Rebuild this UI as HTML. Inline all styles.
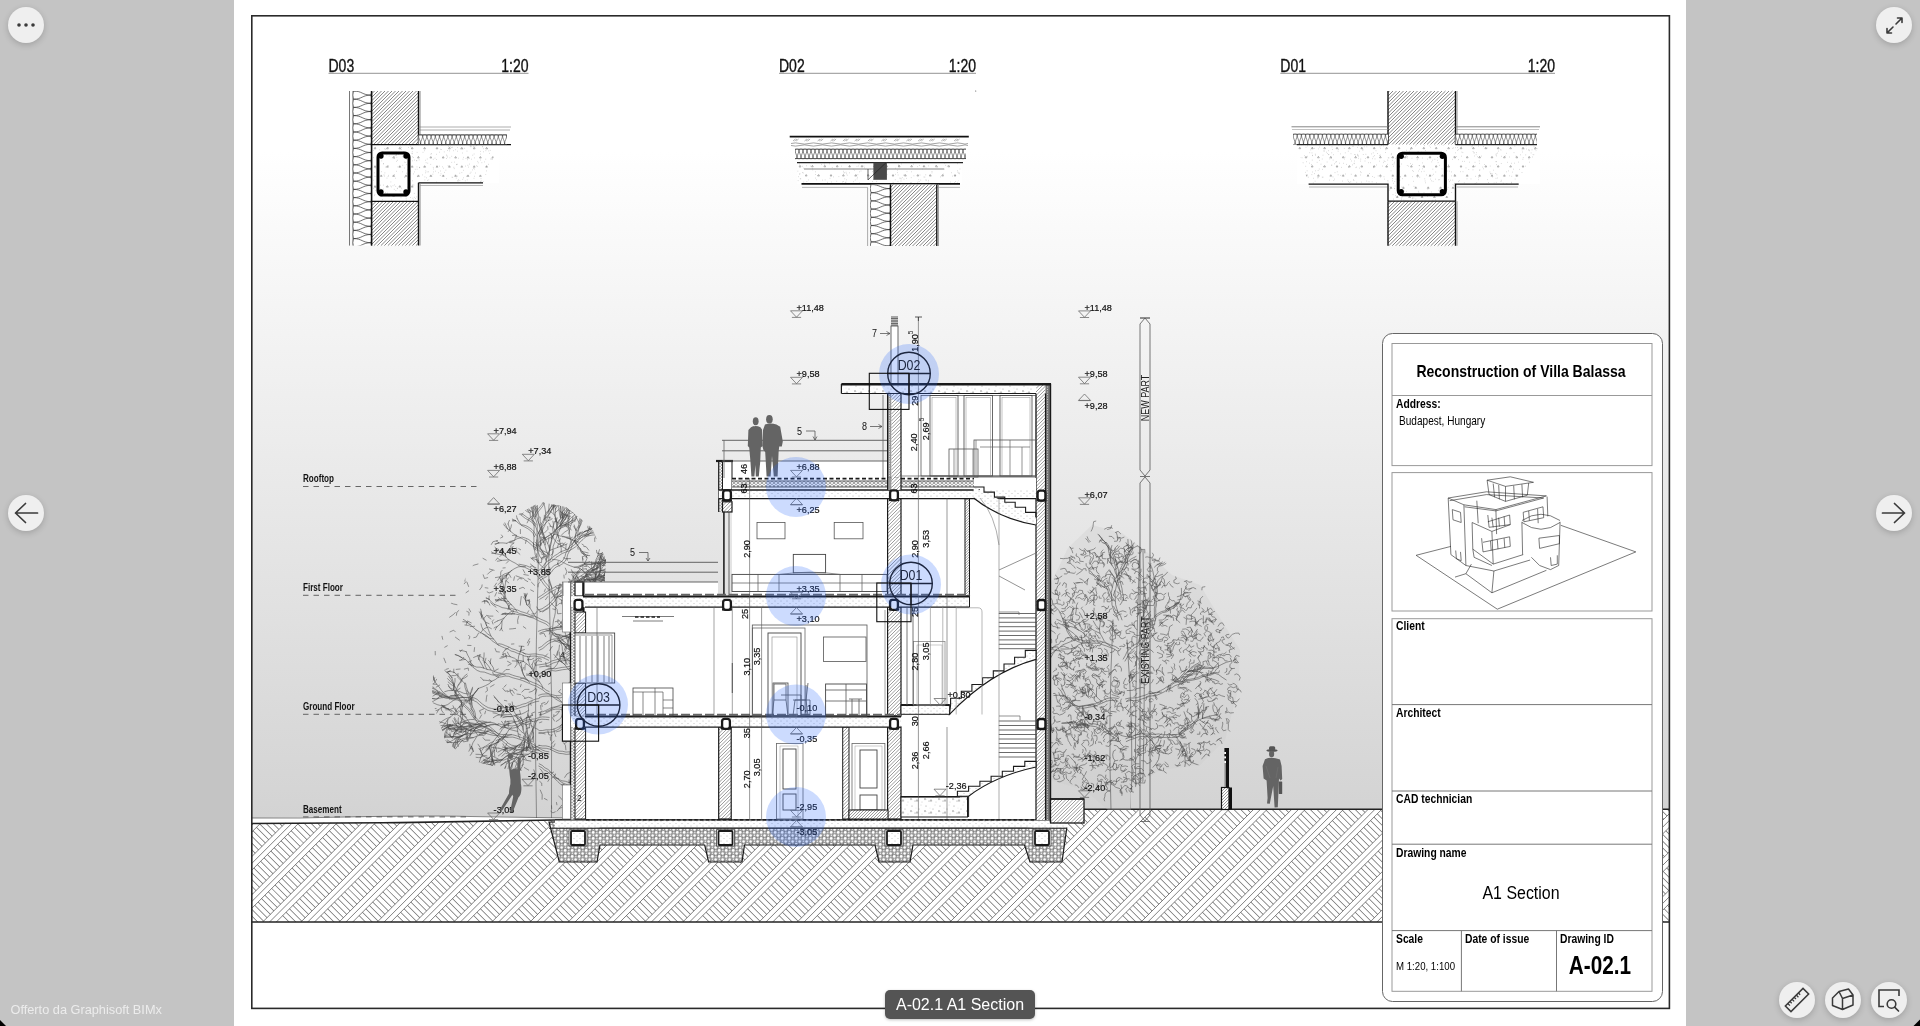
<!DOCTYPE html><html><head><meta charset="utf-8"><title>A-02.1 A1 Section</title><style>
html,body{margin:0;padding:0;width:1920px;height:1026px;overflow:hidden;background:#c4c4c4;font-family:"Liberation Sans",sans-serif;}
#page{position:absolute;left:234px;top:0;width:1452px;height:1026px;background:#fff;}
#dw{position:absolute;left:0;top:0;will-change:transform;}
.btn{position:absolute;width:36px;height:36px;border-radius:50%;background:#efefef;box-shadow:0 2px 6px rgba(0,0,0,0.18);}
.btn svg{position:absolute;left:0;top:0;}
#lbl{position:absolute;left:885px;top:990px;width:150px;height:29px;border-radius:5px;background:#545454;color:#fff;font-size:16px;line-height:29px;text-align:center;box-shadow:0 1px 3px rgba(0,0,0,0.25);}
#credit{position:absolute;left:10.5px;top:1001.8px;font-size:12.75px;color:#ececec;}
#cur{position:absolute;left:0;top:0;}
</style></head><body><div id="page"></div><svg id="dw" width="1920" height="1026" viewBox="0 0 1920 1026" font-family="Liberation Sans, sans-serif">
<defs>
<linearGradient id="sky" x1="0" y1="16" x2="0" y2="818" gradientUnits="userSpaceOnUse">
  <stop offset="0" stop-color="#ffffff"/>
  <stop offset="0.17" stop-color="#ffffff"/>
  <stop offset="1" stop-color="#d3d3d3"/>
</linearGradient>
<pattern id="earth" patternUnits="userSpaceOnUse" width="27" height="27" patternTransform="translate(0 6) rotate(-45)">
  <rect width="27" height="27" fill="#fff"/>
  <path d="M0 0H27M0 4.5H27M0 9H27M0 13.5H27M0 27H27" stroke="#555" stroke-width="0.75"/>
  <path d="M0.90 13.5V27M5.40 13.5V27M9.90 13.5V27M14.40 13.5V27M18.90 13.5V27M23.40 13.5V27" stroke="#555" stroke-width="0.75"/>
</pattern>
<pattern id="hatch" patternUnits="userSpaceOnUse" width="3" height="3" patternTransform="rotate(45)">
  <rect width="3" height="3" fill="#fff"/>
  <path d="M0 1.5H3" stroke="#555" stroke-width="0.8"/>
</pattern>
<pattern id="hatchD" patternUnits="userSpaceOnUse" width="3.2" height="3.2" patternTransform="rotate(45)">
  <rect width="3.2" height="3.2" fill="#fff"/>
  <path d="M0 1.6H3.2" stroke="#444" stroke-width="0.7"/>
</pattern>
<pattern id="dots" patternUnits="userSpaceOnUse" width="6" height="5">
  <rect width="6" height="5" fill="#fff"/>
  <circle cx="1" cy="1" r="0.45" fill="#777"/><circle cx="4" cy="3.5" r="0.45" fill="#888"/>
</pattern>
<pattern id="concrete" patternUnits="userSpaceOnUse" width="14" height="12">
  <rect width="14" height="12" fill="#fff"/>
  <circle cx="2" cy="2" r="0.5" fill="#888"/><circle cx="9" cy="5" r="0.5" fill="#999"/>
  <circle cx="5" cy="9" r="0.5" fill="#888"/><circle cx="12" cy="10" r="0.4" fill="#999"/>
  <circle cx="11" cy="1" r="0.4" fill="#aaa"/><circle cx="6" cy="4" r="0.35" fill="#aaa"/>
  <path d="M7 7.5l1 1.6h-2z" fill="none" stroke="#888" stroke-width="0.5"/>
  <path d="M1 6l1 1.6h-2z" fill="none" stroke="#999" stroke-width="0.5"/>
</pattern>
<pattern id="gravel" patternUnits="userSpaceOnUse" width="7" height="6">
  <rect width="7" height="6" fill="#9c9c9c"/>
  <circle cx="1.6" cy="1.5" r="1.25" fill="#fff"/>
  <circle cx="5.2" cy="4.4" r="1.35" fill="#fff"/>
  <circle cx="5.4" cy="1.2" r="0.7" fill="#eee"/>
  <circle cx="1.8" cy="4.6" r="0.8" fill="#ddd"/>
  <path d="M3.2 3.2l0.8-0.6M0 3l0.6 0.4" stroke="#333" stroke-width="0.5"/>
</pattern>
<pattern id="wave" patternUnits="userSpaceOnUse" width="4.5" height="9">
  <rect width="4.5" height="9" fill="#fff"/>
  <path d="M0 0C4.5 2.2 4.5 6.8 0 9M4.5 0C0 2.2 0 6.8 4.5 9" fill="none" stroke="#444" stroke-width="0.6"/>
</pattern>
<pattern id="waveH" patternUnits="userSpaceOnUse" width="5" height="9">
  <rect width="5" height="9" fill="#fff"/>
  <path d="M0 0.5C1 9 4 9 5 0.5M0 8.5C1 0 4 0 5 8.5" fill="none" stroke="#444" stroke-width="0.55"/>
</pattern>
<pattern id="insul" patternUnits="userSpaceOnUse" width="4" height="3">
  <rect width="4" height="3" fill="#fff"/>
  <ellipse cx="2" cy="1.5" rx="1.5" ry="1.1" fill="none" stroke="#555" stroke-width="0.5"/>
</pattern>
</defs>
<rect x="252" y="16" width="1417" height="802" fill="url(#sky)"/>
<path d="M252 818 L470 816 L560 818 L560 824 L252 823Z" fill="#fff"/>
<clipPath id="gclip"><path d="M252 823 L400 822.4 L570 819.5 L1084 809 L1669 809 L1669 922 L252 922Z"/></clipPath>
<path d="M252 823 L400 822.4 L570 819.5 L1084 809 L1669 809 L1669 922 L252 922Z" fill="#fff"/>
<g clip-path="url(#gclip)"><path d="M110 922L232 800M116.8 922L238.8 800M123.6 922L245.6 800M148.2 922L270.2 800M155 922L277 800M161.8 922L283.8 800M186.4 922L308.4 800M193.2 922L315.2 800M199.9 922L321.9 800M224.6 922L346.6 800M231.3 922L353.3 800M238.1 922L360.1 800M262.7 922L384.7 800M269.5 922L391.5 800M276.3 922L398.3 800M300.9 922L422.9 800M307.7 922L429.7 800M314.5 922L436.5 800M339.1 922L461.1 800M345.9 922L467.9 800M352.7 922L474.7 800M377.3 922L499.3 800M384.1 922L506.1 800M390.9 922L512.9 800M415.5 922L537.5 800M422.3 922L544.3 800M429.1 922L551.1 800M453.7 922L575.7 800M460.4 922L582.4 800M467.2 922L589.2 800M491.8 922L613.8 800M498.6 922L620.6 800M505.4 922L627.4 800M530 922L652 800M536.8 922L658.8 800M543.6 922L665.6 800M568.2 922L690.2 800M575 922L697 800M581.8 922L703.8 800M606.4 922L728.4 800M613.2 922L735.2 800M620 922L742 800M644.6 922L766.6 800M651.4 922L773.4 800M658.2 922L780.2 800M682.8 922L804.8 800M689.5 922L811.5 800M696.3 922L818.3 800M720.9 922L842.9 800M727.7 922L849.7 800M734.5 922L856.5 800M759.1 922L881.1 800M765.9 922L887.9 800M772.7 922L894.7 800M797.3 922L919.3 800M804.1 922L926.1 800M810.9 922L932.9 800M835.5 922L957.5 800M842.3 922L964.3 800M849.1 922L971.1 800M873.7 922L995.7 800M880.5 922L1002.5 800M887.3 922L1009.3 800M911.9 922L1033.9 800M918.6 922L1040.6 800M925.4 922L1047.4 800M950 922L1072 800M956.8 922L1078.8 800M963.6 922L1085.6 800M988.2 922L1110.2 800M995 922L1117 800M1001.8 922L1123.8 800M1026.4 922L1148.4 800M1033.2 922L1155.2 800M1040 922L1162 800M1064.6 922L1186.6 800M1071.4 922L1193.4 800M1078.2 922L1200.2 800M1102.8 922L1224.8 800M1109.6 922L1231.6 800M1116.4 922L1238.4 800M1141 922L1263 800M1147.8 922L1269.8 800M1154.5 922L1276.5 800M1179.1 922L1301.1 800M1185.9 922L1307.9 800M1192.7 922L1314.7 800M1217.3 922L1339.3 800M1224.1 922L1346.1 800M1230.9 922L1352.9 800M1255.5 922L1377.5 800M1262.3 922L1384.3 800M1269.1 922L1391.1 800M1293.7 922L1415.7 800M1300.5 922L1422.5 800M1307.3 922L1429.3 800M1331.9 922L1453.9 800M1338.7 922L1460.7 800M1345.5 922L1467.5 800M1370.1 922L1492.1 800M1376.9 922L1498.9 800M1383.6 922L1505.6 800M1408.2 922L1530.2 800M1415 922L1537 800M1421.8 922L1543.8 800M1446.4 922L1568.4 800M1453.2 922L1575.2 800M1460 922L1582 800M1484.6 922L1606.6 800M1491.4 922L1613.4 800M1498.2 922L1620.2 800M1522.8 922L1644.8 800M1529.6 922L1651.6 800M1536.4 922L1658.4 800M1561 922L1683 800M1567.8 922L1689.8 800M1574.6 922L1696.6 800M1599.2 922L1721.2 800M1606 922L1728 800M1612.7 922L1734.7 800M1637.4 922L1759.4 800M1644.1 922L1766.1 800M1650.9 922L1772.9 800M1675.5 922L1797.5 800M1682.3 922L1804.3 800M1689.1 922L1811.1 800" stroke="#555" stroke-width="0.75"/><path d="M135.9 922L257.9 800M174.1 922L296.1 800M212.3 922L334.3 800M250.5 922L372.5 800M288.6 922L410.6 800M326.8 922L448.8 800M365 922L487 800M403.2 922L525.2 800M441.4 922L563.4 800M479.6 922L601.6 800M517.7 922L639.7 800M555.9 922L677.9 800M594.1 922L716.1 800M632.3 922L754.3 800M670.5 922L792.5 800M708.7 922L830.7 800M746.8 922L868.8 800M785 922L907 800M823.2 922L945.2 800M861.4 922L983.4 800M899.6 922L1021.6 800M937.8 922L1059.8 800M975.9 922L1097.9 800M1014.1 922L1136.1 800M1052.3 922L1174.3 800M1090.5 922L1212.5 800M1128.7 922L1250.7 800M1166.9 922L1288.9 800M1205 922L1327 800M1243.2 922L1365.2 800M1281.4 922L1403.4 800M1319.6 922L1441.6 800M1357.8 922L1479.8 800M1396 922L1518 800M1434.1 922L1556.1 800M1472.3 922L1594.3 800M1510.5 922L1632.5 800M1548.7 922L1670.7 800M1586.9 922L1708.9 800M1625.1 922L1747.1 800M1663.3 922L1785.3 800M1701.4 922L1823.4 800" stroke="#666" stroke-width="17.6" stroke-dasharray="0.7 4.1"/></g>
<path d="M252 823.5 L400 822.6 L570 819.8" fill="none" stroke="#222" stroke-width="1.6"/>
<path d="M252 818 L300 818 Q420 815 470 816.5 L570 818" fill="none" stroke="#666" stroke-width="0.8"/>
<path d="M1084 809.2 L1669 809.2" fill="none" stroke="#222" stroke-width="1.5"/>
<path d="M252 922 H1669" stroke="#222" stroke-width="1.5"/>
<clipPath id="tc11"><path d="M540 502L566 507L592 528L606 560L604 590L575 600L575 818L530 818L530 772L500 768L470 760L446 742L432 700L434 650L450 605L476 560L505 522Z"/></clipPath>
<g clip-path="url(#tc11)" fill="none" stroke="#4a4a4a" stroke-width="0.55" stroke-linecap="round" stroke-linejoin="round"><path d="M545.7 513.1L549 509.9L551.8 506.1M551.8 506.1L554 506L556.2 506.3M551.8 506.1L553.3 505.1L554.9 504.1M545.3 520.7L545.3 516.9L545.7 513.1L545.2 509.4L544.5 505.6L543.3 502L542.7 498.3M540.9 488.3L542.1 486.1L542.6 483.8M542.7 498.3L541.5 493.3L540.9 488.3M540.9 488.3L541.4 486.1L542 484M540.9 488.3L540 486.1L538.9 484.1M556 505L557.7 505.1L559.4 505.3M551.1 510.2L553.7 507.7L556 505M556 505L557.3 504L558.2 502.8M556 505L556.2 503.4L556.6 501.8M560 498L561.2 497.5L562.4 497.2M555.4 502.8L557.6 500.3L560 498M560 498L561 496.8L562 495.7M560 498L561.5 497L563.1 496.3M546.2 517.1L549.1 514L551.1 510.2L553.4 506.6L555.4 502.8M555.4 502.8L556.4 499.2L556.9 495.5M556.9 495.5L556.8 493.8L557.1 492.1M552.9 494.2L554.7 494.1L556.5 494.3M549.4 502.9L551.3 498.6L552.9 494.2M552.9 494.2L554.3 492.9L555.6 491.5M552.9 494.2L552.9 492.3L553 490.4M548 513.8L548.8 510.2L548.9 506.5L549.4 502.9L550.3 499.3L551.2 495.7L551.9 492.1M551.9 492.1L549.8 489L548.7 485.5L547.6 481.9M547.6 481.9L548 479.6L548.6 477.4M547.6 481.9L547.9 478.9L549 476M550.9 482.1L549.5 481.1L548.4 479.7M551.9 492.1L551.3 487.1L550.9 482.1M550.9 482.1L550.9 479.7L551.5 477.3M550.9 482.1L549.6 479.7L547.9 477.5M561.4 494.2L562.3 493.4L563.2 492.6M558.8 499.9L560.2 497.1L561.4 494.2M561.4 494.2L562.4 493.1L563.6 492.1M553.1 503.9L556.2 502.3L558.8 499.9L560.8 497L562.1 493.7L563.2 490.4M568 484.1L568 482.6L567.7 481.2M563.2 490.4L565.1 486.9L568 484.1M568 484.1L569.4 482.8L570.6 481.3M568 484.1L569 482.4L569.5 480.5M561.4 482.9L565.6 483.1L569.7 483.1M569.7 483.1L571.7 482.3L573.7 481.6M569.7 483.1L571.3 483.7L572.9 484.2M560.7 472.6L559.9 469.9L559.8 467.2M563 479.5L562.4 475.9L560.7 472.6L559 469.2M559 469.2L557.6 466.9L555.8 464.9M556 497L556.6 493.3L558 489.8L559.7 486.4L561.4 482.9L563 479.5L563.7 475.8M563.7 475.8L560.9 472L557.4 468.8M557.4 468.8L555.6 467.1L553.3 465.9M564.8 464.1L564.2 461.8L562.9 459.7M563.7 475.8L564.6 472L564.5 468L564.8 464.1M564.8 464.1L563.7 462L563 459.7M557.1 483L553.9 479.9L550.7 476.8M550.7 476.8L549.2 475.4L547.5 474.4M550.7 476.8L549.1 475.1L547.4 473.4M556.1 479.1L558.8 475.4L560.3 471.2M560.3 471.2L561.6 469L563.4 467.3M560.3 471.2L562 469.4L563.2 467.3M559.9 490.7L558 487.1L557.1 483L556.1 479.1L554.3 475.4L553.1 471.4M553.1 471.4L551.5 468.2L549.9 465L549 461.5M549 461.5L550.3 459.1L552.1 456.9M549 461.5L549.5 458.9L550.3 456.3M553.1 471.4L550.7 467.8L549.3 463.8M549.3 463.8L547.7 462.4L546.6 460.5M549.3 463.8L548.1 461.9L546.8 460.1M540.2 534.8L541.9 531.5L543.4 528.1L545.1 524.7L546.5 521.3L547.3 517.6L549.2 514.4L551.2 511.2L553.1 508L554.2 504.4L555.9 501.1L557.1 497.6L558.7 494.2L561.1 491.3M538.1 533.8L539.8 530.5L541.3 527.1L543 523.7L544.4 520.3L545.2 516.6L547 513.4L549.1 510.2L551 507L552.1 503.4L553.8 500.1L555 496.6L556.6 493.2L559.9 490.7M584.2 480.3L585.7 481.5L587.3 482.5M576.7 478.3L580.4 479.6L584.2 480.3M584.2 480.3L585.8 481.4L587.2 482.8M559.9 490.7L562.5 488.3L565 485.9L567.9 484L570.8 482L574 480.5L576.7 478.3M576.7 478.3L580 476.8L583.2 474.9L586.5 473.3M586.5 473.3L588.7 472.1L590.8 470.5M582.4 473.5L585.2 473.3L588 473.8M576.7 478.3L579.3 475.6L582.4 473.5L586 472.3M586 472.3L588.2 472.9L590.4 473.6M586 472.3L588.4 472.2L590.8 471.8M580 485.6L582.8 482.8L585.8 480.3M585.8 480.3L586.3 478.3L586.3 476.3M585.8 480.3L587.3 478.8L588.5 477.1M559.9 490.7L563.9 489.6L568 488.7L571.8 486.9L575.8 486L580 485.6M580 485.6L584.1 483.1L588.7 481.8M588.7 481.8L591.3 481.5L593.7 480.6M588.7 481.8L590.8 481.7L593 481.9M580 485.6L584.3 487.7L587.9 490.9M587.9 490.9L590.2 491.8L592.6 492M587.9 490.9L588.9 493.1L589.6 495.4M555.9 521.7L556 519.9L556.1 518M557 529L556.8 525.3L555.9 521.7M555.9 521.7L556.6 519.8L557.2 517.9M555.9 521.7L555.5 520.1L555 518.5M559.8 526L561.5 521.5L562.8 516.9M562.8 516.9L563.5 514.4L564.8 512.2M562.8 516.9L562.7 514.3L562 511.8M544.3 539.4L547.4 536.7L550.7 534.2L554.2 532L557 529L559.8 526M563.7 518L564.5 515.9L565.1 513.7M559.8 526L561.2 521.7L563.7 518M563.7 518L565 516.3L566.7 515M559.8 526L562.7 522.8L565.3 519.3M565.3 519.3L566.4 517.5L567.2 515.5M565.3 519.3L565.9 517.6L567 516.2M574.8 540.7L575 542.3L575.7 543.8M566.7 537.8L570.9 538.9L574.8 540.7M574.8 540.7L576.4 541.7L578.2 542.4M574.8 540.7L576.6 541.2L578.3 541.3M553.3 533.9L556.7 534.7L560 536L563.5 536.4L566.7 537.8L570 539L573 540.7L575.9 542.7M582.9 553.6L585.4 554.5L587.9 555.4M575.9 542.7L578.3 546.3L580.2 550.2L582.9 553.6M582.9 553.6L585.2 555.5L587.2 557.8M582.9 553.6L584.8 555.4L586.9 557M580.3 548.5L580.7 551L581.7 553.2M575.9 542.7L577.9 545.8L580.3 548.5L582.3 551.6M582.3 551.6L585.2 552.2L588.1 552.9M582.3 551.6L584.2 553.2L585.9 554.9M592 508.6L593.3 509.2L594.5 510.1M584.7 512.3L588.1 510L592 508.6M592 508.6L593.2 507.2L594.5 505.7M592 508.6L593.2 507.3L594.7 506.1M595.9 510.2L600.3 511L604.8 510.9M604.8 510.9L606.8 509.5L608.8 508.2M577.2 513.5L580.9 512.6L584.7 512.3L588.4 511.3L592.2 511.1L595.9 510.2M603.7 509.7L604.7 511L605.4 512.4M595.9 510.2L599.8 510.4L603.7 509.7M603.7 509.7L605.3 508.9L606.8 508.1M603.7 509.7L605.4 509.3L606.9 508.4M595.9 510.2L600.3 508.1L604.8 506.2M604.8 506.2L606.8 506.6L608.7 507.5M604.8 506.2L606.8 505L609.1 504.3M586.4 484.9L588.3 485.6L590.2 486.4M580.6 489L583.5 486.9L586.4 484.9L589.5 483M589.5 483L592.1 482L594.4 480.4M589.5 483L592.2 482.2L595 481.9M579.9 511.1L580.4 507.4L580 503.7L579.9 500L579.4 496.3L579.9 492.6L580.6 489L580.8 485.2M580.8 485.2L580.2 481.6L580.7 478L580.4 474.3M580.4 474.3L580.6 471.6L580.2 469M578 475L579 473.3L580.4 471.9M580.8 485.2L579.6 481.9L578.2 478.6L578 475M578 475L577.3 472.5L576 470.3M578 475L578.3 472.5L577.8 470.1M540 544.8L542.4 542.1L545.3 540.2L548.3 538.3L551.5 536.9L554.3 534.7L556.4 531.9L559 529.4L561.7 527.2L564.6 525.1L567.8 523.6L570.7 521.6L573.1 519L576 516.9L578.2 514.2L580.9 511.9M538.2 543.4L540.5 540.7L543.5 538.8L546.5 536.9L549.7 535.4L552.5 533.3L554.6 530.4L557.1 528L559.9 525.7L562.7 523.7L566 522.2L568.8 520.2L571.2 517.6L574.1 515.5L576.4 512.8L579.9 511.1M601.1 487L602.7 486.4L604.4 486M594.7 492.4L598.2 490L601.1 487M601.1 487L602.5 485.5L604.2 484.3M601.1 487L602.7 486.1L604.3 485.5M579.9 511.1L581.7 507.5L584.3 504.5L587 501.6L589.1 498.1L592.1 495.4L594.7 492.4M597.2 485.7L599.3 484.6L601.6 483.9M594.7 492.4L595.5 488.9L597.2 485.7L599.8 483.2M599.8 483.2L602.1 483L604.4 483.4M599.8 483.2L601.1 481.4L602.5 479.6M594.7 492.4L596.7 488.9L597.9 485.2L599.6 481.5M599.6 481.5L600.4 478.7L600.6 475.8M586.6 508.5L588.8 505.8L591 503L592.6 499.8M592.6 499.8L594.6 498.2L596.8 496.9M603.6 506.3L605.5 505L607.1 503.2M593.4 505.8L598.5 506.5L603.6 506.3M603.6 506.3L606.2 507L609 507.3M603.6 506.3L606 506.9L608.2 508.1M596.2 503.6L596.3 500L596.9 496.5L598.1 493.1M598.1 493.1L600.2 491.7L602.7 490.9M579.9 511.1L583.1 509.6L586.6 508.5L590 507.3L593.4 505.8L596.2 503.6L599.4 501.9L602.1 499.5L605.1 497.3M607.1 490.5L606.3 488L605.3 485.5M605.1 497.3L606.3 494L607.1 490.5L608.5 487.2L610.4 484.2M610.4 484.2L613.4 482.1L616 479.4M610.4 484.2L613.1 482.2L616 480.4M608.5 490.4L607.6 486.7L606.8 483.1M605.1 497.3L606.7 493.8L608.5 490.4L610.2 486.8L611.8 483.3M611.8 483.3L612.6 480.3L613.8 477.3M611.8 483.3L613.1 479.9L614.8 476.7M550 555.2L547.1 552.8L543.7 551.2L540.6 549L538 546.3L534.6 544.6L531.8 542L528.9 539.6L525.5 538.1L521.9 537M548.2 556.7L545.3 554.3L541.9 552.6L538.8 550.5L536.2 547.8L532.8 546.1L530 543.5L527.1 541.1L523.7 539.5L520.9 537.8M510.5 531.3L509.4 527.7L508.1 524M508.1 524L508.6 522.1L509.4 520.4M520.9 537.8L517.1 536.2L513.7 533.9L510.5 531.3L507.4 528.7M502.9 522.9L501.4 522.4L499.9 522.4M507.4 528.7L504.7 526.1L502.9 522.9M502.9 522.9L501.5 522.3L499.9 521.9M502.9 522.9L502.6 521.2L501.9 519.7M507.4 528.7L505.8 525L504 521.3M504 521.3L504.5 519.2L505.4 517.3M520.9 537.8L517.2 538.7L513.8 540.5L510.1 541.4L506.8 543.3M498.8 542.9L497.7 541.8L496.3 541M506.8 543.3L502.9 542.9L498.8 542.9M498.8 542.9L497 543.5L495 543.8M498.8 542.9L497 543.6L495.2 544.5M584.6 563.5L585.8 561.1L586.9 558.7M574.2 567.2L577.8 566.6L581.2 565.1L584.6 563.5M584.6 563.5L587.5 564.1L590.4 564.4M584.6 563.5L587.2 562.8L589.5 561.7M584.7 564.6L587.9 566.2L590.6 568.5M578 567.8L581.2 566L584.7 564.6L588.4 564.3L592.1 564.2M592.1 564.2L595 563.6L598 563.6M592.1 564.2L595.5 563L598.8 561.6M552.4 559.4L556.3 559.7L560 560.8L563.5 562.6L566.9 564.4L570.5 565.9L574.2 567.2L578 567.8L581.5 569.5M590.2 581.6L589.4 585L588.5 588.3M581.5 569.5L584.6 571.9L587.2 574.6L589.1 578L590.2 581.6M590.2 581.6L590.3 585.1L591.3 588.4M590.2 581.6L589.9 585.3L590.7 588.8M586.2 575L586.8 578.1L588.2 580.9M581.5 569.5L584.3 571.9L586.2 575L589 577.4L592 579.3M592 579.3L594.1 581.8L595.7 584.5M592 579.3L595 581.9L597.7 584.7M560.5 545.2L557.2 543.1L554.7 540.1L552.7 536.8M552.7 536.8L551.2 534.6L549.4 532.6M553.2 526.7L553.9 524.2L554.5 521.6M558.7 537.8L557 534L554.8 530.5L553.2 526.7M553.2 526.7L553.4 523.9L552.9 521.2M555.3 512.6L557.3 510.8L559.3 509.1M557.2 522.8L555.7 519.6L555.2 516.1L555.3 512.6L555.5 509M555.5 509L554.4 506.1L553.1 503.3M555.5 509L557.2 506.5L558.6 503.8M561.1 552.7L561.3 548.9L560.5 545.2L559.7 541.4L558.7 537.8L558 534L556.8 530.4L556.9 526.6L557.2 522.8M564.6 515L567.6 515.8L570.6 516.2M557.2 522.8L559.3 519.9L562 517.5L564.6 515L566.8 512.1M566.8 512.1L566.8 508.9L566.6 505.8M554.5 515.2L552.2 512.7L549.3 510.9M557.2 522.8L556 519L554.5 515.2L553.6 511.3L553.3 507.3M553.3 507.3L552.9 503.9L553 500.5M576 530.2L577.2 527.8L578.7 525.6M574.8 541L575.2 537.4L576 533.8L576 530.2M576 530.2L575 527.6L574.2 525M576 530.2L574.7 528.3L573.8 526.3M578.1 539.2L581.2 535.4L584.3 531.6M584.3 531.6L586.3 531L588.3 530.6M584.3 531.6L586.7 530.4L589.2 529.7M589 529.2L589.6 527.1L589.8 525M585.1 535.9L587.4 532.7L589 529.2L591.3 526M591.3 526L592.1 523.1L592.8 520.1M568 550.2L569.5 546.6L572 543.7L574.8 541L578.1 539.2L581.6 537.5L585.1 535.9L588.6 534.2M588.6 534.2L592.3 532.5L596 530.7L599.9 529.3M599.9 529.3L601.8 526.6L603.1 523.6M599.9 529.3L601.3 526.9L602.6 524.5M588.6 534.2L591.4 531.8L594.2 529.5L597.3 527.5M597.3 527.5L598.5 525.3L600 523.3M597.3 527.5L599.1 525.9L600.7 523.9M598.4 528.3L600.3 527.4L602.1 526.5M595.8 534.8L597.6 531.8L598.4 528.3L599.2 524.8M599.2 524.8L599.3 521.9L600.2 519.2M610.6 523.6L613 522.1L614.9 520M603.2 534.2L606.2 531.1L608.8 527.6L610.6 523.6M610.6 523.6L613.4 522.6L616.1 521.4M610.6 523.6L613.4 521.9L616.4 520.7M610.7 534L614.7 534.9L618.1 537L621 539.9M621 539.9L623.3 541.5L625.5 543.2M621 539.9L622.1 542.6L623.3 545.3M584.6 536L588.4 535.9L592 535.1L595.8 534.8L599.5 534.7L603.2 534.2L607 533.8L610.7 534M621.5 537.9L623.1 539.7L624.5 541.8M610.7 534L614 536.1L617.6 537.5L621.5 537.9M621.5 537.9L624 537.3L626.6 537.5M610.7 534L613.5 536.2L616.2 538.5L619.4 540.2L622.4 542.1M622.4 542.1L625.8 543.9L629.7 544.7M622.4 542.1L624.8 544.8L627.9 546.7M540 572.3L543 570.2L545.2 567.3L547.3 564.3L550.2 562L553.4 560.2L555.9 557.5L559.1 555.6L562.1 553.5L565.5 552.2L569 551L572.1 549.1L575.2 547.1L578 544.7L580.2 541.8L583 539.5L585.6 536.9L588.9 535.1M538.2 570.8L541.2 568.7L543.4 565.8L545.5 562.8L548.4 560.5L551.6 558.7L554.1 556L557.3 554.2L560.2 552L563.7 550.7L567.2 549.5L570.3 547.7L573.4 545.6L576.2 543.2L578.4 540.3L581.2 538L583.8 535.4L587.9 534.3M609 528L611.5 529.3L613.6 531.1M601.7 531.7L605.2 529.5L609 528L613.1 527.4M613.1 527.4L615.3 529.2L616.9 531.6M613.1 527.4L615.2 524.9L618 523.2M605.2 532.1L608.2 535.1L611.9 537.1L615.9 538.4M615.9 538.4L618.4 539.9L621.1 540.8M615.9 538.4L618.8 539.2L621.8 539.7M587.9 534.3L591.2 533.3L594.7 532.9L598.2 532.1L601.7 531.7L605.2 532.1L608.7 532.1L612.1 533.2L615.5 534.3L618.9 534.9M618.9 534.9L622.9 532.9L626.4 530.3L630.1 527.7M630.1 527.7L633.1 526.7L636.2 525.6M630.1 527.7L633.3 527.7L636.6 527.4M618.9 534.9L623 536.2L627.1 537.5L631.3 538.2L635.6 538.3M635.6 538.3L639.9 540L644.6 540.6M635.6 538.3L639.2 539L642.9 539.1M538.9 563.3L537.5 561.2L536.2 559.1M544.6 568.5L541.5 566.2L538.9 563.3L536.8 560.1M536.8 560.1L534.2 558.9L531.5 558.3M546.3 561.1L544.4 556.3L542.7 551.4M542.7 551.4L540.5 550L538.8 548.1M546.5 557.2L544.2 553.8L541.5 550.6L540 546.8M540 546.8L537.3 544.7L535.1 542.2M540 546.8L540.5 543.6L540.9 540.5M547.7 553.6L546.1 550L545.1 546.1L543.7 542.4M543.7 542.4L541.9 539.9L540.8 537M543.7 542.4L543.2 539.7L543.2 537M557.5 547.5L558 545.3L558.9 543.3M561.4 546.1L563.2 544.3L565.2 542.7M549.8 550.3L553.7 549L557.5 547.5L561.4 546.1M561.4 546.1L564.3 545.1L567.1 543.9M561.4 546.1L564 547.6L566.4 549.3M545 576.2L545.1 572.3L544.6 568.5L545 564.7L546.3 561.1L546.5 557.2L547.7 553.6L549.8 550.3M549.8 550.3L550.4 546.4L551.4 542.6L551.4 538.7M551.4 538.7L551.5 535.9L551 533.2M551.4 538.7L552.7 536.6L553.7 534.4M547.7 543.6L548.5 540.8L548.9 537.8M549.8 550.3L548.9 546.9L547.7 543.6L546.2 540.4L544.1 537.5M544.1 537.5L542.5 535L541.6 532M544.1 537.5L543.4 533.7L542 530.1M569.1 533.7L569.6 529.8L570.5 526.1L572.1 522.5M572.1 522.5L572.2 519.6L573 516.9M571.2 544.2L570.9 540.7L570 537.2L569.1 533.7L569.1 530.1L568.3 526.6L568.3 523.1L569.1 519.6L568.8 516L569.3 512.4M572.3 504.6L574.2 501.6L576.1 498.5M573.7 496.2L574.8 493.4L576.3 490.6M569.3 512.4L571.1 508.6L572.3 504.6L572.8 500.4L573.7 496.2M573.7 496.2L575.9 492.2L579.1 488.8M573.7 496.2L573.1 491.7L572.2 487.3M578.9 527.8L578.8 523.2L579.9 518.7L581.5 514.5M581.5 514.5L582.1 511.2L583 508M580.2 524.3L577.8 520.5L575.7 516.5L573.4 512.6M573.4 512.6L572.4 509.9L571.8 507.2M573.4 512.6L570.8 511.1L568.1 510.1M585.7 500.9L584.8 497.3L583 494.1M581.2 516.9L582.5 513L584.2 509.2L585.1 505.1L585.7 500.9M585.7 500.9L584.6 496.9L584.4 492.8M585.7 500.9L586 496.6L586.9 492.3M590.4 497.1L593.4 496.4L596.3 495.2M581.2 509.5L583.1 506.2L585.2 502.9L588 500.2L590.4 497.1M590.4 497.1L592.9 494.8L595.4 492.3M590.4 497.1L591.1 493.8L591.7 490.6M579.9 506L576.9 503.4L574.1 500.6L570.6 498.7M570.6 498.7L567.8 498.3L565 497.9M570.6 498.7L567.6 498.1L564.9 496.6M574.9 538.2L575.6 534.5L577.3 531.2L578.9 527.8L580.2 524.3L580.6 520.6L581.2 516.9L581.6 513.2L581.2 509.5L579.9 506M568.4 496.1L565 495.5L561.7 494.3M579.9 506L577.5 503.1L574.7 500.5L571.7 498L568.4 496.1M568.4 496.1L565.5 495L562.4 494.5M568.4 496.1L566.6 493.3L564.1 491.1M581.9 521.1L580.8 516.7L580.7 512.1L579.8 507.7M579.8 507.7L579.2 504.9L577.9 502.3M593.9 508L596.2 506L597.9 503.4M596.9 505.6L599.6 505.9L602.4 505.6M583.8 513.5L587.1 511.6L590.6 510L593.9 508L596.9 505.6M596.9 505.6L600 504.1L603.1 502.4M596.9 505.6L599.8 504.3L602.9 503.7M577.7 536L578 532.1L579 528.3L580.8 524.8L581.9 521.1L582.4 517.2L583.8 513.5L584.5 509.6L585 505.7M590.1 499L590.3 495.6L590.1 492.2M594.8 492L598.2 489.6L601.9 487.7M585 505.7L587.9 502.6L590.1 499L592.9 495.8L594.8 492M594.8 492L598.6 490.5L601.8 487.8M589.6 498.8L591.8 496.7L593.3 494M585 505.7L587.4 502.4L589.6 498.8L590.5 494.7L591.3 490.6M591.3 490.6L593.8 487.5L596.3 484.4M591.3 490.6L593.7 487.2L596.2 483.8M595.6 524.6L595.3 519.6L594.6 514.6M594.6 514.6L593.7 512.5L592.5 510.5M594.6 514.6L596 512.2L597.7 510.1M613.6 521.1L614.8 523.7L615.7 526.5M601.4 520.4L605.5 520.6L609.6 520.2L613.6 521.1M613.6 521.1L616.5 522.7L618.8 525M613.6 521.1L616.5 522.2L619.3 523.5M614.7 513.4L616.2 511.2L618.2 509.5M618.7 512.8L620.6 511.5L622.7 510.5M607 515.9L610.8 514.4L614.7 513.4L618.7 512.8M618.7 512.8L621.4 514.3L623.8 516.3M587.5 531.6L590 529.1L593.1 527.2L595.6 524.6L598.5 522.4L601.4 520.4L604.2 518.1L607 515.9L610 513.9M610 513.9L613.4 512L616.3 509.3L619.4 506.8M619.4 506.8L622.2 505.6L625.1 504.8M615.2 508.7L616.6 505.4L618.7 502.5M618.2 506.6L618.8 503.1L618.5 499.5M610 513.9L612.9 511.6L615.2 508.7L618.2 506.6L621.6 505.2M621.6 505.2L624.6 504.8L627.5 503.7M540 580.7L542.8 578.5L546.1 577L548.8 574.7L551.4 572.2L553.4 569.3L556.1 567L559.4 565.6L562.5 563.8L565.1 561.3L566.8 558.2L567.6 554.7L569.2 551.5L571.1 548.5L572.2 545.1L573.8 541.8L575.9 539L578.7 536.8L582 535.4L585.3 534L588.5 532.4L591.4 530.3M538.2 579.3L541 577L544.2 575.6L547 573.2L549.5 570.8L551.6 567.8L554.3 565.5L557.6 564.1L560.7 562.4L563.2 559.9L564.9 556.7L565.8 553.2L567.4 550.1L569.3 547L570.3 543.6L571.9 540.4L574 537.5L576.9 535.3L580.2 534L583.4 532.5L586.6 530.9L590.4 529.5M602.3 505.6L601.5 502.3L599.8 499.3M601.6 519.4L602.4 516L603.1 512.5L603.2 509L602.3 505.6M602.3 505.6L601.9 502.7L601.3 499.7M602.3 505.6L601.2 502.1L600.2 498.6M602.3 504.9L601.6 502.2L600.1 499.8M605.9 513.1L604 509L602.3 504.9L602 500.4M602 500.4L602.2 497.6L602.7 494.9M602 500.4L603.5 497L604.2 493.4M613.6 504.8L615.8 501.2L616.8 497.2L617.4 493L617 488.9M617 488.9L617 484.3L618 479.8M617 488.9L615.4 485.6L614.7 482M615.9 501.8L620.3 500.8L624.8 500.9L629.2 500.2M629.2 500.2L631.8 502L634.5 503.6M629.2 500.2L632.3 500L635.4 499.8M590.4 529.5L593.3 527L596.6 525.2L599.3 522.4L601.6 519.4L603.7 516.2L605.9 513.1L608 509.9L610.5 507L613.6 504.8L615.9 501.8M624 501L625.4 498.2L626.2 495.3M615.9 501.8L620 501.4L624 501L628 501.2L632 501.4M632 501.4L635.1 502.5L637.9 504.3M632 501.4L635.9 502.4L639.9 502.4M623.1 492.9L624.5 488.6L624.9 484.1M626.4 490.9L630.5 492.3L634.7 493.3M615.9 501.8L617.8 498.4L620.2 495.4L623.1 492.9L626.4 490.9L629.4 488.5M629.4 488.5L631.6 485.7L634.2 483.4L637 481.4M629.4 488.5L632.8 486L635.8 483.1M613.5 516.4L617.5 516.8L621.5 517M617.2 514.8L619.6 512.7L621.8 510.5M607.4 521.7L610.4 518.9L613.5 516.4L617.2 514.8L620.7 512.7M620.7 512.7L623.9 512.6L627.2 512.4M620.7 512.7L623.6 510.6L627 509.5M624.7 519.5L627.4 518.8L630.1 518.9M611.2 522.1L615.5 520.4L620.1 520L624.7 519.5M624.7 519.5L628.4 519.2L632 518.9M624.7 519.5L628.4 519.8L632.1 519M590.4 529.5L593.9 528L597 525.9L600.3 524L603.7 522.3L607.4 521.7L611.2 522.1L614.9 523.1L618.5 524.1L622.3 524.9L626 524.6M632.8 526.4L635.2 528.7L638 530.5M642.5 530.5L644.3 533.2L646.7 535.2M626 524.6L629.5 525.1L632.8 526.4L636.1 527.6L639.3 529L642.5 530.5M642.5 530.5L645.8 531.8L649.1 532.8M632.9 519.8L637.3 521.2L641.8 522M636.6 518L638.3 514.1L639.4 510M640.2 515.8L644.5 516.8L648.7 518.2M642.9 512.7L644.3 507.9L645.3 503.1M626 524.6L629.7 522.5L632.9 519.8L636.6 518L640.2 515.8L642.9 512.7M642.9 512.7L646.1 510.7L648.8 508.2L651.1 505.3M642.9 512.7L646.4 509.5L650 506.4M511.8 570.3L509.2 573.1L506.5 575.6M506.5 575.6L506.5 577.2L506.1 578.8M506.5 575.6L505.5 577.3L504.4 578.9M525.4 566.6L521.8 566.4L518.2 566.9L514.9 568.4L511.8 570.3L508.9 572.5M508.9 572.5L505.7 575.5L502.9 579M502.9 579L501.5 580L500.1 581.2M502.9 579L501.7 580.7L500.8 582.6M508.9 572.5L504.2 574.1L500.1 576.8M500.1 576.8L498.9 578.7L497.7 580.4M500.1 576.8L497.8 577.2L495.4 577.6M549.9 588.1L547.7 585.2L545.2 582.4L543.1 579.4L541.1 576.3L538.4 573.8L535.9 571.1L532.7 569.3L529.7 567.2L526.3 565.7L522.7 564.9L519.1 564.2M548.3 589.7L546 586.8L543.6 584.1L541.5 581L539.4 577.9L536.7 575.4L534.3 572.7L531.1 570.9L528 568.8L524.7 567.3L521 566.6L518.2 565.1M508.9 559.7L505 560.2L501.2 560.4M501.2 560.4L499.3 561L497.3 561.2M501.2 560.4L499.3 559.6L497.8 558.2M503.5 551.5L502.3 551.4L501 551.1M506.2 557.2L505.2 554.2L503.5 551.5M503.5 551.5L502.4 550.8L501.2 550.4M503.5 551.5L503.2 550L502.9 548.5M518.2 565.1L515.2 563.1L512 561.5L508.9 559.7L506.2 557.2L503.4 555M503.4 555L499.4 554.4L495.4 553.6M495.4 553.6L493.6 553.4L491.9 553.5M495.4 553.6L493.3 552.9L491.4 551.9M503.4 555L500.4 552.5L498.2 549.2M498.2 549.2L496.4 548.5L494.9 547.2M576.6 590.6L578 592.9L578.9 595.4M568.1 583.8L571.4 585.5L573.9 588.1L576.6 590.6L579.4 593M579.4 593L582.8 593.7L586 595M579.4 593L582.4 594.6L585.3 596.2M584.9 577.4L586.5 573.7L588.4 570.1M592.2 570.1L595.4 568.9L598.7 567.5M578.9 581.1L581.8 579L584.9 577.4L588 575.7L590.4 573.2L592.2 570.1M592.2 570.1L591.3 566L591.5 561.9M599.1 578.8L602.8 580.1L606.5 581.4M582.2 579.2L586.4 579.5L590.7 580L594.9 579.5L599.1 578.8M599.1 578.8L602.6 576L605.3 572.5M599.1 578.8L602.2 577.3L604.8 575.1M597.3 563.5L601.4 563.7L605.4 562.8M585.2 577.1L586.8 573.7L589.1 570.9L591.9 568.4L594.3 565.6L597.3 563.5M597.3 563.5L599.6 560.1L601.1 556.2M597.3 563.5L601.7 562.2L605.6 559.8M561 585.7L564.4 584.2L568.1 583.8L571.8 583.2L575.3 581.9L578.9 581.1L582.2 579.2L585.2 577.1L588.8 575.9L592.4 575.1L596.2 574.8M603.3 577L604.6 580.1L605.3 583.3M596.2 574.8L599.7 576L603.3 577L606.7 578.4L610.3 579.4L614 580M614 580L618.1 579.9L622.3 579.9M614 580L617.8 580.9L621.3 582.6M594.7 593.1L596 596.1L596.4 599.4M581.8 581.2L584.2 583.8L586.2 586.8L588.7 589.3L591.6 591.4L594.7 593.1M594.7 593.1L597 596L599.8 598.3M594.7 593.1L598.5 596L601.5 599.8M585.3 582.3L588.3 585.6L590.3 589.7L592.9 593.2M592.9 593.2L594.9 595.8L596.7 598.4M592.9 593.2L592.6 596.5L591.9 599.8M621.5 600.4L623.4 604.5L625.5 608.4M607.5 595.8L610.8 597.4L614.4 598.5L618 599.3L621.5 600.4L625.3 600.5M625.3 600.5L629.2 599.4L633.2 598.3M625.3 600.5L629.3 602.4L633.4 604.4M574.4 580.6L578.1 580.6L581.8 581.2L585.3 582.3L588.4 584.4L591.5 586.4L594.8 588.2L597.7 590.4L601 592.2L604.5 593.6L607.5 595.8M609.4 603.2L612.8 605.3L616.3 607M611.3 606.5L610.5 610.8L610.7 615.2M613.5 613.9L611.9 617.9L610.2 621.8M607.5 595.8L608.3 599.5L609.4 603.2L611.3 606.5L612.6 610.2L613.5 613.9M613.5 613.9L615.5 617.3L616.9 621M613.5 613.9L615.6 618.3L618.8 622M596.1 568.3L598.1 564.6L601.1 561.7L603.5 558.2M603.5 558.2L604.7 555.1L606.7 552.4M603.5 558.2L605.3 555.8L607.1 553.4M601.6 558.9L600.1 555.9L598 553.3M598.9 566.1L600.1 562.4L601.6 558.9L602.8 555.2L604.4 551.7M604.4 551.7L606.2 548.8L607.3 545.7M604.4 551.7L607 548.4L610.1 545.6M604.4 561.8L606.8 558.8L609.7 556.1L612.1 553.1L614.2 549.9M614.2 549.9L614.4 546.7L615.3 543.7M607.1 559.5L611.3 559.9L615.4 561.2L619.3 563M619.3 563L621.7 564L623.8 565.4M622 563.1L623.1 565.2L624.7 566.9M610.2 557.8L614.4 558.8L618.4 560.7L622 563.1M622 563.1L625.2 564.6L628.1 566.6M622 563.1L623.3 566.1L624.3 569.1M621.4 554.5L624 552.9L626.6 551.4M612.7 555.3L617 554.5L621.4 554.5L625.6 555.6M625.6 555.6L628.4 554.9L631.3 554.6M625.6 555.6L628.6 557.1L631.4 558.9M586.6 572.8L589.7 571.2L592.9 569.8L596.1 568.3L598.9 566.1L601.6 563.8L604.4 561.8L607.1 559.5L610.2 557.8L612.7 555.3L615.3 553M622.1 550.8L624.5 548.7L627.1 546.7M629.3 550.4L632.1 548.8L634.9 547.2M615.3 553L618.6 551.6L622.1 550.8L625.7 550.7L629.3 550.4M629.3 550.4L632.3 551.6L635.2 552.7M629.3 550.4L632.7 551.9L635.7 553.8M615.3 553L617.6 550.3L619.8 547.5L622.6 545.1L625.2 542.7M625.2 542.7L628.1 540.7L631.5 539.6M625.2 542.7L628.7 541.6L631.8 539.8M605 552.6L607.2 549.1L609.6 545.6L610.9 541.6M610.9 541.6L610.9 538.9L611.6 536.4M610.9 541.6L612.1 539.3L613.5 537.1M592.8 569.1L594 565.8L595.9 562.8L597.2 559.5L599.4 556.8L602.2 554.8L605 552.6L607.9 550.6L610.6 548.4L612.7 545.5M612.7 545.5L616.9 544.3L621.3 544.1L625.6 542.8M625.6 542.8L628.4 541L630.8 538.7M625.6 542.8L628.1 541.7L630.8 541.2M624.4 540.2L627 537.9L629.5 535.6M612.7 545.5L616.6 543.7L620.5 542L624.4 540.2L628.5 538.7M628.5 538.7L632.3 538.7L636 538.4M599 565.3L601.3 562.6L603.6 559.8L605.7 556.9L607.9 554L610.5 551.6L613 549L615.1 546.1L616.9 543M619.6 535.2L622.2 535.1L624.8 535.3M616.9 543L617.8 539L619.6 535.2L621.9 531.8M621.9 531.8L622.6 529.1L624.1 526.7M621.9 531.8L622.7 528.7L622.6 525.5M616.9 543L616.6 539.1L617.2 535.2L617.7 531.3L618 527.4M618 527.4L617.4 523.3L617.3 519.2M618 527.4L619.6 524.3L621 521.1M630.7 565.6L633.4 562.8L636.6 560.5M634.6 564.8L637.6 565.5L640.8 565.5M619.3 563L623.2 563.6L626.8 565.1L630.7 565.6L634.6 564.8M634.6 564.8L637.8 565.1L641.1 564.7M634.6 564.8L638.1 565.2L641.6 564.9M630 562.8L632 564.9L633.7 567.1M622.9 564L626.4 563.2L630 562.8L633.3 561.5L636.7 560.4M636.7 560.4L640.1 560.3L643.5 560.7M636.7 566.3L639.2 567.2L641.7 568M626 566L629.6 565.9L633.2 565.6L636.7 566.3L640.2 567.1M640.2 567.1L643.9 567.1L647.5 566.2M640.2 567.1L643.8 567L647.4 566.8M604.7 560.8L608.3 561.6L612 561.5L615.7 562.2L619.3 563L622.9 564L626 566L629.3 567.8L632.8 568.9L635.9 571L639.2 572.8M651 583L654.2 582.8L657.3 581.9M639.2 572.8L642.1 575.4L645.2 577.8L647.9 580.6L651 583M651 583L654.8 584.3L658.2 586.6M651 583L654.1 585.4L657.8 587M618.4 542.9L617.3 540.1L615.6 537.6M621.7 540.4L621.5 537.8L621.1 535.3M612.8 548.8L615.6 545.9L618.4 542.9L621.7 540.4M621.7 540.4L624.1 540L626.6 540.1M621.7 540.4L624.3 538.5L627.1 537.1M619.9 535.3L619.6 532.8L619.4 530.3M615.7 541.9L617.9 538.7L619.9 535.3L621.5 531.7M621.5 531.7L622.9 529.5L624.7 527.7M621.5 531.7L622.5 529.5L623.2 527.1M607.7 558.8L609.4 555.5L611.4 552.3L612.8 548.8L614.7 545.6L615.7 541.9L616.9 538.4L618.5 535L619.3 531.3M619.3 531.3L619.6 527.2L619.2 523.2L617.9 519.3M617.9 519.3L616.4 517.2L614.9 515.1M617.9 519.3L618 516L618.4 512.7M619.3 531.3L617.7 527L617.1 522.4L615.6 518M615.6 518L617 515.1L618.8 512.5M539.8 599.2L542.9 597.3L545.9 595.2L548.8 593.1L552 591.3L555.2 589.6L558.3 587.7L561.8 586.7L565.4 586.1L568.9 585.3L572.1 583.6L575.2 581.6L578.4 579.9L581.6 578.3L584.6 576.2L587.4 573.8L590.3 571.7L593.6 570.1L596.7 568.3L599.8 566.3L602.4 563.8L605.5 561.8L608.5 559.8M538.4 597.4L541.4 595.5L544.4 593.4L547.4 591.3L550.5 589.4L553.7 587.8L556.8 585.8L560.3 584.9L563.9 584.2L567.5 583.5L570.7 581.7L573.7 579.8L576.9 578L580.2 576.4L583.2 574.4L585.9 572L588.9 569.8L592.1 568.3L595.3 566.4L598.3 564.5L600.9 561.9L604 560L607.7 558.8M626.2 540.3L627.1 535.5L627.2 530.6M618.4 543.5L622.3 542L626.2 540.3L629.3 537.6L633.1 535.9L636.8 533.9M636.8 533.9L640.6 532.1L644.7 530.8M636.8 533.9L641.5 532.5L646.4 532.5M622.1 530.3L625 527.2L628.5 525M621.3 541L620.8 537.4L621.2 533.8L622.1 530.3L623 526.8L624.9 523.7M624.9 523.7L628.7 521.6L633 520.8M624.9 523.7L628.7 520.7L632.5 517.7M624.1 538.4L626.6 535L628.3 531.2L629.5 527.2L629.8 523M629.8 523L631.6 519.7L632.6 516.2M626.2 525.4L623.8 523.9L621.7 522.1M629 532.6L627.6 529L626.2 525.4L625.5 521.6L624.5 517.9M624.5 517.9L622.2 514.9L619.5 512.3M624.5 517.9L622.7 514.1L620.8 510.4M607.7 558.8L609.1 555.3L611.2 552.1L613 548.8L615.4 545.9L618.4 543.5L621.3 541L624.1 538.4L626.8 535.8L629 532.6L630.5 529.1L631.9 525.6M634.7 518.1L632.6 514.4L631 510.5M635.4 514.2L633 511.3L630.4 508.8M631.9 525.6L633.7 522L634.7 518.1L635.4 514.2L636.5 510.3L637.3 506.4M637.3 506.4L636.3 503L635.7 499.5L636.1 496M637.3 506.4L637.7 502.1L639.1 498M580.4 597.3L583.3 596.4L586.2 596M572.9 593.6L576.8 595.2L580.4 597.3L583.5 600.2M583.5 600.2L586.1 601.8L588.5 603.6M576.2 592.3L577.2 587.4L577.1 582.4M577.1 582.4L577.6 580.2L578 577.9M555.6 597.4L559 596.3L562.4 595.3L565.8 594.5L569.4 594.1L572.9 593.6L576.2 592.3L579.7 591.8L583.3 591.8M583.3 591.8L586.7 593.3L590 595.1L592.5 597.8L595.1 600.5M595.1 600.5L597.5 602.7L599.8 605M595.1 598.6L597.7 597.3L600.4 596.6M583.3 591.8L587.3 594L591.6 595.7L595.1 598.6M595.1 598.6L598.2 599.9L601 601.7M595.1 598.6L597.9 600L600.9 600.9M571 583.6L570.1 581.1L568.8 578.8M567.6 589.7L569.4 586.7L571 583.6L571.9 580.2L573.4 577M573.4 577L575.7 573.9L578 570.9M573.4 577L572.9 573.2L571.4 569.7M570.6 587.4L574.7 588.3L578.8 588.9L582.9 589.4L586.9 588.6M586.9 588.6L589.8 585.6L592.9 582.6M586.9 588.6L590.1 587.6L593.3 586.4M575.6 577.1L577.5 575.1L579.3 572.9M577.2 573.2L579.3 571.8L581.1 570M573.8 585.4L574.9 581.3L575.6 577.1L577.2 573.2M577.2 573.2L578.7 570.9L580.1 568.5M580.8 582.3L584.9 582.4L589 582.7L593.1 583.4M593.1 583.4L596.4 583L599.8 583.1M584.3 580.9L588.4 580.7L592.3 579.5L595.8 577.4L599.6 575.8M599.6 575.8L602.8 573.1L606.4 570.8M599.6 575.8L603.2 575.9L606.6 575.2M587.8 579.5L591.8 580L595.9 580.2L600 580.1L604 580.5M604 580.5L608.1 582.3L611.7 584.9M604 580.5L608 579.7L612 579.9M560.4 592.1L564.1 591.2L567.6 589.7L570.6 587.4L573.8 585.4L577.2 583.5L580.8 582.3L584.3 580.9L587.8 579.5L591.6 579M603.7 575.5L606.5 577.3L609.7 578.2M591.6 579L595.7 578.2L599.7 576.9L603.7 575.5L607.8 575.4M607.8 575.4L612.4 575.1L616.9 574.2M607.8 575.4L612.2 575.6L616.6 575.5M591.6 579L595.8 579.8L600.2 580.1L604.5 579.7L608.8 580.2M608.8 580.2L612.4 579.3L616 578.1M608.8 580.2L612.6 578.3L616 575.7M580.4 585.8L583.7 588.8L587.3 591.6L590.9 594.2M590.9 594.2L593.2 597L594.6 600.3M590.9 594.2L593.9 595.9L596.8 597.7M592.7 594.4L595.7 594.6L598.8 594.9M584 585.9L587 588.7L589.4 592L592.7 594.4M592.7 594.4L596 594.6L599.3 595M592.7 594.4L594.9 596.7L597.7 598.2M596.7 577.6L599.8 577.6L602.9 578.1M587.5 585.3L590.5 582.7L593.9 580.5L596.7 577.6L599.5 574.8M599.5 574.8L600.4 571.1L601 567.4M599.5 574.8L600.2 571.5L600.5 568M569.6 586.2L573.2 586L576.8 585.4L580.4 585.8L584 585.9L587.5 585.3L591 584.3L594.5 583.4L598 582.5L601.4 581.3M601.4 581.3L604.3 578.8L607 576.3L609.7 573.6L611.5 570.3M611.5 570.3L613.4 567.7L614.7 564.8M604.4 574.9L605.3 571.8L607.2 569M601.4 581.3L603.3 578.3L604.4 574.9L605.8 571.7L606.4 568.2L606.9 564.7M606.9 564.7L607 560.8L607.2 557M600.8 570.6L604.3 571L607.6 572.2M587.4 574.5L590.9 574.6L594.3 573.5L597.6 572.1L600.8 570.6M600.8 570.6L603.7 569.7L606.4 568.2M590.5 572.7L595.1 572.2L599.5 570.8L604.1 570.1M604.1 570.1L606.8 568.9L609.3 567.6M593.6 570.9L594.3 567.1L595.1 563.4L596 559.6L597.7 556.2M597.7 556.2L598.5 552.9L599.5 549.6M597.7 556.2L600.8 553.8L604 551.4M596.7 569L597.8 565.4L599 561.7L600 558.1M600 558.1L600.5 555.8L601.4 553.5M600 558.1L601.5 555.4L602.7 552.5M602.8 565.3L606.8 566L610.6 567.2L614.6 567.7M614.6 567.7L616.3 570.3L617.7 573.1M576.4 583.4L578.4 580.5L581.2 578.2L584.3 576.4L587.4 574.5L590.5 572.7L593.6 570.9L596.7 569L599.7 567.2L602.8 565.3M608.6 556.5L611 555.2L613.4 553.9M602.8 565.3L605.1 562.6L606.9 559.6L608.6 556.5L610.4 553.5M610.4 553.5L610.9 550.3L611.4 547.1M610.4 553.5L610 549.6L608.9 545.9M602.8 565.3L606.1 563.1L609.7 561.8L613.6 561L617.4 560.2M617.4 560.2L619.3 557.5L622 555.5M617.4 560.2L621 561L624.2 562.7M609.7 584.7L612.6 583.1L615 580.8M602.6 583.1L606 584.5L609.7 584.7L613.4 585.3L617 585.9M617 585.9L620.5 584L624.2 582.7M593.6 577.8L596.8 579.3L600 580.7L602.6 583.1L604.9 585.7L607.5 588.1L610.1 590.5L613.2 592L616.5 593.3L619.8 594.5M634.2 603.1L637.2 602.1L640.2 600.9M619.8 594.5L623.5 596.5L626.9 599L630.4 601.2L634.2 603.1M634.2 603.1L637.6 604.5L640.9 606M634.2 603.1L636.9 606.1L639.1 609.6M610.5 558.3L614.5 556.6L618.6 555.4L622.8 555.1M622.8 555.1L626 556.1L628.8 557.8M619.2 546.1L619.2 543.1L618.3 540.1M612.2 554.7L615.1 552.4L617.2 549.3L619.2 546.1L621.2 543M621.2 543L623 539.5L625.6 536.5M613.4 551L616.4 548.6L619.8 546.7L622.5 543.8L625.6 541.5M625.6 541.5L627.6 537.9L629.4 534.1M625.6 541.5L627.3 537.8L628.2 533.9M597.2 577.5L599.1 574L600.7 570.4L602.7 567.1L605.1 564L608 561.3L610.5 558.3L612.2 554.7L613.4 551M621.3 546.9L624.3 546.8L627.2 546M613.4 551L617.1 548.5L621.3 546.9L625.2 544.8M625.2 544.8L628 544.8L630.8 545.3M625.2 544.8L627.3 542.4L629.6 540.2M619.6 545.6L619.6 541.7L619.7 537.7M621.6 542.1L621 538.4L620.5 534.6M613.4 551L616.8 548.6L619.6 545.6L621.6 542.1L624.4 539.1M624.4 539.1L626.2 535.5L627.7 531.9M624.4 539.1L626.2 535.7L628.5 532.8M539.7 611.8L543.2 610.9L546.2 608.8L549.3 606.9L551.7 604.2L554.4 601.7L556.2 598.6L558.2 595.5L561.1 593.2L564.2 591.3L567.4 589.5L570.3 587.3L573.6 585.9L577 584.6L580.3 583L583.9 582.6L587.3 581.2L590.8 580.1L594.3 578.9L597.9 578.6L601.5 578.8L605.2 579M538.5 609.8L542 608.8L545 606.8L548.1 604.8L550.5 602.1L553.2 599.7L555.1 596.5L557 593.5L559.9 591.2L563 589.3L566.2 587.5L569.1 585.3L572.5 583.9L575.8 582.5L579.1 581L582.8 580.6L586.2 579.2L589.6 578.1L593.1 576.9L596.7 576.6L600.4 576.7L604.5 577.9M619.9 579.2L623.8 576.9L627.1 573.7L630 570.1M630 570.1L632.8 568.5L635.9 567.3M630 570.1L631.2 567.5L631.6 564.5M642.2 576.4L644.2 573.7L646 570.8M649.4 574.3L652.5 575.3L655.7 575.6M635.4 579.4L638.6 577.5L642.2 576.4L645.8 575.3L649.4 574.3M649.4 574.3L652.8 572.7L655.6 570.2M649.4 574.3L653 574.9L656.3 576.2M604.5 577.9L608.2 579L612.1 579.3L616 579.2L619.9 579.2L623.7 579.2L627.6 579.2L631.5 579.5L635.4 579.4M643.5 579.4L647.3 580.8L651.1 582.4M635.4 579.4L639.5 579.9L643.5 579.4L647.3 577.7L651.1 576.2M651.1 576.2L654.8 573.6L659 572M651.1 576.2L654.2 574.8L657.5 573.9M635.4 579.4L638.2 582.1L641.4 584.3L644.9 586L648.6 587.4M648.6 587.4L652.4 587.9L656 589.3M619.4 569.1L619.2 565.6L618.1 562.3M615 575.4L617 572.1L619.4 569.1L620.8 565.5L623.1 562.5L625.2 559.2M625.2 559.2L628 554.8L631 550.5M625.2 559.2L626.8 554.5L627.1 549.5M638.4 570.2L639.8 567L640.6 563.7M639.9 562.7L639.1 558.8L637.9 554.9M636.7 577.6L638.1 574L638.4 570.2L638.6 566.4L639.9 562.7L641.5 559.2M641.5 559.2L645.3 556.4L649 553.5M604.5 577.9L607.8 576.2L611.3 575.2L615 575.4L618.6 576L622.2 575.8L625.8 576.7L629.4 577.3L633 577.8L636.7 577.6L640.3 578.5L643.8 579.3M655.2 581.8L659.6 580.7L663.9 579.3M643.8 579.3L647.6 580.5L651.3 581.7L655.2 581.8L659.1 581.2L662.9 580.6M662.9 580.6L667.1 579.1L671.1 577.2M662.9 580.6L666.5 582.8L670.3 584.6M529.9 607.8L530 604.8L529.2 601.9M529.2 601.9L529 600.6L529.1 599.4M536.7 618.5L534.3 615L532.2 611.4L529.9 607.8L526.9 604.8M525.4 597.5L524.7 596.3L524.4 594.9M526.9 604.8L525.6 601.3L525.4 597.5M525.4 597.5L525.3 595.6L525.4 593.7M525.4 597.5L526 596.1L526.6 594.7M526.9 604.8L525.9 600.8L525.7 596.7M525.7 596.7L525.1 594.9L524.1 593.3M525.7 596.7L526.7 595.1L527.2 593.3M533.5 617L529.6 616.5L525.8 615.5L521.9 615.1L518.1 614.6L514.3 613.8M514.3 613.8L509.7 613.8L505.2 613.2M505.2 613.2L503.1 613.6L501.2 614.5M514.3 613.8L510.1 614L505.9 614.1M505.9 614.1L504.2 614.1L502.4 614.3M505.9 614.1L504.3 613.8L502.6 614M511.5 604.8L507.7 603.3L504.4 600.8M504.4 600.8L503 599.2L501.6 597.6M504.4 600.8L504 598.8L503.4 596.9M508.7 601.7L504.9 601.1L501.2 600.1M501.2 600.1L499.2 600.3L497.2 600.2M501.2 600.1L499.7 599.1L498.6 597.6M505.9 598.6L502.1 598.6L498.4 599.7M498.4 599.7L497 600.9L495.7 602M498.4 599.7L496.8 599.7L495.3 599.5M516.9 611.1L514.3 607.8L511.5 604.8L508.7 601.7L505.9 598.6M505.9 598.6L503.7 596.1L501.3 593.8M501.3 593.8L499.9 593.4L498.4 593M501.3 593.8L500.5 592.4L499.4 591.2M505.9 598.6L505.2 594.6L503.9 590.6M503.9 590.6L502.3 589.3L500.4 588.6M503.9 590.6L504.6 589L504.9 587.2M504.2 617.9L501.1 619.6L497.8 620.8M497.8 620.8L496.1 621.7L494.5 622.6M513.4 610.5L509.9 612.4L506.9 615L504.2 617.9L501.9 621.1M501.9 621.1L501.9 624.7L501.5 628.2M501.5 628.2L500.6 629.4L499.9 630.7M501.5 628.2L501.8 629.6L502.6 630.9M501.9 621.1L499.9 624.3L496.9 626.8M496.9 626.8L496 628.2L495.4 629.8M496.9 626.8L495.4 627.2L494.1 628M510.1 609.1L506.1 608.3L502.1 607.6L498.4 605.8L494.6 604.5M489.1 599.3L489 597.6L489.2 595.9M494.6 604.5L491.6 602.2L489.1 599.3M489.1 599.3L487.7 598.5L486.1 598.1M489.1 599.3L487.6 598.7L486.3 597.9M549.7 624.1L547 621.9L543.8 620.5L540.5 619.1L537.4 617.4L534.2 616L530.8 615.2L527.5 613.7L524.2 612.5L520.8 611.6L517.6 610L514.1 609.4L510.9 608.1M548.4 626L545.7 623.8L542.4 622.4L539.2 621.1L536.1 619.4L532.9 617.9L529.4 617.1L526.2 615.6L522.9 614.4L519.5 613.5L516.3 612L512.8 611.4L510.1 609.1M504.2 594.2L501.7 590.2L500.2 585.6M500.2 585.6L501.3 583.6L501.8 581.4M510.1 609.1L508.2 605.5L505.8 602.2L504.5 598.3L504.2 594.2L503.8 590.2M503.8 590.2L505.1 585.7L505.8 581.1M505.8 581.1L507.1 579.5L508.4 577.8M503.8 590.2L503.6 585.7L502.3 581.4M502.3 581.4L501.4 579.9L500.8 578.1M502.3 581.4L502.7 579.5L502.9 577.5M560.5 641.6L562.4 643.1L564.5 644.4M552.3 632.9L554.9 635.9L558.2 638.3L560.5 641.6M560.5 641.6L562.7 643.1L564.4 645M568.3 637L569.7 639.4L570.6 641.9M555.6 634.1L560 634.6L564 636.2L568.3 637M568.3 637L571.7 636.2L574.6 634.4M559 635.1L561.3 637.8L563.3 640.7L566 642.9L568.5 645.4M568.5 645.4L571.4 647.2L574.6 648.2M568.5 645.4L570.1 648.8L571.4 652.3M570.5 633.7L570.9 630.6L571.5 627.5M562.3 636.5L566.5 635.5L570.5 633.7L573.7 630.8M573.7 630.8L576.1 628.7L578.5 626.7M573.7 630.8L574 628L575 625.3M572.7 638.5L575.5 635.7L578.1 632.8L581 630.1M581 630.1L581.6 627.8L581.9 625.3M545.9 630L549.3 630.9L552.3 632.9L555.6 634.1L559 635.1L562.3 636.5L565.8 636.9L569.1 638.1L572.7 638.5M572.7 638.5L575.8 640.8L578.6 643.6L581.4 646.3M581.4 646.3L582.2 648.9L583.4 651.3M569.3 611.9L573.3 611.8L577.4 611.7L581.2 610.4M581.2 610.4L583.6 608.9L586.1 607.7M581.2 610.4L583.4 609.1L585.8 608.2M549.5 629.6L553.1 628.1L556.7 626.7L559.7 624.1L562.1 621L563.9 617.6L566.6 614.7L569.3 611.9L571.9 608.9M576.2 600.7L577.9 598.8L579.3 596.7M571.9 608.9L574 604.8L576.2 600.7L579.1 597.1M579.1 597.1L581.9 595.7L584.6 594.1M579.1 597.1L580.9 594.9L582.2 592.3M579.4 604.1L582.2 605.2L584.9 606.7M571.9 608.9L575.4 606.2L579.4 604.1L583.2 601.6M583.2 601.6L585.7 599.9L587.7 597.6M583.2 601.6L585.9 599.7L589 598.5M560 626.8L563.2 623.9L566 620.6L569.5 618.1L573.4 616.1M573.4 616.1L577.4 617.8L581.4 619.5M573.4 616.1L575.1 612.3L576 608.2M576 614.5L577.8 611.1L579.6 607.8M578.8 612.3L582.9 612L586.9 611.7M567.3 625.6L569.5 622.9L571.8 620.1L574 617.3L576 614.5L578.8 612.3M578.8 612.3L583 609.9L586.4 606.6M571 625.1L575.6 625.3L580 624.2L584.2 622.2M584.2 622.2L587.2 621.5L590.1 620.4M584.2 622.2L587.5 621.3L590.6 619.8M584.8 614.3L589.1 613.8L593.4 613.8M587.1 611.6L591 610.2L595 609.8M578 622.7L580.1 619.8L582.8 617.4L584.8 614.3L587.1 611.6L589.9 609.2M589.9 609.2L591.4 604.4L592.9 599.7M589.9 609.2L592.3 605.1L594.3 600.8M591.9 621.9L594.6 619.9L597.5 618.4M585 620.6L588.5 620.9L591.9 621.9L595.5 622.1L598.8 623.2L602.2 624.2M602.2 624.2L606.8 623.4L611.3 623.8M602.2 624.2L606.6 623.9L610.8 624.8M553.1 629.3L556.5 627.7L560 626.8L563.7 626.2L567.3 625.6L571 625.1L574.3 623.4L578 622.7L581.4 621.3L585 620.6L588.7 620M601.8 625.4L603.4 628.4L605 631.4M588.7 620L592.3 620.4L595.6 621.8L598.9 623.2L601.8 625.4L604.7 627.6M604.7 627.6L608.6 627.9L612.5 628.5M587.4 608.3L588.8 604.5L590.9 601M587.6 604.7L585.5 601.9L583.8 598.7M588.6 601.2L588 598L587.5 594.8M586.7 619.1L587.3 615.5L587.5 611.9L587.4 608.3L587.6 604.7L588.6 601.2M588.6 601.2L591.1 598L593.8 595.1M588.6 601.2L587.6 596.9L585.6 592.9M590.6 612.9L593.8 611.5L597.2 610.3L599.9 608.1L602.6 605.7M602.6 605.7L604.4 602.9L606.4 600.3M593.6 610.8L597.4 610.1L601.2 610.3L605.1 610.6L608.7 612M608.7 612L612.1 612.2L615.4 613M608.7 612L611.7 614.2L615.1 615.7M598.5 605.4L601.9 604.1L605.5 603.5L608.8 602L612.1 600.3M612.1 600.3L614.7 597.5L617.3 594.6M578.1 625.7L581.2 623.7L584.2 621.7L586.7 619.1L588.4 615.8L590.6 612.9L593.6 610.8L596 608.1L598.5 605.4L601.4 603.1L603.4 600.1M604.8 588.5L603.1 585.4L600.8 582.7M603.4 600.1L603.8 596.2L604.5 592.4L604.8 588.5L605.9 584.8L606.4 580.9M606.4 580.9L606.6 575.9L606.9 570.9M607.1 585L606.7 582.1L606.2 579.1M603.4 600.1L604.4 596.3L604.4 592.4L605.4 588.6L607.1 585M607.1 585L606.8 581.6L605.5 578.5M607.1 585L609.2 581.8L611.7 578.9M606.9 624.8L610.8 625.7L614.7 626.2M595.6 629.4L599.4 628L603.2 626.6L606.9 624.8L610.9 624.1M610.9 624.1L615.2 624.3L619.4 623.8M610.9 624.1L614.2 622.1L617.8 620.8M599.2 630.5L603.3 628.9L607.7 628.5L612.1 629.2M612.1 629.2L615.2 629.4L618.2 628.7M627.1 647.6L631.6 648.2L636 649.1M613.1 642.9L616.6 644.2L620.1 645.5L623.8 646L627.1 647.6L630.7 648.8M630.7 648.8L634.7 649.7L638.3 651.6M630.7 648.8L635.3 649.6L640 650.6M585.3 625.1L588.6 626.9L591.9 628.7L595.6 629.4L599.2 630.5L602.5 632.4L605.6 634.5L608.3 637.2L610.6 640.1L613.1 642.9L615.3 646M615.3 646L618.4 648.2L621.2 650.8L623.7 653.6L626.2 656.5M626.2 656.5L629 658.5L632.1 660M626.2 656.5L628.9 658.5L631.7 660.4M614 613.5L618 613.1L621.9 612.3L625.8 611.2L629.4 609.4M629.4 609.4L633.7 608.5L638.1 608.1M629.4 609.4L632.7 608.1L635.8 606.5M618.1 607.9L622.3 607.4L626.6 607.4L630.8 608.1L635 608.8M635 608.8L639.5 609L644.1 609.2M635 608.8L638.8 609.2L642.6 609.3M609.7 619.1L612.2 616.6L614 613.5L616.4 611L618.1 607.9L620.6 605.5L623.2 603.1L626.1 601.2L629.1 599.3L632.2 597.8L635.4 596.3M635.4 596.3L638.2 594.1L640.6 591.5L643.7 589.7L646.3 587.2M646.3 587.2L648.5 585.3L651 584M646.3 587.2L647.7 584.3L649 581.4M642.3 594.7L645.1 596.6L648.1 598M652.3 591.3L656.1 592.2L660 592.2M635.4 596.3L638.9 596L642.3 594.7L645.4 592.9L648.8 591.9L652.3 591.3M652.3 591.3L656.9 589.8L661.7 589.5M652.3 591.3L656 589.1L659.4 586.6M539.8 633.2L543.2 631.8L546.7 631L550.3 630.6L553.9 630.3L557.4 629.4L561 629.1L564.7 628.8L568.2 628.4L571.9 628.1L575.3 627.1L578.9 626.7L582.5 626.4L586.2 626.1L589.7 625.3L593.2 624.7L596.5 623.1L599.8 621.6L603.4 620.9L607 620.6L610.6 620.1L614 618.9M538.3 631.3L541.7 630L545.2 629.2L548.8 628.8L552.4 628.5L556 627.6L559.6 627.3L563.2 627L566.8 626.6L570.4 626.3L573.9 625.3L577.5 624.9L581.1 624.6L584.7 624.3L588.2 623.5L591.8 622.8L595 621.3L598.3 619.8L601.9 619.1L605.5 618.8L609.1 618.3L613.2 617.9M620.7 616.8L624.3 617.8L627.9 619L631.8 619.2M631.8 619.2L634.6 619.3L637.4 619.4M631.8 619.2L634.6 620.3L636.9 622.2M624.4 616L627.9 616.8L631.2 618.1L634.7 618.8M634.7 618.8L637.3 618.1L639.8 617M613.2 617.9L617 618L620.7 616.8L624.4 616L627.9 614.4L631.4 612.8L634.9 611.2L638.6 610.4L642.1 608.8M651.7 604.2L654.5 605.9L657.4 607.3M642.1 608.8L645.6 607.9L648.7 606.2L651.7 604.2L654.7 602.3M654.7 602.3L657.5 601.1L660.3 600M642.1 608.8L645.4 606.7L648.4 604.1L651.3 601.5L653.7 598.3M653.7 598.3L656.8 597.6L659.9 597.8M653.7 598.3L655.3 595.2L657.9 592.6M617.2 600.8L615.9 598.7L614.8 596.6M616.4 611.7L617.3 608.1L617.8 604.4L617.2 600.8M617.2 600.8L617.2 598.3L617.7 595.9M617.2 600.8L615.7 598.6L614.6 596.2M614.2 597.7L614.8 594.6L615.1 591.6M617.5 608.4L616.9 604.6L615.8 601L614.2 597.7L612.5 594.3M612.5 594.3L611.9 591.3L611.2 588.4M612.5 594.3L609.7 592.9L607.1 591.2M620.1 591.1L623.3 589L626.9 587.6L630.6 586.8L634.4 586M634.4 586L637.5 584.1L640.5 582M634.4 586L637.6 585L641 585.1M613.2 617.9L614.6 614.7L616.4 611.7L617.5 608.4L618.5 605L619.3 601.6L619.8 598.1L620 594.6L620.1 591.1L620.4 587.6M620.4 587.6L621.2 583.2L620.9 578.7L621.1 574.3M621.1 574.3L619.9 571.7L619.2 569M621.1 574.3L621.3 571.2L621.2 568.2M627.5 577.3L629.7 574L632.8 571.5M620.4 587.6L622.7 584.1L624.6 580.4L627.5 577.3L630.9 574.8M630.9 574.8L633.9 572.8L637.4 571.8M630.9 574.8L633.9 572.9L637.1 571.4M550.5 641L551.1 637.5L552 634L552.4 630.4L552.7 626.8L553.1 623.3L553.6 619.7L554.6 616.3L555.3 612.8L555.3 609.2L556.1 605.7M553.3 594.7L550.9 591.7L548.8 588.5M551.6 587.3L550 583.6L548.3 580M556.1 605.7L555.8 601.8L554.9 598.1L553.3 594.7L551.9 591.1L551.6 587.3M551.6 587.3L550.5 583.3L549.2 579.3M556.7 598.1L559.9 596.3L563.5 595.1M556.1 605.7L556.8 601.9L556.7 598.1L557.4 594.4L558.4 590.7M558.4 590.7L559.7 587.6L560.6 584.4M558.4 590.7L558.6 587L559.9 583.7M560.9 643.2L562.2 646.6L562.4 650.3L563.6 653.7L564.4 657.2M564.4 657.2L565.7 660.8L567.2 664.4M564.4 657.2L565.1 660.7L565.9 664.2M571.4 652.2L571.9 656.4L572 660.8M564.7 643.8L567.7 645.9L569.9 648.8L571.4 652.2L572.9 655.5L574.3 658.9M574.3 658.9L576 662.4L578.2 665.6M588.7 653.7L591.9 652L595.3 650.7M596.6 655.6L598 658.6L600.2 661.1M580.8 654L584.7 653.2L588.7 653.7L592.6 654.7L596.6 655.6M596.6 655.6L600 657.2L603 659.3M589.9 660.2L592 661.8L594.4 662.7M583.9 656.2L586.7 658.5L589.9 660.2L593 662.1L595.4 664.8M595.4 664.8L598.6 665.3L601.7 665.1M595.4 664.8L595.2 668.7L594.6 672.5M595.7 666.5L597.1 669.9L598.4 673.3M586.6 658.9L589.7 661.3L592.5 664.1L595.7 666.5L598.4 669.4M598.4 669.4L601.3 670.9L604.4 672.2M598.4 669.4L602.6 669.7L606.8 669.2M553.9 640.1L557.4 641.6L560.9 643.2L564.7 643.8L568.3 645.2L571.4 647.4L574 650.2L577.4 652.1L580.8 654L583.9 656.2L586.6 658.9M593.6 659.1L596.6 656.8L600 655.2M586.6 658.9L590.1 659.3L593.6 659.1L597.1 659.4L600.4 660.8L603.9 661.3L607.3 662.1M607.3 662.1L612 663.4L616.7 664.8M607.3 662.1L611.1 664.6L614.2 667.9M586.6 658.9L589.7 661.2L593.3 662.8L597 663.7L600.9 664.3M600.9 664.3L603.9 665.5L606.5 667.6M600.9 664.3L603.8 661.8L607.2 659.8M580 643.6L582.5 645.2L584.9 647.1M565.2 646.5L568.8 645.3L572.5 644.7L576.2 644.1L580 643.6M580 643.6L583.5 643.5L587.1 643.6M576.7 651.1L579.3 651.8L581.8 652.6M567.9 648.8L572.2 650.3L576.7 651.1L580.9 652.8M580.9 652.8L583.9 653.8L586.8 654.9M582.6 650.1L585 647.6L587 644.9M570.9 650.6L574.8 649.9L578.7 650.2L582.6 650.1L586.5 649.6M586.5 649.6L590.6 650L594.7 650.1M586.5 649.6L590.3 647.4L593.7 644.8M582.6 661.3L583 663.7L583.8 666M573.7 652.7L576.2 656L579.6 658.4L582.6 661.3M582.6 661.3L584.5 663.1L585.8 665.4M584 657.1L587.4 658.1L590.6 659.5M576 655.3L580 656.4L584 657.1L587.8 658.6L591.5 660.5M591.5 660.5L593.5 664.1L595.9 667.5M591.5 660.5L593.7 663.9L595.7 667.5M583 663.1L585.4 666.5L587.2 670.3L589.3 673.9L591.4 677.5M591.4 677.5L592.1 681.9L592.5 686.4M591.4 677.5L594.2 680.7L597.4 683.6M557.4 639.7L560.3 641.5L562.9 643.9L565.2 646.5L567.9 648.8L570.9 650.6L573.7 652.7L576 655.3L578.4 657.8L580.7 660.5L583 663.1M591.8 672.3L591.7 676.2L592.2 680.1M583 663.1L585.7 666.4L588.9 669.2L591.8 672.3L594 675.9M594 675.9L596.3 678.7L598.3 681.6M594 675.9L594.7 679.8L596.5 683.4M581 642.2L583 645L585.7 647M587.6 646.8L590.5 647.5L593.3 648.6M573 640.8L577 641.6L581 642.2L584.7 644L587.6 646.8M587.6 646.8L591.1 646.7L594.5 647.3M567.4 636.6L570.4 638.5L573 640.8L576.2 642.4L579.6 643.2L583.2 643.7L586.7 643.7L590.2 643.2L593.7 643.1L597.3 643.3L600.8 643.5M607.8 638.9L610.3 635.7L612 632.1M610.9 636.1L614.2 634.6L617 632.4M600.8 643.5L604.3 641.2L607.8 638.9L610.9 636.1L613.2 632.6M613.2 632.6L614.9 629L617.2 625.8M613.2 632.6L615.1 628.6L618.1 625.3M608.1 645.2L611.6 644.9L615.1 645.4M611.8 645.7L615 645.6L618.1 646.2M600.8 643.5L604.6 643.9L608.1 645.2L611.8 645.7L615.6 645.5M615.6 645.5L618.5 644.8L621.4 643.7M615.6 645.5L619.5 644.9L623.1 643.3M587.4 629.1L590.2 625.7L592.9 622.3L594.7 618.3M594.7 618.3L594.6 615.6L594.2 613M597.1 619.4L599.8 617.7L602.5 616.1M598.6 616.2L597.7 613.5L597 610.8M600.9 613.4L603.2 611.8L605.5 610.2M594.1 626L595.3 622.6L597.1 619.4L598.6 616.2L600.9 613.4M600.9 613.4L604 611.3L607.4 609.6M600.9 613.4L601.5 610.4L601.8 607.4M603.9 611.1L603.3 608L602.3 605M600.6 622.3L601.9 618.6L603 614.9L603.9 611.1L605.4 607.4M605.4 607.4L606.4 604L607.4 600.6M605.4 607.4L606.1 603.4L607.6 599.6M572.9 632.4L576.6 632L580.1 630.6L583.7 629.7L587.4 629.1L590.7 627.4L594.1 626L597.3 624L600.6 622.3L603.8 620.4M603.8 620.4L607.4 620.2L611 620.3L614.6 619.4L617.9 618.1M617.9 618.1L619.9 615.6L622.1 613.4M617.9 618.1L618.8 615L619.9 611.9M594.4 602.2L596.6 600.3L598.9 598.4M587 612.6L590.3 609.8L592.8 606.2L594.4 602.2M594.4 602.2L593.7 599.6L592.6 597.2M594.4 602.2L593.8 598.7L593 595.3M587.6 623L587.8 619.5L586.9 616.1L587 612.6L587.2 609.1L587.2 605.6L586.5 602.2L585.9 598.7L584.9 595.4L583.5 592.2M577.5 586.1L575.5 584.8L573.5 583.3M583.5 592.2L580.2 589.5L577.5 586.1L574.3 583.4M574.3 583.4L573.7 580.3L573.8 577.2M574.3 583.4L571.6 581.4L569.4 579M612.8 597.4L616.2 598.2L619.3 599.5M605 598.3L608.9 597.9L612.8 597.4L616.6 596.3L620.6 596.3M620.6 596.3L624.2 594.7L627.8 593.2M620.6 596.3L623.9 595.4L627.4 595.4M618 593.8L620.9 596.3L623.8 598.6M609.7 593L613.9 593.1L618 593.8L621.7 595.7L625.2 597.9M625.2 597.9L628.2 599.5L630.7 601.9M622.5 585.3L624.6 583.4L626.4 581.1M626.2 583.3L628.4 583.1L630.6 582.9M614.6 587.9L618.5 586.4L622.5 585.3L626.2 583.3M626.2 583.3L628.7 583.4L631.2 583.5M600.5 611.6L601.6 608.2L602 604.7L603.3 601.4L605 598.3L607.2 595.5L609.7 593L612.1 590.4L614.6 587.9L616.9 585.1L618.5 582M615.1 575.4L615.7 572.3L616.7 569.2M612.8 568.4L614 565.3L615.6 562.4M618.5 582L617.3 578.4L615.1 575.4L613.4 572.1L612.8 568.4M612.8 568.4L611.2 565.1L609.3 561.8M612.8 568.4L611.8 565.3L611.1 562M622.4 571.7L625.5 570.1L628.3 567.9M625.5 565L629.5 565.1L633.2 563.9M618.5 582L619.3 578.3L620.4 574.8L622.4 571.7L623.5 568.1L625.5 565M625.5 565L627.2 560.6L628.5 556.1M625.5 565L628.8 562.7L632 560.1M595.5 574.9L597.5 572.9L599.6 571.1M595.9 587.4L596.3 583.2L595.7 579.1L595.5 574.9M595.5 574.9L593.4 572.3L592.2 569.1M595.5 574.9L596.7 572L597.1 568.9M602.2 608.5L601.9 604.8L601.2 601.2L599.5 597.9L598.5 594.3L597.7 590.7L595.9 587.4L595.2 583.8L595.5 580.1M595.5 580.1L598.1 576.7L599.6 572.6L600.1 568.4M600.1 568.4L600.2 565.3L600.4 562.3M600.1 568.4L600.7 565.1L600.3 561.8M539.6 650.1L542.8 648.5L545.4 646.2L548.1 643.9L551.1 642.1L554.5 641.2L558 640.8L561.4 640.2L564.5 638.6L568 637.8L571 636L573.5 633.6L576.6 631.9L579.1 629.5L582.2 627.9L585.4 626.4L588.2 624.2L591.2 622.5L594.2 620.6L596.5 617.9L599.1 615.6L601.1 612.8L602.8 609.7L604.4 606.6L606.8 604M538.5 648L541.7 646.5L544.3 644.1L547 641.9L550 640.1L553.4 639.1L556.9 638.8L560.3 638.1L563.5 636.6L566.9 635.7L569.9 633.9L572.4 631.5L575.5 629.9L578.1 627.4L581.2 625.8L584.3 624.3L587.1 622.1L590.2 620.4L593.2 618.6L595.4 615.9L598.1 613.6L600.1 610.7L601.7 607.6L603.4 604.5L606.2 602.8M615.4 591.8L618.7 589.9L621.5 587.2L624.3 584.5L626.4 581.3L628.5 578.1M628.5 578.1L630.3 573.2L631.1 568.1M606.2 602.8L608.4 599.9L610.5 597L613.2 594.7L615.4 591.8L618 589.3L620.3 586.5L623.1 584.2L626 582.2L628.9 579.9L631.7 577.8L634.4 575.3L637 572.8M647.8 563.4L649.3 559.2L650.9 554.9M651.4 557.2L650.8 553.4L650.1 549.6M637 572.8L640 570.8L642.7 568.5L645.6 566.3L647.8 563.4L649.6 560.3L651.4 557.2M651.4 557.2L653.5 553.8L656.4 551.2L659.2 548.4M651.4 557.2L654.6 553.6L658.4 550.8M644.9 569.4L648.1 570.4L651.2 572M637 572.8L640.9 570.9L644.9 569.4L649.2 568.8L653.5 568.4M653.5 568.4L657.4 569L661.4 568.6M640.4 598.9L644.3 598.4L648.1 597.7M629.6 592.5L633.4 594.2L636.9 596.5L640.4 598.9L643.5 601.8M643.5 601.8L645.1 604.9L647.1 607.7M643.5 601.8L647.8 603.1L652.1 604.1M657.7 587L660.4 589.5L663.4 591.8M640.3 589.5L643.8 589.2L647.3 588.5L650.6 587.3L654.2 586.9L657.7 587M657.7 587L661.8 588.3L666.1 588.4M643.6 587.7L647.3 588.8L651 590L654.6 591.7L657.6 594.1L660.4 596.9M660.4 596.9L662.4 601.2L663.6 605.9M660.4 596.9L662.4 601.7L665 606.2M606.2 602.8L609.5 601L612.1 598.4L615.2 596.2L618.6 594.8L622.2 593.9L625.9 593.2L629.6 592.5L633.2 591.6L636.9 590.9L640.3 589.5L643.6 587.7M651.4 580.7L651.7 576.6L651.4 572.6M643.6 587.7L645.9 585L648.8 583.1L651.4 580.7L653.3 577.8L654.3 574.4M654.3 574.4L654 570.6L654.8 566.9M654.3 574.4L653.3 570.5L652.3 566.5M659.7 575.2L660.6 570.3L660.8 565.3M643.6 587.7L647 585.4L650.7 583.5L653.6 580.6L656.3 577.5L659.7 575.2M659.7 575.2L663.7 573.4L667.2 570.9M549.5 658L546.3 656.5L543 655.1L539.4 654.6L535.9 653.9L532.4 654L528.8 654.4L525.3 653.8L522.1 652.2L518.6 651.3L515.4 649.8L511.9 648.8L508.9 647L505.5 645.7L502.2 644.3L498.7 643.7M548.6 660.2L545.3 658.7L542.1 657.2L538.5 656.8L535 656L531.4 656.2L527.9 656.6L524.4 656L521.2 654.4L517.7 653.4L514.5 651.9L511 651L508 649.1L504.6 647.9L501.3 646.5L498.2 644.9M498.2 644.9L495 642.8L491.8 640.6L489.1 637.9L486.2 635.4L482.7 633.8L479.4 631.8L476.1 629.8M470.4 624.8L467.7 625.4L464.9 625M476.1 629.8L473.3 627.4L470.4 624.8L467.4 622.5M467.4 622.5L465.5 620.7L463.3 619.4M467.4 622.5L465.1 621.8L462.8 621.7M493.5 639L489.4 638.2L485.8 636.2M485.8 636.2L484.1 634.8L482.5 633.5M491 636.1L487.9 634.2L485.3 631.7L482.8 629.1M482.8 629.1L481.6 626.6L481 623.8M498.2 644.9L495.9 641.9L493.5 639L491 636.1L489.5 632.6L488.2 629.1L486.6 625.6M483.3 619.4L484.3 617.7L485.8 616.3M486.6 625.6L485.3 622.3L483.3 619.4L481.5 616.3M481.5 616.3L480.7 614L479.4 611.9M481.5 616.3L481.1 614L480.9 611.6M486.6 625.6L485.4 621.7L483.5 618.1L481.6 614.5M481.6 614.5L481.3 611.7L480.6 609.1M577 669L580.2 670.8L583.2 672.8M581.8 674.9L584 678.6L587.1 681.4M584.8 677.4L585.5 681.2L586 685M573.6 662L575.3 665.5L577 669L579 672.3L581.8 674.9L584.8 677.4M584.8 677.4L587.2 680.8L589.6 684.2M615.8 679L617.4 682.2L619.6 685M607 661.2L609 664.7L610.5 668.4L612.6 671.7L613.9 675.5L615.8 679M615.8 679L617.3 683.2L618.1 687.6M562.8 659.7L566.4 660.7L570.1 660.8L573.6 662L577.4 662.2L581.1 661.8L584.7 660.9L588.4 660.8L592.2 660.8L595.9 660.5L599.6 661.1L603.3 660.9L607 661.2M621.1 659.9L624.4 662.5L628.1 664.5M628.2 659.6L629.8 662.8L630.6 666.3L630.9 669.9M607 661.2L610.6 661.1L614 659.8L617.5 659.4L621.1 659.9L624.6 659.5L628.2 659.6M628.2 659.6L632.8 657.2L637.5 655.4M566.1 658.5L569.3 660.5L571.8 663.2L574.6 665.7L577.9 667.4L581.5 668.4L584.7 670.3L587.9 672.2L591.2 673.8L594.8 674.7L598.5 675M598.5 675L601.9 676.4L605.6 676.8L609.3 677L612.9 677.6L616.6 677.7M616.6 677.7L620.4 680L624.8 681.2M616.6 677.7L620.9 677.6L625.1 677.8M610.2 672.9L611.4 669.5L613.6 666.5M598.5 675L602.4 674.2L606.4 674L610.2 672.9L614.2 672.3M614.2 672.3L617.9 673L621.5 674.2M614.2 672.3L617.9 672.9L621.6 673.8M583.4 630.5L585.9 628L587.7 625L589.8 622.2L592.2 619.6L594.7 617.2M594.7 617.2L598.4 614.7L601.2 611.2M583.8 619.9L584.8 616.4L586.1 613.1L588.1 610.2L589.1 606.8L589.3 603.2L589.2 599.7M589.2 599.7L590.5 595.1L591.3 590.3M589.2 599.7L591.5 596.6L594.4 594L597.3 591.3M575.3 653.1L577.7 650.5L579.1 647.3L581 644.3L582.5 641.1L583.2 637.6L583.3 634L583.4 630.5L583.6 627L583.7 623.4L583.8 619.9L584.8 616.5L586.1 613.1L587.2 609.8M584.6 594.2L583.5 590.9L582.8 587.4L581.5 584.1M583.2 590.5L579.6 588L575.5 586.1M582.6 586.6L580.2 584L578.2 581.1L575.7 578.7M587.2 609.8L587.3 605.8L586.1 602L584.9 598.2L584.6 594.2L583.2 590.5L582.6 586.6M582.6 586.6L583.4 583.1L585.2 580L587.6 577.2M582.6 586.6L581 583L578.9 579.6L576.8 576.3M604 592.8L602.8 589.3L601.1 586L598.8 583M587.2 609.8L590.1 607L592.9 604.2L595.2 600.9L598.5 598.5L601.6 596L604 592.8M604 592.8L606 589.9L608.4 587.4L610.1 584.2M604 592.8L607.5 591.7L611 590.3L614.6 589.8M587.3 632.3L586.2 628.8L584.2 625.8L582.9 622.4L582.3 618.9L581.1 615.5L580.4 612M580.4 612L580.6 607.5L580.8 603.1M580.4 612L576.5 608.9L573.1 605.3M601.4 613.7L606 615.4L610.6 616.7M604.7 611.8L608.3 613.5L611.4 616M589.1 621.9L592.6 620.6L595.9 618.7L598.8 616.3L601.4 613.7L604.7 611.8L607.3 609.1M607.3 609.1L612.5 608.9L617.7 608.5M587.1 605.7L584.6 602.6L581.5 600.2M589.1 618.3L587.6 614.3L587 610L587.1 605.7L586.6 601.4M586.6 601.4L588 597.7L589.1 593.8M586.6 601.4L587.1 597.4L588.3 593.6M600.6 596.6L600.6 592.8L600.9 589.1L601.1 585.3M588.9 611.2L591.2 608.2L593.3 605.1L595.3 601.9L597.9 599.1L600.6 596.6L603.8 594.5M603.8 594.5L605.6 590.1L606.1 585.4M603.7 600.8L606.3 597.7L607.9 594M590 607.8L592.8 605.2L596.2 603.2L599.9 601.9L603.7 600.8L607.4 599.7M607.4 599.7L610.8 596.7L614.7 594.4M607.4 599.7L612.6 599.8L617.6 598.3M578.4 651.4L580.2 648.3L581.5 645.1L582.4 641.6L583.5 638.2L585.1 635.1L587.3 632.3L588.5 628.9L588.9 625.4L589.1 621.9L589.1 618.3L588.8 614.8L588.9 611.2L590 607.8M590 607.8L590 604.3L589 601L587.7 597.7L587 594.2L587.2 590.7L586.4 587.3M586.4 587.3L584.7 583.1L583.6 578.8M586.4 587.3L583.3 583.5L581.2 579M591.6 600.9L594 598.3L596.5 595.7L598.6 592.8M593.9 594.2L598.9 592.7L603.2 589.8M594.8 587.2L598.1 584.3L602.1 582.3M594.9 583.7L593.8 580.1L591.9 576.8L589.6 573.9M590 607.8L590.9 604.4L591.6 600.9L592.8 597.6L593.9 594.2L594.4 590.7L594.8 587.2L594.9 583.7M594.9 583.7L594.8 578.5L596.3 573.5M594.9 583.7L595 579.5L595.7 575.5L595.5 571.3M612.5 628.7L616.8 629.1L621 630.2L624.7 632.4L628.3 634.9M628.3 634.9L632 637.1L635.6 639.6M622.8 626.5L624.8 622.9L625.9 618.9L626.6 614.8L628.3 611M628.3 611L628.5 607.5L627.9 604.1M628.3 611L629.2 607L630.4 603M643.1 619.6L644.7 615.9L646.6 612.3M650.3 618.7L653.2 621.5L655.4 624.8M632.9 623.4L636.2 621.9L639.6 620.7L643.1 619.6L646.7 619.1L650.3 618.7M650.3 618.7L654.9 620.3L659.6 621.4M650.3 618.7L654.3 618.8L658.1 619.9M639.3 620.4L639.4 616.7L639.5 613L639 609.3L638.7 605.5L639 601.8M639 601.8L641.9 598.6L644.2 594.9M639 601.8L636.9 597.2L634.5 592.7M605.6 630.4L609.1 629.9L612.5 628.7L615.7 627.2L619.2 626.7L622.8 626.5L626.2 625.6L629.4 624.1L632.9 623.4L636.3 622.2L639.3 620.4L641.7 617.8L644.6 615.8L647.8 614.2M647.8 614.2L651.6 613.7L655.4 613.9L659.2 613.7L663.1 613.4L666.8 614.1L670.3 615.6M670.3 615.6L673.8 617L677.5 617.7L681.2 617.6M628.8 622.6L631.8 619.9L634.3 616.8L637.7 614.6L640.7 611.9M640.7 611.9L641.7 607.7L643 603.6M633.7 614.2L632.6 610.4L632.6 606.5M635.6 603.8L637.5 600.4L638.8 596.7M632.2 621.1L633.1 617.7L633.7 614.2L634.2 610.7L634.8 607.2L635.6 603.8M635.6 603.8L634.5 599.4L634.1 594.9M638.8 617.9L642.4 617.7L645.9 617.3L649.2 616.3L652.6 615.2M652.6 615.2L656.1 614.6L659.3 613.1M652.6 615.2L655.2 613.6L657.3 611.5M622.2 625.8L625.5 624.1L628.8 622.6L632.2 621.1L635.6 619.6L638.8 617.9L641.7 615.6L645 614L648.5 612.7L652.1 611.8L655.7 611.1M672 601.7L673.8 598L676.1 594.6M655.7 611.1L658.6 608.7L661.7 606.4L665.1 604.8L668.6 603.2L672 601.7M672 601.7L676.8 603.1L681.7 603.7M672 601.7L676.5 599.1L681.5 597.9M663 603.1L666 601.6L668.9 600M655.7 611.1L658.7 609L660.9 606.1L663 603.1L665.1 600.1L667.2 597.1M667.2 597.1L670.5 593.4L674.4 590.3M667.2 597.1L671.5 596.1L675.3 593.9M539.6 667L543.1 666.5L546.6 666L550 664.9L553 663L556.4 662.1L559.8 661.1L563.4 660.8L566.7 659.7L569.6 657.6L572.6 655.7L575.9 654.3L579 652.6L582.4 651.8L585.6 650.2L589 649.1L591.9 647.1L594.7 644.9L596.8 642.1L598.6 639L601 636.4L603.6 634L606.2 631.5L609 629.4L612.3 628.1L615.7 626.9L619.2 626.6L622.7 626.9L626.3 627.4M538.5 664.9L542.1 664.4L545.6 663.9L548.9 662.8L551.9 660.9L555.4 660L558.8 659L562.3 658.7L565.7 657.6L568.5 655.5L571.6 653.6L574.8 652.2L577.9 650.5L581.4 649.7L584.6 648.1L588 647L590.9 645L593.7 642.8L595.8 640L597.5 636.9L600 634.3L602.6 631.9L605.2 629.4L608 627.3L611.3 626L614.6 624.8L618.2 624.5L621.7 624.8L625.7 626.3M661.7 633.9L665.7 633.6L669.6 632.9M647.4 627.6L651.1 629.1L654.5 631.1L657.9 632.9L661.7 633.9L665.3 635.6M665.3 635.6L667.6 640L670 644.5M659.4 622L663.1 621.8L666.7 622.3M651.1 628.3L653.8 626.1L656.4 623.7L659.4 622L662.7 620.8L666.2 620.1M666.2 620.1L669.7 618.8L673 616.9M666.2 620.1L670.3 619.8L674.5 619.3M666.4 639.3L670 639.7L673.7 640.2M654.5 629.7L656.7 632.9L659.6 635.6L663.1 637.3L666.4 639.3L669.9 641.1M669.9 641.1L671.7 644.1L672.8 647.4L674.4 650.6M669.9 641.1L674.1 643.9L678.4 646.7M668 628.2L671.1 628.5L674 629.4M661.4 632.2L664.6 630.1L668 628.2L671.5 626.8L675.3 626.3M675.3 626.3L678.7 628.6L681.6 631.4M675.3 626.3L679.2 627L683.1 627.9M671.1 644.1L673.2 647.4L674.3 651.1M665 633.1L667.4 636.5L669.8 640.1L671.1 644.1L673.3 647.7M673.3 647.7L672 651.9L670.2 656M673.3 647.7L674.3 652.1L675.3 656.6M625.7 626.3L629.4 626.4L632.9 625.4L636.6 625.5L640.3 625.8L643.9 626.6L647.4 627.6L651.1 628.3L654.5 629.7L658.1 630.6L661.4 632.2L665 633.1M673.1 631.7L676.7 629.1L680.4 626.7M665 633.1L669.1 632.8L673.1 631.7L677 630.3L680.9 628.9L684.7 627.4M684.7 627.4L689.3 625.9L693.9 625M684.7 627.4L687.7 624L689.8 619.9M575.9 647.4L577.2 643L578.4 638.7M562.6 655.1L566 653.3L569.1 651.1L572.6 649.4L575.9 647.4L579.5 646.3M579.5 646.3L582.9 643.8L586.2 641.1M566.3 648.8L564.8 645.6L562.4 642.9L560 640.3L558.3 637.1M558.3 637.1L554.9 636.1L551.9 634.3M558.3 637.1L556.1 634.3L553.6 631.9M564.8 631.5L562.9 629L560.4 627.1M568 641.7L566.5 638.4L565.8 634.9L564.8 631.5L563.3 628.2M563.3 628.2L562.7 625.1L561.4 622.2M563.3 628.2L560.9 625.9L558.6 623.5M551.7 669.4L554.7 667.3L557 664.4L558.6 661.1L560.2 657.9L562.6 655.1L564.9 652.2L566.3 648.8L567.2 645.3L568 641.7L569 638.2L569.6 634.6M571.5 626.7L574.2 625.1L576.4 623M576.5 620.2L579.8 618.7L583.3 618.1M569.6 634.6L570.1 630.5L571.5 626.7L573.8 623.3L576.5 620.2M576.5 620.2L577.6 616.6L579.6 613.5M576.5 620.2L576.5 616.6L576.8 613M575.5 629.7L579.1 628.2L582.9 627.2M577.4 626.4L580.8 625.8L584.2 625.8M578.5 622.6L577.5 619.1L576.7 615.4M569.6 634.6L572.8 632.4L575.5 629.7L577.4 626.4L578.5 622.6L579 618.8M579 618.8L581.8 615.2L584.1 611.2M579 618.8L579.2 614.6L579.7 610.4M593.4 627.3L591.3 624.7L588.6 622.7M594.1 643.7L593.6 639.6L593.8 635.5L593 631.4L593.4 627.3M593.4 627.3L595.5 624.1L598.5 621.8M602.6 637.2L601.9 633.8L600.4 630.7L598.8 627.5L597.2 624.4L595.6 621.3L594 618.2M594 618.2L591.4 615.5L589.1 612.6L586.9 609.6M572.8 667.3L575 664.4L577 661.5L579.2 658.7L581.6 656.1L583.6 653.2L586.1 650.6L588.3 647.8L591.3 645.8L594.1 643.7L597 641.5L600.1 639.8L602.6 637.2M609 627.4L610.4 624.2L612.4 621.4M611.8 624.6L613.8 621.4L616.3 618.6M602.6 637.2L604.9 634.1L606.5 630.5L609 627.4L611.8 624.6L613.9 621.3M613.9 621.3L612.8 617L612.5 612.5M613.9 621.3L613.8 616.1L613.1 611M594.9 649.5L597.3 646.1L600 642.9M586.7 664.6L589.7 661.4L591.9 657.7L593 653.5L594.9 649.5M594.9 649.5L598.5 647.5L601.9 645.1M594.9 649.5L598.7 648.1L601.8 645.5M607.8 679.5L605.6 683L603.2 686.4M609.5 686.5L613 688.2L616.8 689M610.5 690.1L613.8 692.5L617.5 694.4M607 672.2L607.2 675.9L607.8 679.5L608.2 683.1L609.5 686.5L610.5 690.1M610.5 690.1L613.8 693.8L617.9 696.5M610.5 690.1L612.2 693.4L613.4 697M627.3 691.7L625.6 696.2L624.8 701M623.2 680.8L625.5 684L626.9 687.7L627.3 691.7L628.4 695.5L628.7 699.5M628.7 699.5L625.7 703.1L622.5 706.5M579.5 664.8L583.1 664.2L586.7 664.6L590.4 664.8L594 665.6L597.6 666.4L600.8 668.3L603.9 670.2L607 672.2L610.4 673.6L613.8 675L616.8 677L620.1 678.7L623.2 680.8M623.2 680.8L626 683.3L628.7 686L631.9 688.1L635 690.2L638.3 692.1L641.5 694.1M641.5 694.1L645.1 694.4L648.8 694.1L652.4 693.9M637.4 683.5L640.6 681.4L644.4 680.3L648.2 679.8M641 683.5L643.9 680.8L647.4 679L651.1 677.6M644.5 684.5L648.6 683.5L652.1 681.4L654.9 678.3M623.2 680.8L626.7 681.6L630.1 682.9L633.7 683.3L637.4 683.5L641 683.5L644.5 684.5L648.1 684.9M648.1 684.9L651.7 687.2L654.7 690.3L658 692.8M648.1 684.9L651.2 687.7L654 690.8L656.5 694.1M613.8 633.1L616.8 630.4L620.5 628.8M612.7 640.1L613.6 636.6L613.8 633.1L613.4 629.5L613.6 625.9L614 622.3L615.5 619.1M615.5 619.1L620.1 616.7L623.8 613.1M615.5 619.1L620.1 617.3L624.9 616.5M618.1 619.3L615.6 614.9L613.8 610.1M614.5 636.9L615.6 633.5L616.4 630L617 626.4L617.7 622.9L618.1 619.3L619.1 615.9M619.1 615.9L618.2 610.8L617.3 605.7M619.1 615.9L618.5 611.6L617.9 607.3M621.3 605.5L619 601.7L617.4 597.6M620.2 627.6L621 623.9L622.2 620.3L622.4 616.6L621.6 612.9L620.9 609.2L621.3 605.5M621.3 605.5L624.1 601.4L627.9 598.1M599 657.2L600.8 654L603.4 651.3L606.2 648.9L608.6 646.2L610.8 643.3L612.7 640.1L614.5 636.9L616.2 633.6L618.6 630.9L620.2 627.6L622.5 624.7L624.3 621.5L626.5 618.6M635.5 610L639.6 610.5L643.5 611.7M642.1 604.8L642.3 601L641.4 597.3M626.5 618.6L629 615.3L632 612.3L635.5 610L638.8 607.5L642.1 604.8M642.1 604.8L643.8 601.7L645.8 598.8L648.3 596.3M642.1 604.8L645.5 603.7L648.9 602.5L652.5 602M631.7 609.6L635.8 609.4L639.8 609.2L643.9 609M637.8 605.9L642.9 605.8L648 606.3M626.5 618.6L627.8 615.3L629.3 612.1L631.7 609.6L634.6 607.5L637.8 605.9L641 604.4L644.1 602.9M644.1 602.9L646.2 599.9L649.1 597.6L651.4 594.8M612.7 652L614.5 647.8L616.1 643.5L617.6 639.2M617.6 639.2L619 636L621.4 633.4M626.3 653L629.2 652L632.1 651.1M633.6 654.7L637.1 653.6L640.6 652.7M619.9 649.1L622.9 651.4L626.3 653L629.9 654L633.6 654.7M633.6 654.7L637 654.4L640.3 654.6M633.6 654.7L637.3 653.8L641 653.2M631.5 652.4L631.2 655.1L630.7 657.8M635.5 654.1L636.8 656.2L637.6 658.6M623.6 648.4L627.6 650.2L631.5 652.4L635.5 654.1M635.5 654.1L638.1 656.6L639.8 659.7M637.7 642.1L638.5 638.5L639.3 635L639.5 631.4L639.4 627.8M639.4 627.8L638.9 624.2L639.2 620.7M639.4 627.8L638 624.8L637.3 621.5M605.3 653.9L609.1 653.4L612.7 652L616.4 650.7L619.9 649.1L623.6 648.4L627.1 646.8L630.6 645.2L634.2 643.7L637.7 642.1M648.2 644.9L650.8 647.2L652.9 650M637.7 642.1L641.3 642.6L644.8 643.6L648.2 644.9L651.1 647.1L654 649.4M654 649.4L658.1 650.6L662.3 650.9M654 649.4L654.9 653.7L654.6 658.1M646.9 635.9L647.9 632.4L648.5 628.9M649.8 633.6L653.1 635L656.4 636.3M653.1 631.8L656.7 631.9L660.1 633M637.7 642.1L640.6 639.8L644 638.2L646.9 635.9L649.8 633.6L653.1 631.8M653.1 631.8L655.1 627.5L658.1 623.8M653.1 631.8L657.6 631.1L662.1 630.9M616 636.9L613.4 635L611 632.7M614.8 633.1L612.9 630.3L610.9 627.5M614.6 648.4L616.2 644.8L616.6 640.9L616 636.9L614.8 633.1M614.8 633.1L614.7 628.9L615.8 624.8M628.1 643.1L631.2 641.9L634.5 641.6M621.5 646.2L624.7 644.5L628.1 643.1L630.8 640.8L633.8 638.8M633.8 638.8L635.7 636L637.8 633.4M635.1 645.1L637.4 644L639.7 643M624.6 644.3L628.2 644.3L631.7 644.4L635.1 645.1L638.6 645.6M638.6 645.6L642 644.4L645.2 642.7M631.5 641.8L632.1 638L633.7 634.6L636.2 631.7L639 629.1M639 629.1L642 627.2L644.7 624.7M639 629.1L642.1 628.4L645 626.8M645.7 633.8L648.7 635L651.5 636.7M649.8 631.9L652.7 631.5L655.4 630.4M638.1 638.9L641.7 636L645.7 633.8L649.8 631.9M649.8 631.9L652.4 629.3L655.4 627.1M649.8 631.9L652.8 631.5L655.8 630.6M608.6 652.5L611.4 650.2L614.6 648.4L618 647.2L621.5 646.2L624.6 644.3L628.1 643.1L631.5 641.8L634.7 640.1L638.1 638.9L641.4 637.2M648.9 630.1L652.7 630L656.5 629.4M641.4 637.2L643.5 634.4L645.9 631.9L648.9 630.1L652.1 628.5L655.2 626.9M655.2 626.9L659.8 626.8L664.3 626.2M641.4 637.2L645 635.6L648.6 633.8L652.1 632L655.9 630.6L659.7 629.6M659.7 629.6L663.9 631.2L668.3 631.6M659.7 629.6L664.2 629.3L668.6 628.6M617.6 646.9L621.1 646.7L624.6 646.9L628.1 646.4L631.5 645.8L634.9 644.8L638.1 643.4L641.6 642.9L645.1 642.7L648.5 641.7L651.7 640.3L654.9 639L658.2 637.6L661.5 636.4M668.5 637.8L672.7 637L677 636.9M671.5 639.6L674.3 643.1L676.4 647.1M676.8 644.4L677.8 648.6L678 652.9M679.5 646.7L684.3 647.4L689.2 647.1M661.5 636.4L665 637L668.5 637.8L671.5 639.6L674.3 641.8L676.8 644.4L679.5 646.7M679.5 646.7L679.4 650.2L678.4 653.6L677.3 656.9M679.5 646.7L681.3 651.2L682.6 655.9M539.3 676.5L542.3 674.7L545.3 672.7L548.6 671.3L552 670.6L555.6 671L559.1 670.4L562.5 669.7L566.1 669.3L569.6 668.7L573.1 668.5L576.4 667.3L579.8 666L583.2 665.1L586.3 663.4L589.1 661.3L592.4 659.9L596 659.6L599.3 658.4L602.5 656.9L605.6 655.2L608.9 653.8L611.7 651.6L615 650.3L617.9 648.2L620.3 645.6L622.7 642.9L625 640.3M538.8 674.3L541.8 672.4L544.7 670.4L548 669.1L551.5 668.4L555 668.8L558.5 668.1L562 667.4L565.5 667.1L569 666.4L572.6 666.3L575.9 665L579.2 663.8L582.7 662.9L585.7 661.1L588.6 659L591.9 657.6L595.4 657.3L598.8 656.2L602 654.7L605.1 652.9L608.3 651.5L611.2 649.4L614.5 648L617.3 645.9L619.7 643.3L622.1 640.7L624.7 639M642.4 627.2L640.7 623.7L640.2 619.8M650.3 618.6L653.8 618.3L657.2 618.7M637.1 632.9L639.8 630.1L642.4 627.2L645.3 624.5L648.1 621.8L650.3 618.6M650.3 618.6L652.5 614.9L653.9 610.8M650.3 618.6L653.7 616.6L656.7 614M654.8 637.1L658.4 637.8L662 637.9M658.8 638.6L659.7 641.8L660.1 645.2M643.8 630.5L647.8 632.1L651.2 634.6L654.8 637.1L658.8 638.6M658.8 638.6L662.3 640L665.7 641.5M658.8 638.6L663 639.9L667.3 640.4M660.6 626.9L664.2 625.7L667.9 625.2M667.7 627.8L669.3 630.8L671.3 633.6M653.6 626.3L657.1 626.2L660.6 626.9L664.1 627.4L667.7 627.8L671 629M671 629L674.1 632.5L676.5 636.4M668.7 610.8L672.3 611.2L675.8 612.4L679.4 613.3M656.9 625.1L658.2 621.5L660.5 618.6L663.4 616.2L666.1 613.5L668.7 610.8L671.3 608.1M671.3 608.1L671.8 604.4L671.9 600.6L671.6 596.9M671.3 608.1L674.9 604.5L678.8 601.2M665.8 607.1L669.1 604.4L672.5 601.9M659.9 623.1L662.2 619.4L663.5 615.3L664 611L665.8 607.1M665.8 607.1L667.7 602.9L668.8 598.4M662.6 620.8L664.4 616.9L667.3 613.6L671 611.3L673.8 608M673.8 608L677.4 606.6L681.3 606.3M673.8 608L674.1 603.7L673.5 599.5M665.8 619.2L668.6 621.7L671.9 623.4L674.6 626.1L677 629L679.6 631.7M679.6 631.7L682.9 635.7L685.3 640.2M679.6 631.7L683.5 634.1L687.4 636.4M624.7 639L627.2 636.5L630.2 634.6L633.6 633.6L637.1 632.9L640.4 631.5L643.8 630.5L647 628.9L650.4 627.8L653.6 626.3L656.9 625.1L659.9 623.1L662.6 620.8L665.8 619.2M672.4 615.6L676.5 615L680.7 615.4M665.8 619.2L668.9 617.1L672.4 615.6L675.2 613.1L677.7 610.2L680.7 607.9L683.9 605.8M683.9 605.8L687.7 605.5L691.3 604.3L695.1 603.9M683.9 605.8L685.1 602.2L686.4 598.7L687.9 595.2M665.8 619.2L669.8 619.6L674 619.8L677.9 620.9L682.1 621L686 622M686 622L689.5 625.1L692 628.9M627.7 622.5L624.9 618.6L621.7 615M626.4 618.9L627.1 614.4L626.6 609.9M623.3 611.9L622.4 608.3L620.5 605.1L618.6 601.9M629.8 629.8L628.4 626.3L627.7 622.5L626.4 618.9L624.8 615.5L623.3 611.9L620.9 609M620.9 609L619.3 605.5L617.8 602L616.2 598.4M620.9 609L618.1 606.6L615.7 603.7L613.2 600.9M646.5 617.3L650.9 616.9L655.2 616.5M650.2 606.7L653.9 603.7L658.2 601.8M642.2 623.5L644.2 620.3L646.5 617.3L647.9 613.8L649.5 610.4L650.2 606.7M650.2 606.7L647.5 602.5L646.1 597.6M650.2 606.7L650.5 601.7L651.9 597M655.1 618.2L657 613.5L659.1 608.9M658.5 617.2L659.4 612.1L661.8 607.5M665.6 617.8L670.7 617.1L675.8 617.9M645.2 621.6L648.6 620.8L651.7 619.1L655.1 618.2L658.5 617.2L662.1 617.4L665.6 617.8M665.6 617.8L669.3 617.1L673.1 616.7L676.6 615.3M665.6 617.8L670.5 617.6L675.4 617.4M647.7 619.2L648 615.1L648.5 611.1L648.2 607.1L648.9 603.1M648.9 603.1L651.8 600.2L655.1 597.9M653.5 610.4L657.3 608.4L660.7 605.8L664.2 603.4L668.1 601.5M668.1 601.5L672.2 600.3L676.5 599.9M668.1 601.5L671.7 600.8L675 599.3M624.7 639L626.8 636.2L628.1 632.9L629.8 629.8L632.4 627.4L635.5 625.8L638.8 624.5L642.2 623.5L645.2 621.6L647.7 619.2L649.9 616.4L651.4 613.2L653.5 610.4L655.1 607.3M661.2 601.7L666 602.1L670.7 601.7M670.6 593.7L675.5 594.8L679.8 597.2M655.1 607.3L657.9 604.1L661.2 601.7L663.9 598.5L667.2 596L670.6 593.7M670.6 593.7L674.8 591.9L678.6 589.6M531.4 676.1L530.9 674L530.1 672.1M539.6 682L535.2 679.4L531.4 676.1M531.4 676.1L529.1 674.7L526.7 673.9M531.4 676.1L528.9 675.4L526.4 675.1M535.6 675.4L534.2 671.9L533 668.2L532 664.5M532 664.5L533 662.4L533.9 660.2M533.4 672.2L534.5 667.5L536 662.8M536 662.8L537.2 661.1L538.7 659.7M542.9 688.8L541.8 685.2L539.6 682L537.4 678.8L535.6 675.4L533.4 672.2L531.9 668.7M531.9 668.7L529.5 664.7L528.3 660.2M528.3 660.2L528.1 658.3L527.5 656.5M528.3 660.2L528.9 657.8L530.2 655.8M523.3 661.3L521.2 662.1L519.3 663.2M531.9 668.7L529.3 665.9L526.3 663.6L523.3 661.3M523.3 661.3L520.9 660.6L518.5 660.6M523.3 661.3L523.2 658.4L523.1 655.5M522.2 670.8L522.9 669L523.9 667.3M525 677.2L523.2 674.2L522.2 670.8L521.7 667.3M521.7 667.3L521.4 664.6L520.5 661.9M529.7 682.5L527.2 680L525 677.2L523.3 674.1L522.1 670.8L520.9 667.4L519.2 664.3L518 661M520.6 651.1L520.8 648.6L521.6 646.2M518 661L518.7 655.9L520.6 651.1M520.6 651.1L521.4 649L521.5 646.7M520.6 651.1L522.5 650.2L524.5 649.6M510.5 656.8L508.7 654.6L507.4 652.1M506.3 655.9L503.8 656.4L501.2 656.8M518 661L514.6 658.3L510.5 656.8L506.3 655.9M506.3 655.9L503.3 657.6L499.9 658.3M494.4 671.6L493.1 667.3L490.5 663.6M490.5 663.6L490.4 661.2L490.9 658.8M490.5 663.6L489.8 661.9L488.6 660.5M491 670L488.6 666.1L485.6 662.5M485.6 662.5L484 661.5L482.8 660.1M484.3 662.7L485.4 660.6L485.9 658.2M487.2 669.5L485.3 666.3L484.3 662.7L483.7 659M483.7 659L484 656L484.1 652.9M483.7 659L481.6 657.2L479 656.1M483.7 668L481.4 663.6L478.9 659.3M478.9 659.3L479.1 656.9L479.9 654.5M478.9 659.3L478.3 657.3L477.7 655.3M505.3 675L501.8 673.4L498 672.8L494.4 671.6L491 670L487.2 669.5L483.7 668M483.7 668L480.2 667.2L476.7 667.1L473.4 665.9M473.4 665.9L471 664.8L468.5 664.3M473.4 665.9L472.2 664L470.6 662.5M549.2 691.6L545.9 690L543.1 687.5L539.9 685.8L536.7 683.9L533.3 682.7L529.9 681.2L526.5 679.8L523.1 678.3L519.7 677.1L516.1 676.3L512.6 675.2L509.1 673.9L505.5 673.7L501.9 674.5L498.5 675.9M548.9 693.9L545.5 692.3L542.8 689.9L539.6 688.1L536.4 686.2L532.9 685L529.6 683.6L526.2 682.1L522.8 680.7L519.3 679.5L515.8 678.6L512.2 677.6L508.8 676.3L505.1 676L501.6 676.8L498.3 677.2M491.8 681.2L487.6 680.5L483.3 680.1M483.3 680.1L481.9 678.8L480.6 677.3M472.7 695.2L471.3 695.9L470.2 697M478.4 688.4L475.7 691.9L472.7 695.2M472.7 695.2L471.1 696.3L469.4 697.2M498.3 677.2L495.3 679.6L491.8 681.2L489 683.8L485.6 685.6L482.1 687.1L478.4 688.4M478.4 688.4L475.3 691.8L473 695.8M473 695.8L472.2 697.6L471.8 699.6M471.7 697.8L469.6 699.3L467.9 701.4M478.4 688.4L476.3 691.6L473.7 694.5L471.7 697.8M471.7 697.8L471.5 700.8L470.7 703.7M471.7 697.8L470.1 699.5L468.9 701.5M498.3 677.2L495 675.4L491.3 674.7L487.8 673.4L484.3 672.1L480.6 671.8L477.1 670.4L474.1 668.1L471.3 665.7M471.3 665.7L470.5 662L469.6 658.4L467.7 655.1L466.2 651.7M466.2 651.7L462.9 650.8L459.5 650.4M465.3 659.4L462.3 659.9L459.4 660.3M471.3 665.7L468.5 662.3L465.3 659.4L461.4 657.4M461.4 657.4L458.4 655.5L455.1 654.6M461.4 657.4L458.4 655.9L455.4 654.6M562.1 709.7L564.1 712.2L565.1 715.2M562.5 702.6L562.7 706.2L562.1 709.7L562.4 713.3L561.7 716.8M561.7 716.8L559.4 719.5L556.3 721.4M572.9 704.5L576.3 703.8L579.4 702.1M565.6 704.7L569.3 704.5L572.9 704.5L576.5 704.4L579.9 703.2M579.9 703.2L583.6 702.7L587.4 703M579.9 703.2L582.8 702.4L585.9 702.5M574.5 711.8L578.2 710.9L582 710.8L585.7 709.7L589.5 709.6M589.5 709.6L592.4 711.2L595.2 713.1M589.5 709.6L592.5 708.9L595.6 708M549.5 694.9L552.9 696.6L555.7 699.1L559 701L562.5 702.6L565.6 704.7L568.3 707.4L571.1 710L574.5 711.8L577.9 713.3L581.5 714.6M586.9 719.9L590.3 721.3L593.9 722.2M581.5 714.6L584.3 717.1L586.9 719.9L588.6 723.2L590.3 726.6L591.9 730M591.9 730L595.1 732.4L598.6 734.5M578.8 714L583.3 712.5L588.1 711.7M587.1 720.5L586.4 724.4L586.7 728.4M569.1 709.7L572.3 711.1L575.5 712.7L578.8 714L581.7 716L584.6 718L587.1 720.5M587.1 720.5L590.9 722.9L594.9 724.8M587.1 720.5L590.6 722.9L594.6 724.4M587.2 728.7L590.5 729.7L593.9 730.5M589.9 731.8L592.7 731.4L595.5 730.9M580.4 718.8L583.3 721.6L585.2 725.2L587.2 728.7L589.9 731.8M589.9 731.8L590.2 735.2L591.2 738.4M589.9 731.8L591.7 735.7L593.2 739.8M602.3 721L606.1 719.3L610.1 718.2M586.3 723.1L590.4 723L594.4 722.2L598.4 722.2L602.3 721L606.4 720.5M606.4 720.5L611.3 720.1L616.3 720.4M606.4 720.5L611.3 721.1L616.1 722.3M556.3 696.7L559 699.2L561.7 701.7L563.6 704.8L566.3 707.3L569.1 709.7L571.8 712.1L574.2 714.9L577.4 716.7L580.4 718.8L583.3 721L586.3 723.1L588.8 725.8M600.3 729.9L604.1 728.3L607.8 726.3M588.8 725.8L592.3 728L596.3 729L600.3 729.9L604.3 730.8L608.3 731.6M608.3 731.6L611.3 734.6L614.3 737.4M608.3 731.6L612.3 733.4L615.7 736M604.8 686.3L607.6 684.1L610.9 682.7M590.5 694.6L593.8 692.1L596.9 689.2L600.6 687.2L604.8 686.3M604.8 686.3L608.3 686.1L611.7 685.6M604.8 686.3L608.3 684.3L611.2 681.5M598.6 687.2L602.2 686.1L605.8 685.3M601.5 679.5L599.8 675.2L598.9 670.6M602.3 675.5L605.2 672.8L607.5 669.6M594 694L596.3 690.6L598.6 687.2L599.7 683.3L601.5 679.5L602.3 675.5M602.3 675.5L599.4 671.6L596.4 667.7M602.3 675.5L604.9 671.1L607.4 666.7M569.5 692.2L572.9 693.6L576.2 694.7L579.8 695.4L583.4 695.4L586.9 694.8L590.5 694.6L594 694L597.6 693.8L601.2 693.9L604.7 693.4L608.3 693.9L611.7 694.7L615.1 695.9M630.8 693.8L634.6 694.5L638.1 696.3M615.1 695.9L619.1 695.8L623.1 695.5L626.9 694.3L630.8 693.8L634.5 692.2M634.5 692.2L639.4 692L644.2 690.8M575.2 680.3L577.9 677.6L580 674.3L581.4 670.7L583.8 667.8L586.7 665.2M586.7 665.2L590.5 662.1L594.9 660M565 664.7L561.8 662.1L558.4 659.8M575.7 676.6L573.1 673.6L570 671L567.2 668.1L565 664.7L561.9 662.1M561.9 662.1L560.3 658.9L559.4 655.5L559.3 652M561.9 662.1L558.8 660.1L556.4 657.3L553.9 654.5M584.4 656.1L586.5 652.7L588.4 649.1M578.4 662.1L581 658.7L584.4 656.1L588.2 654.1L591.6 651.6M591.6 651.6L596 650L600.2 647.9M575 687.6L575.2 684L575.2 680.3L575.7 676.6L576.7 673.1L577.2 669.4L577.8 665.8L578.4 662.1L579.9 658.8L581.4 655.4L583.4 652.3L585.5 649.3L587.6 646.2M602.5 636.7L604.5 633.7L605.6 630.3M587.6 646.2L590.3 643.9L592.9 641.5L596 639.6L599.3 638.2L602.5 636.7M602.5 636.7L607 636.9L611.4 636.8M594.2 633.6L597.9 633.4L601.6 633M587.6 646.2L589.5 643.2L590.9 639.9L592.1 636.5L594.2 633.6L595.3 630.2M595.3 630.2L597.3 625.9L600.3 622.4M590.5 673.3L591.1 669.7L592.5 666.4L594.1 663.1L596.1 660.2L598.3 657.3L599.6 653.9M599.6 653.9L599.3 650L598.5 646.1L596.8 642.6M599.6 653.9L599.3 648.9L599.4 643.9M598.8 658L601.8 656.1L604.9 654.4L608.2 653.5L611.6 652.5L615.1 652.2L618.6 651.8M618.6 651.8L623.3 650L627.6 647.3M618.6 651.8L623.3 652.2L627.9 651.4M580.7 683.4L582.7 680.5L585.3 678.1L587.6 675.3L590.5 673.3L593.2 670.9L595.3 668.1L596.6 664.8L597.6 661.3L598.8 658L600.8 655L602.5 651.9L603.9 648.6L606.1 645.8M606.1 645.8L609.2 644.1L612.6 643.1L616 642L619 640.2L621.9 638.2L625 636.5M625 636.5L629.8 635.6L634.2 633.4M625 636.5L628.5 635.4L631.5 633.4L634.1 630.8M608.2 634.9L610.5 631.1L612.6 627.1M609.9 627.6L609.1 623.2L607.3 619M606.1 645.8L607.3 642.3L607.5 638.5L608.2 634.9L609.3 631.3L609.9 627.6M609.9 627.6L613.7 625.2L617.5 622.7M609.9 627.6L608.5 623.8L606.5 620.4M622 678L624.5 682.1L628 685.4M632.8 688.5L637.2 687.8L641.6 687M616 673.2L618.7 676L622 678L625.6 679.6L628.5 682L630.6 685.3L632.8 688.5M632.8 688.5L634.6 692.3L636.4 696L638 699.9M627.6 674.6L630.1 678.9L631.5 683.7M619.4 674.4L623.5 674.3L627.6 674.6L631.6 673.7L635.7 673L639.6 672M639.6 672L644.7 672.2L649.5 673.8M639.6 672L644.4 673.6L649.4 674.6M587.7 675.6L591.1 674.4L594.7 674.3L598.3 674.2L601.8 673.5L605.4 672.9L608.9 672.2L612.5 672.4L616 673.2L619.4 674.4L622.8 675.6L626.3 676.7L629.7 677.9L633.1 678.9M644.5 667.7L648.3 667.8L651.8 669.1M633.1 678.9L636.4 676.6L639.5 674L642 670.8L644.5 667.7L647.8 665.2M647.8 665.2L650.3 662.8L652.7 660.3L655.4 658M647.8 665.2L652.2 665.1L656.6 665.7M640.6 686.7L640.6 690.9L640.6 695.1M649.1 693.4L653.2 693L657.3 693.7M633.1 678.9L636.1 681L638.3 683.9L640.6 686.7L643.5 688.9L646.5 690.9L649.1 693.4M649.1 693.4L653.5 694.3L657.8 695.2M649.1 693.4L651.5 696.3L653.5 699.5L656.1 702.2M627 657.5L631.1 658.9L634.9 661.1L638.8 663.2L642.8 664.8M642.8 664.8L646 667.3L648.3 670.6M602.1 665.5L605.9 665.4L609.5 664.2L613.2 663.5L616.8 662.3L620.3 660.9L623.4 658.8L627 657.5L630.7 656.7L634.5 656.7L638.2 656.9M650.3 658.5L652.9 656.4L655.7 654.6M638.2 656.9L642.2 657.9L646.2 658.4L650.3 658.5L654.4 658.8M654.4 658.8L657.8 657.7L661.4 657.5M654.4 658.8L657.9 658.1L661.4 657.1M645.8 666.6L650 668.4L654.1 670.8M648.7 669.4L652.4 672.7L656.7 675.1M638.2 656.9L640.9 660L643.7 663L645.8 666.6L648.7 669.4L651.2 672.7M651.2 672.7L655.8 674.5L660.4 676.3M651.2 672.7L654 675.1L657.3 676.9L660.7 678.5M630.1 680.6L629.3 684.2L629.2 687.8M635.9 686.3L639.1 688.1L641.8 690.6M624.8 674.4L627.4 677.5L630.1 680.6L633.1 683.3L635.9 686.3M635.9 686.3L638.3 689.6L639.7 693.5M635.9 686.3L639.8 687.1L643.6 688.3M645.5 667.2L646.9 663.9L648.6 660.6M628.4 675.5L631.9 674L635.3 672.3L638.7 670.6L641.9 668.5L645.5 667.2M645.5 667.2L649.3 666.7L653.2 666.7M645.5 667.2L649.3 667.9L652.9 669.7M631.7 677.4L633.4 681.4L635.6 685.1L638.1 688.6L640.7 692M640.7 692L644.9 694L649.4 694.8M640.7 692L642.5 696.3L645.4 700M609 663.8L611.9 666.2L615.3 668.1L618.6 669.9L621.6 672.3L624.8 674.4L628.4 675.5L631.7 677.4L634.2 680.3L636.2 683.5L637.7 687.1M637.7 687.1L636 690.9L634.7 694.9L632.5 698.4L629.7 701.6L627.8 705.3M627.8 705.3L624.4 708.5L621.7 712.4M627.8 705.3L628.6 708.7L629.2 712.2L628.8 715.7M648.2 701.8L650.9 703.8L653.8 705.4M637.7 687.1L639.8 690.1L642.4 692.7L645 695.2L647.1 698.3L648.2 701.8M648.2 701.8L649.8 705.9L650.9 710.2M648.2 701.8L651.8 703.1L655.2 704.8M658.9 663.1L662.7 662.1L666.4 660.6M649.2 668.1L652.5 666.5L655.6 664.7L658.9 663.1L661.7 660.8L663.7 657.8M663.7 657.8L664.4 653.3L664.7 648.7M616.1 664.3L619.7 663.7L623.5 663.9L627.1 664.7L630.8 665.4L634.4 666.1L638.1 666.9L641.9 666.9L645.6 667.3L649.2 668.1L652.9 668.8L656.6 669.5L660.2 670.3M660.2 670.3L663.5 668.2L666.3 665.5L668.8 662.5L671.2 659.4L673.6 656.4M673.6 656.4L675.8 652.8L677 648.8M675.7 667.1L678.3 664.1L680.9 661.1M660.2 670.3L664.1 669.6L668.1 669L672 668.5L675.7 667.1L679.7 666.6M679.7 666.6L684.9 667L689.9 668.3M639.1 670.7L642.5 672.5L646 673.9L649.7 674.8L653.3 676L657.1 676.3L660.9 676.6M660.9 676.6L663.4 679.7L665.2 683.2L667.3 686.6M660.9 676.6L664.7 676.3L668.3 675.1L672 674.6M656.3 667.5L661.4 668.2L666.6 667.8M661.6 661.8L663.5 658.7L666.3 656.3L669.3 654.3M664.6 659.4L667.5 655.2L670.7 651.1M645.9 672.5L649.7 671.8L653.1 669.8L656.3 667.5L658.9 664.7L661.6 661.8L664.6 659.4M664.6 659.4L667.7 657.3L670.3 654.6L672.4 651.5M664.6 659.4L669.1 657.2L673.4 654.8M674.2 676.4L675.8 672.2L677.7 668.2M664.1 682.4L667.6 680.6L670.6 678L674.2 676.4L677.4 674.2L679.9 671.1M679.9 671.1L681.6 667.3L684 664M679.9 671.1L681.7 666.7L683.2 662.2M626.6 664.7L629.3 666.9L632.4 668.7L635.7 670L639.1 670.7L642.5 671.5L645.9 672.5L649.3 673.3L652.7 674.4L655.6 676.2L658.1 678.7L660.9 680.8L664.1 682.4L667.4 683.4L670.7 684.8M680.9 687.1L685.6 687.2L690.1 686.4M670.7 684.8L673.8 686.5L677.3 687.3L680.9 687.1L684.3 686L687.8 684.9L691.1 683.6L694.7 683M694.7 683L698.9 683.5L703.1 683.3L707.3 683.2M679.3 693.7L682.1 697.2L684.2 701.1M683 695.7L686 699.5L688.1 703.9M670.7 684.8L673 688.2L676.1 691.1L679.3 693.7L683 695.7L686.1 698.5M686.1 698.5L689.2 702.1L692.6 705.2M539.4 697.5L542.8 696.4L546.4 696.1L549.9 696.1L553.3 697L556.8 697.9L560.3 697.8L563.7 696.7L566.7 694.8L570 693.4L572.8 691.3L575.4 688.9L578.5 687.1L581.1 684.7L584 682.5L586 679.7L588.1 676.8L590.5 674.2L593.6 672.3L596.8 670.8L599.7 668.8L602.5 666.7L605.9 665.5L609.4 665.1L613 665.2L616.5 665.6L620 665.1L623.5 665.5L627.1 665.9M538.7 695.3L542 694.2L545.6 693.9L549.1 693.9L552.6 694.8L556 695.7L559.5 695.6L562.9 694.5L565.9 692.6L569.2 691.2L572 689.1L574.7 686.7L577.8 684.9L580.3 682.5L583.2 680.3L585.3 677.5L587.3 674.6L589.7 671.9L592.8 670.1L596 668.6L598.9 666.6L601.8 664.5L605.1 663.2L608.6 662.9L612.2 663L615.7 663.4L619.2 662.9L622.7 663.3L626.6 664.7M645.2 652.5L646.1 648.8L648.1 645.6M633.8 665.7L636.2 663.1L638.3 660.4L641 658.1L643 655.2L645.2 652.5M645.2 652.5L645.1 648.1L645.8 643.7M645.2 652.5L648.6 650.4L651.4 647.5M644 660L648.8 661.5L653.7 661.8M646.9 657L651 655.3L654.3 652.5M649.5 653.7L653.6 651.3L658 649.6M637.4 665.1L640.6 662.5L644 660L646.9 657L649.5 653.7L652 650.4M652 650.4L654.7 647.8L657.9 645.8L660.2 642.9M652 650.4L651.5 645.2L650.9 640M640.9 664.3L644.7 665.2L648.5 666.2L652 667.9L655.3 670L659 671.5M659 671.5L664.2 671.5L669.4 671.4M670.3 683.6L673.5 686.2L677.2 688M666.1 666.7L668.3 669.6L669.5 672.9L670.3 676.4L670.3 680L670.3 683.6M670.3 683.6L671.4 687.6L673.6 691.2M670.3 683.6L671.4 688.3L672.2 693.1M626.6 664.7L630.2 665.3L633.8 665.7L637.4 665.1L640.9 664.3L644.5 664.6L648.1 664.8L651.8 665.1L655.3 665.8L658.9 666.3L662.5 666.1L666.1 666.7L669.7 666.4M685.4 666.5L689.4 663.2L693.6 660.1M669.7 666.4L673.6 665.9L677.6 666.4L681.5 666.8L685.4 666.5L689.4 666.5L693.2 667.4M693.2 667.4L697.9 668.6L702.3 670.4M693.2 667.4L696.9 667.6L700.6 667.2L704.3 666.4M645.9 660.7L650 657.6L653.2 653.7M654.1 659.3L657.8 657.2L660.6 654.1M634.1 664.7L638.2 663.8L642.1 662.3L645.9 660.7L650 659.8L654.1 659.3M654.1 659.3L658.4 658.5L662.6 657.1M658.3 652.4L659.2 648.5L659.3 644.4M645.5 663.6L648.6 660.7L651.6 657.6L655.3 655.5L658.3 652.4M658.3 652.4L661.5 649.1L665.3 646.6M672.2 665.4L675.9 668L680 670M656.7 664.4L660.6 663.9L664.6 663.4L668.5 663.8L672.2 665.4L675.5 667.5M675.5 667.5L679.7 670.1L684.5 671.6M626.6 664.7L630.4 664.1L634.1 664.7L637.9 664.5L641.7 664.2L645.5 663.6L649.3 663.3L653.1 663.3L656.7 664.4L660 666.2L663.4 668L666.7 669.8M682.5 685.6L687.3 687.5L692.3 688.2M666.7 669.8L669.5 672.3L672.2 675L675.6 676.7L678.3 679.4L680.2 682.6L682.5 685.6M682.5 685.6L684.6 689L687.3 691.9L690.5 694.3M682.5 685.6L687.6 686.7L692.6 687.8M679.4 671.2L680.8 673.9L682.2 676.6M666.7 669.8L670.8 671L675.1 671L679.4 671.2L683.6 670.9M683.6 670.9L687.5 669.9L691 667.9M575 697.7L574.5 693.6L574.7 689.3M565.4 704.1L568.7 702.1L571.7 699.7L575 697.7L578.5 696.2L581.9 694.4M581.9 694.4L586.3 693.2L590.2 690.9M586.1 685.6L588.6 681.4L591.5 677.3M575.2 700L577.6 697.3L579.5 694.2L581.4 691.1L583.6 688.2L586.1 685.6L588 682.5M588 682.5L590.1 679.6L592.5 677L595.6 675.1M578.5 698.7L582.1 699.2L585.7 698.9L589.2 699.4L592.8 700.3L596.3 700.8L599.8 701.7M599.8 701.7L603.6 704.9L607.3 708.2M599.8 701.7L604.2 701.1L608.6 700.3M596.3 696.7L600.6 695.5L604.9 694M600 697.9L601 702.2L602.3 706.5M588.6 695.5L592.4 696.2L596.3 696.7L600 697.9L603.9 698.5L607.8 698.3M607.8 698.3L612.6 697.2L617.4 697.2M607.8 698.3L612.6 699.8L617.2 702M545.7 711.7L549.1 710.5L552.1 708.6L555.3 707.2L558.6 705.7L561.9 704.5L565.4 704.1L568.8 702.9L571.9 701.2L575.2 700L578.5 698.7L581.8 697.4L585.3 696.8L588.6 695.5L592 694.5M602.2 679.8L600.8 674.8L601 669.7M592 694.5L595 692.3L597.8 689.9L599.9 686.8L601.3 683.4L602.2 679.8L604.2 676.6M604.2 676.6L606.4 672.2L609.6 668.4M599.6 693.2L603.8 693.7L607.8 695.1L611.5 697.1M603.2 691.8L604.9 687.1L606.4 682.3M592 694.5L595.9 694L599.6 693.2L603.2 691.8L606.9 690.7L610.7 690.8L614.4 692L618.2 692.8M618.2 692.8L622.7 692.8L627.3 692.5L631.7 691.7M618.2 692.8L622.1 694.9L626 697.1L629.8 699.6M579.2 706.7L581.8 703.6L584.1 700.1L585.3 696.2L585.3 692M585.3 692L584.3 688.5L582.3 685.5M585.3 692L584.6 688.7L583.5 685.5M585.1 702.4L587.1 699.3L589.1 696.1L590.8 692.7L592.8 689.5M592.8 689.5L595.4 687.1L598.3 685.2M569 710.7L572.3 709.1L575.8 708.2L579.2 706.7L582.1 704.6L585.1 702.4L588.4 700.9L591.9 699.9L595.4 699.1L599.1 699.3L602.7 699.4L606.3 699.9M620.8 698.3L623.7 695.2L626.3 691.9M628 699.2L630 702.8L632.5 706.1M606.3 699.9L609.9 699.4L613.5 698.6L617.1 698.8L620.8 698.3L624.4 698.5L628 699.2M628 699.2L632.8 700.6L637.2 702.7M626 707.8L628 712.3L628.6 717.3M606.3 699.9L609.7 701L613.1 702L616.5 703L619.8 704.3L623 705.8L626 707.8M626 707.8L631.2 707.3L636.4 706.7M626 707.8L626.7 711.6L627.4 715.3L627.9 719.1M611.1 745.9L613.5 749.1L616.6 751.7M614.5 732L613.7 735.4L612.9 739L611.9 742.4L611.1 745.9L610.5 749.5M610.5 749.5L610.8 754.3L611.1 759.1M610.5 749.5L610 753.9L609.8 758.5M616.1 742.6L617.9 745.9L620.5 748.7L623.1 751.4L625.8 754.1L628.5 756.7M628.5 756.7L631 759.8L634.1 762.3M628.5 756.7L632.3 759.7L635.1 763.6M620.3 756.2L623.4 757.9L626.1 760.2L629.3 761.7L632.7 762.4L636.2 762.9L639.6 763.8M639.6 763.8L642.9 765.3L646.2 766.6L649.7 767.2M639.6 763.8L642.5 767.2L645.6 770.4M609.1 722.7L611.5 725.5L613.3 728.6L614.5 732L615.5 735.4L616.2 739L616.1 742.6L616.4 746.2L617.5 749.7L618.4 753.1L620.3 756.2L623 758.7L625.4 761.4L627.6 764.2M627.6 764.2L628.8 767.6L629.8 771.1L630.7 774.6L631.7 778.1L633.5 781.3L635.9 784L638 786.9M638 786.9L640 791.7L642.6 796.2M646.9 712.6L647.3 709.1L648.2 705.7M650 705.3L647.7 701.1L644.9 697.3M639.7 721.9L642.6 719.3L644.9 716L646.9 712.6L648.3 708.9L650 705.3M650 705.3L651.9 701.6L653.1 697.7M650 705.3L653.4 702.4L656.9 699.7M653.9 719.5L656.9 718.1L660.1 717.5M661.8 720.5L665.2 719.3L668.6 717.9M646 718.9L649.9 719.5L653.9 719.5L657.8 719.8L661.8 720.5M661.8 720.5L664.3 722.4L666.7 724.5M661.8 720.5L665.5 721.5L669.1 722.6M659.9 716.8L663.5 715.9L667.2 715.6M663.8 717.2L667.1 715.3L670.4 713.4M652.3 715.9L656.1 715.9L659.9 716.8L663.8 717.2L667.6 718M667.6 718L670.6 719.7L673.3 722M666.4 713.2L670.4 713.2L674.3 711.9M659.2 715.7L663 714.9L666.4 713.2L669.9 711.9L673.7 711.3L677.3 710M677.3 710L680.9 707.9L684.7 706.2M619.1 725.7L622.5 724.6L626 724.5L629.5 724.4L633 724.1L636.4 723.1L639.7 721.9L643 720.7L646 718.9L648.9 716.9L652.3 715.9L655.7 715.4L659.2 715.7M659.2 715.7L662.5 717.6L665.6 720L667.9 723.1L670.8 725.7L672.9 728.9L675.7 731.6M675.7 731.6L678.6 735.1L681.4 738.8M675.7 731.6L679.6 733.2L683.4 735L687 737.3M671.8 730L675.4 731.2L678.9 732.5M659.2 715.7L662.4 717.8L664.9 720.7L667.2 723.8L669.5 726.9L671.8 730M671.8 730L676.5 731.8L680.9 734.2M635.5 698.1L634.4 693.7L633.2 689.2M634.6 716.7L635.2 713L635.2 709.3L635.4 705.5L635 701.8L635.5 698.1M635.5 698.1L634.9 693.6L633.1 689.5M635.5 698.1L635.9 693.9L636.9 689.8M658.3 705.3L661.5 702.9L664.9 700.7M641.4 708.3L645.7 707.9L649.9 707.1L654.1 706.2L658.3 705.3M658.3 705.3L662.8 705.3L667.2 705.9M658.3 705.3L660.6 702.3L662.4 699M636 689.6L636.3 685.3L635.5 681.1M642.9 705L642.9 701.5L642 698.1L640.6 694.9L638.6 692L636 689.6M636 689.6L632.6 686.6L629.1 683.5M636 689.6L635.7 685.3L636 681M657.7 696.4L659.8 693.1L662 689.9M644.5 701.8L647.7 700.2L651 698.9L654.4 697.8L657.7 696.4L660.9 694.8L663.9 693M663.9 693L667.4 691.8L671.1 691.7L674.7 692.3M663.9 693L667.1 689.5L669.4 685.4M653.4 679.6L653.7 674.5L655.5 669.8M646 698.5L646.7 694.4L648.3 690.7L650.6 687.3L652.2 683.5L653.4 679.6M653.4 679.6L654 676L653.5 672.4L653.3 668.8M653.4 679.6L656.5 676.4L659.3 673M645.5 688L642.2 684.1L638 681.2M642.3 681.2L643 676.2L642.5 671.1M647.5 695.2L646.1 691.7L645.5 688L644 684.6L642.3 681.2L641.4 677.6L641.4 673.8M641.4 673.8L640.8 669.2L641.5 664.6M641.4 673.8L639.5 670.7L637.5 667.5L635.8 664.2M625.8 727.9L628.7 725.8L631.2 723.1L633.1 720L634.6 716.7L636.7 713.8L639.3 711.2L641.4 708.3L642.9 705L644.5 701.8L646 698.5L647.5 695.2L649.1 691.9L650.6 688.6M651.8 681.6L652.6 677.1L652.6 672.6M650.6 688.6L651.7 685.2L651.8 681.6L651.3 678L650.4 674.5L649.3 671L648.2 667.5L647.3 664M647.3 664L647 659.4L647 654.8L648.4 650.3M647.3 664L647.8 660.4L649.2 656.9L651.4 654M635.8 770.7L637 774.1L638.3 777.5M634.1 774.1L635.2 777.5L636.6 780.9M631.6 777L628.9 777.3L626.2 776.8M638.3 763.4L637 767.1L635.8 770.7L634.1 774.1L631.6 777M631.6 777L630.1 780.1L628.2 783M631.6 777L630.2 780.1L629.1 783.2M637.5 778.7L635.1 781.6L633.2 785M637.2 782.6L639.1 784.6L641.5 786.2M638.4 770.9L637.8 774.8L637.5 778.7L637.2 782.6L637.9 786.4M637.9 786.4L637.6 789.7L636.2 792.7M637.9 786.4L639.7 789.4L641.9 792.1M636 730.2L637.7 733.6L638.4 737.3L638.2 741L638.5 744.7L638.3 748.5L638.1 752.2L638.5 755.9L638.3 759.7L638.3 763.4L638.1 767.2L638.4 770.9M643.8 776.1L647.5 775.8L651.2 776L654.7 777.2M646 779.1L649.9 781.9L653.4 785.2M647.8 782.4L646.4 786.4L646.1 790.7M652.7 788.1L654.5 792.3L657.2 795.9M638.4 770.9L641.2 773.4L643.8 776.1L646 779.1L647.8 782.4L650 785.4L652.7 788.1M652.7 788.1L653.8 792.8L654.6 797.5M652.7 788.1L655.9 789.6L659.4 790.4L663 790.4M539.3 714.8L542.8 714.2L546.1 712.9L549.2 711.4L552.3 709.8L555.7 709.1L559.2 709.1L562.6 710L566 710.9L569.4 711.9L572.7 713L576 714.2L579.3 715.3L582.6 716.4L585.9 717.6L589.3 718.6L592.6 719.6L596 720.7L599.3 721.8L602.8 721.9L606.1 722.8L609.5 723.9L612.8 725.1L616.1 726.2L619.5 727L622.8 728L626.2 729.2L629.6 729.6L633 730.4L636.4 731.5M538.7 712.6L542.2 711.9L545.4 710.7L548.6 709.2L551.7 707.5L555.1 706.9L558.6 706.9L562 707.8L565.4 708.6L568.7 709.7L572.1 710.8L575.4 711.9L578.7 713.1L582 714.2L585.3 715.3L588.7 716.3L592 717.3L595.3 718.5L598.6 719.6L602.1 719.7L605.5 720.6L608.8 721.7L612.1 722.8L615.5 724L618.9 724.7L622.2 725.8L625.5 726.9L629 727.4L632.4 728.1L636 730.2M645.9 745.2L646.2 749.2L646.4 753.3M648 753.2L648.9 756.9L650.6 760.3M642.7 733.5L644.8 737L646 741L645.9 745.2L646.5 749.3L648 753.2M648 753.2L651.4 756.7L654.3 760.7M648 753.2L647.3 756.6L646.4 760.1L646.4 763.7M649.1 754.1L645.5 755.5L642.1 757.5M645.1 761.2L642.2 763.5L639.8 766.3M653.6 742.9L652.7 746.8L651 750.5L649.1 754.1L647.1 757.6L645.1 761.2M645.1 761.2L642.4 764.4L639.3 767.1M658.4 782.4L662.4 784.8L666.5 786.9M659.4 764.3L658.4 767.8L658.3 771.4L657.9 775.1L658.1 778.7L658.4 782.4L658.3 786M658.3 786L655.5 790L653.3 794.3M658.3 786L657.2 791L655.8 795.8M636 730.2L639.3 732L642.7 733.5L646 735.1L649.2 737L651.7 739.7L653.6 742.9L654.9 746.3L655.8 749.9L656.7 753.5L657.6 757.1L658.5 760.7L659.4 764.3L660.3 767.9L661.9 771.2M660.2 783L661.9 786.3L662.9 789.8L664.5 793.2M658.2 786.4L654.2 787.6L650.7 790L647.3 792.4M661.9 771.2L661.4 775.2L661.1 779.1L660.2 783L658.2 786.4L656.4 789.9L655.5 793.8L654.1 797.5M654.1 797.5L652.7 800.9L652.2 804.6L650.8 808.1L649.7 811.6M654.1 797.5L656 801.4L658.1 805.2L660.9 808.3M662 778.7L657.8 781.8L653.9 785M661.9 771.2L662.4 775L662 778.7L661 782.4L660.6 786.2L660 789.9L659.1 793.6M659.1 793.6L658.6 798.6L657.6 803.5M659.1 793.6L656.7 797.6L653.8 801.3M653.1 725L656 728.7L659.3 732.1M664.3 727.1L669 727.2L673.6 727.8M645.4 724.9L649.3 724.8L653.1 725L656.8 725.9L660.7 725.9L664.3 727.1L667.9 728.4M667.9 728.4L671.3 729.3L674.8 729.6L678.3 730.1M654.7 709.6L654.9 705.7L654.2 701.9M651.3 720.8L653.2 717.4L654 713.5L654.7 709.6L654.8 705.7L654.8 701.7M654.8 701.7L656.8 698.1L659.6 695.1M660.3 715.1L663.9 715.5L667.6 715.5L671.2 716.4M663.6 714.1L667.3 712.4L671.2 711.4L675 710M667 713.1L670.2 714.6L673.6 715.7L677.1 716.5M670.1 711.5L673.3 708.3L676.5 705.1M654.4 718.9L657.1 716.7L660.3 715.1L663.6 714.1L667 713.1L670.1 711.5L673.5 710.5L676.8 709.5M676.8 709.5L680.9 708.6L685.1 708.5L689.3 708.9M670.9 704.6L675.4 703.4L679.9 702.3M674.4 697.5L677.9 696L680.9 693.6L683.7 690.9M664.4 714.6L666.6 711.3L668.5 707.8L670.9 704.6L672.4 700.9L674.4 697.5L675.4 693.6M675.4 693.6L677.1 689.7L678.8 685.8L679.9 681.6M685.3 712.2L688.5 716L692.5 718.9M688.8 712.9L692.2 716.4L695 720.5M692.4 712.7L696.2 715.9L699.1 719.9M671.1 711.8L674.7 712L678.2 711.2L681.8 711.3L685.3 712.2L688.8 712.9L692.4 712.7M692.4 712.7L697.6 712.5L702.8 712.1M692.4 712.7L695.9 713L699.3 713.9L702.5 715.5M683.6 706.1L687.5 708.3L691.8 709.5M695.6 692.8L698.6 690.8L701.8 689.4L704.6 687.2M678.3 711L680.7 708.4L683.6 706.1L686.3 703.7L688.1 700.6L690.4 697.8L693.1 695.4L695.6 692.8M695.6 692.8L698.5 689.8L701.1 686.8L702.9 683.1M636 730.2L639.3 728.6L642.6 727.2L645.4 724.9L648.1 722.5L651.3 720.8L654.4 718.9L657.8 717.7L661.3 716.4L664.4 714.6L667.8 713.4L671.1 711.8L674.6 711.1L678.3 711L681.8 711.8M689.6 710.6L692.5 712.7L695.1 715.2L698 717.3M681.8 711.8L685.8 711.6L689.6 710.6L693.5 710.8L697.5 710.2L701.4 710.6L705.3 711.1M705.3 711.1L708.6 713.4L711.5 716.4L714.9 718.5M532.5 729.6L533.1 733.3L533 737M533 737L532.4 738.6L532 740.3M533 737L532.2 738.4L531 739.6M528.6 745.3L528.1 747L527.5 748.7M528.9 737.1L528.9 741.2L528.6 745.3M528.6 745.3L527.7 746.9L526.5 748.2M538.5 718.9L536.1 722.2L534.5 726.1L532.5 729.6L530.5 733.3L528.9 737.1M528.9 737.1L527.4 741.7L526.6 746.4M526.6 746.4L526.2 749L526.4 751.5M526.6 746.4L526.6 748.4L527.3 750.4M528.9 737.1L525.6 740.6L523.1 744.6M523.1 744.6L521.1 745.3L519 745.4M523.1 744.6L522 746.7L521.2 748.9M535.2 720.2L534 723.9L533.7 727.8L532.4 731.5L531 735.1L529.9 738.9M529.9 738.9L530.7 742.3L532.2 745.5L533.3 748.8M533.3 748.8L532.3 751.3L531.7 753.8M529 747.1L527.6 748.5L526 749.8M529.9 738.9L530.1 743L529 747.1M529 747.1L529.7 748.6L530.5 750M506.7 733.4L503 735.9L499.9 739.2M499.9 739.2L497.8 739.7L496 740.8M499.9 739.2L498.8 741.1L497.3 742.8M511.9 727.3L508.8 729.9L506.7 733.4L504.8 736.9L501.9 739.8L498.6 742M489.7 745.7L489.2 747.6L488.2 749.2M498.6 742L494 743.7L489.7 745.7M489.7 745.7L487.6 746.3L485.7 747.2M498.6 742L494.2 744.3L489.6 746.3M489.6 746.3L487.7 748.1L485.7 749.8M489.6 746.3L488.1 748.4L486.6 750.5M498.1 735.5L493.8 735.4L489.5 734.5L485.5 733.2M485.5 733.2L482.4 732.8L479.4 732.8M485.5 733.2L481.9 733.4L478.7 734.8M484.1 747.1L483 748.8L481.8 750.4M493.5 741.5L490.1 743L487.2 745.2L484.1 747.1M484.1 747.1L482 748L479.9 748.6M491.1 744.4L491.2 748.5L490.5 752.6L491 756.6M491 756.6L492.6 759.3L493.5 762.3M492.5 755.9L495.2 757.6L498.1 758.8M492.6 760.1L491.4 762.4L490.2 764.7M489.6 747.9L491.3 751.8L492.5 755.9L492.6 760.1M492.6 760.1L493.2 762.7L494.2 765.1M492.6 760.1L493.4 762.6L494.9 764.8M504.9 726.6L502.3 729.3L500.3 732.5L498.1 735.5L495.6 738.4L493.5 741.5L491.1 744.4L489.6 747.9M489.6 747.9L490.5 751.3L491.1 754.8L492 758.2M492 758.2L492.6 760.8L492.8 763.5M492 758.2L491.3 761L491.1 763.9M480.7 757.7L478.4 757.6L476.1 757.3M489.6 747.9L486.4 751L483 753.9L480.7 757.7M480.7 757.7L479.9 760.4L479 763M498 724.9L494.5 724.2L490.9 724.4L487.6 725.6L484.2 726.7L480.6 727.2L477 727.1L473.5 728.1M473.5 728.1L469.9 730.3L465.7 731.4L461.4 732M461.4 732L458.9 733L456.2 733.9M461.4 732L458.8 731.2L456 730.9M466.3 733.5L466.3 736.9L466.9 740.2M462.4 735.8L459.4 734.8L456.7 733.3M473.5 728.1L469.5 730.2L466.3 733.5L462.4 735.8M462.4 735.8L459.7 737L457 738M462.4 735.8L459.2 737.2L455.6 737.6M549.2 717.4L545.7 717.1L542.2 716.9L538.7 717.6L535.4 718.9L531.9 719.2L528.4 719.8L525.1 720.8L521.9 722.3L518.7 723.8L515.5 725.4L512.1 726L508.6 725.6L505.1 725.3L501.6 724.6L498.2 723.6M548.8 719.7L545.3 719.4L541.8 719.2L538.4 719.9L535.1 721.2L531.6 721.5L528.1 722.1L524.7 723.1L521.5 724.6L518.4 726.2L515.2 727.7L511.7 728.3L508.2 727.9L504.7 727.6L501.3 726.9L498 724.9M498 724.9L494.5 724.5L491 725L487.5 725.7L484.4 727.4L481.4 729.2L478 730.3L474.5 730.8L470.9 730.9M463.6 729.2L461.4 730.9L459 732.2M456 729.9L453.6 727.6L450.6 726M470.9 730.9L467.4 729.5L463.6 729.2L459.8 729.6L456 729.9M456 729.9L452.5 729L448.8 728.7M456 729.9L452.9 729.7L449.8 729.9M458.7 723.9L458.1 720.9L458.4 717.8M470.9 730.9L467.5 729.9L464.3 728.4L461.7 725.9L458.7 723.9M458.7 723.9L456.4 720.9L454.6 717.6M490.7 722.2L485.6 722.9L480.9 725M480.9 725L478.6 726.2L476.2 727.3M480.9 725L478.2 724.7L475.5 724.6M486.7 722.2L482.7 721.1L478.5 721.3M478.5 721.3L477.2 722.5L475.8 723.5M482.9 722.9L479.2 725.6L475.5 728.2M475.5 728.2L474.5 729.8L474.1 731.6M475.5 728.2L474.1 730.2L472.7 732.2M498 724.9L494.5 723.2L490.7 722.2L486.7 722.2L482.9 722.9L479.1 724L475.2 724.8M475.2 724.8L471.8 723.6L468.3 722.9L464.7 722.2M464.7 722.2L462.5 722.1L460.2 722M464.7 722.2L463.1 720.6L461.7 718.7M475.2 724.8L471.8 726L468.7 727.9L465.9 730.2M465.9 730.2L465.6 732.4L464.6 734.5M465.9 730.2L464.2 731.7L462.4 733.2M574.8 712.7L579 711.8L583.2 712.3M576.9 709.9L578.5 706.3L580.1 702.7M570.6 718.3L572.5 715.3L574.8 712.7L576.9 709.9L578.8 706.9L580.8 704.1L582.6 701.1M582.6 701.1L582.6 697.2L583.8 693.5L583.8 689.7M582.6 701.1L585.9 697.2L588.4 692.7M573.2 695.2L570.5 692.4L568.5 689.1L566.2 686M573.5 716.1L574.3 712.7L574 709.2L574.2 705.6L574.1 702.1L573.3 698.7L573.2 695.2L573.5 691.7M573.5 691.7L575.8 687.3L578.2 682.9M573.5 691.7L575.1 688.3L576.4 684.7L577 680.9M601.5 693.6L602.5 690L603 686.4L603.4 682.7M604.5 691.1L608.1 690.1L611.7 689.4L615.2 688.1M607.6 688.7L607.5 685.1L607.1 681.5L607.3 677.8M587.8 700.5L591.5 699.4L594.9 697.5L597.9 695.1L601.5 693.6L604.5 691.1L607.6 688.7M607.6 688.7L610.8 687.2L613.9 685.4L616.8 683.4M576.5 675.7L574.8 671.1L574 666.3M589.9 689.8L587.7 686.6L584.9 683.8L582.3 680.9L579 678.7L576.5 675.7M576.5 675.7L574 673.3L571.8 670.5L569 668.4M576.5 675.7L574.5 671.8L571.5 668.6M559.5 727.3L561.8 724.5L564.5 722.2L567.6 720.3L570.6 718.3L573.5 716.1L576.6 714.2L579.7 712.3L582.2 709.8L584.4 706.9L586.1 703.7L587.8 700.5L588.4 696.9L589 693.3L589.9 689.8M589.5 682L591.3 678L592.3 673.7L592.8 669.4M588.2 674.2L590.3 670.1L592.1 665.9L594.9 662.2M588.2 670.2L585.2 667.5L581.8 665.6L578 664.4M589.9 689.8L590.2 685.9L589.5 682L589 678.1L588.2 674.2L588.2 670.2L587 666.4L585.1 663M585.1 663L583.9 659.1L582.6 655.3L582.2 651.4M592 725L594.3 728.7L596.4 732.4L597.6 736.6L598.6 740.8M598.6 740.8L600.1 745L601.1 749.3M598.6 740.8L597.7 744.7L597.1 748.6M562.3 725.2L566 724.1L569.6 722.7L573.3 722.2L577.2 722L581 721.8L584.7 722.6L588.4 723.8L592 725L595.8 725.6L599.6 725.9M610.3 727.1L614.1 727L617.8 726.4M613.9 727.4L616.6 729.8L619.3 732.2M617.4 727.9L620.4 730L622.9 732.7M599.6 725.9L603.2 726.3L606.8 726.4L610.3 727.1L613.9 727.4L617.4 727.9M617.4 727.9L621.3 728.4L625.1 727.6M606.5 722.9L610.5 724L614.6 724.3M609.6 720.7L610.6 717.3L612.3 714.1M599.6 725.9L602.9 724.1L606.5 722.9L609.6 720.7L613 719.2L616.7 718.4M616.7 718.4L620.6 719.2L624.3 720.4M616.7 718.4L620.9 715.3L625.6 713.1M611.8 729.8L614 732.9L616 736.2M593.6 724.8L597.3 725.4L601 726.4L604.7 727.1L608.2 728.5L611.8 729.8M611.8 729.8L615.1 732.1L618.4 734.3M611.8 729.8L616 731.8L619.8 734.4M607 750.7L610.3 751.9L613.8 752.3M605.1 733.1L605.4 736.7L605 740.2L605.7 743.7L606.5 747.2L607 750.7M607 750.7L605.7 754.1L604.4 757.5M607 750.7L606.5 754.2L607 757.8M580.1 713.4L583.2 715.1L585.6 717.7L588.6 719.7L591 722.3L593.6 724.8L596.7 726.5L599.3 729L602.2 731.1L605.1 733.1L607.4 735.8L609.8 738.5L612.2 741.1L614.6 743.8M614.6 743.8L614.9 747.5L614.8 751.2L615.5 754.8L616.1 758.5L617.4 762L619.4 765.1M619.4 765.1L621.8 768.3L623.1 772.1L625.3 775.5M619.4 765.1L622.6 767.6L625.7 770.2L628.8 772.8M612.3 705.6L615.7 706.7L618.9 708.4M620.3 698.3L624.2 699.1L628.1 699.4M607 710.6L609.3 707.8L612.3 705.6L615 703.2L618 701.2L620.3 698.3M620.3 698.3L623.4 695.8L626.9 693.9M622.5 700.6L626.9 699.7L631 697.8M625.7 698.4L628.9 700.2L631.6 702.8M613.6 707.8L616.6 705.5L619.9 703.4L622.5 700.6L625.7 698.4L628.9 696.3M628.9 696.3L630 691.4L630.6 686.4M628.9 696.3L633.2 695L637.7 694.8M623.7 692.5L625.1 687.9L626.4 683.3M628.4 686.3L630.1 681.9L632.6 677.9M616.9 706.5L618.1 702.8L619.8 699.3L622 696L623.7 692.5L625.6 689L628.4 686.3M628.4 686.3L629.7 682.5L630.2 678.5L629.8 674.5M593.3 708.5L596.5 710.1L599.9 711.2L603.5 711.4L607 710.6L610.3 709.2L613.6 707.8L616.9 706.5L620.3 705.2L623.7 704L627.2 703.8L630.8 703.6L634.4 703L638 702.9L641.5 702.6M666.5 710.1L670 712.4L672.7 715.5L676.3 717.8M641.5 702.6L645.2 703.5L648.9 704.1L652.3 705.6L655.6 707.4L659.1 708.8L662.7 709.9L666.5 710.1M666.5 710.1L670.2 711.1L673.8 712.3L677.1 714.3M666.5 710.1L669.9 711.2L673.5 711.3L677 712M651.8 704.6L654.2 707.2L656.9 709.6L659.6 711.9M658.5 706.9L662.3 706.6L665.9 705.2L669.7 704.6M641.5 702.6L645 703.2L648.5 703.5L651.8 704.6L655.2 705.7L658.5 706.9L661.7 708.3L664.9 709.7M664.9 709.7L668.7 710.5L672.1 712.5L675 715.2M664.9 709.7L666.9 713.4L669.8 716.4L672.3 719.8M632.3 684.9L635.6 683.4L639.2 682.8M638.2 680.2L639.4 676.5L641.3 673M626.4 689.5L629 686.8L632.3 684.9L635.4 682.8L638.2 680.2L640.5 677.2M640.5 677.2L645.6 676.3L650.6 675.3M640.5 677.2L642.9 673.5L644.9 669.7M637.5 672.7L641 668.9L645.1 665.9M630 688.6L632 685.7L634 682.8L635.2 679.4L636.4 676.1L637.5 672.7L638.3 669.3M638.3 669.3L638.2 665.7L637.5 662.2L637.3 658.7M638.3 669.3L639.7 664.6L642.4 660.5M654.5 682.9L658 683.7L661.5 683.5L664.8 682.4M664.7 679.2L668.8 679.5L672.9 680.3L676.5 682.2M640.3 685.4L643.8 684.7L647.4 683.8L651 683.5L654.5 682.9L657.8 681.3L661.3 680.4L664.7 679.2M664.7 679.2L668.2 678.9L671.7 678.3L675 677.2M664.7 679.2L668.5 678.5L672.2 678.9L675.9 679.9M600.4 708.1L602.5 705.1L604.9 702.4L607.3 699.7L610.2 697.5L613.6 696.2L616.6 694.1L619.9 692.6L623.3 691.3L626.4 689.5L630 688.6L633.2 687.1L636.7 685.9L640.3 685.4L643.8 684.6M663 686.7L665.2 689.4L666.5 692.7L668.4 695.6M643.8 684.6L647.7 685.1L651.5 684.7L655.4 685.3L659.2 685.8L663 686.7L666.8 687.5M666.8 687.5L670.9 688.4L675.1 688.3L679.3 688.4M666.8 687.5L671.7 688.2L676.6 687.9M650.5 681.2L654.1 682.2L657.9 682.8L661.6 682.1M643.8 684.6L647.4 683.4L650.5 681.2L654.2 680L657.9 679.2L661.7 679.4L665.4 678.4L668.9 676.9M668.9 676.9L672.5 677.7L676.2 678.7L679.5 680.4M627 710.9L630.4 708.5L633.2 705.4M615.7 712.5L619.5 712.7L623.2 711.7L627 710.9L630.5 709.5L634 707.8L637.7 706.9M637.7 706.9L641.4 707.9L645 709.2L648.5 710.5M637.7 706.9L642.2 708.7L646.2 711.3M625.6 718L629.1 717.1L632.4 715.4M617.7 715.5L621.8 716.4L625.6 718L628.9 720.6L631.3 723.9M631.3 723.9L632.9 726.9L635.1 729.5M631.3 723.9L633.2 727.3L634.7 730.8M625 736.6L624.5 740.1L623.5 743.5M624.9 740.6L626.8 744.4L627.6 748.6M621.9 721.4L622.3 725.3L623.7 728.9L624.1 732.8L625 736.6L624.9 740.6M624.9 740.6L624.9 745.1L625 749.6M624.9 740.6L626.9 744.4L629.3 748.1M622.8 724.9L621.8 729L620.2 732.9L619.1 737L618.8 741.3M618.8 741.3L617.7 744.7L615.6 747.6M618.8 741.3L615.7 744.3L613.3 747.9M631.9 743.1L635.7 744.3L639.7 745.1M624.8 727.9L625 732.2L626.6 736.3L628.7 740.1L631.9 743.1M631.9 743.1L633.4 747.6L636.2 751.4M631.9 743.1L633.8 746.3L635.1 749.8M630.1 747L632.2 750.9L634.2 754.8M631.2 736.5L631.3 740L630.5 743.5L630.1 747L629.8 750.5L629.5 754.1M629.5 754.1L627.2 758.3L624.3 762.1M629.5 754.1L631.6 758.3L632.3 762.9M610.9 707.2L613.2 709.9L615.7 712.5L617.7 715.5L619.9 718.4L621.9 721.4L622.8 724.9L624.8 727.9L627.4 730.4L629.3 733.4L631.2 736.5L632.3 739.9L633.3 743.4L634.3 746.8M639.6 751.5L641 755L642.6 758.4M647.8 758.4L647.7 763.4L649.2 768.1M634.3 746.8L636.6 749.5L639.6 751.5L642.2 754L644.8 756.4L647.8 758.4L651.2 759.5M651.2 759.5L656.3 760.4L661.4 761M651.2 759.5L655.3 762.6L658.5 766.7M637.2 754L634.6 757.7L631.5 761.2M634.3 746.8L635.4 750.5L637.2 754L638.3 757.7L638.8 761.5L639.1 765.4M639.1 765.4L636.2 769.5L634.1 774.1M639.1 765.4L638.2 769.8L637.7 774.3M636.5 696L637 692.4L636.6 688.7L635.7 685.1L634.3 681.7L633.3 678.1M633.3 678.1L634.3 673.4L635 668.5M662.9 674.7L666.8 676L670.8 677.1M646.2 680.4L649.5 679.1L652.7 677.7L656 676.4L659.4 675.2L662.9 674.7M662.9 674.7L666.5 674.2L670.2 674.2M668.4 670.3L671.5 673.1L674.8 675.7M649.4 673.9L653.2 673.2L656.8 671.7L660.7 671.3L664.6 671.1L668.4 670.3M668.4 670.3L672.5 669.1L676.8 668.5M668.4 670.3L672.5 669.1L676.9 668.4M624.6 704.5L627.6 702.3L630.7 700.4L633.9 698.6L636.5 696L638.8 693.1L640.6 689.9L642 686.5L644 683.4L646.2 680.4L647.4 677L649.4 673.9L651.9 671.2M651.9 671.2L654.2 668.1L655.6 664.5L657.1 660.9L659.3 657.6L661.5 654.5L663 650.9M663 650.9L662.2 647.3L660.4 644L658.9 640.6M663 650.9L665.4 648.3L667.5 645.3L668.9 642.1M657.8 666.8L658.8 662.8L660.5 659M651.9 671.2L654.7 668.8L657.8 666.8L660.3 664.1L663.2 661.8L666.2 659.8M666.2 659.8L670.5 660.2L674.7 661.2M650.6 732.2L654.5 732.8L658.4 733.4M642.9 711.8L644.5 715.2L645 718.8L645.4 722.5L646.5 726.1L648.4 729.2L650.6 732.2M650.6 732.2L652.9 736L656.3 739M645.8 713.8L650 713.3L654.3 713.2L658.5 714L662.5 715.3M662.5 715.3L666.2 717.5L670.2 719M662.5 715.3L666 717.8L669.1 720.7M661 718L664.1 720.3L667.2 722.5M664.6 716.8L668 713.9L672.2 712.2M667.8 714.8L668.4 711.5L669.9 708.4M653.9 720.4L657.5 719.4L661 718L664.6 716.8L667.8 714.8L670.5 712.3M670.5 712.3L671.5 707.9L672.2 703.5M670.5 712.3L673.1 709.1L675.1 705.4M664.7 718.1L667.1 715.2L670.3 713.1M657.1 722L660.7 719.7L664.7 718.1L668 715.4L670.6 712M670.6 712L674 709.6L677.2 706.8M670.6 712L671.6 708.1L673.6 704.7M670.6 723.2L673.9 726.2L676.3 729.9M677.7 720.3L681.6 720.5L685.4 719.5M681.4 719.8L685.3 717.5L689.5 715.8M663.3 725.2L666.8 723.7L670.6 723.2L674.2 721.8L677.7 720.3L681.4 719.8M681.4 719.8L685.7 719.5L690 719.4M627.8 702.9L631.1 704.3L633.8 706.5L637 708.1L639.9 709.9L642.9 711.8L645.8 713.8L648 716.6L650.8 718.7L653.9 720.4L657.1 722L660.1 723.9L663.3 725.2L666.8 726M682 724.1L685.5 726.2L689.1 727.8M666.8 726L670.6 725.4L674.4 724.8L678.2 724.7L682 724.1L685.6 722.7M685.6 722.7L689.5 722L693.5 722.5M685.6 722.7L688.4 719.1L691.8 715.9M677.4 725.9L680.7 724.8L684.1 723.6L687.4 722.4M666.8 726L670.3 725.5L673.8 725.4L677.4 725.9L680.9 725.6L684.4 725.3L687.9 725.8L691.4 726.4M691.4 726.4L694.7 728L698.1 729L701.4 730.6M691.4 726.4L696.3 727.4L701.3 727.1M631.7 693.3L633.6 690.2L635.1 686.9L636.5 683.5L637.9 680.1L640 677.1M640 677.1L642.3 674.2L644.9 671.4M640 677.1L640.6 673.1L641.6 669.1M628.9 678.9L626.4 676.1L623.3 673.8M627.4 675.2L627.8 672.5L628.2 669.8M632.7 685.8L631.1 682.2L628.9 678.9L627.4 675.2L626.9 671.3M626.9 671.3L627.7 667.5L628.1 663.5M626.9 671.3L628.9 667.7L631.4 664.3M632.8 674.4L635.1 670.7L637.8 667.3L640 663.5L640.9 659.3M640.9 659.3L642.4 655.9L643.8 652.6M640.9 659.3L641.5 655.2L643 651.4M630.7 700.8L631.7 697.1L631.7 693.3L632.8 689.6L632.7 685.8L632.5 682L632.3 678.2L632.8 674.4L633.5 670.6L634.9 667.1L636.9 663.8M647.7 657.1L651.1 656.5L654.5 656.2M636.9 663.8L640.4 661.4L644.1 659.4L647.7 657.1L650.4 653.9M650.4 653.9L652.6 651.2L654.8 648.4M641 656.1L639.4 653.1L637.2 650.6M643.5 652.6L646.8 650.7L650.3 649.3M645.3 648.6L648.5 648L651.7 647.5M636.9 663.8L638.9 660L641 656.1L643.5 652.6L645.3 648.6M645.3 648.6L647.5 645L648.6 641M648.1 696.5L649.7 693.4L651 690.1L653.1 687.2L655.3 684.4L657.1 681.4M657.1 681.4L659.9 677.8L663.4 674.9M657.1 681.4L659.3 677.4L662.5 674.3M659.8 699.8L661.6 702.5L663.8 704.9M651.8 696.1L655.6 698.3L659.8 699.8L663.5 702.1M663.5 702.1L666.2 702.2L668.9 702.5M663.5 702.1L665.5 704.3L667.8 706.3M661.4 679.5L660.2 675.9L659.8 672.2M655.3 694.8L658 691.6L659.6 687.7L660.2 683.5L661.4 679.5M661.4 679.5L664.6 677.6L667.2 675M661.4 679.5L663.9 676.8L666.5 674.3M670.1 704L673.3 704.9L676.6 705.4M672 707.5L674.7 708.5L677.5 709.4M662.6 694.7L665.5 697.5L668.1 700.6L670.1 704L672 707.5M672 707.5L675.4 708.9L678.6 710.6M672 707.5L673.2 711L673.6 714.6M633.5 698.7L637.1 697.8L640.8 697.2L644.4 696.7L648.1 696.5L651.8 696.1L655.3 694.8L659 694.4L662.6 694.7L666.3 695.3L669.9 696.2M681.6 694.7L684.9 696.5L688.4 697.7M669.9 696.2L673.9 696.1L677.8 696L681.6 694.7L685.5 694.1M685.5 694.1L689.1 694.5L692.7 695M685.5 694.1L688.8 694.5L692.1 694.8M682.3 693.6L684.9 695L687.3 696.7M669.9 696.2L674.1 695.5L678.2 694.9L682.3 693.6L686.5 693.4M686.5 693.4L689.7 691.1L692.1 687.9M539 732.9L542.6 732.8L546.1 732.2L549.6 732.2L553.2 731.8L556.4 730.4L559.5 728.6L562.4 726.5L565.3 724.4L568.1 722.3L571.2 720.5L574 718.4L577 716.4L580.1 714.7L583.5 713.7L586.6 712L589.9 710.5L593.3 709.8L596.9 709.5L600.4 709.4L604 709.3L607.4 708.4L611 708.5L614.5 708.9L618 708.2L621.3 707.1L624.7 705.8L627.8 704.2L630.7 702.1L633.6 700M539 730.6L542.5 730.5L546 729.8L549.6 729.8L553.1 729.4L556.4 728L559.5 726.3L562.3 724.2L565.2 722.1L568 720L571.1 718.1L573.9 716L576.9 714.1L580 712.4L583.4 711.4L586.5 709.7L589.8 708.2L593.2 707.4L596.8 707.2L600.3 707L603.9 706.9L607.3 706L610.9 706.2L614.4 706.5L617.9 705.8L621.3 704.7L624.6 703.5L627.8 701.9L630.6 699.8L633.5 698.7M652.6 674.1L656.9 671.4L661.6 669.4M654.9 671.3L656.1 666.5L658.5 662.2M649 684.6L649.8 681L651.1 677.5L652.6 674.1L654.9 671.3L656.6 667.9L658.8 665M658.8 665L660.7 661.6L662.5 658.1L663.4 654.3M658.8 665L661.8 662.7L664.2 659.9L666.3 656.7M650.3 674.8L653.3 671.9L655.3 668.2M648 660.6L652.2 658.8L656.2 656.5M651.4 682L650.5 678.5L650.3 674.8L649.6 671.2L648.1 667.9L647.6 664.3L648 660.6M648 660.6L651 656.4L654.2 652.4M653.9 672.2L655.2 669L655.5 665.5L655.6 662M654 679.6L653.7 675.9L653.9 672.2L654.2 668.6L655.1 664.9L656.7 661.6L658.7 658.5M658.7 658.5L660.4 655.4L662.3 652.4L663.2 649M664.9 668.9L669 667.7L673.1 666.7M667.2 665.4L671.6 664.7L676 664.1M671.6 658.3L670.6 654.1L670.1 649.8M658.8 674.5L662.3 672.2L664.9 668.9L667.2 665.4L669.7 662.1L671.6 658.3M671.6 658.3L672.7 654.9L672.8 651.4L673.1 647.8M671.6 658.3L674 655.5L675.8 652.4L678.5 649.9M668.4 663.3L669.3 659.8L670.5 656.4L670.8 652.9M669.5 659.7L673.1 656.5L677.3 654.3M670.4 656L673.6 653.4L677.1 651.2M661.7 672.4L663.8 669.3L666.3 666.4L668.4 663.3L669.5 659.7L670.4 656L672 652.6M672 652.6L672.7 647.7L672.5 642.7M677.4 662.7L681.2 664.4L684.5 666.9M684.4 658.5L689.2 658.4L693.8 659.8M669.8 665.7L673.5 663.8L677.4 662.7L681.1 660.8L684.4 658.5L688 656.4M688 656.4L692.4 654.8L696.6 653M688 656.4L692.4 655.7L696.9 655.5M633.5 698.7L635.4 695.7L637.8 693.2L640.6 691L643.3 688.8L646.1 686.6L649 684.6L651.4 682L654 679.6L656.5 677.1L658.8 674.5L661.7 672.4L664.6 670.4L667.4 668.3L669.8 665.7L671.4 662.6L672.4 659.2M676.5 653L677.3 649.1L678.5 645.4L679 641.5M688.2 633.9L691.3 630.6L695.1 628.2L699 625.8M672.4 659.2L674.1 655.9L676.5 653L679.1 650.2L681.2 647.1L682.9 643.8L684.1 640.2L686 637L688.2 633.9M688.2 633.9L691.5 632.8L695 632L698.4 630.9L701.8 630.1M688.2 633.9L689.7 630.2L691.5 626.6L692.6 622.8L694.3 619.1M647.3 667L648.9 663.8L649.7 660.3L650.1 656.7M647.9 655.8L649.3 651.2L651.3 646.8M647.4 674.6L647.1 670.8L647.3 667L648 663.3L648.2 659.6L647.9 655.8L648.3 652.1M648.3 652.1L651.7 648.4L654.5 644.3M648.3 652.1L651.7 648.7L654.9 645.2M655.3 662.8L656.5 659L658.7 655.7L660.6 652.2M660.7 656.9L661.1 653L662.2 649.2L663.1 645.4M662.3 653.3L666 652.2L669.8 651.5L673.5 650.4M664.6 650L668.1 649.2L671.6 648.4L675.2 647.9M649.3 667.9L652 664.9L655.3 662.8L658.4 660.2L660.7 656.9L662.3 653.3L664.6 650M664.6 650L668.1 647.4L672 645.4L676.2 644.3M655.8 648L658.5 644.4L660.7 640.5M654.5 644.4L655.4 640L656.6 635.7M656 659.7L656.1 655.8L656 651.9L655.8 648L654.5 644.4L653.7 640.5L653.6 636.6M653.6 636.6L655.4 633.5L656.6 630.1L658 626.8M653.6 636.6L655.3 633.1L656.9 629.6L658.7 626.2M633.5 698.7L635.2 695.6L636.1 692.2L637.7 689.1L640.2 686.5L642.3 683.7L644.5 681L646.1 677.8L647.4 674.6L647.8 671.1L649.3 667.9L651.5 665.1L654 662.6L656 659.7L658.7 657.5L661.8 655.7M669.5 655.7L671.2 652.6L673.2 649.7L674.1 646.3M673.3 655.4L678 657.4L682.8 659.3M661.8 655.7L665.6 656.1L669.5 655.7L673.3 655.4L677.1 655.1L680.9 655.9L684.3 657.7L687.9 659M687.9 659L691.3 662.1L695 664.9L698.6 667.7M687.9 659L692.1 659.8L696.2 660.9L700.2 662.5M669.4 653.2L673.1 653.1L676.5 651.9L680.1 651.1M673.2 652L678.4 652.4L683.4 651.4M680.8 649.4L683.9 647L687.4 645.3L691.2 644.2M661.8 655.7L665.5 654.3L669.4 653.2L673.2 652L676.9 650.3L680.8 649.4L684.4 647.7M684.4 647.7L689.3 649L694.4 648.9M600.3 722.5L603.8 721.3L607.4 720.6M589.2 737L590.6 733.6L592.7 730.5L594.6 727.3L597.2 724.7L600.3 722.5M600.3 722.5L602.6 718.4L603.6 713.8M569.7 752.8L572.7 750.8L575.5 748.5L577.7 745.5L579.9 742.6L582.6 740.1L585.7 738.1L589.2 737L592.8 736.4L596.2 735.1L599.2 732.9L601.5 730.1M611.6 725L616 725L620.2 723.8M601.5 730.1L605 728.7L608.6 727.3L611.6 725L614.1 722.1L616.4 719.1M616.4 719.1L619.7 715.3L623.4 711.9M616.4 719.1L617.8 715.1L619 711M603.2 716.1L600.7 713.7L598.6 710.9L597.4 707.6M601.5 730.1L602.6 726.7L603.2 723.2L603.3 719.7L603.2 716.1L603.1 712.6L603.8 709.1M603.8 709.1L603.5 704.8L602.2 700.6M603.8 709.1L604.8 705.7L606.3 702.4L608 699.3M635.9 739.6L638.8 737.1L642.2 735.2M616.3 741.8L620.3 741.6L624.3 742.1L628.2 741.6L632 740.4L635.9 739.6M635.9 739.6L640.1 738L644.3 736.1M583.5 753L586.9 752.2L590.3 751.4L593.7 751L597 749.7L600.5 749.2L603.7 747.8L606.8 746.1L609.8 744.4L613.2 743.4L616.3 741.8L619.7 740.8L622.9 739.6M622.9 739.6L626.4 737.7L629.9 735.7L633.4 734L636.6 731.7L639.1 728.6M639.1 728.6L639.3 724L640.7 719.7M639.1 728.6L642.2 725.2L644.1 721M629.2 735.5L629.6 730.8L630.9 726.3M636.3 732.9L639.9 733.4L643.4 734.4L646.6 736M622.9 739.6L626 737.3L629.2 735.5L632.7 734.1L636.3 732.9L640 732L643.3 730.2M643.3 730.2L646.1 726.2L648.1 721.6M643.3 730.2L646.5 726.5L650.7 724M599.1 745.4L602.2 742.2L606.1 740.1M600.4 741.6L604.3 739.5L608.2 737.6M597.8 753.3L598.6 749.4L599.1 745.4L600.4 741.6L601.7 737.8L603.8 734.4M603.8 734.4L602.8 729.8L601.7 725.3M603.8 734.4L607.2 731.5L610.6 728.5M624 742.2L627.7 742.4L631.4 743.4M605 751.4L608.5 750.5L611.8 749.1L614.4 746.8L617.5 745L620.9 744.1L624 742.2M624 742.2L626.3 739.5L628.1 736.3L630.6 733.7M624 742.2L626.2 737.7L627.7 732.9M633.2 755.9L637.2 752.9L640.4 749.2M616.1 750.9L619.3 752.6L622.7 753.8L626.3 754.4L629.6 755.7L633.2 755.9L636.8 756.1M636.8 756.1L639.3 758.6L641 761.7L642.8 764.7M636.8 756.1L639.9 757.8L643.1 759.4L646.6 760M629.4 758.4L631.1 762.8L634.1 766.5M634 764.9L632.9 768.8L630.8 772.3M619.8 751.4L623.3 753.3L626.5 755.7L629.4 758.4L631.9 761.6L634 764.9M634 764.9L635.6 768.9L637.4 772.7M634 764.9L637.5 767.6L641 770.4M638.5 741.9L642.3 740.2L646.2 738.6M630.8 749.5L633.7 747.3L636.5 745L638.5 741.9L640.4 738.9L642.3 735.8L644.1 732.6M644.1 732.6L645.3 729.3L646.5 726L648.5 723M644.1 732.6L646.3 727.9L648.4 723.1M590.5 754L594.2 754.2L597.8 753.3L601.4 752.1L605 751.4L608.7 750.8L612.4 751.3L616.1 750.9L619.8 751.4L623.6 751.1L627.1 750L630.8 749.5L634.2 747.9L637.8 746.8M637.8 746.8L641.5 745.3L645.4 744.8L649.2 743.5L653.1 743L657 743.8L660.9 744.5M660.9 744.5L664.8 745.9L668.7 747.1L672.5 748.5M660.9 744.5L664.5 745.4L668 746.3L671.7 746.1M643.2 740.8L647.2 741.8L650.9 743.7M646.4 738.2L647.2 734.6L647.5 731M648.7 734.8L648.3 730.4L647.8 726M650.3 731L654.5 729.1L658.1 726.1M637.8 746.8L640.1 743.4L643.2 740.8L646.4 738.2L648.7 734.8L650.3 731M650.3 731L651.6 727.7L652.8 724.3L654.6 721.2M650.3 731L650.7 727.5L651.6 724.1L652.1 720.6M623.7 764.9L627.7 763.7L631.5 761.9M610.2 760.3L613.1 762.4L616.4 764L620 764.6L623.7 764.9L627.3 765.4M627.3 765.4L630.9 767.3L634.3 769.4M627.3 765.4L631.1 767.3L635.1 768.6M623 802.9L626.4 806.6L630.6 809.3M623.9 781.5L624.9 785L625.2 788.6L624.6 792.2L623.6 795.7L623.4 799.3L623 802.9M623 802.9L621.2 806.2L619.9 809.7L618.7 813.2M623 802.9L621.7 807.9L619.5 812.6M626 784.6L629.2 786.8L632.2 789.3L635.7 790.8L639.5 791.7M639.5 791.7L642.2 794.1L644.3 796.9M604.5 755.7L607.5 757.8L610.2 760.3L612.2 763.4L613.7 766.7L615.1 770L617.4 772.9L619.1 776.1L621.2 779.1L623.9 781.5L626 784.6L627.5 787.9L629 791.2M636.2 799L639.5 799.2L642.7 800.3M637.6 802.3L638.4 805.9L638.8 809.5M629 791.2L631.2 794L633.9 796.3L636.2 799L637.6 802.3L637.9 805.9M637.9 805.9L638.9 809.4L640.8 812.6M637.9 805.9L640 809.6L642.8 812.8M632.3 797.8L635.8 798.2L639.4 798.1L642.9 798.6M639.6 806L643.5 809.1L646.9 812.8M629 791.2L630.4 794.6L632.3 797.8L634.2 801L636.9 803.5L639.6 806L642.4 808.4M642.4 808.4L643.8 813L646.1 817.2M642.4 808.4L644.3 811.6L645.4 815.1L647.3 818.2M620.9 726.4L620.1 722.1L618.8 718L618.2 713.7L616.6 709.6M616.6 709.6L615.3 706.3L613.4 703.4M611.5 754.6L613.5 751.4L614.9 748L615.7 744.3L616.5 740.7L617.3 737L618.1 733.4L619.7 730L620.9 726.4L621.7 722.8L623.1 719.3L624.5 715.9L626.8 712.9L629.8 710.7M629.8 710.7L633.1 708.9L636.9 708.1L640.6 708.5L644.3 709.5L648 709.8L651.7 710.7M651.7 710.7L656.3 712.8L660.7 715.2M651.7 710.7L656.6 712.2L661.3 714.4M634.4 751.8L639.4 752.1L644.5 752.2M637.7 750L639.8 745.6L641.7 741.2M628.6 756.8L631.6 754.5L634.4 751.8L637.7 750L640.7 747.8L643.2 744.8L646.1 742.4M646.1 742.4L650.3 740.5L654.6 738.5M646.1 742.4L650 742L653.9 742.4L657.8 742.4M651.4 754.2L654.6 752.7L657.5 750.6L660.6 748.8M660.3 746.2L664.8 746.4L669.2 746.6M641.7 761.2L645.3 759.5L648.5 757L651.4 754.2L654.6 751.9L657.4 749L660.3 746.2M660.3 746.2L664.2 743L666.9 738.8M655 765.3L659.9 766.4L664.8 767.1M658.7 763.5L663.7 763.6L668.6 762.5M662.5 761.8L667.4 763.4L672.4 763.6M646.8 765.8L650.9 766.2L655 765.3L658.7 763.5L662.5 761.8L666.3 760.1M666.3 760.1L669.8 759.4L673.2 758L676.8 757.4M666.3 760.1L670 757.1L673.9 754.3M653.1 774L656.5 772.3L659.8 770.3L662.8 767.9L665.9 765.6L668.7 763M668.7 763L672.7 760.2L676.5 757.2M668.7 763L671.3 759.2L672.7 754.9M657.9 779.1L658.8 782.6L658.7 786.3L658.2 789.9L657.8 793.6L658.1 797.3L657.3 800.9M657.3 800.9L656.7 804.6L655.5 808.2L654.1 811.6M618.6 754.9L621.7 756.5L625.1 757L628.6 756.8L632.1 757.2L635.6 757.7L638.8 759.1L641.7 761.2L644.6 763.1L646.8 765.8L648.3 769L650.3 771.8L653.1 774L655.3 776.7L657.9 779.1L660.6 781.2M660.6 781.2L664.4 780.9L668.1 781.4L671.8 780.9L675.5 781.2L679.2 781.6L683 781.9L686.7 781.7M686.7 781.7L690.9 781.8L695.1 781.8L699.3 782M686.7 781.7L690.8 783.6L694.5 786.2L697.2 789.8M666.7 785.2L665.6 789.5L663.9 793.7M669.7 787.2L670.4 791.8L669.9 796.4M660.6 781.2L663.9 782.8L666.7 785.2L669.7 787.2L673 788.8L675.9 791L679 792.8M679 792.8L682.9 793.5L686.7 794.8L690 797M679 792.8L682.4 794.1L685.9 794.7L689.4 795.1M632.3 744.7L636.8 746.1L640.9 748.5M644.7 738.1L646.6 734L649 730.1M625.8 747.7L628.9 745.9L632.3 744.7L635.6 743.4L638.9 742.2L641.8 740.1L644.7 738.1M644.7 738.1L648.2 736.9L651.9 736.8L655.5 736M644.7 738.1L647.8 735.9L651.5 734.7L654.7 732.8M632.4 727.5L628.8 726.1L625.7 723.9M632 738.5L632.7 734.8L632.9 731.1L632.4 727.5L630.9 724.1L629.4 720.7M629.4 720.7L625.9 717.8L622.3 714.9M629.4 720.7L627 717.7L625.4 714.2M636.9 729.5L636 726.3L635.1 723.2M634.9 736.2L635.5 732.8L636.9 729.5L637.5 726.1L638.6 722.8L639.6 719.4M639.6 719.4L642 716.5L643.8 713.1M653.3 730.1L656.6 727L658.8 723M657.3 730.8L661.5 728.9L666.1 728.4M661.3 730.8L665.1 727.8L668.1 723.8M641.7 727.4L645.7 727.5L649.6 728.6L653.3 730.1L657.3 730.8L661.3 730.8M661.3 730.8L666 731.5L670.7 731.4M661.3 730.8L665.1 732.2L668.5 734.5M622 754L623.7 750.7L625.8 747.7L628 744.7L629.8 741.4L632 738.5L634.9 736.2L637.4 733.5L639.4 730.4L641.7 727.4L644.4 724.9L646.6 721.9L648.7 718.9M650.6 711.9L649.9 707.7L649 703.5M648.7 718.9L649.8 715.5L650.6 711.9L650.3 708.3L650.9 704.8L651.8 701.3M651.8 701.3L650.6 696.5L648.8 691.9M649.3 711.6L645.5 708.2L642.8 704M652.5 704.9L650.6 700.8L647.9 697.2M648.7 718.9L648.5 715.2L649.3 711.6L650.9 708.3L652.5 704.9L653 701.2L652.9 697.5M652.9 697.5L650.9 694.3L648.9 691.2L646.4 688.5M644.3 742.1L646.3 738.2L648 734.2L649 729.9L650 725.7M650 725.7L650.6 722.1L651.1 718.6M650 725.7L653.1 723L655.4 719.6M648.6 732.8L645.6 729.5L642.7 726.2M648.3 728.9L646.3 725L644.8 720.8M648.6 724.9L646.9 720.8L645.1 716.7M647.9 740.7L648.6 736.8L648.6 732.8L648.3 728.9L648.6 724.9L648.5 721M648.5 721L649.3 716.5L649.6 711.9M661.8 729.1L664.8 726.2L668.2 723.8M670 721.8L670.1 717.5L669.6 713.3M657.9 735.4L660.1 732.4L661.8 729.1L664.2 726.3L667.3 724.3L670 721.8M670 721.8L673 719.2L676.6 717.6M670 721.8L670.3 717.3L671.1 712.8M629 753.2L632.4 751.5L635.2 748.8L637.9 746.1L641 744L644.3 742.1L647.9 740.7L650.8 738.3L654.2 736.5L657.9 735.4L661.5 734.2L664.8 732.4M681.2 729.5L685.1 727.5L689.1 725.7M664.8 732.4L668.8 731.1L672.9 730.2L677 729.9L681.2 729.5L685.3 729.8M685.3 729.8L689.6 727.4L694.1 725.3M685.3 729.8L689 730.8L692.4 732.2L695.6 734.3M673.7 725.7L677.1 727.1L680 729.3L682.6 731.8M676.1 722.8L679.7 720.9L683.3 719.1M677.5 719.3L681.8 716.9L686.2 714.6M664.8 732.4L668.1 730.6L670.8 728.1L673.7 725.7L676.1 722.8L677.5 719.3L679.9 716.5M679.9 716.5L683 713.8L686.1 711.3L689.1 708.5M639.7 755L643.3 754.2L646.6 752.7L649.8 750.8L653.3 749.8M653.3 749.8L657.2 749.1L660.8 747.7M656.4 750.4L659.7 750.5L663 749.9M643 756.7L646.2 754.8L649.8 753.8L653.2 752.2L656.4 750.4L659.9 749.1M659.9 749.1L663.8 747.6L667.4 745.4M663.3 760.1L666.9 761.5L670.5 762.9M645.7 759.4L649.3 759.7L652.6 760.9L656.2 761.1L659.7 760.3L663.3 760.1M663.3 760.1L667.3 761.5L671.5 761.7M660.1 762.7L663.2 759.9L666.1 756.9L668.3 753.4L669.6 749.5M669.6 749.5L667.9 745.4L667.4 741M669.6 749.5L671 746.3L672.8 743.3M632.5 752.8L636.3 753.4L639.7 755L643 756.7L645.7 759.4L649 761.3L652.6 762.4L656.3 763L660.1 762.7L663.8 763.3L667.2 764.8L671 765.5M679.3 767.5L683 768.3L686.4 770M671 765.5L675.2 766.1L679.3 767.5L683.2 769.2L686.5 771.9M686.5 771.9L690.2 773.9L694.2 775M686.5 771.9L690 772.6L693.3 773.5M682.7 769.4L686.8 767.9L690.6 765.9M686.8 770.1L689.1 773.6L692.4 776.2M671 765.5L674.6 767.5L678.6 768.8L682.7 769.4L686.8 770.1L691 770.7M691 770.7L694.6 771.9L698.3 772.1L702.1 772.6M691 770.7L694.4 772.1L697.5 774.1L700.8 775.8M644.7 722.6L644 717.8L642.6 713.2M647.3 734.4L646.8 730.4L646.1 726.4L644.7 722.6L643.2 718.9L641.4 715.2L638.9 712.1M638.9 712.1L636.7 708.6L634.2 705.2L632.3 701.5M638.9 712.1L637.8 708.2L637.6 704.1L637.2 700M649.3 727.4L652.1 725.1L655.2 723.3L657.7 720.8L660.6 718.8L663.8 717.1L666.9 715.4L670.3 714.2M670.3 714.2L674.1 713.6L677.9 712.6L681.7 711.8M670.3 714.2L673.8 715.6L677.2 717.2L680.7 718.8M660.1 716.7L664.6 715.6L669.3 714.8M653.1 721.2L656.8 719.3L660.1 716.7L663.4 714.3L667.2 712.6L671.1 711.2M671.1 711.2L673.9 707.3L677.8 704.4M671.1 711.2L675.5 712.4L680.1 712.7M639.3 750.9L640.6 747.4L642.3 744.2L644.1 741L645.7 737.7L647.3 734.4L648 730.8L649.3 727.4L651.7 724.5L653.1 721.2L653.5 717.5L653 713.9L652 710.4L651.2 706.8L651.2 703.1M651.7 695.6L650 691.8L647.6 688.4M651.7 680.5L647.7 679.3L643.9 677.5M651.2 703.1L650.9 699.3L651.7 695.6L651.9 691.8L651.7 688L652.2 684.3L651.7 680.5M651.7 680.5L651.6 676.9L651.3 673.3L650.2 670M651.7 680.5L650.7 676.5L650.5 672.4L649.7 668.4M648.7 696.2L645.3 695.3L642.2 693.7L639.4 691.5M648.4 692.6L650.9 688.5L653.4 684.4M650.1 678.1L649.1 674.4L648.9 670.5L647.9 666.8M651.2 703.1L650.3 699.6L648.7 696.2L648.4 692.6L648.1 688.9L648.7 685.3L649.4 681.7L650.1 678.1M650.1 678.1L651.7 674.9L652.6 671.5L654.3 668.4M650.1 678.1L650.8 674.4L652.6 671.2L654.3 667.8M539.1 747.6L542.6 748.2L546.2 748.3L549.6 749.1L552.8 750.6L556 752.2L559.3 753.4L562.8 753.7L566.3 754.4L569.8 754.1L573.2 753.1L576.7 752.8L580.3 753.1L583.6 754.3L587.1 754.8L590.6 755.3L594.1 756L597.6 756.2L601.1 756.7L604.7 757L608.2 756.5L611.6 755.9L615.2 756.3L618.7 756.2L622.1 755.3L625.6 754.9L629.2 754.5L632.7 754L636.1 753.3L639.5 752.2L643 751.7M538.9 745.3L542.4 745.9L545.9 745.9L549.4 746.7L552.6 748.3L555.7 749.9L559 751.1L562.6 751.3L566 752.1L569.6 751.8L573 750.8L576.5 750.5L580 750.8L583.3 752L586.9 752.5L590.4 752.9L593.8 753.7L597.4 753.9L600.9 754.4L604.4 754.7L607.9 754.2L611.4 753.6L614.9 754L618.4 753.9L621.9 753L625.4 752.5L628.9 752.2L632.4 751.7L635.9 751L639.2 749.8L642.9 750.4M650.1 752.4L654.2 752L658.2 752.8L662.2 753.8L666.1 755.1L670 756.5M670 756.5L672.6 758.8L675.1 761.4L677 764.4M670 756.5L672.2 759.3L674.9 761.7L677.7 763.8M657.6 752.5L661.9 752.6L666.2 752.4L670.4 753.5L674.2 755.6M674.2 755.6L678.5 755.8L682.8 755.5M674.2 755.6L676.7 759.1L679.1 762.6M664.8 754.7L666.5 757.9L667.4 761.5L667.7 765.1L669.1 768.5L669.7 772.1M669.7 772.1L670 776.7L669.6 781.3M669.7 772.1L670.5 776L672 779.6M691.2 750.7L693.7 747.9L697 746M671.4 758L674.9 757.2L677.9 755.4L681.2 754.1L684.3 752.5L687.7 751.4L691.2 750.7M691.2 750.7L695.4 749.6L699.3 747.6M691.2 750.7L694.8 750.5L698.2 749.1L701.6 747.8M642.9 750.4L646.4 751.6L650.1 752.4L653.8 752.7L657.6 752.5L661.2 753.5L664.8 754.7L667.8 756.9L671.4 758L675.2 758.6L678.9 758.8L682.6 758.3L686.4 758.6L690.1 759.3M708 766.8L712.5 765.6L717.1 765.6M690.1 759.3L693 762L696.5 763.7L700.3 764.9L704.1 766L708 766.8M708 766.8L712.3 765.1L716.8 764.3M708 766.8L711.6 766.6L715.1 767.3L718.6 768.5M708.9 767.8L712.2 770.8L716.1 773M690.1 759.3L693.7 761.2L697.4 763.2L701 765.2L704.9 766.5L708.9 767.8M708.9 767.8L712.7 765.8L715.8 762.8M708.9 767.8L713.3 770L718 771.4M669.8 765L669.8 768.8L669.6 772.5L670 776.2M649.4 747.9L653.3 748.6L656.9 750.2L660.2 752.5L662.6 755.7L664.8 758.9L667.1 762.2L669.8 765M669.8 765L673.6 765.2L677.4 764.5L681 763.3M674.1 734.6L676.6 731.1L679.6 727.9M681.6 734.5L686 737L690.5 739.1M688.7 737.2L690.1 740.7L691.2 744.2L692.6 747.7M666.7 736.2L670.4 735.4L674.1 734.6L677.8 733.9L681.6 734.5L685.2 735.8L688.7 737.2M688.7 737.2L693.1 735.8L697.5 734.3M688.7 737.2L693.7 738.6L698.3 740.9M695.5 718.5L698.3 716.4L701.4 714.7L703.9 712.1M702.8 716.3L705 712.8L706.5 709L707.4 705M710.4 715.2L712.7 711.4L715.6 708.1L717.6 704.2M683.9 719.3L687.8 718.7L691.6 718.3L695.5 718.5L699.3 717.9L702.8 716.3L706.6 715.5L710.4 715.2M710.4 715.2L714.1 716.8L717.9 718.3L721.9 719.1M710.4 715.2L714.3 716.2L718.1 717.3L722.1 717.1M692.4 713.5L696.9 714.2L701.4 714.9M695.3 711.5L700.2 713.2L705.2 714.2M698.6 710.3L701.9 712.8L705.8 714.2M685.9 716.4L689.2 715L692.4 713.5L695.3 711.5L698.6 710.3L701.5 708.3L704.5 706.4M704.5 706.4L706.4 702L707.3 697.3M704.5 706.4L708 705.5L711.6 704.7L714.9 703.2M642.9 750.4L646.3 749.6L649.4 747.9L652.7 746.7L655.5 744.6L658.2 742.4L661.4 740.8L664.3 738.8L666.7 736.2L669.6 734.3L672.6 732.4L675.5 730.5L677.8 727.8L679.6 724.8L681.5 721.8L683.9 719.3L685.9 716.4M691.9 706.3L695.5 704L699.1 701.7L702.6 699.3M696.3 699.9L696.5 696.3L695.8 692.7L695.1 689.1M685.9 716.4L688.3 713.3L690.3 709.9L691.9 706.3L694 703.1L696.3 699.9L699 697L701.7 694.2M701.7 694.2L706.2 693.2L710.6 692.1L715 690.8M701.7 694.2L705.2 693.7L708.7 693.9L712.2 694.8L715.7 695.4M693.8 715.4L697.8 713.7L701.6 711.7M705.3 712.6L708.8 714.2L711.7 716.5L715.2 717.9M685.9 716.4L689.9 715.7L693.8 715.4L697.7 714.6L701.7 714.2L705.3 712.6L708.8 710.6M708.8 710.6L712.8 710.3L716.8 709.8L720.5 708.3M528.3 754.3L524.6 754.2L520.9 754.6L517.3 754.4M517.3 754.4L515.2 753.3L513 752.6M517.3 754.4L514.6 753.9L511.9 753.1M524.6 755.8L522.7 759.1L520.5 762.3L518.6 765.6M518.6 765.6L517 767.6L514.9 769.1M516.9 757.7L512.2 755.7L508.1 752.7M508.1 752.7L507.1 750.5L506.8 748.2M538.8 749.2L535 750.1L531.5 752.1L528.3 754.3L524.6 755.8L520.8 756.8L516.9 757.7M516.9 757.7L513 758.9L509.3 760.8L505.4 762.2M505.4 762.2L503.2 763.7L500.9 765M505.4 762.2L503.2 764L500.9 765.7M507 748L506.1 749.5L505.5 751.3M516.6 750.4L512 748.5L507 748M507 748L504.7 747.6L502.5 747.1M507 748L505 748.9L503.3 750.2M535.7 747.3L531.8 747.1L527.9 747.4L524.2 748.6L520.4 749.4L516.6 750.4L513.3 752.4L509.9 754.4M509.9 754.4L506.1 756.2L502.9 758.9L500.1 762.1M500.1 762.1L496.7 762.3L493.4 763.3M524.3 733.7L521.1 731.5L518.6 728.7L517 725.3M517 725.3L515.2 722.7L514.3 719.7M523.2 730.1L523.2 725.5L522.5 721M522.5 721L521.3 719L520.7 716.7M522.5 721L521.3 719.5L520.2 717.9M522.4 726.5L519.5 722.8L517.6 718.6M517.6 718.6L516.9 716.8L516.7 714.9M517.6 718.6L516 716.9L514.1 715.4M529.5 743.4L528.3 739.9L526.3 736.7L524.3 733.7L523.2 730.1L522.4 726.5L521.1 723L519.5 719.7M512.7 708.8L511.5 706L509.9 703.4M519.5 719.7L516.8 716.3L514.7 712.6L512.7 708.8M512.7 708.8L512.7 705.4L512.2 702M512.7 708.8L510.3 706.6L508.6 703.9M504.9 727.1L504.7 723.8L505.5 720.7M517.7 731.4L513.3 730.4L508.9 729.2L504.9 727.1M504.9 727.1L503.5 724L501.5 721.3M517.2 727.8L520.3 724.5L523.3 721L526.7 717.8M526.7 717.8L529.7 717L532.4 715.3M526.7 717.8L529.3 716.4L532 714.9M511.4 714.6L507.3 714.6L503.2 714.7L499.1 714.8M499.1 714.8L496.2 713.4L493 712.9M499.1 714.8L496 715.9L493.3 717.7M519.8 738.3L518.4 734.9L517.7 731.4L517.2 727.8L515.8 724.4L514.1 721.2L513.3 717.7L511.4 714.6L508.8 712M503.6 707L500.3 706.1L497.3 704.7M508.8 712L506.2 709.5L503.6 707L501.4 704.1L498.6 701.9M498.6 701.9L496.6 699.5L494.4 697.3M498.6 701.9L496.2 698.8L493.8 695.8M495.6 746.9L496.4 749.2L496.5 751.6M498.7 740.1L497.1 743.5L495.6 746.9L494.3 750.5M494.3 750.5L492.8 752.7L491.8 755.2M494.3 750.5L494.4 753.5L494.8 756.5M489.7 757.4L485.7 759.1L482 761.5L478.8 764.6M478.8 764.6L476.6 766L474.3 767.6M478.8 764.6L478.2 767.5L477.7 770.5M505.4 735.9L502.2 738.2L498.7 740.1L496 743L494.1 746.4L492.9 750.2L491.8 754L489.7 757.4M489.7 757.4L486.6 760.1L483.6 762.9L480.8 766M480.8 766L479.1 768.9L476.7 771.1M480.8 766L477.7 767.1L474.5 768.1M471.6 746.5L470.1 748.8L468.9 751.2M477.1 736L475.1 739.4L472.9 742.8L471.6 746.5M471.6 746.5L472.5 749L473.3 751.5M471.6 746.5L472.4 749L473.4 751.3M473.4 737.6L469.1 737.3L464.8 738.2L460.6 739.4M460.6 739.4L457.6 739.1L454.5 738.7M460.6 739.4L458.2 741.6L456.6 744.3M487.9 731.2L484.5 733.3L480.9 735L477.1 736L473.4 737.6L469.6 738.6L465.6 739.1L462 740.8M451.5 742.6L449.3 741.3L447.2 739.9M447.9 742.2L444.9 742.9L442 743.9M462 740.8L458.5 741.7L455.1 742.6L451.5 742.6L447.9 742.2M447.9 742.2L445.4 740.4L442.9 738.7M462 740.8L459.3 743.8L457 746.9L454.5 750M454.5 750L452.1 751.6L449.7 753.2M548.9 751.8L545.3 751.2L541.9 749.9L538.8 747.9L535.7 746L532.5 744L529.4 742.1L526.3 740.2L523.2 738.2L519.7 737L516.3 735.7L512.7 734.8L509 734.8L505.4 734.6L501.7 734.5L498.1 733.6L495 731.7L491.5 730.8L487.9 729.9M549 754.1L545.4 753.6L542 752.2L538.9 750.3L535.8 748.3L532.6 746.4L529.5 744.4L526.4 742.5L523.3 740.6L519.8 739.3L516.4 738.1L512.8 737.1L509.1 737.2L505.5 737L501.8 736.9L498.2 736L495.1 734L491.6 733.1L487.9 731.2M480.9 732.6L477.4 731.3L473.7 730.7L470.2 729.2L466.5 728.4M466.5 728.4L463.2 729.2L459.9 730.1M466.5 728.4L463.5 727.9L460.3 727.8M459.8 728.4L457.2 727.5L454.5 727.3M470.3 733.9L466.6 732.5L463.2 730.5L459.8 728.4L456.8 725.9M456.8 725.9L454.4 723.6L452.7 720.8M456.8 725.9L455.7 722.1L454 718.5M459 737.7L455.1 736.7L451.1 736.6M455.8 740.5L455 743.8L454.9 747.2M466.7 734L462.6 735.3L459 737.7L455.8 740.5L453.3 743.9M453.3 743.9L452 747.6L450.4 751.3M453.3 743.9L453.7 748.3L453.1 752.6M457.6 740.7L457.6 743.6L458.3 746.4M463.2 734.9L460 737.4L457.6 740.7L455.5 744.1L454.4 748M454.4 748L456.3 751.2L457.7 754.6M454.4 748L454.5 752.1L455.8 756M447.1 743.1L445.3 745.1L443.1 746.7M459.8 736.2L456.7 738L453.5 739.8L450.4 741.6L447.1 743.1M447.1 743.1L444.3 744.1L441.4 744.7M487.9 731.2L484.5 732.4L480.9 732.6L477.3 732.5L473.8 733L470.3 733.9L466.7 734L463.2 734.9L459.8 736.2L456.3 736.6L452.7 736.8M441.2 736.5L437.2 739.1L433.3 741.9M437.4 736.3L434.8 732.7L431.2 730M452.7 736.8L448.8 737.3L445 736.8L441.2 736.5L437.4 736.3L433.5 736.5M433.5 736.5L429.1 735.7L424.6 736.1M433.5 736.5L429.7 738.6L426.6 741.8M452.7 736.8L448.4 736.7L444.2 737.3L440 737.6L435.7 737.8M435.7 737.8L431.8 739L427.7 739.7M435.7 737.8L432.3 736.2L429.3 733.9M457.9 729.9L456.2 732.2L455.3 735M471.1 725.5L466.6 726.8L462.2 728.2L457.9 729.9M457.9 729.9L454.5 730.9L451.2 731.8M462.6 718.9L462.5 714.7L461.9 710.6L462.6 706.5M462.6 706.5L461.7 703.6L461 700.7M462.6 706.5L464.1 703.7L465.9 701.1M487.9 731.2L484.3 731.1L480.7 730.5L477.5 728.9L474.2 727.4L471.1 725.5L468 723.6L465.4 721L462.6 718.9L460 716.3M448.3 708.9L445.6 708L443 707M460 716.3L456 713.9L452.5 710.9L448.3 708.9M448.3 708.9L444.9 707.5L441.8 705.4M448.3 708.9L445.2 708.2L442.4 706.8M582.9 777.8L585.6 775.4L588.1 772.7L590.6 770.1M586.5 777.2L589 772.7L591.5 768.1M568.8 782.4L572.4 781.5L576 780.4L579.2 778.6L582.9 777.8L586.5 777.2L590.2 776.3L593.8 775.7M593.8 775.7L597.9 776.2L602 775.9L606.1 775.4M593.8 775.7L598.4 774.7L603 773.9L607.6 774.1M586.3 780.9L591.4 781.5L596.5 781.4M589.7 779.8L593.5 780.4L597 782.1L600.4 783.9M579.5 782.7L583 782.3L586.3 780.9L589.7 779.8L593 778.4L596.2 776.8L599.5 775.6L602.5 773.8L605.4 771.7M605.4 771.7L610 771.8L614.7 771.6L619.3 772.3M605.4 771.7L609.1 769.6L612.5 767L616.2 764.7M592.8 787.5L596.2 788.1L599.7 787.7L603.2 788L606.7 787.4L609.9 786.2L613.4 785.5M613.4 785.5L616.5 781.5L620.7 778.7M613.4 785.5L617 785L620.5 783.9L623.8 782.2M612.7 804.3L616.2 805.1L619.8 804.8L623.5 804.4M596.1 788.8L598.8 791.5L601.7 794L604.2 796.8L607.4 798.8L610.2 801.5L612.7 804.3M612.7 804.3L616.6 806.9L620.9 808.7M610.2 791.5L610.5 795.5L610.1 799.5L609.4 803.4M624 795.3L628 794.8L632 794.6L636 794.7M599.6 789.8L603.2 790L606.8 790.3L610.2 791.5L613.8 791.9L617.4 792.5L620.8 793.8L624 795.3M624 795.3L628.2 794.5L632.1 792.8L636.1 791.4M624 795.3L625.8 799.4L628.5 803L632.1 805.7M555.4 777.8L558.6 779.3L561.9 780.8L565.4 781.3L568.8 782.4L572.4 782.6L576 782.1L579.5 782.7L583.1 783.1L586.4 784.3L589.9 785.4L592.8 787.5L596.1 788.8L599.6 789.8L603.2 789.8L606.7 790L610.3 789.5M614.9 783.4L618.4 781.9L621.8 780.4L625.5 779.7M610.3 789.5L612.9 786.7L614.9 783.4L616.5 779.9L618.7 776.7L621.6 774.2L625.1 772.5L628.3 770.4M628.3 770.4L629.3 767L630.7 763.7L631.9 760.4L633.8 757.4M628.3 770.4L631.8 768.9L634.9 766.8L638 764.7M593.6 775.8L595.7 771.7L598.4 768M580.8 783.5L583.6 781.1L587 779.4L590.1 777.3L593.6 775.8L597.3 775.3M597.3 775.3L601.2 772.3L605.5 769.8M597.3 775.3L600.5 777.5L604.2 778.8M588.2 771.4L587.1 766.9L584.7 762.8M590.4 768L595.3 766.6L600.4 766.6M584.4 783L585.7 779.2L586.8 775.2L588.2 771.4L590.4 768L592.3 764.4M592.3 764.4L594.4 759.8L596.5 755.3M592.3 764.4L596.3 762.1L599.9 759.2M570.2 786.4L573.7 785.4L577.1 784.1L580.8 783.5L584.4 783L587.7 781.5L591.2 780.5L594.6 779.1L598.2 778.3L601.9 778.2L605.5 778.2L609.2 778.3L612.8 778.5L616.5 778.7M622.7 782.2L622.8 786.4L622.3 790.5L621 794.5M627.7 787.3L632.1 788.2L636.6 787.9M632.7 792.5L632.9 796.1L634 799.5L635.9 802.6M635.1 795.1L639.3 797L643.5 798.9M616.5 778.7L619.8 780.2L622.7 782.2L625.3 784.7L627.7 787.3L630.3 789.8L632.7 792.5L635.1 795.1M635.1 795.1L638.7 795.4L642.3 795.3L645.9 795.7M627.4 779.8L630.2 783L633.1 786.2L636.7 788.4M634.6 781.1L639.3 781.3L643.9 780.1M641.9 780.8L644.6 783.2L646.4 786.3L647.8 789.7M616.5 778.7L620.2 778.9L623.7 779.9L627.4 779.8L630.9 780.7L634.6 781.1L638.3 781.2L641.9 780.8M641.9 780.8L644.4 778.1L647.5 776L650.8 774.3M641.9 780.8L646.1 780.2L650.4 780L654.6 780.7M590.9 769.7L592 764.7L593 759.7M582.9 781.2L584.4 778L586.8 775.3L589.2 772.8L590.9 769.7L593.5 767.2L595.8 764.5M595.8 764.5L598.6 760.9L600.7 756.8M588.7 776.7L592.3 775.8L595.8 774.7L599.4 774.2L602.7 772.6L605.9 770.9M605.9 770.9L609.3 768.7L612 765.7M609.2 762.5L611.5 765.4L613.6 768.6M618.1 768.6L622 768.8L625.8 768M602.5 759.8L606 760.9L609.2 762.5L612.2 764.5L615 766.8L618.1 768.6M618.1 768.6L622.8 769.9L626.9 772.6M618.1 768.6L620.4 772.5L623.6 775.7M615.4 752.5L618.8 751.3L622.2 750.1L625.6 749.3M622.8 751.7L626.2 749.2L629.9 747.2M605.3 757.4L608.8 756.1L612 754.1L615.4 752.5L619 751.6L622.8 751.7L626.5 752.5M626.5 752.5L630.9 750.8L635.5 749.7M577.1 785.8L580 783.4L582.9 781.2L585.8 779L588.7 776.7L590.8 773.7L593.1 770.8L594.7 767.5L597.1 764.7L599.5 761.9L602.5 759.8L605.3 757.4L608.2 755.1L611.4 753.4L614.9 752.1M614.9 752.1L618.2 751L621.5 749.6L624.2 747.4L627.3 745.7L630.7 744.8L634.2 744.7L637.6 743.9L641 742.9M641 742.9L644.4 742L647.9 741.2L651.1 739.9L654 737.8M622.5 751.7L627.2 750.5L632.1 750M626.2 753L628.9 757.2L630.5 762M629.8 754.5L632.3 758.8L635.5 762.6M614.9 752.1L618.7 751.3L622.5 751.7L626.2 753L629.8 754.5L633.5 755.5L637.4 755.7M637.4 755.7L642.3 757.3L647.4 758.1M637.4 755.7L642.4 755.2L647.4 755.3M603.1 796.2L606.9 795.2L610.7 794.4L614.2 792.6M596.5 793.6L599.9 794.5L603.1 796.2L606.6 797L609.9 798.5L613.1 800.1L616.3 801.9L618.8 804.4M618.8 804.4L620.4 809.2L621.8 814.1M618.8 804.4L619.7 808.2L621.2 811.8L622.1 815.6M619.4 800.6L623.6 803.7L627.6 807M604.8 800.6L608.4 801.2L612.1 800.6L615.7 800.9L619.4 800.6L623.1 801.2L626.7 801.3M626.7 801.3L630.1 803.2L633.1 805.6L636.6 807.1M610.8 804.7L614.6 805.4L618.3 806.1L622.2 806.3L625.9 805.4L629.5 804.2M629.5 804.2L632 800.6L635.4 797.8M629.5 804.2L633.9 803.9L637.9 802.2M619.5 812.1L621.4 816.7L624.4 820.8M613.8 806.8L616.7 809.4L619.5 812.1L622.9 814L626.3 816L629.1 818.6L632.2 821M632.2 821L634.1 824.3L635.4 827.9L636.7 831.5M632.2 821L635.7 824.9L639.3 828.6M621.1 821.7L620.4 825.3L620.5 829L619.8 832.6M621.4 825.4L625.1 828.7L629.2 831.3M623.9 832.3L628.2 832.3L632.5 832.6M619.7 810.8L620.8 814.4L620.8 818.1L621.1 821.7L621.4 825.4L622.3 829L623.9 832.3M623.9 832.3L623 836.2L622.7 840.1L622.8 844M623.9 832.3L625.6 835.6L628.2 838.4L631 840.9M587.1 782.6L590 784.8L592.5 787.5L594.5 790.5L596.5 793.6L599.2 796L601.9 798.3L604.8 800.6L607.8 802.7L610.8 804.7L613.8 806.8L617 808.4L619.7 810.8L622.1 813.6L624.4 816.4L626.4 819.4M626.4 819.4L628.9 822L632.1 823.8L634.8 826.4L638.1 828L641.2 829.8L644.5 831.5L647.2 834M647.2 834L649.1 837.4L651.4 840.4L654.5 842.7M647.2 834L648.1 838.3L649.7 842.4L651.8 846.3M629.1 826.1L632.3 828.1L635.1 830.6L638.4 832.3M632.1 832.7L636.4 833.6L640.6 834.5L644.9 835.4M633.3 839.9L632.8 844.4L631.4 848.7L631.3 853.2M626.4 819.4L627.7 822.8L629.1 826.1L630.5 829.5L632.1 832.7L632.8 836.3L633.3 839.9L633.3 843.5L633.1 847.1M633.1 847.1L632.6 851.6L633 856.2L633.4 860.8M605 744.4L601.5 741.7L598.8 738.2M606.8 768.7L606.6 764.6L606.8 760.5L606.9 756.5L605.8 752.5L605.4 748.5L605 744.4M605 744.4L605.5 740.3L605 736.2L604.6 732.1M611 753.9L609.6 750.1L608.2 746.4M609.7 762.1L610 758L611 753.9L613 750.2L614.9 746.5L616.3 742.6M616.3 742.6L616.5 738.1L616.6 733.6M616.3 742.6L619.9 739.3L622.6 735.2M623.2 740.3L623.6 735.1L624.4 730.1M635 735.8L639.8 735.3L644.4 733.8M617 745.8L619.7 742.6L623.2 740.3L627.1 738.8L631.1 737.3L635 735.8M635 735.8L638.1 734.1L640.7 731.5L643.6 729.4M621.1 735.9L621.3 732.3L622.3 728.9L624.3 725.9L625.5 722.6L626.3 719.1L626.4 715.6L625.5 712.1M625.5 712.1L623.3 708.2L621.1 704.3L617.9 701.2M624.4 715L621 712.3L617.2 710.2M624.6 725.6L624 722.1L624 718.5L624.4 715L625.6 711.6L626.2 708.1L625.8 704.5M625.8 704.5L623.8 701.6L622.1 698.5L619.9 695.7M625.8 704.5L625.6 700.9L624.8 697.4L623.2 694.2M600.1 777.2L602.5 774.5L604.8 771.7L606.8 768.7L607.9 765.3L609.7 762.1L612 759.3L613.5 756L614.6 752.6L616 749.3L617 745.8L618 742.3L619 738.8L621.1 735.9L622.5 732.6L623.5 729.1L624.6 725.6M628.7 719.1L630 715.6L630.4 711.9L630.4 708.2M636.3 706.2L638.4 703.3L641.1 700.8L642.9 697.7M624.6 725.6L626.4 722.2L628.7 719.1L631.6 716.5L634.2 713.6L635.8 710.1L636.3 706.2L637.7 702.6L639.4 699.1M639.4 699.1L640.7 695.7L642.1 692.4L643.8 689.2L645.9 686.2M639.4 699.1L641 694.8L642.4 690.3L644.6 686.2M600.5 750.6L601.4 746.3L602.1 742M605.4 765.3L604 761.7L601.9 758.3L600.7 754.6L600.5 750.6L600.5 746.7M600.5 746.7L598.8 742.6L596.5 738.8M600.5 746.7L602.7 742L603.4 736.9M615.7 736.6L616.1 731.5L617.3 726.5M614.3 733.2L617 729.4L619.8 725.5M616.7 743.8L616 740.2L615.7 736.6L614.3 733.2L612.5 730L611.3 726.6L610.8 722.9M610.8 722.9L612.6 718.3L614.2 713.6M610.8 722.9L610.4 718.3L609 713.9M627.8 735.4L632.5 733.1L637.4 731.3M618.7 740.8L622 739.5L625.1 737.7L627.8 735.4L630.7 733.3L634 731.8L637.5 731.1M637.5 731.1L642.2 731.9L647 732.4M637.5 731.1L642.6 730.6L647.7 730.1M640.5 726.5L644.5 724.2L648.4 721.7M619.9 737.4L623.3 735.4L626.8 733.7L630.3 732L633.9 730.6L637 728.1L640.5 726.5M640.5 726.5L644.4 726.1L648.3 726.3L652.2 726.7M640.5 726.5L643.7 724L647 721.7L650.8 720.3M603.4 775.9L604.2 772.4L605 768.9L605.4 765.3L606.3 761.8L606.4 758.2L607.5 754.8L609.5 751.8L611.5 748.8L614.1 746.3L616.7 743.8L618.7 740.8L619.9 737.4L620.8 733.9M620.8 733.9L621.7 730.4L622 726.9L622.1 723.3L623.1 719.9L623.3 716.3L622.7 712.8M622.7 712.8L621.1 709.5L619.3 706.4L617.9 703.1M622.7 712.8L621.1 708L620.9 702.9M631.4 790.3L629.6 793.9L627.4 797.2M627.1 780.2L628.5 783.6L630.2 786.8L631.4 790.3L631.5 793.9L631.3 797.6L631.1 801.2M631.1 801.2L631.2 806L631.4 810.8M631.1 801.2L631.4 805.1L632.1 808.9L632.1 812.8M641 784.1L644.5 786.5L648.1 788.5M644.6 784.2L647.3 782.1L649.6 779.7M651.8 784.5L655.5 786.4L659.3 788M634 782.9L637.5 784L641 784.1L644.6 784.2L648.2 784.5L651.8 784.5M651.8 784.5L656.4 784L660.9 784.9M654.2 792.2L657.8 789.7L661.5 787.6M657.2 794.4L659.3 798.4L661.7 802.1M644 787.2L647.5 788.7L651 790.2L654.2 792.2L657.2 794.4L660.5 796.3M660.5 796.3L663.7 798.4L666.2 801.3M649.3 805.1L651.6 809L654.6 812.5M649.8 813.4L652.1 817L655.4 819.8M649.1 792.7L649.6 796.8L649.2 801L649.3 805.1L650 809.2L649.8 813.4M649.8 813.4L651.7 817.6L652.6 822.1M609.8 773.2L613.2 774.9L616.6 776.3L619.9 778.1L623.5 779.2L627.1 780.2L630.4 781.9L634 782.9L637.7 783.3L641.1 784.8L644 787.2L646.5 790L649.1 792.7L652.2 794.7M659.2 796.9L663 793.3L665.5 788.9M670.2 798.5L673.5 795.9L677.5 794.3M652.2 794.7L655.9 795.3L659.2 796.9L662.9 797.5L666.5 798.4L670.2 798.5L673.8 798M673.8 798L677.6 797.4L681.3 797.7L685.1 797.2M673.8 798L677.1 799.8L680.6 801.3L684.2 802.5M652.2 794.7L655.4 797.5L658.6 800.2L662.2 802.3L666 804.2L670 805.3M670 805.3L672.5 809L675.3 812.6M670 805.3L673.9 803.5L677.7 801.6M631.1 786.6L630.9 791.1L630 795.5M633.4 794.3L637.6 797.4L640.7 801.6M619.7 775.6L623.3 777.5L626.1 780.3L628.6 783.5L631.1 786.6L632.5 790.4L633.4 794.3M633.4 794.3L635 799.2L637.4 803.7M633.4 794.3L631.9 797.7L630.1 801L627.4 803.7M637.2 780.9L641.6 781.8L646 782.8M626.1 779.1L629.7 779.9L633.4 780.9L637.2 780.9L640.9 780.2L644.6 779.3M644.6 779.3L648.7 780.2L652.8 781.2M644.6 779.3L649 778.4L653.4 777.9M633.3 790.6L636.7 791.6L640.1 792.2L643.6 792.4M639.5 799.4L644.2 800.5L648.5 802.6M629.3 780.6L630.2 784.1L632 787.2L633.3 790.6L635.3 793.6L637.5 796.5L639.5 799.4M639.5 799.4L639.8 804.2L640.2 809.1M639.5 799.4L641.3 803.5L641.9 807.8M649.9 801.2L654.4 803.5L659.4 804.7M640.7 789.5L643.8 791.7L646.1 794.7L647.8 798L649.9 801.2L651.2 804.7L653.1 808M653.1 808L654.1 812L654.7 816L655.9 820M646.4 798.7L645.4 803.6L644.3 808.4M643.3 792L644.7 795.5L646.4 798.7L647.9 802.1L648.5 805.8L647.9 809.5L647 813.1M647 813.1L646 817L645.6 821L646 825M647 813.1L642.9 816L639.9 820M646.4 793.8L647.5 797.5L648.3 801.2L648.7 805L650 808.6L650.1 812.4M650.1 812.4L650.4 817.1L651.3 821.8M650.1 812.4L651.3 816.7L651.6 821.1M650.2 819.4L646.4 822.4L642.1 824.5M649.3 796L649.2 800L649.5 803.9L650.8 807.7L651.1 811.6L651 815.6L650.2 819.4M650.2 819.4L648.4 824.2L648.2 829.4M650.2 819.4L648.3 822.8L647.5 826.5L645.9 830M613.2 772.3L616.4 774.1L619.7 775.6L622.9 777.2L626.1 779.1L629.3 780.6L632.5 782.4L635.1 784.9L637.7 787.4L640.7 789.5L643.3 792L646.4 793.8L649.3 796L651.6 798.9L653.9 801.6M666.6 812.5L665.4 817.4L664.8 822.3M669.9 815.1L670.4 818.9L671.9 822.5M653.9 801.6L657.2 804.2L660.7 806.6L663.9 809.3L666.6 812.5L669.9 815.1M669.9 815.1L672.1 818.7L673.1 822.9M669.9 815.1L673.5 818.6L676.5 822.7M647.1 763.7L649.3 759.4L652.7 755.9M649.9 761.3L651.3 757.4L652.9 753.6M637.2 769L640.4 767.1L643.8 765.5L647.1 763.7L649.9 761.3L653 759.2L656.5 758M656.5 758L660.1 758.5L663.7 758.3L667.3 758.8M656.5 758L661.3 756L665.9 753.8M675.1 775.6L679.9 775L684.7 774M664.8 769.7L668.1 771.9L671.7 773.5L675.1 775.6L678.9 776.6L682.3 778.5M682.3 778.5L686 781.9L690.4 784.3M673.4 779.5L676.5 782.9L678.7 786.9M674.6 783L678.6 784.8L682.1 787.4M668.3 769.7L670.9 772.5L672.4 775.9L673.4 779.5L674.6 783L675.6 786.7M675.6 786.7L674 791.4L671.9 796M675.6 786.7L675.7 791.3L674.6 795.8M623.2 769.3L626.7 769.9L630.2 769.4L633.7 769.2L637.2 769L640.6 768L644.1 767.7L647.5 767.1L651.1 767L654.4 767.9L657.9 768.6L661.3 769.5L664.8 769.7L668.3 769.7M676.6 768.5L680.6 770.1L684.2 772.6M668.3 769.7L672.5 769.6L676.6 768.5L680.3 766.6L683.8 764.3L687.3 762M687.3 762L690.8 759L693.8 755.6M668.3 769.7L671.8 771.8L674.6 774.7L676.7 778.2L678.8 781.7L680.9 785.2M680.9 785.2L682.6 788.9L684.5 792.6M680.9 785.2L684.1 786.5L687.5 787.3L690.7 788.7M636.4 769.1L640 767.8L643.8 767.4L647.5 767.3L651.3 766.7L654.7 765.1M654.7 765.1L658.2 763.5L661.6 761.7M650.1 766.2L653.2 762.7L655.8 758.8M643.6 769.6L646.7 767.6L650.1 766.2L653.7 765.9L657.4 766.2L661 765.4L664.3 763.9M664.3 763.9L669 763.9L673.5 763.5M664.3 763.9L667.5 762.1L669.9 759.3L671.6 756.1M652.8 774.7L653.9 778L654.9 781.4L656.9 784.3M662.6 784.9L663.1 789.7L664.8 794.1M647.2 770.4L650.2 772.3L652.8 774.7L654.8 777.7L657.4 780.1L659.7 782.9L662.6 784.9L664.8 787.7M664.8 787.7L666.7 791.6L669.1 795.3L671.4 798.9M657.7 778.9L658.3 783.4L657.6 788M659.6 782L663.9 784.4L668.7 785.6M661.6 785L663.1 789.6L663.4 794.4M663.6 788L666.9 790.5L669.6 793.5L671.8 797M650.8 770.5L653.1 773.3L655.3 776.2L657.7 778.9L659.6 782L661.6 785L663.6 788L665.8 790.9M665.8 790.9L668.2 794.8L671.5 798L674 801.9M665.8 790.9L668.3 794.3L671 797.6L673.2 801.2M659.1 776.5L660.6 780L662 783.5L663.4 787.1M661.7 778.9L661 782.5L659.4 785.8L657.4 789M654.4 771.1L656.7 773.9L659.1 776.5L661.7 778.9L663.9 781.7L665.9 784.7L666.9 788L667.9 791.5M667.9 791.5L667.4 795.6L666.6 799.7L664.7 803.4M667.9 791.5L668.6 795.2L668.5 799.1L669.6 802.8M629.7 766.5L632.9 768.3L636.4 769.1L640.1 768.9L643.6 769.6L647.2 770.4L650.8 770.5L654.4 771.1L658 772L661.2 773.6L664.3 775.6L667.6 777.2L670.7 779L674.2 780.1L677.4 782M683.9 786.5L684.7 790.3L684.6 794.1L684.8 797.9M687.2 788.6L689.3 793.1L690.3 797.9M693.6 793.3L697.3 794.1L700.9 794.8L704.2 796.5M697.1 795.3L699.5 799.1L702.3 802.7L705 806.3M677.4 782L680.8 783.9L683.9 786.5L687.2 788.6L690.4 791.1L693.6 793.3L697.1 795.3L700.6 797.2M700.6 797.2L705.1 796.6L709.6 796.4L714 796.6M661.6 762.3L663.9 765.3L667 767.5M665.2 763.7L667.1 766.7L669.6 769.2M669 764.3L672.7 762.5L676.3 760.5M650.2 761.7L654 762L657.8 761.7L661.6 762.3L665.2 763.7L669 764.3M669 764.3L671.5 767.3L673.6 770.7M669 764.3L673.1 764.1L677.1 764.2M681.9 769.6L685.8 767.9L689.9 766.8M668.3 762L671.6 764L675 766L678.5 767.7L681.9 769.6L685.5 771M685.5 771L689.2 774.2L692.4 777.8M685.5 771L689 773.5L691.8 776.7M678.1 748.4L681.7 745.7L684.9 742.5M671.9 762.1L674.3 759.2L675.8 755.7L677 752.1L678.1 748.4L679.9 745.1M679.9 745.1L682.5 741.5L684.1 737.3M679.9 745.1L683.1 742.9L686.1 740.6M693.9 750.1L698.5 749.6L703 750.5M686.2 759.3L689.4 756.8L692.2 753.8L693.9 750.1L694.5 746L695.3 742M695.3 742L696 738.4L695.8 734.6L695.3 730.9M695.3 742L696 737.9L696.7 733.7M642.9 761.9L646.5 762.1L650.2 761.7L653.8 761.1L657.4 761.2L661 761.7L664.7 761.5L668.3 762L671.9 762.1L675.5 761.2L679 760.4L682.6 760.2L686.2 759.3L689.8 759.4M702.2 758L704.5 754.9L707.2 752M710.5 756.9L714.2 759.8L717.7 763M689.8 759.4L693.8 758.1L698 757.8L702.2 758L706.3 757.4L710.5 756.9M710.5 756.9L713.4 754.8L716.5 753L719.7 751.3M710.5 756.9L714.9 755.2L719.1 752.9M694.3 753.8L697.9 752.5L701.6 751.3L705.4 750.4M697.4 747.4L701.3 746.6L704.9 745.1L708.8 744.5M689.8 759.4L692.4 756.9L694.3 753.8L695.8 750.6L697.4 747.4L699.3 744.4L701.5 741.5L703.8 738.7M703.8 738.7L705.6 735.6L707.6 732.4L710.4 730M703.8 738.7L705.1 734.4L705.6 729.9L704.9 725.4M538.8 766.1L541.9 767.7L544.5 770.1L547.6 771.7L550.2 774.1L552.7 776.6L555.2 779L557.7 781.5L560.2 783.9L563.2 785.7L566.5 786.9L569.9 787.7L573.5 787.8L576.9 787L580.3 786.2L583.7 785.3L586.9 783.9L590.1 782.5L593.3 781L596.5 779.6L599.8 778.5L603.1 777.2L606.3 775.8L609.6 774.5L613 773.6L616.5 773.2L619.8 772L623 770.6L626.2 769.2L629.4 767.8L632.8 766.9L636.2 765.9L639.5 764.6L642.7 763.1L646.1 762.5L649.3 761.1L652.7 760.1M539.2 763.8L542.3 765.4L544.9 767.8L548 769.4L550.6 771.8L553.1 774.3L555.6 776.7L558.1 779.2L560.6 781.6L563.6 783.4L566.9 784.6L570.4 785.4L573.9 785.5L577.3 784.7L580.7 783.9L584.1 783L587.3 781.6L590.5 780.2L593.7 778.7L596.9 777.3L600.3 776.1L603.6 774.9L606.8 773.5L610 772.2L613.4 771.3L616.9 770.9L620.2 769.7L623.4 768.3L626.7 766.9L629.9 765.5L633.3 764.6L636.6 763.6L639.9 762.3L643.1 760.8L646.5 760.2L649.8 758.8L653 758.9M689.7 749L691.2 745.3L691.9 741.3M681.5 756L684 753.4L687 751.4L689.7 749L692.5 746.8L694.8 744L696.5 740.8M696.5 740.8L697.5 737.4L699.4 734.2L700.3 730.7M696.5 740.8L701.1 740L705.7 740M710.5 754.9L714.5 752L718.4 749M714.3 754.4L716.5 750.2L718.7 746M721.7 754.2L725 751.8L727.9 749L729.9 745.4M695.7 754L699.3 754.9L703.1 755.2L706.8 755.4L710.5 754.9L714.3 754.4L718 754.7L721.7 754.2M721.7 754.2L725.1 751.9L728.7 749.9L732.6 748.6M721.7 754.2L725.5 756.1L729.5 757.7L733.6 758.9M716.6 745.6L718 742.4L720.1 739.6L722.1 736.6M698.6 751.8L702.4 751.2L705.9 749.6L709.3 747.9L713.1 747.2L716.6 745.6L720.1 743.9M720.1 743.9L723.3 741.8L726.1 739.2L728.7 736.4M720.1 743.9L722.3 740.5L724.4 737L727.3 734.1M653 758.9L656.5 758.1L660.1 758.3L663.7 757.6L667.2 756.7L670.7 755.8L674.3 756L677.9 756.1L681.5 756L685.1 756.3L688.8 756.1L692.3 755.2L695.7 754L698.6 751.8L701.5 749.6L704.3 747.4M715.4 736.7L719.9 735.1L724.2 732.9M704.3 747.4L707 744.6L710.1 742.3L712.7 739.5L715.4 736.7L718.1 733.9L721 731.4M721 731.4L721.9 727.9L723.1 724.6L723.5 721.1M721 731.4L724.5 730.6L727.9 729.9L731.4 729.6M707 735.8L709.3 732.8L711.3 729.6L712.2 725.9M704.3 747.4L705.9 743.7L706.5 739.8L707 735.8L708.4 732.1L710.2 728.5L711.5 724.8L711.7 720.8M711.7 720.8L712.1 716.2L713.2 711.7L713.5 707M711.7 720.8L709 717.8L705.7 715.4L702.9 712.5M664.9 751.1L665 745.9L664.4 740.7M668 748.8L671.5 749.3L675.1 749.1L678.6 749.1M659.7 756.8L662.4 754.1L664.9 751.1L668 748.8L671.4 747L674.4 744.5L677.8 742.7L681.2 740.9M681.2 740.9L684.9 741.6L688.1 743.3L691.3 745.1M681.2 740.9L684.9 741.5L688.5 741.5L692.2 741.3L695.9 741.8M672.3 766.1L676.4 767.2L680.5 768.6L684.7 769.7M681.9 780.7L686.5 782.9L691 785.2M666.6 757.2L668.6 760.1L670.1 763.3L672.3 766.1L674.6 768.8L676.5 771.7L678.9 774.3L680.6 777.4L681.9 780.7M681.9 780.7L681.7 784.5L681 788.3L680.7 792.1L679.5 795.8M686.9 752.6L688.9 749L689.7 745.1L690.9 741.2M693 748.9L696.5 749.4L700.1 749.3L703.6 749.8M696 746.9L696.6 742.9L696.8 738.8L697 734.7M677.1 757.1L680.3 755.6L683.7 754.4L686.9 752.6L690.2 751.1L693 748.9L696 746.9L699.2 745.2M699.2 745.2L701.4 741.7L702.9 737.8L704 733.7M708.7 740.6L710.7 737.2L712.7 733.6L713.9 729.8M712.5 730.8L711.8 725.9L710.1 721.3M705.9 747.1L707.4 743.9L708.7 740.6L709.5 737.2L711.1 734.1L712.5 730.8L714.4 727.8L716.2 724.8M716.2 724.8L717.4 721.3L719.2 718.1L721.2 715M724.5 737L727.9 735.7L731.2 733.9L734.5 732.3M708.6 744.8L711.8 743.3L714.8 741.4L718 739.8L721.1 738.1L724.5 737L728 736.2L731.5 736.5M731.5 736.5L735.1 734.1L739.2 732.4L743.5 731.4M731.5 736.5L734.6 734.7L737.8 733.2L741.3 732.2M724.4 736.7L726.1 733.5L728.6 730.8L731.2 728.4L734.4 726.6M731.6 736.6L735.1 735.7L738.3 734.1L741.7 733.1L745.3 732.8M735 738.1L738.9 737L742.8 736L746.7 734.7M742.2 738.8L743.7 742.5L745.2 746.2L747 749.8L748.7 753.4M714.2 740.7L717.7 739.6L721 738.1L724.4 736.7L728 736.3L731.6 736.6L735 738.1L738.6 738.5L742.2 738.8L745.8 738.3M745.8 738.3L750.1 738.5L754.3 737.4L758.6 737.1L762.8 737.8M745.8 738.3L749.3 736.4L752.6 734.5L756.2 732.8L759.9 731.8M653 758.9L656.3 757.7L659.7 756.8L663.2 756.8L666.6 757.2L670.1 757.4L673.6 756.8L677.1 757.1L680.6 756.8L684.1 757.2L687.6 757L690.9 756L694.2 754.7L697.1 752.8L700.1 750.9L703 749L705.9 747.1L708.6 744.8L711.5 742.9L714.2 740.7M721.1 738.3L724.7 740.3L728 742.7L731.3 745.1M731.9 736L735.8 738.1L740.2 739.1L744.7 739.1M735.5 736.1L737.6 739.8L739.1 743.8L741.5 747.3M714.2 740.7L717.7 739.6L721.1 738.3L724.7 737.3L728.3 736.8L731.9 736L735.5 736.1L739.2 735.8L742.8 735.9L746.4 736.6M746.4 736.6L749.7 737.8L752.9 739.4L756.2 740.5L759.5 741.6M746.4 736.6L749.9 737.5L753.4 738.1L757 738.5L760.5 739.1L764.1 739.4M540.2 525.4L542.3 522.4L544 519.1M544 519.1L545.4 518L547.1 517.2M544 519.1L544.3 517.1L544.4 515.2M542.2 534.4L542.3 530.1L541.4 525.8L540.2 521.6L540.1 517.3M540 533.7L540.1 529.4L539.3 525.1L538 521L538.9 516.9M538.9 516.9L538.1 513L537.2 509M537.2 509L537.4 507.3L537.5 505.6M537.2 509L536.9 507.4L536.1 505.8M533.1 508.7L531.2 506.2L529.8 503.4M529.8 503.4L528.6 502.2L527.2 501.4M533.4 498.5L532.8 497.3L531.9 496.3M531.6 505L532.8 501.8L533.4 498.5M533.4 498.5L533.6 497L534.1 495.7M533.4 498.5L533.1 497.1L533.3 495.8M535.6 516.7L535.4 512.7L534.3 508.8L532.9 505.1L530.9 501.7M533.3 516.5L533.2 512.5L532.1 508.6L530.6 504.9L529.7 501.6M529.7 501.6L529.4 497.9L529.3 494.3M529.3 494.3L529.3 492.5L529.2 490.8M529.3 494.3L530.3 493.2L531.3 492M529.7 501.6L529.8 497.3L530.4 493.1M530.4 493.1L530.6 491L530.7 488.9M530.4 493.1L530 491L530 488.8M535.8 512.4L535.6 508.9L534.9 505.4L535.3 501.9L534.6 498.4L533.4 495M533.6 513.2L533.5 509.6L532.8 506.1L533.2 502.6L532.5 499.1L532.2 495.5M532.2 495.5L529.3 491.7L526.8 487.6M526.8 487.6L524.9 486.9L523 486.2M526.8 487.6L526.3 485.3L525.3 483.1M532.2 495.5L533.5 491.8L534.3 488M534.3 488L534.7 486L534.6 484.1M514.8 502.2L510.2 502.7L505.7 503.2M505.7 503.2L504.1 504.6L502.2 505.6M505.7 503.2L503.7 504.6L501.4 505.3M529.8 501.6L526.1 500.8L522.4 500.9L518.6 501.4L514.9 500.9L511.1 501M529.6 503.9L525.9 503.1L522.1 503.2L518.4 503.6L514.7 503.2L511 502.2M511 502.2L506.8 503L502.5 502.5M502.5 502.5L500.2 502.8L498 503.7M502.5 502.5L500.8 503.1L499.1 503.5M503.8 507.3L502 507.1L500.2 507.3M511 502.2L507.7 505.1L503.8 507.3M503.8 507.3L503.1 509.4L502.7 511.6M545.5 544.9L545 541.2L544.8 537.4L543.5 533.9L541.8 530.6L540.4 527.1L539.1 523.6L537.7 520.1L536.8 516.5L537.1 512.7L536.2 509.1L534.4 505.8L532.2 502.8M541 545.1L540.5 541.3L540.3 537.6L539 534.1L537.3 530.8L535.9 527.3L534.6 523.8L533.2 520.3L532.3 516.6L532.6 512.9L531.7 509.3L529.9 506L529.7 502.9M525.8 480.4L521.7 478.4L518.1 475.7M518.1 475.7L517.7 473.5L517.5 471.3M518.1 475.7L516 475.5L514 474.9M531 502.5L529.3 499L527.7 495.5L527.1 491.6L526.8 487.8L527.3 483.9L527.1 480M528.6 503.2L526.9 499.7L525.3 496.1L524.7 492.3L524.4 488.4L524.9 484.6L525.8 480.4M525.6 470.3L523.9 469L522.1 468.1M526.5 480.4L526.2 475.3L526.3 470.2M525.2 480.4L524.8 475.4L525.6 470.3M525.6 470.3L527 468.5L528.9 467.2M525.6 470.3L525.6 467.7L525.5 465.1M529 469.5L531 467.7L532.5 465.4M526.5 480.6L526.6 476.8L527.7 473.1L529.7 469.8M525.2 480.2L525.3 476.3L526.4 472.7L529 469.5M529 469.5L530.2 466.6L531.8 463.9M529 469.5L531.1 467.8L533 465.7M520.9 492.6L520.2 491.3L519.8 489.8M527.1 496L523.8 494.7L520.9 492.6M520.9 492.6L519.7 491.3L518.9 489.7M520.9 492.6L519.8 491.5L518.9 490.4M525.5 492.7L521.7 490.9L517.8 489M517.8 489L516.5 487.8L515.1 486.9M530.9 502.2L529.6 498.8L528.4 495.4L526.7 492.1L524.4 489.3L521.3 487.2M528.7 503.4L527.4 499.9L526.2 496.5L524.5 493.2L522.2 490.4L520.1 487.9M520.8 487.5L517.6 484L514.3 480.8M519.6 488.2L516.4 484.7L513.6 481.1M513.6 481.1L511.7 481.2L509.8 481.4M520.3 487.1L516.1 485.2L511.9 483.5M520 488.5L515.8 486.5L511.7 484.2M511.7 484.2L510.1 482.4L508.2 480.9M511.7 484.2L509.6 482.8L507.7 481.2M537 550.6L538 546.8L538.8 543L538.9 539.1L539.4 535.2L541.1 531.7L542.4 528M535.3 550L536.3 546.2L537.1 542.4L537.2 538.5L537.7 534.6L539.4 531.1L541.5 527.7M541.5 527.7L544.7 524L548.2 520.7M548.2 520.7L549.2 518.8L549.8 516.8M548.2 520.7L550.3 519.9L552.2 518.8M536 535.5L534.4 532.3L532.1 529.6L529.2 527.5L526.1 525.8L522.6 524.8M534.6 536.7L533.1 533.5L530.7 530.8L527.8 528.7L524.7 527L521.9 525.5M521.9 525.5L519.3 522.3L517.3 518.8M517.3 518.8L516.7 517L516.4 515M515.6 520.7L514.2 520.9L512.8 521.2M521.9 525.5L518.6 523.3L515.6 520.7M515.6 520.7L514 520.5L512.4 520.3M515.6 520.7L514 519.8L512.3 519.1M536.3 524.9L533.9 521.6L530.5 519.3L527 517.4L523.8 514.9L520.2 513.1M534.9 525.9L532.4 522.7L529.1 520.4L525.5 518.5L522.3 516L519.3 513.7M519.3 513.7L516.2 510.7L513.8 507.1M513.8 507.1L513.1 505.2L511.9 503.7M513.8 507.1L511.9 506.1L509.8 505.6M519.3 513.7L514.3 513.8L509.3 513.6M509.3 513.6L507.2 513.2L505 513.3M534.2 519L536 515.5L537.9 512.1L540.3 509.1L542.8 506.1L544.7 502.7M532.5 518.4L534.3 514.9L536.2 511.5L538.6 508.5L541.1 505.5L543.8 502.3M542 493.2L540.8 491.6L540.1 489.7M543.8 502.3L542.9 497.8L542 493.2M542 493.2L541.6 491.3L541.6 489.2M542 493.2L541.1 491L540.7 488.7M543.8 502.3L548.1 499.7L552.7 497.6M552.7 497.6L554.7 498L556.7 498.6M541.8 559.1L539.7 556.2L538.4 552.8L537.8 549.3L536.8 545.9L536.7 542.3L537.1 538.8L537 535.2L536.9 531.6L537.3 528.1L537.3 524.5L536.3 521.1L535 517.7L533.4 514.5L531.9 511.3M538.6 560.8L536.5 557.9L535.2 554.5L534.7 551L533.6 547.6L533.5 544L533.9 540.5L533.8 536.9L533.7 533.3L534.1 529.8L534.1 526.2L533.1 522.8L531.9 519.4L530.3 516.2L530.1 512.2M522.7 499.6L519.5 496.8L516.2 494.2L513.2 491.1M513.2 491.1L510.1 490.3L506.9 489.8M513.2 491.1L510.6 490.9L508.1 491.4M531.2 511.9L528.9 509L527 505.8L525.8 502.3L523.8 499.2L521.8 496.1L520.6 492.6L519.5 489M529.3 512.5L527.1 509.6L525.1 506.4L524 502.9L521.9 499.9L520 496.7L518.7 493.2L518.5 489.4M514.4 483.2L514.6 480.7L514.6 478.2M518.5 489.4L516.2 486.4L514.4 483.2L512.3 480.1M512.3 480.1L509.7 479.3L507.3 477.8M512.3 480.1L510.9 477.8L509.7 475.5M516.5 499.3L516.7 495.7L516.3 492.2L515.7 488.7M515.7 488.7L515.3 486L514.8 483.3M515.7 488.7L516 486L515.5 483.4M512.7 492.7L509.5 490.9L506.5 488.9L504 486.1M504 486.1L502.9 483.6L501.3 481.3M530.8 511.3L527.4 509.5L524.4 507.1L521.3 504.8L518.8 501.9L517.1 498.4L515.7 494.8L513.3 491.8M529.7 513L526.3 511.1L523.3 508.7L520.2 506.4L517.7 503.5L516 500L514.6 496.5L512.7 492.7M512.7 492.7L510.9 489.4L510 485.8L510.1 482M510.1 482L511.2 479.5L512.2 477M510.1 482L509.8 479L509.7 475.9M509.7 485.9L507.2 485L505 483.4M512.7 492.7L511.3 489.3L509.7 485.9L508.2 482.6M508.2 482.6L508.4 479.6L509.3 476.7M508.2 482.6L507.3 480.3L507.2 477.9M565.1 525.1L567.1 522.2L568.2 518.8M568.2 518.8L567.9 517L567.5 515.3M568.2 518.8L568.9 517.5L569.3 516.2M558.7 529.1L562.1 527.6L565.5 526.1L568.9 524.4L572.1 522.5L575.5 520.9M558 527.5L561.4 525.9L564.8 524.4L568.2 522.7L571.5 520.9L575.1 519.9M575.1 519.9L577.3 516L579.3 511.9M579.3 511.9L580.7 510.2L581.9 508.3M579.3 511.9L580 510.2L581.2 508.7M566.5 514.6L570.5 513.5L574.2 511.8M574.2 511.8L576 510.7L577.8 509.5M574.2 511.8L575.9 510.6L577.7 509.5M568.2 510.9L568.3 506.6L568.3 502.4M568.3 502.4L568.4 500.6L568.7 498.7M568.3 502.4L566.9 500.7L565.9 498.7M560.2 525.2L562.9 522.1L565 518.6L567.3 515.2L569 511.5L571.7 508.3M558.7 524.1L561.5 521L563.6 517.5L565.9 514.1L567.6 510.4L570.9 507.7M570.9 507.7L574.9 506.8L579 506.8M579 506.8L580.6 505.8L581.9 504.5M570.9 507.7L571.6 502.9L572.3 498.1M572.3 498.1L571.6 495.8L571.6 493.5M572.3 498.1L571.6 495.7L571.5 493.2M559.4 505.6L558.6 500.8L559.2 495.9M559.2 495.9L560.3 493.9L561 491.7M562.2 517.2L561.2 513.3L560.7 509.3L560.4 505.3L560.4 501.3L559.5 497.4M560.5 517.6L559.5 513.8L559 509.8L558.6 505.8L558.7 501.8L558.6 497.7M558.6 497.7L559.7 493.5L561.3 489.4M561.3 489.4L561.4 487.2L561 485M549.9 560.7L551.6 557.4L552.6 553.8L552.9 550.1L553.2 546.3L554.5 542.8L555.9 539.3L557 535.7L558.6 532.3L560.2 529L561.2 525.4L562.7 521.9L563.1 518.2M546.5 559.4L548.2 556.1L549.2 552.4L549.6 548.7L549.8 545L551.2 541.5L552.6 538L553.7 534.4L555.2 531L556.8 527.6L557.9 524L559.4 520.6L561.2 517.4M561.2 502.3L564.6 499.5L567 495.9M567 495.9L567.5 494L568.1 492M561.5 498.5L559.8 494.4L559.1 490M559.1 490L559.6 487.8L560.1 485.6M559.1 490L560.3 488.1L562.1 486.6M562.3 517.7L562.4 513.9L562.9 510.2L562.6 506.4L562.3 502.6L562.6 498.8M560.4 517.2L560.5 513.4L561 509.6L560.7 505.8L560.4 502.1L561.5 498.5M563.5 490.7L563.3 489.2L562.6 487.8M561.5 498.5L562.3 494.6L563.5 490.7M563.5 490.7L563.1 488.8L563.1 486.9M564.3 510.5L563.8 506L562.2 501.8M562.2 501.8L560.4 500.3L558.3 499.2M562.2 501.8L562.6 499.9L563 497.9M574.1 506.5L575.8 504.9L577.7 503.5M577.6 506.9L579.9 506.6L582.1 506.2M567.1 507.8L570.5 506.7L574.1 506.5L577.6 506.9M577.6 506.9L579.9 508.7L582.3 510.3M575 499.5L574.8 495.3L574.3 491.1M574.3 491.1L573.9 488.9L573.2 486.8M574.3 491.1L573 489.5L572 487.7M562.3 517.9L563.4 514.2L565.3 510.9L568.1 508.2L570.7 505.4L573.1 502.4L576.1 500M560.4 517.1L561.6 513.4L563.5 510.1L566.3 507.4L568.9 504.6L571.2 501.6L575 499.5M577 492.1L575.6 490.3L574.9 488.2M575 499.5L576.1 495.8L577 492.1L577.6 488.3M577.6 488.3L578.3 486.1L579.3 484M577.6 488.3L576.4 485.6L576.1 482.7M511.4 754.2L508.2 752.7L505.5 750.5L502.3 749.1L498.9 748.2M498.9 748.2L495.2 747.9L491.6 747.2M528.6 749.4L525.1 750.2L521.7 751.2L518.4 752.7L514.8 753.2L511.4 754.2L508 755.3L505.1 757.4L502.2 759.5M489.6 761.2L486.6 760.4L483.8 759.3M502.2 759.5L497.9 759.7L493.8 760.9L489.6 761.2M489.6 761.2L486.9 761.7L484.2 762.3M489.6 761.2L487.3 763L485.8 765.4M492.2 765.2L490.1 764.5L488 764.3M502.2 759.5L498.6 761L495.2 762.8L492.2 765.2M492.2 765.2L490.5 767.3L489.2 769.8M492.2 765.2L489.3 764.8L486.4 764.7M505.7 766.4L504.2 769.2L503.2 772.2M504.6 770.6L502.3 771.7L499.8 772.3M508.1 758.3L507 762.4L505.7 766.4L504.6 770.6M504.6 770.6L504.6 773.4L505 776.1M504.6 770.6L502.2 771.8L500 773.5M525.1 749L521.5 750.6L518.2 752.7L514.7 754.3L511.1 755.9L508.1 758.3L504.5 759.8L500.7 760.5L496.8 760.3M482.4 755.1L481.2 751.6L479 748.6M496.8 760.3L492.9 759.7L489.1 758.9L485.7 757.2L482.4 755.1M482.4 755.1L480.9 752.2L480.2 749M482.4 755.1L479.2 754.4L475.9 754.3M488.4 762L486 761.1L483.6 760.3M496.8 760.3L492.6 761.3L488.4 762L484.3 763.1M484.3 763.1L481.2 763.3L478.2 764.4M484.3 763.1L481.1 763.6L477.9 764.5M482 725.6L478.8 727.3L475.6 728.9L473 731.4L470.9 734.3M470.9 734.3L469.1 737.5L467.8 740.8M470.9 734.3L468.4 735.7L466.1 737.5M461.3 726.5L461.4 729.3L461 732.1M458 727.8L456.1 730.7L453.9 733.3M467.3 722.8L464.1 724.2L461.3 726.5L458 727.8L454.5 728.4M454.5 728.4L451.7 728L448.9 728.4M454.5 728.4L451.5 728.3L448.6 729.1M492.2 730.4L488.8 728.6L485.6 726.7L482 725.6L478.3 724.9L474.8 723.5L471.1 722.9L467.3 722.8L463.6 723.4M463.6 723.4L460.5 726.4L457.5 729.5L454.6 732.7M454.6 732.7L453.6 735.3L452.1 737.6M454.6 732.7L453.8 735.5L452.8 738.2M438.8 732.5L435.4 734.4L432.2 736.4M452.4 725.4L448.7 726.4L445.3 728.2L442 730.4L438.8 732.5M438.8 732.5L435.3 734.8L431.5 736.4M438.8 732.5L437.6 735.5L437.3 738.8M486.1 726.8L482.3 726.6L478.6 726.2L474.8 726.1L471.1 726.7L467.4 726.9L463.6 726.5L459.9 726.3L456.2 725.4L452.4 725.4M438.7 730.2L435.7 729L433 727.2M435.4 731.8L431.8 730.5L428.3 728.9M452.4 725.4L449 726.6L445.6 728L442.3 729.6L438.7 730.2L435.4 731.8M435.4 731.8L430.4 731.5L425.5 730.8M479.9 723.3L476.3 724.4L472.6 724.5L468.9 725.3L465.4 726.5L461.7 727L458 726.5L454.3 726L450.6 725.1M450.6 725.1L446.6 724.1L442.8 722.6L438.8 721.7M438.8 721.7L435.5 721.9L432.3 722.6M435.5 725L433 722.5L431.3 719.5M450.6 725.1L446.8 725.5L443 725.3L439.2 725.8L435.5 725M435.5 725L432.6 722.2L429.1 720.2M435.5 725L432 724.3L428.5 724.5M449.8 724.9L447.6 728.8L446.4 733.1L444.8 737.3M444.8 737.3L443.6 739.9L442.4 742.5M477.3 720.7L474 719.5L470.4 719.5L466.9 720.2L463.6 721.7L460.4 723.2L456.8 723.6L453.3 724.4L449.8 724.9M449.8 724.9L446.2 725.5L442.9 727.1L440 729.2L437 731.2M437 731.2L434.5 732.7L432.1 734.4M437 731.2L434 733.3L431.5 735.8M449.8 724.9L446.9 727.3L444.1 729.8L440.8 731.6L437.3 733.1M437.3 733.1L436.1 736.3L435.7 739.7M539.3 750.5L535.8 749.8L532.3 749L528.9 747.9L525.4 747.5L521.8 747.4L518.3 747L514.9 745.9L511.4 745.1L508.3 743.3L505.8 740.8L502.9 738.6L500.5 736L497.7 733.8L495.2 731.2L492.5 728.9L489.7 726.6L486.4 725.3L483.3 723.5L480.2 721.8L477.7 719.3L475.1 716.8M538.8 753.2L535.3 752.5L531.8 751.6L528.4 750.6L524.8 750.2L521.2 750.1L517.7 749.6L514.3 748.5L510.8 747.7L507.8 745.9L505.2 743.4L502.4 741.2L499.9 738.6L497.1 736.4L494.7 733.8L491.9 731.6L489.2 729.3L485.9 727.9L482.8 726.1L479.6 724.4L477.1 721.9L474.8 718.2M470.3 694.1L468.6 692.1L466.6 690.4M472 707.8L472 703.2L471 698.7L470.3 694.1M470.3 694.1L471.3 690.6L472.6 687.2M470.3 694.1L471.6 691.5L472.5 688.7M470.6 704.4L467.4 702.2L464.9 699.1L462 696.5L458.4 694.9M458.4 694.9L454.4 695.8L450.3 695.7M458.4 694.9L454.9 695.6L451.2 695.8M467.7 693.9L463.7 693.3L460.1 691.7L456.2 690.7L452.2 690.5M452.2 690.5L448.4 690.6L444.7 691.7M452.2 690.5L449.6 687.7L448 684.4M475.6 718L475.4 714.4L474.5 710.8L472.8 707.6L471.4 704.2L470.9 700.6L469.9 697.1L468.5 693.7L467.5 690.2L466.3 686.7L465.5 683.1M474.2 718.4L474 714.7L473.1 711.2L471.3 708L470 704.6L469.4 700.9L468.5 697.4L467 694L466 690.5L464.9 687L464.7 683.3M457.2 674.9L454.5 675.6L451.8 675.6M464.7 683.3L461.9 680.8L459.8 677.6L457.2 674.9L454.3 672.4M454.3 672.4L451.2 671.6L448 671.5M453.5 689.6L453.8 687L453.7 684.4M460.7 701.5L458.6 697.4L456 693.5L453.5 689.6M453.5 689.6L450.8 688.3L448.6 686.5M453.5 689.6L453.5 686.7L453.9 683.9M475.6 717.9L473.3 715L471.5 711.9L469.3 708.9L466.5 706.5L464 703.8L461.4 701.2L459 698.5L457.1 695.3L455.8 691.9M474.2 718.5L472 715.6L470.1 712.4L467.9 709.5L465.1 707.1L462.6 704.4L460.1 701.8L457.6 699L455.7 695.9L455.1 692.2M458.1 685.4L460.5 683L462.3 680M455.1 692.2L456.7 688.8L458.1 685.4L460.1 682.2L462 679M462 679L464.2 676.3L467 674.1M462 679L465 677.8L467.6 675.8M454.2 684.7L455 681.6L455 678.4M455.1 692.2L454.7 688.4L454.2 684.7L452.9 681.1L451.8 677.5M451.8 677.5L449.7 674.7L447.4 672.1M451.8 677.5L449.5 674.6L446.7 672.3M528.6 710.3L525.4 712.3L522 713.9L518.4 714.8L514.8 715.7L511.1 716.6M511.1 716.6L506.1 716.4L501 715.6M511.1 716.6L506.9 716.7L502.8 717.7M531.1 725.3L534.4 727.8L538.2 729.5M527.9 713.8L529.2 717.6L530.5 721.4L531.1 725.3L532.8 729L533.3 733M533.3 733L533.5 737.6L533.7 742.3M515.9 721.8L511.6 721L507.3 721.4M527.1 717.2L523.7 719.5L519.8 720.7L515.9 721.8L512 723L508.1 724M508.1 724L503.6 726.1L499.8 729.4M508.1 724L504.3 725.6L500.9 728M525.9 724.1L527.1 727.5L527.5 731L527.4 734.6L528 738.1L528 741.7M528 741.7L529.2 745.6L531 749.3M523.9 738.5L524.6 742.6L524.1 746.7M522 741.9L520.7 745.1L518.5 747.8M516.1 746.8L512.1 749.1L507.8 750.4M526.3 731.2L524.9 734.8L523.9 738.5L522 741.9L519.2 744.6L516.1 746.8M516.1 746.8L514.4 750.4L513.9 754.3M516.1 746.8L512.9 749L509.5 750.9M517.5 745.5L515.4 748.5L512.8 751.1M524.8 741.7L521.3 743.9L517.5 745.5L513.7 746.9L509.7 747.8L505.7 748.9M505.7 748.9L502.4 752.8L498.4 755.9M505.7 748.9L501.6 750.1L497.9 752.1M521.3 753.3L523.8 756.2L526.2 759.2M524.2 745.2L522.4 749.1L521.3 753.3L520.8 757.7L520.1 762M520.1 762L519.8 766.2L520.7 770.3M520.1 762L519.2 765.4L517.3 768.4M512.5 763.1L511.1 767.2L509.6 771.3M523.9 748.7L521.6 751.6L518.6 753.8L516.3 756.7L514.3 759.9L512.5 763.1M512.5 763.1L511.1 766.8L508.8 770M512.5 763.1L511.9 767.8L510.2 772.1M529.1 703.3L528.3 706.8L528.6 710.3L527.9 713.8L527.1 717.2L526.3 720.6L525.9 724.1L526.3 727.7L526.3 731.2L525.9 734.7L525.4 738.2L524.8 741.7L524.2 745.2L523.9 748.7M523.9 748.7L522 751.8L520.3 755L518.2 758L515.5 760.4L512.4 762.2L509.2 763.9M509.2 763.9L508 769L508.4 774.2M522.9 755.6L520 758.9L516.7 761.6M523.2 759.2L526.9 760.4L530.8 761.1M523.9 748.7L523 752.1L522.9 755.6L523.2 759.2L523.3 762.7L522.4 766.1L520.6 769.2M520.6 769.2L521.5 772.7L522.7 776.2L524.2 779.6M454.8 686.4L451.2 684.6L448.1 681.9M463.4 697.3L460.6 695.2L458.5 692.4L456.6 689.4L454.8 686.4L453 683.4M453 683.4L451.1 679.6L448.6 676.2M453 683.4L450.1 681.1L447.5 678.6M445.9 696.3L442.6 696.2L439.3 696.2M442.8 694.4L440 696.3L437.4 698.4M456.5 698.7L452.9 698.4L449.4 697.5L445.9 696.3L442.8 694.4L439.4 693M439.4 693L434.8 691.3L430.2 689.7M430.2 702.3L427.2 699.2L423.7 696.8M423.6 698.8L418.7 700.5L414 702.7M444.5 705.7L440.8 705.6L437.2 704.6L433.8 703.1L430.2 702.3L426.9 700.6L423.6 698.8M423.6 698.8L420.9 695.9L418.7 692.6L415.6 690M432.3 718.1L428.9 719.8L425.8 722M427.1 723L423.8 725.2L421.2 728.2M424.8 725.7L419.8 726.7L415.4 729.3M438.7 709.6L436.9 712.7L434.9 715.6L432.3 718.1L429.8 720.7L427.1 723L424.8 725.7M424.8 725.7L422.2 729.1L419.3 732.4M473.7 699.3L470.2 698.7L466.9 697.5L463.4 697.3L460 698L456.5 698.7L453.5 700.4L450.6 702.4L447.8 704.5L444.5 705.7L441.4 707.5L438.7 709.6L435.4 710.9L431.9 711.3M424.6 708.6L421.3 710L418.1 711.7L415.6 714.2M415.2 701.7L412.4 697.7L410.5 693.2M431.9 711.3L428.2 710.2L424.6 708.6L421.4 706.4L418.3 704L415.2 701.7L411.8 699.7M411.8 699.7L407.2 697.2L402.4 695.1M411.8 699.7L408.7 696.9L405.6 694L403.5 690.4M421.3 706.9L417.7 707.4L414 707.5L410.3 707.9M415.1 702.5L413.2 697.6L411.6 692.6M412.3 699.7L411.7 695.1L411.4 690.5M431.9 711.3L428.3 709.9L424.6 709L421.3 706.9L418.5 704.3L415.1 702.5L412.3 699.7M412.3 699.7L407.6 698.5L403.1 696.4M460.8 712.1L463.5 715.1L466.8 717.5M461.5 703.7L461 707.9L460.8 712.1L460.6 716.2L461.5 720.3M461.5 720.3L460.5 723.8L460.4 727.5M459.5 706.6L461 710.1L462.3 713.7L464.6 716.7L467.2 719.4L469.4 722.6L471.2 725.9M471.2 725.9L471.2 729.6L470.6 733.3L469.9 737M471.2 725.9L473.6 728.7L475.5 731.8L477.6 734.9M439.4 723.6L438.7 727.4L439 731.3M450.3 717.1L446.3 718.6L442.7 720.8L439.4 723.6L436 726.1M436 726.1L433.6 728.9L431.6 732M436 726.1L431.8 726.3L427.7 726M447.8 719.5L447.5 723.1L447.2 726.8L446.2 730.3L444.8 733.7L444.3 737.3L444 741M444 741L442.8 745.9L441.9 750.9M426.7 742.2L424.8 745.7L422.4 748.7M438.7 734.3L435.4 735.8L432.5 737.9L429.5 740L426.7 742.2L424.3 745M424.3 745L423.2 748.7L423 752.6M466.7 699.1L464.2 701.5L461.5 703.7L459.5 706.6L457.1 709.2L455.4 712.2L453 714.8L450.3 717.1L447.8 719.5L445.8 722.4L443.6 725.1L441.6 728L440 731.1L438.7 734.3M437 741.8L440 745.1L442.6 748.8M438.7 734.3L437.3 738L437 741.8L436.6 745.7L435.1 749.2L432.8 752.3L430.5 755.4M430.5 755.4L431.1 759L431.7 762.6L432.1 766.2M430.5 755.4L426.8 757.1L422.7 757.7L418.6 757.9M438.7 734.3L437.9 737.9L437.8 741.6L437.6 745.3L438.1 748.9L438.4 752.5L438.9 756.2M438.9 756.2L439.8 759.9L440.9 763.6L441.8 767.3M438.9 756.2L438.7 760.9L439 765.7M439.5 691.9L436.2 694L432.9 696.1M432.9 688.3L429 688.9L424.9 689.1M449.1 697.6L445.8 696L442.8 693.6L439.5 691.9L436.2 690.2L432.9 688.3M432.9 688.3L428.7 686L425.1 682.8M424.9 688.4L421.2 688.8L417.6 689.4M442 697.6L439.1 695L435.6 693.1L432 691.6L428.5 689.9L424.9 688.4M424.9 688.4L421.5 684.4L418.5 680.3M438.5 698.3L434.8 700.3L431.3 702.6L427.5 704.4L423.7 706M423.7 706L420.1 707.9L416.5 709.4M423.7 706L419.5 705.6L415.4 705.3M435 698.9L431.4 698.4L427.8 697.9L424.2 698.3L420.7 699.4L417.1 699.7L413.6 700.5M413.6 700.5L409.3 702.8L405.3 705.5M456.2 698.6L452.6 698.4L449.1 697.6L445.6 697.5L442 697.6L438.5 698.3L435 698.9L431.4 698.3L428.1 696.9L424.8 695.5L421.4 694.7L418 693.5L414.7 692.1L411.2 691.3M394.8 685.5L392.3 688.8L390.3 692.5M411.2 691.3L408.1 689.6L405.2 687.6L401.9 686.2L398.4 685.7L394.8 685.5L391.3 685.7M391.3 685.7L387.5 683.8L383.9 681.4M411.2 691.3L408.4 688.5L405.3 686.2L402.7 683.2L399.8 680.7L397.5 677.4M397.5 677.4L394.7 674.6L391.3 672.5M397.5 677.4L393.4 674.5L388.6 672.9M422.4 681.6L420 677.8L416.7 674.8M418.7 681.7L415 678.1L412.3 673.7M436.8 684.3L433.1 684.1L429.5 683.2L426 682L422.4 681.6L418.7 681.7L415.1 680.9M415.1 680.9L410.5 679.3L406.6 676.6M415.1 680.9L410.6 682L406.5 683.9M429.9 667.5L425.5 665.5L421.8 662.4M428.8 664L425.8 661.5L423.7 658.3M427.8 660.5L427.4 656.2L427.4 652M434.7 681.3L433.6 677.8L432.3 674.3L431.1 670.9L429.9 667.5L428.8 664L427.8 660.5M427.8 660.5L425.3 656.3L422.1 652.7M427.8 660.5L429.2 657.1L430.1 653.5L431.4 650M425.5 661.3L424 657.7L422.6 654L420.8 650.5L419.7 646.8L419.5 642.9M419.5 642.9L419.2 638.5L420.1 634.3M419.5 642.9L421.4 639.8L422.3 636.4L422.6 632.8M449.2 698L446.7 695.2L443.8 693L441.3 690.2L439.2 687.1L436.8 684.3L434.7 681.3L433.5 677.7L432.3 674.3L431.5 670.6L429.6 667.4L427.8 664.2L425.5 661.3M414.3 656.6L411.7 659.9L408.4 662.4M425.5 661.3L421.9 659.3L418.3 657.4L414.3 656.6L410.4 655.4L406.6 653.8M406.6 653.8L403 650.5L399.7 646.9M416.9 654.8L412.6 653.8L408.3 653.4M409.9 653L407.4 650.9L405.3 648.4M425.5 661.3L422.6 659L420.1 656.5L416.9 654.8L413.3 654.1L409.9 653M409.9 653L405.2 651.8L400.7 649.9M539.2 698.5L535.7 699.1L532.4 700.3L529.3 701.8L526.1 703.4L522.7 704.2L519.4 705.5L516 706.5L512.5 706.6L509 707.2L505.5 707.3L502.1 708.1L498.7 708.9L495.2 709.1L491.7 708.5L488.3 707.7L485.2 706L482.3 704L479.7 701.7L477.1 699.3L473.9 697.8L470.4 697.2L466.9 697.6L463.4 697.5L459.9 697.6L456.4 697.1L452.9 697.2L449.4 696.5M538.8 701.2L535.4 701.8L532 703L528.9 704.5L525.7 706.1L522.3 706.9L519 708.1L515.7 709.1L512.1 709.2L508.7 709.9L505.2 710L501.7 710.8L498.3 711.6L494.8 711.8L491.3 711.2L487.9 710.4L484.8 708.7L481.9 706.7L479.3 704.4L476.7 702L473.5 700.5L470.1 699.9L466.6 700.3L463 700.1L459.5 700.3L456 699.8L452.5 699.8L449.2 698M427.8 682.8L425.8 680.2L423.8 677.6M439.1 694.5L437.2 690.8L434.3 687.9L430.9 685.6L427.8 682.8M427.8 682.8L424.1 681.3L420.7 679.1M427.8 682.8L427.8 679.4L428.8 676.1M429.7 684.1L432.7 681.1L434.8 677.5M428.3 680.1L425.8 677.4L422.9 675.1M432.3 692.2L430.7 688.3L429.7 684.1L428.3 680.1L427.5 676M427.5 676L424.4 672.5L421.7 668.8M427.5 676L427.1 671.9L427.3 667.7M410.5 690.7L406.3 690L402.3 688.9M419.6 685.6L417 687.9L413.7 689.3L410.5 690.7L407.3 692.2L404.2 694M404.2 694L400.1 694.7L396 695M401.5 705.7L402.8 710.2L402.9 715M409 686.6L407.5 690.4L406.7 694.5L404.8 698.1L403.3 701.9L401.5 705.7M401.5 705.7L398.9 710.2L397.3 715.2M401.5 705.7L398.7 709.8L394.9 713.1M449.3 697.1L445.7 696.7L442.4 695.3L439.2 693.6L435.6 692.9L432.4 691.4L429.3 689.4L426.5 687.2L423.2 685.8L419.7 684.8L416.1 684.6L412.5 684.6L409 685.8M449.2 698.6L445.6 698.2L442.3 696.8L439.1 695.1L435.5 694.4L432.3 692.9L429.2 690.9L426.4 688.7L423.1 687.3L419.6 686.3L416 686.1L412.4 686.1L409 686.6M402.6 689.6L397.6 690.5L392.5 691.2M393.8 695.4L389.3 696.6L384.6 697.3M409 686.6L405.8 688.1L402.6 689.6L399.4 691.1L396.6 693.2L393.8 695.4L391.9 698.4M391.9 698.4L391.4 702.7L390.6 707M391.9 698.4L388.7 701.7L384.8 704.3M397.2 686.1L393.3 687L389.6 688.4M409 686.6L405.1 685.9L401.1 686L397.2 686.1L393.2 685.9L389.3 684.9M389.3 684.9L384.6 684.5L379.9 683.7M536.5 818Q534 700 538 580Q539 560 537 540M551.5 818Q553 700 549 580Q548 560 550 545"/><path d="M504 687.2L506.1 684.9M455.3 631.8L453.7 630.2L450 631.9M451.4 730.4L448.3 726.9L444.4 726.7M502.5 740L503.3 736.8L507.9 737.2M517.1 708.6L513.9 705.3L510.5 708.5M528.7 770.1L524.4 767.6M478.6 633L476.3 637.1L473.8 637.6M535.4 694L536.8 689.5L534.9 688.3M534.7 743.6L536 747.9M444.7 670.4L446.9 672.5L449.9 671.1M589.2 571.7L586.1 569.4M562.3 694L558.6 691.8L560.6 689.5M566.4 742.5L564.6 743.3M601.9 556.4L600.9 558.6L604.2 560.4M557.7 592.8L554.6 595.2L551.1 598.2M504.4 700.4L506.8 700.9M583 559.4L582.2 556.7L584.3 556.2M484.6 600.4L484.7 603.3M523.2 513L521.5 514.6M490.7 602.7L492.9 604.9L496 607.1M556.7 608.6L553.6 605.9L550.9 602.6M527.3 642.9L529.6 638.7M584.8 581L584.1 576.7L581.1 576.2M563 727.7L560.2 730.8L556.2 731.9M532.6 741.8L528.9 740.1M524.9 669.9L525.1 665.4L526.3 663.8M566.7 654.7L569.8 653.1L573.9 650.7M508.8 582.9L505.8 580.4M548.9 523L551.1 526.5M561.6 604L561.5 600.5M506.6 710.5L505.5 708.1L505.6 705.4M560.3 538.7L559.4 541.4L557.4 540.6M521.1 684.6L520.4 686.8M452 738L448.6 734.6L447 732.5M531.6 720.4L529.5 721L525.5 722.5M545.7 636.7L543.7 633L540.1 634.2M543.4 556.2L542.9 558.9M522.6 695.4L525.3 698.1M471 645.5L467.6 645.4M576.1 518.5L573.6 521.1M563.9 601.8L561.8 600.2M565.7 574.7L566.8 571.6L565.3 568.1M542 710.8L540.1 712.5L541.1 715.6M571.1 658.2L574.3 655.1L573.6 652.1M448.4 668.6L445.9 669.4M541 709.6L540.6 705.5M571.6 597.6L567.9 595.5M507.8 763.5L509.7 760.1L513.3 758.8M483.1 629.5L480.4 633.2M568.1 639.2L568.3 644L568.9 648.7M494.1 684.7L490.5 686.8M469 608.8L470.7 611.8M518.7 662.7L516.6 661.1L512.3 660.9M563.9 575.1L564.2 578.1M535.8 688.7L532 691.4L529.2 692.2M464.2 583.8L465.9 581.8M540.7 611.3L538.4 610L536.8 607M541.6 661.6L538.6 660.8M503 568L505.2 567.8M532.1 698.4L528.7 697.2L524.3 698.6M432.6 701.4L428.8 703.5M567.2 558.3L567.3 560.3M480.7 655L478.2 655.5L473.6 657.5M563.5 557.8L565.7 558.7L570.5 558.6M518 716.5L521.5 718.6M460.1 669L456.2 669.4M509.9 723.3L506.2 724M582.6 558L582.8 561.2M453.7 708L449.4 709.7L445.8 709.8M436.6 679.3L434.8 682.2L433.4 683.9M500.6 575.4L500.8 571.9L502.2 570.3M556 712.1L559.3 711.2M523.3 764.3L521.8 765.8M466.8 611.4L469.1 612.4L468.9 615.2M551.6 668.6L547.9 669.1M538.9 733.1L542 733.2L545.1 733.9M468.6 590.9L466 592.7M573.3 760.3L574.3 758.2M569.7 682.1L566.3 684.9M580.2 532.2L579.3 534.9M487.9 588.1L485.2 587.7M479.7 718.4L481.6 714.9M520.4 533.6L520.4 529.5M466.3 624.6L467.4 620.9L471.2 622.9M509.6 707.7L511.5 706.7L513.9 709.9M458.3 712.2L455 710.1L453 705.8M508.4 551.1L511 550.4L513 546.4M559.4 566.1L557.4 563.3M571.4 729.5L570.2 727.6L571.3 725M479.7 589.7L481.8 586.9L482.1 584.9M529.5 600.3L525.8 600.9L523.4 596.9M557.5 655.2L558.1 650.6M555.2 774.8L552.1 778.1M509.6 629L512.3 628.8L515.6 628.4M468.5 670.4L468.2 668L464.3 669.1M554.7 658L556.3 655.6L557.6 651.6M572.3 817L576.1 815.5L574.5 812.9M560.6 641.8L558.2 639.8M521.3 596.5L520.7 600.9L520.3 605.2M459.1 707.1L461.8 705.8L461.3 701M510.1 689.2L510.4 692.2L512.9 695.6M506.5 658L505.4 653.4L502.3 654.7M597.1 569.8L593.2 569.9M507.9 665.6L511.2 663.8M536.9 562L541.5 562.6L541.8 558M576.2 577.2L574 578.6L571.6 574.6M527.7 581.6L524.5 579.7M571.3 664.2L568.9 663M497.6 540.5L492.9 541.8L491.3 544.5M564.8 525.6L568.5 526.4L571.2 530M498 584.6L501.6 581.4L499.7 577.9M484.8 713.8L485.6 711.1M528.3 575.3L523.8 574.5M528 645.4L529.7 641.4M512.5 535.5L516.4 535.1L516.8 537.3M584 545.5L582 544.1M494.3 586.4L496.5 583.1M528.1 578.7L530.4 579.8M487 732.8L483.7 735.6L479.3 734.7M561.5 624.1L559.5 620.6L555.3 621.7M531.9 613.9L535.4 613.8L536.6 611.7M525.3 653.9L523.1 652.8M471.8 726.6L469.9 727.4L468.8 724M534.2 778.6L534.7 775.9M574.6 796.8L572.6 796.1M519.6 710.3L520.6 714L516.1 714.5M498.2 612L496.1 610.2M565.6 646.7L564.4 650.1M541.9 557.8L545.7 556.3M457.6 713.7L455.8 710.5L455.6 708.3M563.1 598.3L560 596.1M531.5 582.3L534.7 585.4M565.7 525.7L568.3 528.6M487 695.2L486.5 697.2L486.1 701.3M487.2 591.8L489.1 593L492.9 591.6M499.4 652L496.3 651.7L495.1 648.6M564.7 777.4L566.9 774L569.3 772.7M550.7 749.5L551.9 746M489.1 623.7L486.2 622.4M483.8 708.8L479.5 710.7L480.8 713.5M555.5 586.9L557.9 588.3L560.2 588M535.4 774.3L533.8 769.8M539.6 582.5L538.2 584.1L538 586.9M483.1 737.7L485 740.1L489.8 740.2M458.6 710.8L462.8 713M443.9 658.2L445.7 662.7M527.5 659.6L531.5 659.5L534 658M457 604.7L453.5 604L450.5 602.8M507.7 690.9L505 691.2L502.8 688.4M466.2 703.3L468.1 700M532.9 721.7L529.8 719.5M489.8 605.1L488.1 601.7L483.8 600.9M552.8 608.9L555.5 609.6M551.5 805.7L551.7 808.5M486.9 687.3L487.5 690.6L485.6 692M547.5 653.9L544.6 657.1M508.3 726.5L509 721.8L504.4 721.9M539.5 722.7L541.8 721.9M580.1 581L578.1 581.8M529.1 689.4L524.8 689.4L521.9 692M446 735.5L450.1 734.5L450.9 736.8M561.7 784.8L564.6 784.9M488 616.8L490.9 619M547.9 781.4L549.3 779.1M471.6 660.7L468.1 662.3M559.5 645.1L559.2 647.6L558.8 650.3M511.5 644.1L513.9 643.9M470.8 708.6L472.9 711.4M511.4 734.5L506.9 735.8L503.5 738M491.2 681.5L489.4 679.5M537.6 665L535.3 665.3L534.3 662.7M453.7 672.7L453.8 669.1M555.3 811.8L552.9 812.9L550.8 811.3M557.6 564.1L558.2 561.5M496.2 549.2L497.2 551.5M562.4 536.7L566.9 537.1L569.8 537.2M519.4 588.7L523 587.2L524.6 588.5M551.5 735.3L548.8 734.7L547.9 731M508 609.7L509.6 605.3M519.9 554.3L516.6 551.4L516.6 548M523.8 578.5L520.2 577.4L516 575.8M563.2 784L564.1 786.6L566.5 789.7M557.4 605.4L559.1 603.6L561.9 603M518.6 733.9L520.7 735M572.4 537.2L569.7 538.7M559.7 510.9L562.8 513.7L566 515.1M524.9 573.1L523.1 569.7M441.6 705.1L445.5 707M501.9 578.3L502.3 576.2L506.9 575.4M501.7 707.5L500.9 704.9M595.3 536.3L596.3 538.7M531 723.1L526.4 724.9L522.3 723.4M514 542.8L510.7 545.7L511.3 548.9M592 563.6L595.1 563.9L597.7 567.7M530.7 746.8L531.1 749.5M486.2 560.1L483 558.4M516.8 763.3L515.2 767.4L517.2 769.7M561.1 526.2L565.7 524.2L570.2 525.4M572.5 803.2L574.3 799.6L573 796.9M517.5 580L519.4 578.4L521.8 578.9M587.9 578.8L589.5 580.1M442.7 639.3L442 636.3M481.5 723.9L485.1 723.5L486.9 726.5M564.4 727.1L563.8 724.2L564.5 720.3M464.9 581.2L464.9 576.2M526.2 540.1L525.5 543.4M462 649.7L460.3 651.7M520.5 694.6L517 694.1M550.3 570.6L549.5 567.1M493.6 619.8L492.2 621.4L493 624M507.5 661.3L510.4 662.9M508.7 560.8L506.4 563.2M594.6 537.9L594.8 541.6M551.5 744L554.1 741M553.9 716.3L556.5 715.2L559.3 711.7M472.3 751.9L471.5 753.7L470.3 755.4M555.9 736.5L554.4 732.6L553.9 728.8M564.8 699.5L566.9 699.4M579.8 567L582.9 565.5L584.7 563.8M572.5 697.7L575.1 697.1L577.5 696.8M565.8 549.5L566.1 544.5M549.8 526.1L552.5 527.2L553 531.4M450.7 725.9L448 727.8L449.3 730.1M541.8 785.6L541.7 783.1L539.7 781.4M545.7 662.4L546.3 666.3L550.7 667M544.4 573.1L546.5 571L548.5 570.1M589.6 581.9L593.5 582M541.6 537.1L545.5 538.2M532.3 557.5L536.8 557L536.5 553.8M517.9 623.5L517.6 620.3L518.7 616.1M470.2 626.6L474.6 626.3M474.1 651.6L474.6 647.6M533.6 591.4L530.7 589.9M529.6 724L529.1 728.1M480.1 747.3L478 744.2M541.5 553.9L543.7 555M548 517L551 518.1M578.2 578.3L576 575.1L573.1 572M505.1 711.6L503.2 714.1L501.1 717.2M456.9 714.2L455 714.9M516.8 659.8L517 664.3L514.9 667.3M555.3 591L554 595.2L555.5 597.2M553.6 772.1L551.7 773L549.4 771.9M520.6 549.7L518.8 548.7M468.6 586.5L467 582.3M461.1 680.6L457.9 677.3L458 673.4M449.4 699.2L452.4 698.4M544.8 704.4L546.9 703.5L548.3 701M563.4 807L559.1 808.5M524.1 738.4L523.4 736.1M544.9 702.5L541.6 703.5L542.2 706.4M514.2 693.2L512.2 690.1L507.6 691.8M462.4 740L463.4 741.9L468 741M581 591.1L579.4 593.6M548.4 608.3L545.2 610.2L542.6 611.9M598.6 559.3L601.3 559.9L605.8 560.5M563.9 642.1L561.6 639.7L558.5 636M583 566.1L582.7 569.2L586.5 568.7M506.5 709.1L506.8 712.5M540.9 713.4L540 716.4M529.6 727.5L526.6 728.5M436.1 708.5L431.8 708.8L428 709.5M515.6 536.6L514.7 540.4L510.4 542M601 577L601.5 575L598.4 574.1M481.3 618.2L482.6 615M495 670.6L498.2 669M568.5 709.8L568 714.2M523.9 646.4L519.1 646.1M521.9 756.4L524.5 756.5M569.7 604L569.5 599.6M573.4 707.9L571.4 707.6M541.3 543.3L540.7 545.5L537.9 544.8M492.7 672.1L493.3 674.3L498 675.1M555.3 774L554.2 777.7L558.7 778.5M549.3 634.1L549.9 632M513.5 611.5L511.7 614.1M553.8 714.7L553.8 717M484.2 628.7L488.1 626.9L491.4 628.7M565.9 749.9L565.4 745.3L563.4 742.7M573.6 756.5L578.1 758.2L582.9 758.4M467.8 732.4L467.5 735.2L467.5 739.9M543.9 774.4L541.4 770.3L540 768.8M510.4 610.2L508.5 608L508.4 605M533.3 543L534 547.4L534.9 549.6M494.1 570.3L489.4 569M569.3 704.5L571.9 707.7L569.9 711.1M483.2 574.8L484.5 578.5L487.7 577.6M449.6 617.2L453.6 614.4L455.3 612.5M527.3 737.9L528.7 736L527.3 732.9M517.4 765.5L517.5 763.3L514.2 761.1M457.9 698.1L454.6 694.9M441.4 706.9L441.4 710.1L443.2 712.6M550.6 682.9L548.6 684.2M468.6 635.3L469.9 636.8L469.1 638.9M530.4 566.6L532.4 565.8L535.2 568.7M509.3 669.5L505.9 669.6L503.1 672.4M536.5 746.9L539.4 745.5M561.2 613.5L557.6 613.8L557.2 609.6M513.7 580.3L514.5 576.8M486 728.3L484.1 732.4M542.1 503.1L544.4 501M568.4 529.7L564.7 532.1L561.5 535M449.9 733L450.3 735.5M564.4 601.3L561 599.9L558.9 598.6M530.8 558L534.5 561.1M527.4 600.1L529.9 601.3L528.3 605.1M537.2 753L534.1 751.4M547.7 526.6L548 529.3L544.5 532.9M532.6 715.6L531.7 713.3L534.6 712.1M596.5 550.3L596.9 553.1L601.4 553.7M528.7 610.7L527.6 612.6M563.9 595.3L567.9 595.8L570.2 593.9M485.7 762.9L482.8 766.9M494.9 596.1L496.5 592.6M531.2 705.3L530.3 703.1L532.4 701.1M547.7 596.6L545.5 599.7M505.6 649.8L508.8 647.6M536 567.8L534.1 566.9L530.5 564.1M502.9 743.8L505.2 747.9L507.3 749M495.4 600.4L498 601.1M435.3 654.9L435.2 651.4M588.7 550.1L586.1 546.7L583.9 546.5M558.7 796.2L560.9 798.1L563.1 801M547.1 799.9L544.4 798.5M542.1 799.3L542.2 794.6L540.3 790.1M543.6 538.5L545.4 539.4M551.1 554.8L552.8 553.4L553.3 550.7M478 564L474.8 564.9L472 565.8M458.8 610.5L456.9 612.2L456.4 615.3M563.8 544.6L562.7 543L559.8 543.8M601.9 587.2L600.3 589.4L597.6 593.3M500.6 538L502.9 536.9L501.5 535M492.9 616.1L489.5 616.1L486.5 615.4M497.4 558.3L495.8 560.2M436.2 687.1L439.7 685.1M499.8 556.6L502.6 553.8M587.9 526.2L587.9 528.2L591.1 529.2M589.7 555.6L586.8 555.2L586.2 557.8M505.9 648.7L503 652.7L503.4 655.4M561.7 805.2L560 807.6L557.1 811.1M460.1 688.3L457.1 690.2L454.8 694.4M444.8 647.2L447.3 645.8M545.4 589L544.4 591.5M554.5 721L552.5 717.7M563.3 733.8L563.7 730.1L565.4 725.7M569.2 783.3L569 780M459.4 640.1L455.4 637.2M497.7 709.6L501.3 711M526 748.3L528.3 747.2L529.2 743.4M584.4 566.4L586.7 566.5M523.3 626.6L525.8 628.4M603.8 589.5L606.6 589.3M451.7 712.2L448.5 709.8M513.7 543.1L509.3 542.5M555 743.9L553.6 746.7M549.6 650.4L552.3 646.4M450.3 670.7L447.5 672.1M528.1 680.4L523.9 677.8L520.2 678.9M496 676.7L498.6 674.1L501.1 673.9M506.7 574.6L509 574L510.9 577.4M528.1 715.6L528.8 717.6L530.9 717.5M541.3 659.2L538.1 658.1L534.5 661M557.8 622.7L558.1 619.5M511.5 524.8L510.8 528.1L508.2 531.6M501 716.9L502.1 712.5L503.6 710.5M532.9 515.6L529.2 518.5L527.1 522.9M487.6 574.2L489.7 572.1L492.4 570.5M516.9 690.3L513.9 688.6M507.1 743.1L505.4 746.7L505 751.1M556.5 802.5L556.9 804.8M552.3 735L550.3 736.9L550.5 740.3M487.5 602.4L486.8 600.3L482.1 601.8M577.7 547.2L578.1 549.3M486.9 755.9L484.7 755.6L481 757.1M469.8 744.2L470.4 748.7L472.9 748.9M501.8 756.3L505.3 753.1L509.3 754.4M552.4 632.5L548.8 629.1L551 626.6M577.2 536.5L578.9 533.5L582.6 531.8M520.6 754.1L522.6 754.6M461 660.1L463.8 657.3"/></g>
<path d="M1050 585L1068 548L1092 525L1122 533L1148 553L1172 575L1200 585L1215 610L1240 650L1238 690L1225 740L1200 765L1160 770L1131 790L1131 810L1108 810L1085 790L1050 780Z" fill="#cbcbcb" opacity="0.3"/>
<clipPath id="tc23"><path d="M1050 585L1068 548L1092 525L1122 533L1148 553L1172 575L1200 585L1215 610L1240 650L1238 690L1225 740L1200 765L1160 770L1131 790L1131 810L1108 810L1085 790L1050 780Z"/></clipPath>
<g clip-path="url(#tc23)" fill="none" stroke="#454545" stroke-width="0.55" stroke-linecap="round" stroke-linejoin="round"><path d="M1108.3 589.7L1104.2 587.3L1099.8 585.2M1114.4 600.3L1112 597L1110.7 593.2L1109.3 589.3L1107.5 585.7L1104.6 582.8L1101.4 580.4M1112.7 600.9L1110.3 597.6L1109 593.8L1107.6 589.9L1105.8 586.3L1102.9 583.4L1100.4 580.8M1100.4 580.8L1097.2 577.1L1093.2 574.3L1090 570.6M1100.4 580.8L1096.4 578.4L1093.1 575.2L1089.1 572.8M1122 619.9L1120.6 616L1118.2 612.6L1116.8 608.7L1115.6 604.7L1115.4 600.6L1115.2 596.4L1114.9 592.2L1115.9 588.2L1116.6 584.1L1117.9 580.1L1120.2 576.6L1122.3 573M1118.4 620.1L1117 616.1L1114.6 612.8L1113.2 608.8L1112 604.8L1111.8 600.7L1111.6 596.5L1111.3 592.4L1112.3 588.3L1113 584.2L1114.3 580.3L1116.6 576.7L1120.3 573.1M1126.4 562.9L1130.9 559.1L1136 556.5M1126.4 558.9L1124.7 554.2L1124.6 549.3M1121.3 573.6L1124 570.7L1126.1 567.2L1127.4 563.4L1127.4 559.4L1128.1 555.5L1130 551.9M1119.5 572.7L1122.3 569.8L1124.4 566.3L1125.6 562.5L1125.6 558.5L1126.3 554.5L1129 551.4M1129 551.4L1128.2 545.5L1127.9 539.5M1129 551.4L1133.3 548L1138.1 545.5M1121.4 573.1L1122.3 568.9L1124.3 565.2L1126.8 561.7L1128.4 557.8L1130.3 553.9L1132.3 550.2L1133.2 546M1119.4 573.1L1120.3 568.9L1122.3 565.2L1124.8 561.7L1126.4 557.7L1128.3 553.9L1130.3 550.1L1132.1 546M1132.1 546L1131.4 541L1129.5 536.3L1127.2 531.8M1132.1 546L1134.8 542L1136.7 537.5L1138.4 532.9M1100 633.3L1094.7 630.9L1089.7 627.8M1110.7 646.4L1107.2 643.9L1104.2 640.9L1102.2 637.1L1100 633.3L1099.3 629.1M1099.3 629.1L1095.8 625.4L1093.3 621M1099.3 629.1L1100.2 623.7L1100.4 618.2M1095.1 642.2L1091.7 639.6L1088.1 637.4L1084.9 634.8L1081.9 631.8L1078.2 629.9M1078.2 629.9L1075.6 626.7L1072.5 624L1068.8 622.2M1078.2 629.9L1073.1 627.1L1067.4 625.8M1075.5 647.1L1071.8 651L1067.7 654.4M1091 642.1L1086.8 642.5L1082.7 643.1L1078.9 644.6L1075.5 647.1L1071.7 648.7M1071.7 648.7L1066.2 649.1L1060.8 649M1066.2 628L1065.4 623.6L1065.8 619.2M1078.9 640.7L1076.8 636.6L1073.6 633.4L1069.9 630.7L1066.2 628M1066.2 628L1062.8 625.2L1058.9 623.4M1074.9 640.1L1070.9 641.5L1066.9 643.2L1063 644.7L1059.7 647.4L1056.1 649.7M1056.1 649.7L1053.2 653.4L1050.8 657.6M1056.1 649.7L1051.8 653.3L1047.2 656.5M1118.9 648.8L1115.4 646.5L1111.6 645.2L1107.8 643.7L1103.9 642.4L1100 641.1L1095.9 640.9L1091.8 640.9L1087.7 640.9L1083.6 640.8L1079.8 639.5L1075.7 638.9M1117.3 651L1113.9 648.8L1110 647.4L1106.2 645.9L1102.3 644.6L1098.5 643.3L1094.4 643.2L1090.3 643.1L1086.2 643.1L1082.1 643L1078.2 641.7L1074.9 640.1M1075.4 639.5L1072.2 636.7L1069.8 633.2L1067.7 629.6L1066.6 625.5L1064.6 621.8L1063 617.9M1074.4 640.6L1071.3 637.8L1068.9 634.4L1066.8 630.7L1065.7 626.6L1063.7 622.9L1062.5 618.5M1062.5 618.5L1060.7 614.3L1058.7 610.2L1055.5 606.9M1140.2 632.4L1143.8 628.7L1146.7 624.5L1148.3 619.6M1141.6 619.8L1145.1 617.5L1147.6 614.3L1150.7 611.5M1137.6 644.6L1139.5 640.8L1140.2 636.6L1140.2 632.4L1140.4 628.1L1140.5 623.9L1141.6 619.8L1143.4 615.9M1143.4 615.9L1143.4 610.7L1142.6 605.5L1142.8 600.2M1143.4 615.9L1144.1 611.7L1146.1 608L1147.3 603.9L1149.5 600.3M1146 608.7L1147.5 603.4L1148.3 597.9M1152.8 624.9L1151.1 620.8L1149 616.9L1147.8 612.7L1146 608.7L1145.1 604.4L1145.8 600M1145.8 600L1145.2 595.4L1144.2 590.8L1144.3 586.1M1125 661.1L1127.1 657.5L1128.9 653.7L1131.7 650.5L1134.7 647.6L1138.5 645.7L1141.6 642.8L1145.1 640.3L1147.5 636.9L1149.2 633L1152 629.9L1153.7 626L1154.9 621.9L1156 617.9M1123.2 659.1L1125.4 655.4L1127.1 651.6L1129.9 648.4L1133 645.5L1136.8 643.6L1139.9 640.7L1143.3 638.3L1145.8 634.9L1147.5 631L1150.3 627.8L1152 623.9L1153.1 619.9L1155 616.7M1165.8 611.2L1169.5 607.9L1173.8 605.6L1178.1 603.1M1155.6 617.3L1158.8 614.8L1162.3 612.7L1166.3 611.9L1169.9 609.8L1173.5 607.9L1176.6 605.2L1179.7 602.5M1154.6 616.2L1157.8 613.6L1161.4 611.6L1165.4 610.7L1168.9 608.7L1172.5 606.7L1175.7 604.1L1179.2 601.9M1179.2 601.9L1180.8 597.6L1181.5 593L1181.4 588.3M1155.7 596.5L1154 591.9L1152.1 587.3L1149.4 583.3M1156.3 588.6L1158.9 584.9L1161.1 581.1L1162.6 576.9M1156.2 584.5L1153.2 581L1149.9 577.9L1147.1 574.4M1155.8 616.5L1155.8 612.4L1155.7 608.4L1156.5 604.4L1155.9 600.4L1156.5 596.3L1157.5 592.4L1157.1 588.3L1157 584.3M1154.4 616.9L1154.4 612.8L1154.3 608.8L1155.1 604.8L1154.5 600.8L1155 596.7L1156 592.8L1155.7 588.7L1156.2 584.5M1156.2 584.5L1155 580L1153.7 575.6L1152.8 571L1151.4 566.6M1156.2 584.5L1158 580.6L1160.9 577.3L1164.7 575.2L1167.6 572.1M1177.7 679.6L1180.7 676.3L1183.9 673.2L1186.5 669.6M1181.5 677.3L1186.9 676L1192.4 675.1M1184.5 674.1L1188.6 674.6L1192.7 673.9L1196.9 674M1188.1 671.5L1193.7 670.2L1199.5 669.3M1167.6 687.8L1170.3 684.3L1174 681.9L1177.7 679.6L1181.5 677.3L1184.5 674.1L1188.1 671.5M1188.1 671.5L1190.9 667.7L1194.8 665L1199 662.7M1188.1 671.5L1193.1 670.8L1198 671.7L1203 672.7M1126.5 701.4L1130.4 700.5L1134.4 700.6L1138.4 700.2L1142.2 698.8L1146 697.8L1149.7 696.2L1153.6 695.6L1157.6 694.9L1161.3 693.3L1164.8 691.5L1168.1 689.2L1171.8 687.8L1175.1 685.6L1178.9 684.3L1182.9 683.5M1125.6 698.9L1129.5 698L1133.5 698L1137.5 697.6L1141.2 696.3L1145.1 695.2L1148.8 693.6L1152.7 693.1L1156.7 692.3L1160.3 690.8L1163.9 688.9L1167.2 686.6L1170.9 685.3L1174.2 683L1178 681.8L1182.4 682.1M1182.8 682.8L1185.5 679.3L1188.8 676.3L1192.4 673.7L1195.7 670.8L1199.8 669.1L1204.2 668.4L1208.6 668.5L1213 668.6M1182 681.6L1184.7 678L1188 675.1L1191.5 672.4L1194.9 669.5L1199 667.8L1203.4 667.1L1207.8 667.2L1212.6 667.9M1212.6 667.9L1217.4 666.7L1221.8 664.4L1226.3 662.3L1231.1 661.1M1194.2 679.1L1196.3 675.5L1199 672.2L1201.6 669L1204.9 666.4M1201.9 676.2L1206.3 676.9L1210.4 678.6L1214.8 679.7L1218.9 681.5M1209.9 674.6L1212.4 670.3L1215.2 666.2L1218.8 662.8M1182.9 682.8L1186.6 681L1190.6 680.5L1194.7 679.7L1198.7 678.7L1202.4 676.9L1206.3 675.7L1210.4 675.2L1214.1 673.5M1181.9 681.6L1185.7 679.8L1189.7 679.3L1193.8 678.6L1197.8 677.5L1201.4 675.7L1205.4 674.5L1209.5 674.1L1213.6 672.9M1213.6 672.9L1218.3 674.4L1222.2 677.3L1226.2 679.9M1096.5 696.5L1096.5 692.2L1096.6 687.9M1102.5 701.9L1099.2 699.5L1096.5 696.5L1094.1 693.2L1091.2 690.3M1091.2 690.3L1088.7 687.4L1085.6 685.2M1095.2 705.1L1090.9 704.8L1086.7 705.6L1082.4 706.4L1078.1 706.3L1074 705.2M1074 705.2L1068.3 706.7L1063 709.2M1074 705.2L1070.5 703.1L1066.8 701.4L1063.9 698.5M1118.3 698.5L1114.3 697.9L1110.3 697.8L1106.4 698.7L1102.8 700.4L1099.1 702L1095.5 703.6L1091.5 704.1L1087.6 705L1083.6 705.6L1079.7 706.4M1117.8 701.2L1113.8 700.5L1109.8 700.4L1106 701.4L1102.3 703L1098.6 704.6L1095 706.3L1091 706.8L1087.1 707.6L1083.2 708.3L1079.5 707.9M1066.4 698.4L1064.8 693.4L1062.5 688.6M1079.6 707.1L1075.8 705.5L1072.6 703L1069.6 700.3L1066.5 697.6L1063.4 694.9M1079.4 708.6L1075.6 707L1072.5 704.4L1069.4 701.7L1066.3 699.1L1063.3 695.7M1063.3 695.7L1061.3 691.4L1058.2 687.8M1063.3 695.7L1058.6 695.2L1053.9 695.5M1117.2 584.8L1115.2 580.8L1112.2 577.5M1121.1 592.1L1118.8 588.7L1117.2 584.8L1115.3 581.1L1114.1 577.1M1114.1 577.1L1111.4 573.8L1109.7 569.9M1114.1 577.1L1111.7 573.2L1108.4 570.2M1112 565.3L1109.4 562L1107.2 558.4M1110.7 561.3L1111.1 556.7L1110.1 552.1M1117.6 576.5L1115.4 572.9L1114.3 568.8L1112 565.3L1110.7 561.3L1110.2 557.1M1110.2 557.1L1110.5 551.2L1111.9 545.5M1110.2 557.1L1108.6 551.4L1108 545.5M1123.4 600.5L1123.5 596.5L1122.5 592.6L1122 588.7L1121 584.8L1120 580.9L1119 577.1L1118.9 573.1L1118.2 569.1L1117.2 565.2L1116.3 561.4M1120.9 599.6L1121 595.6L1120 591.7L1119.4 587.8L1118.5 583.9L1117.5 580L1116.5 576.1L1116.3 572.1L1115.7 568.2L1114.7 564.3L1114.8 560.8M1110.1 549.6L1107.2 545.8L1103.8 542.6M1115.7 560.7L1114.9 556.7L1113.3 552.8L1110.9 549.5L1108.8 545.9L1106.5 542.5M1114.2 560.9L1113.4 556.8L1111.8 553L1109.4 549.6L1107.3 546.1L1105.6 542.6M1105.6 542.6L1102 539.1L1099.2 535M1105.6 542.6L1101.7 538.5L1098 534.2M1083.1 714.5L1083.3 710.8L1082.7 707.2M1091.9 725L1088.2 722.2L1085.4 718.5L1083.1 714.5M1083.1 714.5L1080.3 711.6L1077.3 709.2M1083.1 714.5L1082.8 710.3L1082.8 706.1M1118.8 738.7L1115.6 735.6L1112.1 733L1108.3 730.9L1104.7 728.5L1101 726.1L1097 724.3L1092.7 723.7L1088.3 724M1117.4 741L1114.3 738L1110.8 735.4L1106.9 733.2L1103.3 730.8L1099.6 728.4L1095.6 726.6L1091.3 726.1L1087.5 725.3M1072.2 727.7L1069.7 724.6L1067.1 721.7M1087.4 724.5L1082.4 726L1077.2 726.1L1072.1 726.9M1087.6 726L1082.6 727.5L1077.4 727.6L1072.2 727.7M1072.2 727.7L1068.5 729.6L1065.4 732.3M1079.3 724.3L1076.3 726.7L1073.4 729.1M1087.8 724.6L1083.8 723.6L1079.6 723.6L1075.6 722.6L1071.5 721.6M1087.3 726L1083.3 725L1079.1 725L1075 724L1071.2 722.4M1071.2 722.4L1066.9 723.4L1062.5 723.2M1071.2 722.4L1066.4 722.5L1061.6 723.2M1154.9 746.4L1159.5 749.5L1163.7 753.1M1157.3 750.5L1161.5 752.5L1166 753.7M1146.2 735.2L1149.5 738.6L1152.8 742.1L1154.9 746.4L1157.3 750.5L1159.4 754.8M1159.4 754.8L1158.5 759.5L1156.2 763.7L1153 767.2M1180.3 742.3L1181.8 746.7L1182.4 751.3L1183.2 755.9M1184.3 749.3L1181.1 753.9L1178.2 758.8M1185.7 753.1L1184.9 758L1185.4 763L1184.6 768M1175.7 735.7L1177.7 739.2L1180.3 742.3L1182.4 745.7L1184.3 749.3L1185.7 753.1L1186.9 756.9L1188.8 760.5M1188.8 760.5L1192.6 762.9L1196.9 764.5L1201 766.4M1188.1 725.7L1187.5 720.9L1185.7 716.3L1184 711.8M1202.4 718.4L1202.7 713.5L1203.5 708.6L1203.9 703.6M1179.6 734.2L1182 731L1184.8 728.1L1188.1 725.7L1191.7 724L1195.1 722L1198.7 720.2L1202.4 718.4M1202.4 718.4L1207.3 716.7L1212.5 715.5L1217.8 715M1202.4 718.4L1206.5 717.8L1210.7 718.2L1214.8 719.3L1218.9 720M1126.3 741.5L1130.1 739.8L1134.2 738.6L1138.1 736.9L1142.3 736.4L1146.5 736.7L1150.7 737L1155 737.1L1159.2 736.5L1163.3 737.5L1167.5 737.3L1171.7 737.6L1175.9 737.2L1179.9 735.7M1125.8 738.8L1129.7 737.2L1133.7 735.9L1137.6 734.3L1141.8 733.7L1146 734L1150.3 734.3L1154.5 734.4L1158.7 733.9L1162.8 734.8L1167 734.6L1171.3 734.9L1175.5 734.5L1179.6 734.2M1198.3 717.2L1198.8 711.9L1197.5 706.8M1180.1 734.8L1183.5 732.2L1186.9 729.7L1190.7 727.7L1193.7 724.6L1196.5 721.4L1198.8 717.8M1179.3 733.6L1182.6 731L1186 728.5L1189.8 726.5L1192.8 723.4L1195.6 720.2L1198.3 717.2M1198.3 717.2L1198.2 712.7L1198.5 708.2L1198 703.8M1198.3 717.2L1199.1 713L1199.8 708.8L1201.9 705M1111 810Q1108 720 1113 620M1131 810Q1134 730 1127 640M1136 810Q1134 700 1140 545M1142 810Q1146 700 1143 550"/><path d=""/></g>
<path d="M1201.8 608L1204.2 610.6L1202.6 611.9M1155.6 698.5L1155.9 695L1153.2 693.2L1150.6 691.3L1148.6 692.1M1066.6 730.3L1065.3 731.3L1062.6 730L1063 727.3M1202.3 711L1201 712.1L1199.8 713.3L1197.2 713.1L1196.3 715.3M1197.6 669.1L1196.9 672.1L1197 674.8M1165.1 586.9L1164 584L1161.7 581.4L1159.6 582.9L1160.8 584.8L1159.3 585.7M1139.6 706.8L1140.8 707.8L1142.5 709.2L1142.3 711.5L1145.5 711.7M1077.8 743.7L1078.2 740.9L1078.3 737.6M1089.9 746.2L1093 744.5L1093.5 742L1092.9 738.5M1185.3 682.3L1182 681.5L1179.7 681.1L1177.7 680.5L1177.5 679M1088.8 542.4L1087.5 540.5L1085.8 538.6M1182.1 727.5L1180.7 729L1179.2 728.2L1177.3 727.1L1175.4 728L1173.5 730.3M1195.9 697L1194.5 695.5L1196.8 693.1L1199.6 693.9L1199.4 696L1201.1 696.7M1226.6 707.9L1227.1 711.2L1225.4 711.6M1200.9 696.2L1202.9 698.4L1205.1 697.2L1208.3 696.8L1208.3 693.7L1206.2 692.7M1056 730.8L1057 734.1L1056.7 737.3L1056 740.2L1058.4 741.3M1141.5 666.2L1140.7 664.4L1139.5 662.3L1138.7 659.3L1141.2 657.4M1126.4 546L1127.7 544.3L1129.7 545.7L1131.6 547L1132.6 548.8M1115.5 559.3L1116.9 561.4L1116.8 563.1L1116.2 564.7L1117.4 568L1115.2 569.5M1132.1 661.7L1129.7 659.6L1128.9 656.6L1128.6 654.1L1131.7 652.9L1134.2 650.7M1131.6 723L1131.6 725.4L1128.9 726.5L1129.4 728L1132.1 730.3M1174.8 681.4L1175.2 679.7L1176.6 678.5L1175.1 676.2L1172 674.6M1217.7 699.1L1215.8 697.6L1214.1 699.6L1212.4 701.4M1088.1 692.3L1089.9 689.2L1091.5 689.7L1092.5 687.6L1093.2 685.4L1091.6 684.4M1118.9 582.3L1122 581.5L1123 584.4M1084 671.2L1082.5 671.8L1080.9 672.2L1079.9 674.9L1077.8 676.2M1096.6 667.2L1094.1 666.1L1092.9 667.5L1091.1 668.4L1088.9 667.1L1086.8 667.2M1109.8 763.6L1109.5 766.3L1107.2 767.8M1211.3 634.2L1212.1 637.1L1213.4 639.5L1213 641.5M1112.9 769.7L1115.6 769.4L1116.6 767.3L1118.3 767.8L1118.9 766.4M1082.3 782.8L1083.6 780.7L1082.2 779.2L1084.1 776.5L1082 773.7L1080.8 772.4M1119.8 779.7L1117 781.6L1113.6 780.8L1112 783.3M1232.9 660.8L1234.4 659.7L1234.8 657.5L1236.3 655.3L1239.2 656.3M1184.3 733.6L1182.1 732.8L1180.7 734.4L1181.8 736.3L1184.4 737.5L1186.3 738.1M1101.7 626.5L1104.2 625.3L1104.2 623M1135.4 688L1133.1 690.2L1130.3 690.5L1127.2 690.5M1132 622.7L1132.1 624.3L1134.9 626.2M1071 668.4L1068.7 667.2L1065.6 665.4L1063.8 666.4L1060.4 666.1M1129 736.7L1130.4 733.6L1128.9 730.5L1130.3 728.5L1131.3 726.4L1131.4 723.5M1072.8 603.4L1073.4 600.2L1070.6 598.8M1091.4 636.4L1093.5 635.9L1095.5 636.6M1107.9 696.8L1105.4 695.5L1104.1 697.7L1106.2 700.2M1191 725.6L1191.2 728.4L1190.9 730.2L1192.5 731.9L1191.5 733.1M1126.6 688.7L1124.1 687.8L1124.1 685.5M1097.4 619.9L1099.5 618.7L1101.6 620.2L1103.7 617.5L1106.2 616.6M1070.5 729.6L1070.9 731.5L1071 733.3L1067.9 733.8L1065.6 735.2M1075.3 622.7L1072.8 621.8L1072.2 618.7M1145.5 714.7L1146.9 717.7L1150.5 717.6L1151 715.8M1053.2 614L1050.7 612.6L1051.6 609.9L1053.9 608.9M1139.7 766.5L1137.9 766.4L1136.6 767.5M1190.4 742.5L1187.5 744.4L1184 744M1150.7 581.5L1152.5 581.4L1154.8 578.9L1155.3 575.9L1157.1 573.7L1158.3 571.5M1055 645.4L1058.4 644.5L1059.9 642.6L1060.6 641L1063.6 641.6L1064.8 640.1M1075.3 654.8L1078.1 653L1078.2 650.8M1056.9 619.4L1059.9 620.6L1061.5 621.7M1180.9 637.9L1183.1 637.5L1184.6 638.1L1185.1 639.5L1188.4 640M1058.1 754.6L1058.4 758.1L1055.1 758.4L1054.5 761.4L1056.3 762.2L1055.3 764.7M1138.7 658.7L1136.7 656L1134.4 653.5L1136 651.3M1119 680.7L1115.7 680.9L1113 680.8L1111.8 682.7L1111.9 685.7L1114.2 686.5M1093.9 760.9L1091.6 762.9L1092.7 765.5L1093.4 767.3L1095.6 768.3M1170.8 686.9L1169.5 689.9L1172.5 691.2M1113.4 727.7L1111.8 728.7L1110.3 731L1111.8 733.4L1111.1 734.7L1109.1 733.6M1190.3 760.7L1188.4 758.6L1188.9 757.1L1191.2 756.5L1191.9 754.9M1192.8 635.6L1195.1 632.8L1195.9 631.3L1197.4 629.4M1084.8 683.8L1087.8 685.6L1087.7 689.1L1088.5 691.6L1088.5 695.1M1054.4 679.9L1052.8 678.2L1054 675.2M1106.1 656.9L1106.5 654.7L1104.7 653.8M1146.7 576.1L1149.5 576.5L1149.8 578.9L1150.8 580.8L1152.4 583L1154.2 583.1M1092.4 553.1L1094.6 552.4L1095.6 555.8L1097.8 556.7L1099.1 558.9L1097.7 561.3M1066 609.8L1064.8 610.8L1063.1 611.7L1061.4 611.3L1060.3 612.6M1050.1 696.5L1050.2 698.4L1049.7 700.3L1047.5 700.9L1045.8 698.6L1047.2 697.4M1097.4 683.4L1099.5 685.3L1099.2 688.7M1097.8 766.8L1098.5 764.4L1101.2 764.8M1133.7 756.5L1134.8 758.6L1132.8 759.9L1129.4 760.2M1058.2 657.3L1061.2 658.7L1062.6 659.3M1197.4 748.8L1196.9 750.7L1198.4 751.3M1088 781.4L1086.7 780.2L1085 777.7M1114.1 611.2L1116.2 613.3L1117.9 612.4L1116.8 610.2M1120.6 533.7L1118.1 531.3L1115.3 532.6M1145.6 752.5L1143.6 753.3L1141.3 753.7L1140 755.7L1137 754.1M1102.7 763.3L1104.9 763.9L1106.4 764.7L1107.7 766.5M1183.9 594.7L1181.2 595L1179.7 596L1177.3 596.7M1146.4 628.2L1148.4 630.3L1150.7 630.6M1103.6 567L1104.7 564.2L1103.2 562.4M1126.4 552.5L1124.6 550.3L1123.6 547.1L1126.1 545.7L1127.8 545.6M1156 743.5L1158.2 741.4L1158.5 739L1159.7 737.5L1161.3 738.2M1162.8 708.1L1165.2 708.4L1167.4 708.8L1169.8 707.2L1173.1 708.6L1173.1 711.3M1189.8 721L1188.5 720.1L1187.8 718.1L1185.9 718L1184.2 720.5M1085.6 630.9L1087.9 631.2L1089.4 633.8L1089 636.3M1144.9 600.1L1143.4 602L1144.3 605.4L1143.5 607.9L1145.5 608.8M1074.9 558.8L1074.3 557.2L1072.7 556.9L1070.9 555.9M1087.1 789.8L1086 787.2L1084 787.5L1082.2 785.2L1084 782.3L1085.6 780.1M1146.3 744.4L1143.7 745.2L1143.4 747.9L1144 750.6L1141.1 751.4L1139 749.5M1102.7 540.2L1099.9 540.4L1099.4 542.2M1092.6 755.3L1093.9 756.3L1096 756.7M1225.6 644.9L1227.7 645L1228.7 643.4L1230.9 643.5M1097.9 564.3L1098.7 562.9L1099.8 560.3L1101.5 560L1102.5 561.7L1103.8 565M1138.1 614.5L1138.9 611L1141.4 609.9M1091 630.1L1090.9 627.2L1091.8 625.6M1106 745.9L1108.8 746.5L1111.1 744L1110.2 742.4L1111.4 739.3L1114.1 737.8M1106.3 626.6L1108.4 627.4L1110.1 625.9L1111.6 626.4L1110.9 629.2L1111.7 630.5M1147.7 625L1146.1 624.4L1146 621.9L1146.9 618.7L1150 619M1070.2 547.5L1072 550.5L1072.7 552.8M1088.4 632L1090.2 630.8L1089.4 629.3L1086.4 630.7M1201.7 758.7L1203.5 757.1L1205.1 754.8L1206.6 754.2L1209 755.9M1154 772.6L1153.2 771L1151.8 770.2L1150.1 772.5L1148.2 774.9M1139.9 635.3L1137 635.5L1134.2 634.4L1134.2 632.6L1131.5 631.9L1129.6 631.2M1116.6 625.8L1114.5 626L1112.6 625.3L1112.9 621.8L1110.2 620.9L1107.8 620.2M1056.3 579.1L1059.2 577.9L1061.9 576.1M1188.3 634.5L1188.9 632.6L1191.5 630.2M1099 573.8L1097 572.3L1096.2 569.4L1097.4 566.2M1177.1 709.7L1177.8 708.3L1180.1 707.1L1182.9 705.5L1182.8 703.1M1077.8 681.3L1076.6 678.2L1078.6 677.1L1080.2 678.5M1227.5 689.5L1228.3 687.8L1230.8 686.7L1233.4 687.7L1236.2 686.8M1133.9 658.4L1132.8 657.3L1131.3 658.3L1129.9 657L1127.5 656.9M1146.4 723.1L1143.7 721.1L1141.3 720L1138.3 719.1M1076.7 574.5L1078.9 573L1081.8 571L1083.2 568.8L1085.7 568.6L1086.2 570.7M1138.9 672.8L1137 673.3L1134.9 675L1133.5 677.9L1130.5 676.9L1130.6 674.1M1093.6 662.9L1095.7 664.6L1094.8 665.9L1095.7 668.8L1098.6 670.8M1067.5 617.8L1068.8 616.6L1071.2 614.1L1072.4 610.8L1074 607.8L1072.2 606M1200.3 690.7L1201.9 689.3L1200.5 687.8L1198.3 685.9L1200.2 683.5M1088.7 782.8L1086.8 783.8L1085.8 786.3L1084 789.3L1082.6 790.3L1080.6 789.4M1191 656.9L1188.9 654.6L1190.2 653.2L1192.5 651.6L1194.4 651.7L1196.3 652.6M1201.6 710.1L1204.2 710.9L1205.8 709L1206.4 707.3M1050.6 630.3L1053.5 631.8L1055.3 633.4M1126.1 750L1122.9 749.5L1121.7 751.3L1122 753.6L1123.5 754.9L1124.1 757.3M1232.3 703.7L1234 701.5L1236.7 701.8L1238 700.3L1239.2 698.9M1156.7 647.2L1158.5 645.8L1161 648.1M1111.8 780.4L1109.2 781.2L1107.7 782.7L1106.6 784.8M1127.4 596.2L1125.9 594.7L1123.5 594.7L1121.9 595M1203.1 637.1L1202.4 638.5L1200.7 639.8M1114.9 554.4L1118.1 554L1119.6 553.5L1118.8 551.2M1126.5 549.5L1128.8 551.8L1130.6 551L1131.2 549.4L1131.7 547.9M1228.1 683.7L1229.3 685.1L1232 684.5M1141.2 755.4L1139.4 753.2L1137 752.3L1134.5 751.7L1134.6 749.3M1143.9 714.8L1145 716.8L1144.3 719L1147 720.2L1150 719.8M1204.8 721.2L1203.9 722.4L1202.2 721.8L1199.8 720M1121.7 703.9L1119 702.8L1117.5 705.6L1114.5 707.2M1119.7 597.6L1118 599.8L1119.5 601.1M1167 657.1L1170.1 656.4L1171.7 655.1L1170.3 652.3L1170.3 650.3L1168.8 648.2M1202 703.7L1203.4 701.5L1202.6 699.6L1200.4 697.6L1200.4 694.4M1126.9 748.2L1125.1 748.3L1124.2 749.8L1121.4 749.7L1119.9 748.5M1092.4 652.1L1092.6 649.7L1091.2 646.5L1092.1 643.9M1107.4 755.8L1105.9 756.3L1106.7 759.2M1207.6 607.7L1207.4 610.7L1204.4 612.4L1202.5 611.2L1200.4 613.1L1200.9 614.6M1151.9 751.3L1154.4 750L1156.5 749.7L1157.7 748.6L1160.7 748.4M1105.5 674.5L1103.2 672.7L1102.1 671.3M1111.5 550L1113.9 550.7L1115.3 547.7L1117.9 545.3M1156.3 746.5L1158.5 745.6L1161.8 745.5M1101 669.4L1101.8 670.9L1100.3 673.6L1097.5 675.6L1095.6 675.9L1092.5 675.4M1051.5 612.8L1049.8 610.2L1047.9 609.9M1234.7 674.7L1236.4 673.9L1238.6 674.8L1240.2 677.5L1239.3 680.2M1204.5 646.1L1203.1 648.2L1201.5 647.6M1067.7 663.9L1065.7 664.8L1063.6 665.7L1062.4 666.7L1059.7 666.8L1058.2 665.9M1086.4 771.7L1085.2 774.4L1083.9 776.1M1100.9 615.6L1102.6 615.1L1104 612.9M1075.7 624L1075.7 622.5L1077.4 622.3L1080.1 624.4L1080 625.9M1056.5 706.2L1059 706.1L1061.8 707.5L1060.5 710M1185.2 728.1L1183.9 726L1181.3 725.6L1178.2 724.7L1178 722.8L1174.7 722.9M1156.8 752.9L1158.2 753.7L1159.6 751.8L1159.6 749.4M1213.7 728L1210.4 728.9L1209.7 727.3L1207.7 725.9M1066.7 602.3L1069.2 601.2L1070.9 599.6L1072.6 596.8L1074.1 595.1L1074.5 591.6M1183.6 688L1185.4 688.3L1187.4 690.1L1189 689.5L1191.3 691.8M1180.8 679.7L1179.3 680.9L1177.6 681.3L1175 681.2M1187.5 669.1L1185.4 670L1183.4 671.7L1181.1 670.9L1180.3 668.1L1179.4 666M1085.3 691.4L1084.3 693.1L1082.7 693.7L1081.2 692.5L1078.1 693.8M1194.2 723.9L1193.3 725.8L1192.4 728.3L1193.9 730.5L1191.5 733.1L1189.7 731.8M1187.9 690.9L1185.3 691.2L1183.9 693.2L1183.8 695.1M1142.1 641L1144.5 639.4L1144.2 637.7L1145.1 634.4M1168.4 592.8L1168.5 595.4L1169.7 597.9L1169.3 599.6L1168.7 601.8L1167.2 603M1206.2 672.8L1207.9 673.6L1206.8 675.9M1145.5 700.6L1146.5 698.9L1146 696.9L1149 695.8M1195.4 637.8L1193.1 638.3L1192 636.8L1191.3 633.6L1192.2 631.3L1191.2 629M1079.7 677.2L1078.1 675.7L1076.3 674.6L1074.4 677L1071.8 679.4M1213.8 720.7L1216.2 719.8L1217.7 719L1219.6 718.7L1219.2 715.8L1220.8 713.5M1064.2 751.6L1062.9 753L1060 751.1L1056.6 752L1053.6 752.3M1140.1 727L1141.2 728.8L1140.4 730.2L1139.5 731.9L1137.5 733.2M1189.7 621.8L1192.1 621.1L1195.4 621.4L1197.4 624L1198.8 624.9L1201.4 626.3M1115.1 556.7L1116.7 557.3L1118.5 558L1121.6 556.5M1063.8 602L1064.1 604.3L1062 605.5L1060.8 604.4L1057.5 603.8M1126.7 643.5L1128.4 643.9L1129.7 641.9L1132.1 641.6L1133.5 643.7L1133.4 645.9M1131.5 788.2L1129.7 789L1128.1 787.1L1125.7 788.9L1127 792.1M1059.9 628L1056.8 627.5L1054.9 626.5L1052.8 626.4L1051.2 623.8M1181.1 728.9L1182 727.5L1184.2 728.5L1185.9 729.8M1083.7 624.3L1086.8 623.8L1089.9 624.4L1090 627.7L1088.9 629M1054.8 775.4L1053.2 776L1054.4 779.1L1057.2 779.4L1059.9 778.1L1058.6 775.2M1120.7 740.5L1119.2 741.7L1115.9 740.9M1104.1 788L1106.2 789.4L1108.1 790.6L1110 791.6M1098.7 676.5L1099.5 679.1L1101.1 680.4L1102.2 681.8L1105.1 681L1106.7 681.9M1158.9 565.7L1160.8 564.3L1162.2 561.8M1095 734.2L1094.3 732.3L1094 730.7L1096.8 728.4L1098.6 729.1M1120.7 789.9L1122.1 792.1L1121.9 795.4M1098.1 563.3L1096.8 561.1L1094.1 561.2L1092.3 564M1131.4 679L1132.9 676.5L1134.9 676M1066.3 749.4L1064.5 752.3L1062.4 755.2L1060.6 754.3M1143.9 608.1L1140.7 606.6L1138.8 607.9L1136.5 607.4L1134.2 608.2L1134.3 610.4M1079.9 563.3L1077.2 561.8L1075.5 562.5M1082.9 658.8L1080.9 658L1080.1 659.3L1077.9 658.5M1110.6 632.9L1111.4 636L1109.8 637.5L1110.5 639.9L1112.6 639.8L1113.3 641.9M1119.6 541.9L1120.6 540.2L1119.8 537.6L1117.2 537.2M1129.3 778.8L1126.9 778.7L1124.3 779.6L1123.6 782.2M1174.2 680L1172.4 678.7L1172.9 676.1M1193.3 666.9L1191.9 668.8L1190.7 669.8M1118.1 731.7L1116.5 728.8L1115.6 726.5L1113.8 726.7L1111.3 727.5M1187.1 627.6L1190.3 627.1L1191.7 629.6L1192.8 632.3M1169.4 601.8L1167.1 604.2L1166.1 605.6L1165.3 607.8L1166.8 608.3L1170.1 608.5M1127.9 722.5L1129.3 723.2L1128 726.4L1126.2 725.9M1051.3 747.6L1053.3 744.7L1055.5 743M1198.3 715L1197.4 712.6L1194.4 712.9M1101.2 587.4L1099.6 585.3L1097 583.4M1056.1 675.1L1055.5 676.9L1058 678.9L1060.4 680.4M1121.7 733.8L1120 733.5L1117.6 734.5M1132.1 778.1L1134.8 779.6L1135.7 780.8L1136.5 784.2M1143.6 709.2L1141.9 712.2L1143.6 714.5L1141.6 716.8L1140.4 720.2M1190.8 592.6L1187.7 592.9L1184.2 593L1183 596.2L1181.4 599.4L1177.9 599.9M1110.4 790L1107.3 791.6L1105.1 793.7L1104.9 796.3L1104 799.2L1104.6 800.9M1119.3 546.3L1118 548.1L1115.8 550.6M1181.7 696.1L1184.5 697.5L1186.6 694.9M1085.3 690.9L1085.6 688.7L1082.7 687.2L1081.1 688.2M1204.8 629.2L1205 626.5L1206.6 624.7L1208.2 624.6M1083.6 621.9L1085.3 625L1085.3 628.3L1083.3 630.6L1080.9 629M1088 591.8L1089.9 593.3L1091.9 591.6L1093.5 590.2L1094.5 588M1162.1 712.1L1162.5 714.1L1164 716.5L1165.9 716.6L1168.8 718.1M1123.7 746.6L1122.2 745.1L1120.6 743.6L1120 742.1L1118.8 740.8L1117.6 737.6M1222.8 705.4L1220.7 706.7L1219.4 708.7L1218.9 711.7L1217.6 715L1214.7 714.1M1147.8 665.6L1146 662.5L1142.7 661.8L1140 663.4M1088 705.7L1090.9 705.6L1092.6 703.9L1094.6 705.9L1095.1 708.3L1097.8 710.4M1142.7 576.7L1140.5 574.7L1138.5 572.1L1136.4 571.4M1122 691.4L1120.9 693.7L1118.3 693L1116.4 692.5L1114.6 691.7M1089.5 563L1091.8 565.4L1092.5 568.1L1096.1 567.5M1149.7 674L1148.3 673.1L1147.4 671.5L1146.4 670.2L1142.9 670.1L1142.1 672.5M1166.3 726.3L1167.8 725L1167 723.5L1168.4 721L1170.3 720.1L1169.9 716.6M1050.6 607.9L1052.6 610.5L1054.7 611.5L1057 609.5M1155.6 618.1L1154.9 621.1L1152 620.6L1149.2 622.9L1150.9 624.9M1204.6 750.9L1206.4 749.4L1209.6 750.8L1209.9 752.7L1208.4 754.1L1209.1 755.5M1181.3 631.3L1182.9 631L1184.8 633.9L1185.8 635.9L1186.7 638.4L1186.6 640.7M1128.1 598.2L1126.5 597.3L1125.4 599M1077 771.1L1076.3 769.6L1076.8 766.2L1077.8 764M1212.2 646.8L1213.8 647.1L1215.1 644.9L1216.8 643L1219.7 641.5L1220.9 639M1187 688.2L1184.1 687.3L1181.8 687.6L1179.7 688.5M1099.1 667.6L1097.7 668.3L1095.2 670.2L1092.3 670.2M1230.3 690.5L1228.2 690.6L1228.3 692.9L1230.8 693.4L1230.7 696.1M1138.4 740.1L1140.5 738.1L1142.5 739.4L1144.4 737.7M1159.1 620.1L1162.5 620L1165.5 618.2L1166.7 615.4L1168.6 615.5M1074.3 771.1L1075.7 772.4L1073.7 774.9L1072.2 776.5M1121 785.1L1121.7 788.4L1120.1 790.4L1121.9 793M1085.2 685.7L1082.8 687.5L1081.9 690.8L1082.6 693L1084.9 693.4L1086.3 694.1M1109.9 632.2L1109.9 629.4L1111.6 627.2M1117.4 564.3L1119.1 561.8L1120.6 561.2L1122.6 560.9L1124.7 558.8M1145.5 605.6L1147.5 605.4L1150 605.4L1153.5 605.6L1154.7 602.5M1211.2 622.2L1214.4 622L1216.4 619.2L1214.2 617L1212.4 616.9L1210.9 614.4M1114.8 702.3L1113.8 700.3L1110.9 698.5M1075.5 688.4L1073.9 685.6L1071.4 685.2L1069.7 684.6L1067.6 687.3L1065.4 686.9M1163.3 578.4L1164.3 579.9L1164.7 583.3M1076 766.5L1076 764L1074.4 762.1M1181.4 632.8L1183.5 635.5L1185.8 636.2M1075.2 638.3L1074.9 636.3L1076.5 635.9L1078.6 638.7M1102.5 765.5L1101 763.1L1099.5 762.2L1100.6 759.6L1100.8 757.8M1168.4 643.4L1166.9 646.5L1168.9 647.7L1170.6 648.4L1171.1 650.8L1170.5 653.1M1226.3 718.5L1227.2 721.9L1227 723.6M1053.9 730.9L1052 730.1L1051.8 727.7L1049.4 727.6M1111.2 574.9L1109.9 576.7L1109.2 578.9L1109.1 581.5L1108.5 583.7M1162.3 640.9L1163 637.8L1164.7 636.9L1167.9 638.3M1215.6 744.7L1213.3 743.5L1210.7 745.1L1208.9 742.3L1209.9 741.3M1093 558.7L1091.6 561.5L1090 564.1M1090 750.5L1089.8 752.5L1088 753.3L1087.3 754.9L1087.2 757L1086 760M1070.6 704.8L1070.4 706.4L1068.1 708.8M1216.4 741.3L1218.2 739.2L1221 740.9L1222 743.6M1052.6 724L1054 722.9L1055 719.9L1053.8 718.2L1054.2 716.3M1231.6 642.3L1230.1 645.4L1231.8 646.7L1234.4 649.1M1213 667.7L1210.5 665.4L1209.2 664.7L1208.9 661.9L1207.4 660.7M1114.1 538.9L1111.9 536.5L1109.2 536.3M1082.7 629.2L1080.8 627.2L1079.1 624.2L1079.2 622.3M1051.8 771.6L1055.1 771L1056 769.4L1057.4 768.2L1060.3 769.2L1063.5 768.1M1176.6 642.5L1174.5 645.2L1173.5 646.9L1172.8 650M1079.4 721.4L1080.9 720.2L1084.1 719.5L1085.5 717.4L1083.1 714.7M1084.7 789L1086.1 787.4L1088 787L1089.2 785.9L1089 783.7L1085.9 782.6M1136.2 606.4L1134.1 607.5L1132.6 608.4L1131.7 609.9M1078.1 760L1080.7 759.4L1083.5 757.2L1085.8 755.7L1088.8 754.7L1090.1 757.2M1079.6 724.7L1077.9 725.1L1077.6 726.9L1075.6 729.6L1073.9 728.3M1157.1 632.9L1155 633.7L1153 633.8L1153.2 635.7L1150.6 638.1M1121.2 614L1118.8 614.5L1116.5 616.7L1114.3 615.3L1113.2 614.2M1146.6 727.7L1146.4 729.3L1145.5 731.9M1138.3 783.1L1141 781L1140.5 779.5L1140.4 777.5M1112.8 734.5L1111.1 733.6L1107.5 733.3L1104.8 735.1L1103.3 737.9M1152.7 756.2L1151.4 753.9L1150.7 751.9L1149.1 751.7L1147.6 751M1089.9 554.7L1089.8 552.6L1089.6 551.2L1087.6 551.4M1164.8 645L1167.9 645.8L1170.7 645.5L1173.1 643.3L1174.1 641.3M1121.6 568.8L1124.1 570L1125.8 567.5L1128.3 568.1L1128.2 570.5M1075.6 598.7L1076.9 596L1078.4 595.2L1080.3 593.9L1082 593.5M1134.5 766.3L1134.8 768.8L1136.9 768.6L1139.7 768.5L1141.4 768.5L1143.7 770.8M1103.2 762.6L1103.4 760.8L1101.9 760.5L1101.4 757.5M1133.2 771.8L1133 769.7L1131.7 766.4L1133.2 764.8L1135.5 763.7L1139.1 763.9M1139.5 729.6L1141.7 732L1142.6 733.8L1144.5 734.4L1145.8 735.6M1104.1 741.7L1103.6 740.2L1104.8 739.1M1123.4 753L1122.9 756.3L1123.4 758.7L1121 760M1116.6 564.8L1118.5 563.6L1120.6 561.6L1122.7 562.1M1095.8 587.6L1095.9 590.3L1096.8 593.6L1095.8 595.4M1081.1 786.9L1082.3 789.1L1084.8 789.7M1058.5 578.9L1056.8 576.4L1055.5 575.2M1117 687.8L1116.9 684.9L1118.1 681.8L1116.3 680.9L1113.4 679M1079.8 578.7L1082.3 579.7L1084.3 581.8L1086.4 583.9M1136.1 653.3L1136 655.5L1137.8 657.5L1137.3 659.8L1136 661.6L1135.9 665.2M1172.1 735.8L1175.4 736.9L1177.1 737.8L1179.1 736.2L1180.8 737.9L1184.2 738M1153.2 679.5L1152.3 681.7L1151.2 683.1M1076 709L1078.4 708.8L1079.6 711.1M1057.7 684.9L1057.7 683.2L1057.6 681.6M1071.9 559L1069.4 557.6L1067.7 558.3L1065.6 558.4L1063.6 558.7L1060.4 558.4M1141 604.3L1138.4 604.4L1136.6 606.4L1138 608.2L1138.1 610.6M1136.5 613.7L1139.1 613.5L1142.4 612.1M1124.5 625.9L1127.9 626.8L1129.3 625L1132.4 625L1134 625.7M1190.7 641.1L1192.5 641.4L1194.2 638.6L1196.2 638.8L1196.6 637.1M1193.1 752.3L1191.1 753.5L1190.1 756.6M1154.7 567.2L1155.7 565.7L1158 564.5L1159.5 563.8L1163 563.8L1164.6 562.1M1171.4 667L1173.1 669.8L1172.3 672.8L1169.8 672.7L1167.9 672.9M1207.5 699.8L1208.3 701.6L1211.2 701.3L1213.2 699.9L1214.9 699.8L1215.8 698.5M1168.3 765L1166.6 763.5L1165.3 762M1083.4 723.2L1080.6 722.4L1081.3 719.4M1217 695.7L1214.1 694.5L1212.7 693L1211.3 693.9M1101 780.5L1101.6 782L1101.1 785.1L1098.6 787.1L1096.9 785.5L1097.4 783M1149.9 613.8L1150.8 615.9L1148.8 617.5L1150.3 619.3L1151.9 618.8M1208.7 614.6L1210.8 614.4L1211.4 612.6L1214.5 611.5M1209.1 654.5L1208.2 656.4L1208 659.8L1208.6 661.3M1105.7 558.8L1102.4 558.6L1102.2 555.4M1064.8 682.8L1064.4 685L1062 686.1M1064.3 573.9L1066.4 573.9L1068.5 572.3L1070.8 572.8L1074.2 573.4L1075.4 572.2M1138.2 773.3L1138.6 775.7L1137.3 776.8L1138.6 778.5L1141.1 779.2L1142.5 777.1M1205.9 622.9L1206 619.4L1208.2 619L1209 620.9L1212.2 621.3M1057.7 647.1L1054.2 646.7L1051.4 648.1M1083 653.8L1086 654.4L1085.9 656.2M1116.1 712L1113.1 711.5L1111 711.5M1182.1 698.2L1180.4 697.7L1180.9 694.7L1182.3 692.7L1184.6 694.3M1116.5 764.1L1116.7 767.6L1117.5 769M1187.9 694.8L1189.1 697.3L1188.1 699.6L1185.9 702.4L1183.5 703.5L1184.2 706.4M1115 601.1L1112.5 599.7L1109.8 601.8L1107.1 601.7L1107.1 599.4L1109.1 599.3M1211.2 678.6L1210.2 680.4L1207.2 679.9M1089 601.9L1087.5 600.3L1087.7 597.9L1085.2 596.9L1085.5 595.1M1138.8 641L1139.1 639.2L1140.6 635.9L1140 632.9M1168.4 610.6L1169.8 607.7L1167.7 606.1M1170.8 726.1L1170.4 723.9L1168.5 724L1165.7 726.1M1230.9 635.7L1232.5 634.3L1235.4 633.2L1238.8 633.1L1239.5 634.6M1080.3 689.8L1083 689.2L1083.6 690.6M1212 696.1L1214.8 695.3L1214.2 692.4M1128 726.4L1131.5 726.5L1132.8 725.7L1134.2 727.9L1137 729.2L1138.3 731.1M1114.9 558.6L1115.8 560.7L1114.5 562.9L1111.8 563.3L1109.6 562.3M1089.2 668.9L1088.2 666.3L1086.2 665.8L1086.8 663.3M1201.6 753.2L1199.7 752.5L1198.5 750.7L1200.5 748L1200.7 744.9L1199.1 742.9M1216 727.5L1215.6 728.9L1216.5 730.1L1218.5 732.9M1215.4 648.7L1218.2 647.8L1219.6 650.2M1160.9 764.3L1158.9 764L1156.7 764.8L1156.9 767.3L1158.6 769.9L1161 769.9M1067.9 699.8L1066.4 697.3L1067.7 695.8M1113 561.5L1113.1 559L1111.3 557.7L1108.1 558.6L1107.6 560.5L1107.4 563.4M1119.7 760.7L1122.3 758.8L1125.5 760L1128.5 760.2L1129.9 758.6L1132.2 758.1M1152.8 589.4L1151.3 588.5L1152.1 585.4M1090.1 644.3L1089.6 642L1089.1 640.5L1088.7 638.7M1059.6 592.2L1060 594.5L1057.9 595.4L1056 593.2M1070.1 615.5L1073.3 614.5L1072.9 612.1L1072.8 609.3L1076 608L1078.2 608.7M1149.1 740.7L1146.8 743.1L1145.7 744.6M1221.6 738L1218.9 738.7L1217.4 740.4M1087.2 536.7L1088.4 539.8L1090.3 541.7M1206.3 619.1L1206 621.6L1204.5 622.2L1202.8 622.6M1205.7 677.3L1204.2 675.4L1202.5 674.7L1200.2 672.2L1198.8 671.3M1071.2 640.7L1072.6 639.3L1071.2 636.8M1164.1 709L1165.2 706.2L1162.8 705.2L1159.8 704.2M1142.7 682.7L1144.7 685.2L1147.5 683.6L1148.7 680.4L1149.4 678.4L1149.9 676.6M1095 605.5L1093.4 604.8L1094.1 601.7L1092.3 599.8L1089.8 600.8M1081.2 635.5L1081.3 638.3L1082.4 640.6L1082.4 642.3L1081.4 643.8L1082.2 645.9M1201.8 665.4L1203.4 664.9L1202.9 661.7L1206.3 660.8L1206.8 662.6L1208.1 665.4M1093.8 762L1093.6 760.4L1094.1 757.6M1091.6 665.9L1092.8 664.6L1094.4 663M1191.1 663.3L1194 662.9L1194.1 660.2M1223.8 638.3L1223.3 636.8L1221.4 637.5M1084.5 641.3L1082.3 641L1081.6 639.1L1081.7 637.1M1057.4 738.1L1058.2 740.7L1059.9 743.7L1062.7 744.5M1063.2 774.4L1059.9 773.2L1060.3 771.3L1060.7 768.4M1219.9 632.5L1216.4 631.7L1215.8 630.1L1218.1 629.2L1219.1 630.4L1221.2 630.6M1139 668.9L1139.6 666.4L1138.9 663.8M1178.5 614.7L1180.4 611.7L1182.5 610L1184.8 612.5M1071.8 734.1L1072 737L1073.8 738.8L1074.2 740.5M1090.4 593.3L1092.2 590.8L1094 588.3L1092.3 587M1155.7 737.7L1158.8 736L1160.6 734.6L1161.7 733.5M1151.4 633.1L1151.5 634.7L1153.6 637.4L1155.3 640.4L1158.3 641.2L1161.4 641.2M1175.8 680.3L1177.1 678.7L1176.4 677.4L1174.5 678.5L1172.4 681M1172.5 651.1L1170.4 651.1L1167.6 650.6L1167.5 647.8M1060.7 646.9L1063.9 646L1066 647.3L1068.5 647.9M1208.9 650.3L1211.6 650.2L1213.3 650.7L1213.7 652.2L1216.4 652M1059 771.6L1061.4 773L1063.4 771.3L1063.5 769.6L1064.8 768.7L1066.9 766.9M1122.1 764.5L1120.7 767.6L1120.9 770.5L1122.8 770.7L1124.4 771.1L1126.8 769.4M1151.8 744.6L1153.7 746.7L1152.2 749.2L1151.7 752.5L1153.4 752.9M1146.9 672.5L1148.3 671.9L1150.2 672.2L1151.8 672.2M1202.9 666L1201.3 666.3L1200.4 668.9L1197.9 668.2L1197.1 666.8M1053.8 755.1L1053.3 753.5L1055.4 752.9L1055.6 749.5L1057.5 748.3M1089.6 640.1L1091.3 637.4L1093.9 638.8M1091.2 531.1L1092.1 529.3L1093 526.6L1093.3 523.7L1093.7 521.6L1095.8 521.1M1065.5 731.2L1066.4 732.7L1068 734.8L1070.8 734.8M1127.1 614.9L1126.4 616.3L1124.5 616.7M1178.3 732.6L1179.7 734.9L1180.8 736.6L1182.5 737.8L1185.6 736.3M1182.6 629.2L1185.7 628.9L1188.5 630.3L1189.7 632.4M1073.6 670.4L1073.4 668.8L1075.1 666.3M1143.8 645.5L1141.8 644L1139.7 643.7M1180.8 673L1182.8 671.2L1185.9 670.4L1185.9 668.4L1186.7 666.4M1233.2 691.5L1235.3 692.3L1237.8 689.9L1238.3 688.2M1160.5 633.9L1163.7 634.3L1166.8 635.3L1167.6 633.7M1076.2 627.6L1074.7 627.4L1074.7 625.9L1076.7 624.7L1079.6 623.1L1081.8 621.4M1146.4 593.5L1143.8 593.7L1141.5 594.4L1140.3 592.5L1141.1 590.7L1138.8 589.4M1147.2 739.8L1146.2 743.2L1147.5 745.1L1145.4 746.9L1145.4 749.8L1145.9 751.7M1091.5 754.4L1089.5 753.6L1087.2 756.3L1085.2 756.9L1084.6 755.2L1083.2 754.3M1165.4 609.4L1167.4 608.1L1170.3 610.1L1170.5 613.2M1097.5 615.3L1099.7 617.9L1099.6 621.1L1101.8 621.7L1103.8 622.3M1060.1 582.8L1059.7 584.3L1057.7 585.9L1056.9 588.2L1055.2 591.3L1055.6 594.2M1139 772L1141.4 773.9L1143.3 773.3M1119.8 635.6L1121 632.7L1118.8 631.2L1116.3 628.9L1115 630M1136.8 693.3L1135.5 695.7L1133.8 696.7M1196.9 643.1L1197.3 646.5L1198.4 648.3L1201.1 649.2M1170.2 730.1L1170.9 732L1169.3 735.1L1169.5 736.9L1167.7 738.8L1169.5 740.8M1204.2 712.8L1205.1 710.8L1206.8 709.1L1206.6 707.3M1118.2 663.8L1115.8 665L1114.6 667.1M1159.9 745.3L1158 746.2L1154.9 748L1151.3 748L1150.3 749.9M1122.6 559L1123.7 556.3L1121.5 553.8L1119.8 553.8M1052.6 732.7L1051.5 730.1L1051.7 727.7L1051.4 725.7L1050.7 723.2L1047.1 723.3M1109.2 759.9L1110.1 757.4L1108.6 756.3L1107.5 754.9L1105.5 755L1103.7 757.9M1155.6 734.7L1152.6 732.7L1149.8 733.5M1174.1 663.7L1174.8 665L1174.1 667.1L1175.1 669.4M1129.8 728.8L1130.2 726.4L1127 724.8M1174.6 642.5L1172.9 644.3L1171.1 647.1L1169.1 646.8L1167.9 649.8L1165 649.9M1059 681.9L1057.7 680.9L1055.9 678.2L1055.9 675.7L1057.9 674.9L1058.3 672.4M1157.4 570.8L1157.4 567.7L1159.3 566.1L1162.1 565.5L1163.8 564.7L1165.9 563.5M1064.7 766.3L1067.8 764.9L1068 763.1L1066.8 761.1L1065 760.2L1066.1 757.6M1082.9 749.4L1083.2 751L1082.3 752.8M1111.2 689.4L1112.6 692.4L1114.6 693.7L1118.1 694.2L1120.4 693.7M1152.2 718.1L1152.1 715L1149.7 714.4L1148.9 712.4L1148.6 710.3L1148 708M1105.6 724.5L1106.9 723.6L1105.5 721.1M1210.9 734.9L1213.6 733.1L1214.8 734M1060.1 714.9L1062.6 714L1065.3 712.1M1140.8 577.5L1138.8 574.7L1140.9 571.9L1141 569.1M1189.3 713.9L1191.8 715L1191.4 718L1192 720.5L1193.7 721.8L1196 724.3M1231.3 701.6L1233.1 701.6L1234.3 703.7L1236.3 705.3L1235.5 707M1136.2 637.3L1133.1 636L1132 637.7L1131.8 640.3L1132 643L1131.9 646.3M1201 736.8L1202.5 734.5L1203.9 733.4L1205.9 733.5L1207.7 734.4M1104.2 781.7L1105.6 784.3L1106.1 785.9L1107.5 788.3L1106.8 790M1087.7 579.5L1087.1 582.8L1087.1 584.8M1151.2 585.3L1153 585.2L1154.4 583.5M1148.8 718.7L1145.4 717.5L1143.2 715.6L1141 715.3L1140.4 717.5L1138.1 719.7M1084.4 557.8L1085.2 556.2L1088.2 555.7M1204 645.4L1205.3 647.8L1207.2 648.5L1207 650M1120.2 752.2L1120.6 748.7L1123.5 747.7L1125.2 746.1L1128.4 746.8M1130.5 721.8L1129.9 723.7L1132.2 725.8L1132.1 727.6M1189 596.6L1190.7 599.4L1189.7 600.9L1187.4 603.3L1186.3 606.6M1217.9 655.9L1218.8 657.3L1221.7 657.6L1223.7 658.7L1224.9 660.8L1227.1 660.9M1061 742.2L1059.3 741.3L1058.5 739.1L1060.8 738.3M1111 707.2L1109.6 708.4L1108.1 710.8M1055.5 621.6L1054.8 623L1057.1 625.8L1057.9 628.8M1132.2 583.2L1133.5 581.3L1134.6 579.7M1116.4 532.7L1117.3 535.9L1117.5 539.4M1121.3 782.2L1124 781.9L1126.4 781.5L1127.3 779.4L1125.1 777.7L1123.4 777.2M1066.8 668.8L1064.9 666.4L1065.9 665.3L1066.2 663.7L1063.4 662.4L1061.9 665.5M1238.5 662.7L1236.8 660.6L1235.8 659.1L1233.5 660.3L1234.2 662.5L1237.4 662.8M1075.2 691.4L1075.1 689.6L1073.6 688.3L1070.9 687.2M1224.7 639.2L1221.9 640.3L1222.4 642.3L1224.2 643.8M1164.4 749.5L1165.3 751.5L1168.2 750L1167.4 748.2L1169 745.4L1171.3 743.2M1125.2 773.4L1126.2 776.2L1126.3 778.2M1097.3 583.1L1097 581L1099.6 579.6L1100 576.4L1098 575L1096.6 576.3M1094.5 756L1092.3 755.8L1089.4 757.2M1231.1 691.3L1230.4 693.4L1229.7 696.5L1232.7 697.4L1233.2 700.9L1233.6 703.3M1058.8 692.6L1059.8 695.2L1061.2 697.1L1064.4 695.7L1066.6 697.5L1069.8 698M1213.7 681.3L1214.9 684L1218.1 682.9L1220.8 684.4L1222.6 683.7M1131.8 568.9L1134.7 569.2L1136.3 569.1L1138.5 567.7L1139 565.5L1137.5 563.1M1101.4 735.1L1103 732.4L1105.5 731.8L1107.9 730.6L1108.9 731.8M1138.4 609.7L1140.3 609.5L1142.4 610.1L1144.4 612.8M1127.1 736.9L1124 736.2L1120.6 735.3L1119 733.4L1116.8 733.8L1115.8 730.5M1181.7 635.5L1184.5 636.4L1186.7 637.6L1187.9 638.7M1104.5 668.6L1102.9 669.6L1100.5 668.4M1131 546.3L1129.8 548.2L1127.8 548.4M1126.3 733.2L1126.9 734.7L1128.4 736.9L1130.7 737.4L1133.7 737.8M1059.4 763.7L1057.9 765.9L1056 765L1054.4 764L1053.3 765.8L1050.3 766.7M1172.7 679.7L1174.5 681.3L1176.9 681.4L1179.3 682.9L1182 684.8M1161.7 621.7L1161.8 623.7L1163.1 624.6M1097.6 635.4L1098.6 638.1L1100.2 638M1080.9 554.3L1083.3 554.1L1084.3 551.1L1081.5 550.2L1079.5 548.7M1134.5 673.4L1133 675.8L1132.2 679.1L1131.6 680.8L1129.5 682.5M1074 561.8L1073.5 560.1L1071.3 559.1L1069.3 561.4L1067.2 562.8M1203.2 619.9L1203.5 622.5L1203.6 624.1M1136.8 776.4L1135.2 775.2L1133.7 776.5L1134.6 778.8L1132 780.1L1129.9 780.1M1058.4 648L1059.3 650.9L1061.4 652.4M1155.8 747.8L1154.7 750.5L1152 750.1L1151.1 751.6M1148 710.8L1146.8 711.7L1145.8 714.4M1129.5 716.6L1130.2 714.5L1131.8 714.4M1121.8 772L1124 771.4L1125.4 768.7M1148.1 719.3L1148.2 716.3L1146 714.7L1144.5 713.7M1185.6 730.2L1183.6 731.2L1182 730.1L1179.8 732.9M1159.7 744.7L1161.3 747.4L1160.2 748.4L1158.3 748.7L1155 749.2L1155.2 751.3M1050.4 649.4L1048.3 651.2L1045.8 650.8L1043.5 651.4M1055.4 583.4L1057.5 583.8L1058.4 580.5L1057.9 578.4L1054.5 579.1M1103.4 655.2L1101.4 653.6L1102.5 651.2L1100.9 648.4L1098.2 648.4M1086.2 648.8L1087.1 650.2L1088.5 649.5L1091.4 647.9L1093.8 647.7L1095.4 645.5M1110.5 767.5L1113 766.4L1113.7 763.7L1114.6 761L1117.8 760.3M1171.1 679.8L1173.9 680L1175.5 677.1M1168.9 661L1166.3 660L1164.8 660.8M1199.8 664.8L1200.4 662.6L1198.8 659.9L1197.8 657.8L1199.2 655.6M1092.6 610.3L1094.2 612.5L1095.7 614.1L1095.9 616.7L1099.2 617.9L1101.4 619.6M1085.7 644.9L1086.4 646.3L1088.4 646.5L1089.6 644.9L1092.8 645L1093.8 648M1094.8 751.3L1095.9 752.9L1096 754.6L1094.3 754.7L1094.2 757.1L1092.3 757.1M1167.7 746.4L1166.6 749.4L1164.7 750.1M1176.4 735L1173.2 734.6L1171.1 735.1L1169.2 733.1L1166.9 735.5L1168.3 738M1097.5 721.3L1100.6 721.4L1101.8 723.8L1102.5 727.3L1100 728.7L1097.2 730.2M1097 725L1097.9 722.4L1095.3 721.4L1092.8 721.6L1092.6 724.3M1081.2 670.2L1078.6 670.9L1077 672.9M1162.5 717L1163.5 715.7L1162.3 712.9M1155.4 711.3L1157 713.2L1156.3 715.1M1153 617.9L1152 619.2L1150 621.8L1149.1 623.1L1150.8 625.7M1148.7 563L1150.3 565.8L1149.2 566.8M1200.8 641L1198.2 640.3L1196.6 639.2L1195.5 637.3L1196.7 634.3M1076.9 768.8L1073.6 768.1L1070.5 767.9L1069.1 764.6M1073.2 757.6L1074.9 756L1077.6 756.6L1079.5 757.2L1082 758.4M1175.2 764.9L1177.8 766.1L1180.5 765.1M1177 766.1L1179.2 764.3L1180 762.2M1125.5 637.1L1122.7 638.7L1120.5 638.1L1118.9 635.6L1116.9 634.9M1179.7 611.1L1181.1 609.1L1179.9 606.4L1180.9 603.3M1229.7 652.5L1229.1 650L1232.3 649L1234.3 647.8M1119.3 711.1L1116.7 709.8L1117.4 706.5L1120.5 706L1123.3 708M1093.6 690.1L1090.6 688.5L1088.4 689L1087.1 692L1084.3 693.1L1084 695.4M1162.6 574.3L1159.6 575.3L1157.4 576.5L1155.2 576.2M1088.3 644.9L1088.8 646.4L1090.8 648.1L1089.9 651.4M1183.8 641.4L1181.4 640.2L1179.8 640.2L1177.8 639.5M1208.7 652.8L1210.5 653.3L1210.4 656.7M1201 635L1198.6 633.8L1196 635.3L1193 636.6L1189.5 635.8M1190.8 636L1189.2 637.1L1186.4 638.2L1185.8 641.7L1184.9 643.1L1185.9 644.3M1072.9 557.6L1071.4 556.8L1069.2 557.5L1069.9 560.9L1070 562.9M1198.2 750.5L1201 750.7L1203.8 750.1L1203.9 748.2L1202.4 746.7M1185.6 596.5L1187.3 596L1188.6 599.3L1190.1 600M1171.6 739.9L1173.6 741.9L1174.8 744.2L1178.1 744.1L1178.2 741.5L1176.8 740.5M1093 558.7L1093.6 555.3L1091.1 553.1L1089.4 552.5L1089.9 551M1094.2 696.4L1094.3 699.8L1095.2 701.4L1097.3 703L1100.1 703.1L1101.3 701M1138.5 564.8L1139.2 561.5L1137.5 561L1134.7 559.2L1131.8 561.1L1129.8 561.5M1136.9 710.6L1134.3 711.5L1131.8 713L1133.3 715.8M1181.6 706.3L1180.1 704.6L1181.4 703.2L1183.5 703.8M1221.9 728.2L1222.4 725.8L1222.8 724.1L1222.6 722.3M1149.9 693.2L1151.3 693.9L1154.7 692.8L1156.9 692.8L1159.7 691.2M1156.2 674.6L1157 673.3L1156.2 670.2L1158.8 668.5L1159.6 666.2L1160.7 664.5M1105.3 582.3L1104.4 584.9L1104.5 586.6L1107.1 586.7L1109.2 585L1111.2 585M1052.9 742.8L1050.2 742.8L1047.4 740.7L1045.4 740.7L1044 739M1149.1 644.9L1145.9 646.4L1143.3 646.2L1141.9 643.9L1140.2 644.1M1227.4 694.8L1228.7 697.5L1230.5 698.3M1056.7 594.4L1058 593.6L1056.8 590.2L1055 590.3M1062.2 689.9L1062 687.1L1061 684.1M1185.4 610.4L1183.4 608.3L1181.6 608.1L1181.2 606.3L1183.8 604.1M1084.1 549.8L1085.1 551.4L1086.2 554L1083.3 555.3L1081 554.8M1202.2 698.5L1201.5 696.2L1201.1 693.6M1120.7 648.5L1119.6 650.6L1118 650.6L1117.9 653.2L1119.2 655.4M1113.2 636.2L1115.1 634.2L1114.1 631.4L1112.7 630.8L1113.6 627.5M1099.7 780.5L1101.1 779.1L1102.9 780M1114.4 541.3L1117.2 541.1L1118.1 538.5L1119.9 537.5L1121.5 538.2L1124 537.2M1130 563.3L1132.1 561.3L1133.3 560L1136.6 559.3M1089 598.8L1087.4 601.6L1086.9 603.9L1085.8 605M1135.4 602.1L1137 602.9L1138.2 604.8L1140.9 603.9L1142.4 601.9L1141.5 600.6M1175.5 643.7L1177.7 644.8L1179.8 644.2L1179.4 642.1M1105.2 575.6L1107.7 574.4L1110.8 574.5M1087.9 714.5L1086 714.7L1085.1 712.3M1069.6 593.8L1067.8 592.4L1064.5 593.6L1061.7 595.9M1205.5 681.9L1206.3 679.3L1205.8 677.4M1062.5 670.3L1061.5 668.7L1059.1 666.6L1058.5 664.4M1127.9 683.7L1126.4 684.9L1124.7 684.4L1123.4 683.6L1124.1 681.3L1125.8 678.3M1144.7 679L1147.2 677L1146.1 674.7M1103.1 554.4L1101.5 555.5L1099.2 557.3L1100.2 560.1M1151.8 729.6L1149.4 727.5L1146.1 726.6L1143.4 724.4L1143.5 720.9L1142.1 718.7M1069.4 620.5L1068 622.7L1066.5 623.8L1065.8 625.6L1067.6 626.8M1054.9 608.7L1055.3 606.6L1052.8 604.4L1050.3 606.8M1093.4 668.8L1096.5 670.4L1099.5 669M1052.6 610.4L1050.9 609.1L1048.8 611L1047.7 612.5M1149.7 622.2L1150.6 623.4L1148.8 624.9M1132.9 655.7L1133.8 657L1136.8 656.9M1050.2 646.9L1053 647.7L1052.6 649.6L1055.8 650.5L1058.6 650.7L1060.8 650.9M1088.4 745.2L1089 743.3L1087.8 740.2L1086 740.1L1083.2 740.8M1104 602.1L1104.2 599.1L1103.9 597.5L1102.4 596.2L1103.9 593.3L1105.7 592.8M1186.5 745.9L1184.2 746L1182 746.5L1180.3 749.3L1181.4 751.5L1184.5 751.2M1219.1 709L1217.8 711L1216.4 713L1216.9 715.4M1101.2 556.7L1101.1 553.6L1101.1 552L1103 549.9M1073 660.7L1074.5 659.9L1076.7 660.1M1183 678.4L1184.8 677.6L1188.1 676.4M1113.6 606.3L1114.4 608L1115.8 610.6M1073.4 658.4L1073.7 660.3L1071.3 661.1L1070.1 664.1M1130 784.3L1132.5 786.4L1130.6 789L1131.9 791.8L1133.5 792.1M1099.1 628.8L1097.2 629L1096.2 627.8M1163.2 674.1L1161.2 671.5L1158 670L1156.3 670.4L1156.5 671.9M1232.1 668.6L1229.8 667.4L1230 664.7L1231.8 662.6L1231.7 661.1L1230.3 658.1M1132.6 702.6L1133.6 704L1135.3 707.1L1137.6 705.8M1129.9 633.3L1128 633.5L1126.3 633.6L1125.9 630.7L1129 628.9L1131.2 627.9M1145.3 607.4L1144 608.8L1144.7 610.8L1146.2 612.6M1189.1 644.4L1190.9 647.4L1193.9 645.9M1053.8 769L1051.8 771.7L1049.9 774.6L1046.9 775.3M1095.9 647.6L1097 645.5L1100 645.9L1101.7 642.9L1103.3 642.2M1164.3 723.1L1165.5 721.7L1167.1 719L1169.3 718.3L1170.3 720M1189.3 645.2L1188 647.5L1186.7 648.3M1058.3 622.9L1056.8 624.3L1055.5 623M1153.9 591L1154.7 588.4L1154.4 586.6M1113.3 677.6L1114.9 676.8L1117.7 679M1093.3 568.5L1091 569.2L1088.1 568.1L1086.2 565.5L1086.1 563.6M1154.1 562.5L1155.6 560L1157.9 560.5L1160.4 562.6L1159.2 563.9L1157.3 564.4M1171.4 717L1174.6 717.4L1176.6 717.4M1202.5 721.7L1204.9 723.5L1207.7 722.3M1063.9 727.1L1064.5 728.6L1062.6 731.4M1219.4 670.8L1218.7 673L1215.7 672.4L1213.9 672.7L1211.5 673.4L1210.6 671.5M1146.1 633.9L1147.6 636.6L1146.9 638L1146.4 641.1M1139.8 747L1137.7 749.5L1139.1 752.5L1138.7 754.9M1126.9 642.6L1127.5 645.8L1128.1 649.2M1089.4 555.8L1091.3 557.3L1090.1 560.1L1089.9 563.1M1117.9 694.9L1119.3 693.7L1120.8 691.6L1123.7 692.6M1104.9 684.4L1103.3 685L1102.2 686.6M1130.6 735.1L1130.4 736.7L1127.9 736.9L1127.7 734.4L1129.2 732.1L1132.7 732.7M1200.6 651.9L1203.3 651.4L1203.8 649.7L1203.4 648L1204.3 646.5M1105.8 782.3L1108.3 782.9L1109.5 781.9L1111.2 782.1L1114 783.7M1211.4 698.3L1209.4 697.1L1208 694.9L1207.5 691.5L1204.5 690.3M1111.7 715.7L1110.1 715.5L1107.2 716.2L1106.5 718.4L1107.1 721.1L1106.1 722.6M1131.9 707.1L1134.2 705.2L1134.7 702.8L1132.4 700.5L1129.7 699.1L1126.7 701.2M1084.5 692.9L1081.3 691.7L1078.8 690.7L1077.1 689.7L1074.3 691.5L1073.5 692.8M1070.4 664.3L1069.5 666.8L1071.3 669.3L1073.9 669.3M1085.1 623.3L1083 622.6L1082.9 619.8L1085.9 619.2M1164.2 727.6L1162.2 725.7L1159 725.8M1158 586.5L1155.1 587.7L1154 589.6L1152.3 590.2M1078.9 720L1076.9 718.4L1077.4 716.2L1078.7 713.5L1081.9 712.1M1085.7 681.5L1085.4 678.5L1087 678.2L1088.9 676.7M1086.7 631.5L1084.8 631L1083.8 632.2L1084.4 634.1L1084.7 636.9M1166.3 706.3L1165.6 708.5L1163.4 708.9L1161.2 710.1M1143.7 745.4L1141.4 746L1139 746.6L1137.2 745M1216.9 695.6L1218.9 694.5L1221.3 695.7L1224.6 696.6M1231.6 703.3L1231 701L1228.5 699.8L1228.1 697.9M1060.3 663.3L1062.1 662.1L1065.2 662.6L1067 664.7L1067 666.3L1067.6 668.9M1092 669L1090.5 669L1089.8 666.3L1092.3 663.7L1090.8 660.8L1089.8 658.6M1060.3 705.7L1060.4 703.8L1059 703L1057.6 702.2L1056.9 699.1M1066.7 680.1L1069.3 680.9L1070.9 680.3M1081.4 569.5L1079 568.4L1077 567.1M1151.6 571.2L1150 570.9L1148.5 571.7L1147.3 569.3L1149 567.5L1151 565.4M1076.2 686.1L1073.5 686.9L1071.3 685.7L1070.7 682.5L1068.9 681.2L1067.1 680.2M1108.4 674.2L1111 672.3L1113 670.1L1115.2 669.1L1116.3 671.4M1195.4 619.2L1196.3 622.6L1197.1 625.1M1082.4 607L1081.2 608.3L1083.4 610.8L1084.6 613.3L1084.5 614.9M1178.9 637.7L1178.2 639.3L1177.2 640.5L1175.1 639.8L1172.7 640.3M1052.2 760.8L1050.4 760.2L1049.7 757.2L1048.4 755.3L1048.7 751.7L1050 748.8M1084.1 679.8L1083.9 676.4L1082.2 676.4M1076.7 583.2L1079.6 582.5L1082.6 582.7M1074.4 742.8L1074.5 744.5L1073.6 747.9L1074.9 749.6M1080.9 674.9L1079.4 676.2L1076.8 676.3L1076.9 679.3M1179.3 708.6L1176.1 708.1L1173.2 710.2M1206.9 626.1L1207.8 628L1206.7 630.6L1208.4 631.5L1210.3 632.4M1108.1 571.1L1106.2 573.4L1105.7 576.8L1102.9 576.9L1101.6 578.6L1100.4 581.6M1118.4 725.1L1120.3 722.4L1121.5 720.3M1176 615.9L1177.3 616.7L1179.3 614.8M1054.3 760.8L1056.5 760.5L1059.2 759.2L1061.1 756.5L1063.5 756.5L1063.7 754.6M1150.2 770L1151.8 769.8L1152.7 773L1149.7 773.9L1149.1 775.7M1157.3 736.7L1160.2 738L1161.9 737.6L1163.5 736.7L1164.6 733.3L1164.8 731.6M1152.2 559.1L1155 559.2L1156.7 561.2L1158.7 560.9L1159.9 557.9M1122 596.9L1123.2 598.6L1123.5 600.2L1126.6 600.6M1133 780.7L1134.8 783.4L1138 783.1L1139.8 785.7M1207.9 732.8L1206.7 729.7L1203.8 729.8L1203.1 727.7L1201.1 725.4L1199.8 723.5M1167.8 639.2L1166.7 640.5L1164.5 640.6L1164.3 642.6M1173.7 639.5L1171.8 642.3L1169.1 643.3L1167.5 643.4M1069.7 546.8L1071.5 548.4L1073.1 548.2M1083.7 723.8L1082.1 723L1083 720.2L1080.6 719.2L1079.4 721.5L1080.7 724.7M1088.6 619L1086.9 620.7L1085.1 621.6L1082.2 620.5M1114.6 724.7L1113.6 727.7L1112.2 729L1110.9 727.9L1108.2 728.8M1154.3 628.3L1151.9 627.6L1149.5 626.7M1201.9 589.9L1202.1 587.2L1204.9 586.7M1116.8 769.3L1115.3 770.4L1113.3 768.5L1112.7 766.8L1113.8 763.4L1115.5 763.8M1071.6 784L1070 782.3L1070.4 780.7L1072.1 778.8L1074.1 776.3L1075.7 776.9M1169 718.8L1171.7 719.9L1172.1 722.7L1174.6 724.1M1156 632.8L1154 635.3L1150.7 636L1148.6 637.3M1062.3 710.9L1064.2 711L1066.4 709.1L1068.1 709.2L1069.1 706.8L1070.2 704.9M1055.3 727.3L1057.5 729.8L1059.3 730L1062.1 729.3L1064.2 728.1L1065.4 729.9M1103.6 708.7L1101.6 710.1L1101.3 711.9L1104.3 713.7L1104 715.6M1154.9 624L1152.7 624.9L1152.3 626.9L1154.2 629.3L1154.8 632.2M1127.7 786.4L1124.8 785.3L1122.9 787.6L1120.5 789.6L1120 792.5L1121.9 793.5M1053.3 672L1054.6 670.4L1056.6 669.7L1056.1 668.2M1204.8 728.7L1205.4 731.5L1206.9 734.8M1083.2 673.4L1084.4 676L1083.2 678.7M1230.7 648.3L1229.5 645.8L1226.7 645.3M1140.9 612.7L1138.9 612.7L1138.4 615.2L1136.6 616.5M1071.1 771.5L1071.1 773.2L1068.5 773.5L1065.9 771.9L1062.8 773.3M1097.8 787.3L1096.7 788.5L1097 790.2M1110 625.1L1112.9 626.8L1112.7 628.9L1114.7 630L1115.1 633.1L1117.3 633.1M1121.7 576.1L1120.4 578.2L1119.4 579.4L1116.5 581.1L1114.6 581.5M1071.8 614.7L1070.8 616.5L1070.8 619.5L1071.1 621.4L1074.5 622M1072 648.8L1071.5 652.2L1068.4 653.8L1064.9 653.8L1064.3 651.4L1061.6 650.7M1074.1 767.1L1076 767.8L1079.2 767.1L1081.8 767.6L1082.9 768.7M1070.2 673.7L1072.3 675.8L1074.9 674.7L1076.3 676.4L1075 679.1L1075.2 681.3M1122.7 732.9L1119.6 731.8L1118 732.8L1115.2 734.6L1112.9 736.9M1118 741.6L1118.3 739.6L1118.5 737.5L1117.5 734.8L1114.9 733.1L1114.2 730.9M1116.2 614.5L1117.9 613L1120.3 611.5L1122.9 610.8L1126 611.9M1133.5 710.8L1131.4 713.4L1129.7 712L1128 710.9L1125.5 708.4M1064.9 683L1064.7 681.3L1065.1 678.6L1064.2 676.2L1064.9 674L1063.6 672.8M1061.1 672.3L1062.7 674.5L1065.1 675.8L1066.8 673.9M1071.9 678.8L1073.5 680.4L1072.2 682.8L1073.2 685.9M1227.7 718.7L1229.2 720.8L1228.3 723.6L1228.4 726.1L1228.2 729.5L1229.8 731.3M1195.8 588.8L1193.2 587.5L1191 588.3L1188.9 590.5M1081.4 732.2L1081.4 734.9L1078.2 734.9M1189.3 594.9L1186.3 596.2L1185 597.1L1182.9 594.2L1185.1 592.3L1187.8 592.5M1088.5 578.4L1086.7 580.8L1084.5 582.4M1133.3 731.8L1134.3 730.2L1134.7 728.6M1170.1 616.3L1168 617L1166.5 615.1L1163.7 615.1M1164.4 763.9L1166.6 766.7L1168.4 766.6M1127.6 766.5L1125.2 765.9L1122.5 766.5L1120.3 764.4L1118.3 765.4M1146.3 644.7L1147.4 643.2L1150 641.4M1181.5 647.8L1179.2 649.8L1179.8 651.4L1180.8 652.6M1202.2 742.8L1200.2 744.5L1198.6 744M1078.6 721.4L1076.6 723.7L1076.8 726L1078.5 729.1L1081 731.2L1084.3 730.7M1099.2 728.2L1099.4 726.1L1100.4 724.9L1100.5 723.2M1226.8 668.4L1226.9 670.1L1226.4 671.9L1224.9 672.6M1069 620L1072.1 619.9L1072.8 616.6L1072 615.1M1112.9 554.3L1114.5 552L1117.5 551.4L1118.4 550.1L1120.8 548.1L1123.5 548.8M1115.1 699.4L1117 700.6L1115.4 703.5L1114.8 705.9M1109.2 733.1L1107.8 731.5L1106.3 730.3M1107.9 733.6L1108.8 731.7L1110.3 728.5M1150.6 568.3L1150.2 566.4L1150.8 563.7M1106 543.1L1103.3 543.1L1101.8 542.2L1100.4 540.5L1101.9 538.2M1108.3 677.5L1108.8 676L1110.7 674L1112.3 671.5L1114.1 669.8M1051.8 728.8L1050.7 730L1051.7 731.2L1054.3 729.8M1198.1 651L1199.5 652.7L1201.7 655.2M1141.3 661.1L1143.6 661.8L1143.6 665L1144.5 666.6L1146.1 666.3M1052 592.5L1054.1 594.2L1057.3 594.3L1058.7 596.3L1058.2 599.5L1060.3 600.2M1226.4 674.4L1229 673.8L1229.2 671.5L1231.1 670.2L1231.2 668.6L1234.5 668.4M1097.2 706.2L1095.4 705.4L1093.9 705.8L1094.2 707.6L1096.3 708.7M1115.5 750L1113.4 751.3L1112.7 754.8L1113.2 758L1115 760.6M1063.3 772.6L1061.2 770.9L1059.2 770.7L1057.6 770.7L1056.6 769.1M1081.5 716.7L1082.9 713.9L1081.8 711.3M1147.6 626.4L1144.4 625L1144.7 623.2L1145.3 620.6L1143 619L1142.8 616.2M1179.6 662.3L1180.4 659.9L1183.5 660.1L1184.5 658.3M1110.4 652.6L1113.5 651.6L1114.8 649.4M1102.6 659.8L1102.5 657.8L1103.6 656L1106.4 654.4M1089.7 603.1L1091.7 601.4L1092.8 600.1L1096.2 599.9L1097.5 597L1096.4 595.5M1182.4 752.7L1183.3 750.9L1183.2 748.9M1142.6 582.7L1145 581.5L1147.1 583.2M1084.1 600.7L1085.6 598L1087.1 597L1085.7 594.6M1116.2 665.5L1118.3 666.2L1120 666.1L1121.5 668.9L1121.3 671.1M1130.5 678.1L1129.2 676.1L1130.3 674.7L1133.4 674.4M1058.6 655.1L1060.6 654.3L1061.3 655.7L1064.4 656.8L1063.6 659.5L1063.3 661.1M1065 640.1L1065.6 638.4L1069 637.5M1209.2 682L1207.4 681L1207.1 677.5L1207.6 674.8L1208.9 672.3L1208.8 670.5M1086.2 751.2L1085.4 748.3L1084 747.2L1082.4 745.5L1081.6 744.2L1084.1 742.1M1097.4 668.1L1094 668.2L1091.3 668.9M1060.3 759.3L1056.8 758.6L1054.1 758.2L1054 755.2L1053.4 753.1L1052.3 752M1206.8 722.9L1208.7 723L1210.2 724.7L1210.5 726.3M1118.8 632.1L1117.5 633.4L1115.4 634.9L1115.5 638.5L1113 639.3M1163.6 768.1L1163.5 771L1166.3 773M1077.9 771.1L1079.5 769.1L1079.6 766.1L1082 765.2L1084.7 764.6L1086.8 763M1203.3 747.1L1204.2 743.9L1203.7 741.4M1212.2 610.2L1210.7 608.1L1208 609.8L1208.3 611.4L1209.1 613.9L1212.5 614.2M1096.7 556.8L1099.8 556.6L1102.5 554.6L1102.4 552.8L1104.7 552.2M1197.3 671.5L1195.7 671.9L1192.8 671.5L1191.4 670.7L1188.4 672M1085.7 639.2L1087.3 640.4L1086.5 641.7L1088.3 642.9L1089.6 645.6L1091 648.5M1064.6 615L1063 612.8L1061.6 613.5M1072.2 589.1L1074.4 591.3L1075.9 589.8L1076.2 587.5M1073.2 596.4L1072.2 593.8L1075.4 592.2L1076.9 592.2M1122.9 710.7L1123 707.5L1121.2 704.9L1120.8 703.1L1120.7 700.6L1121.4 699.1M1084.7 673.8L1086.3 671.3L1084.3 669L1082.7 669.3M1089.9 590.4L1092.2 591.8L1094 593L1094.3 596.2L1094.3 599.4M1172.4 746.9L1170.9 748.7L1171.9 751.1M1124.5 574.2L1127.1 575.5L1128.9 576.3L1130.3 578L1130.3 581.4M1084.7 596.8L1084.7 594.6L1082.8 593.1L1082.5 590.6L1079.3 590.1L1077.7 592.9M1073.7 720.7L1076.1 722.8L1077.9 725.3L1079.7 724.7L1081.5 726.7L1080.9 728.8M1086.9 633.8L1085.6 636.2L1082.8 637.9L1079.4 637.1M1075.5 747L1075 743.6L1076.8 741.9L1078.3 739.7M1066.5 684.5L1068.7 684.6L1070.9 684.9L1071.7 683M1083.8 709.1L1084.5 711.5L1086.3 712.2L1088 715.4M1093.4 612.9L1094.1 610.1L1094.1 608.2M1181.5 762.4L1183.4 761L1185 762.5L1186.8 763.2L1189.2 765.5L1191.2 763.8M1186.6 610.3L1187.9 607.6L1191.1 607.9L1191.7 605.7L1193.8 603.2L1192.3 601.1M1097.4 683.6L1096.6 682.3L1096.9 679.9L1095.6 678.8L1092.8 677M1079.5 687L1080.8 690.4L1082.4 692.5M1188.6 724.9L1187.3 723.7L1189.4 721.4M1122.3 562L1124.2 562.5L1125 560.1L1123.4 557.2L1121.3 555.8M1111.5 784.3L1111.6 782L1108.5 782L1106.3 782.9L1105 786.2M1153.4 699.9L1151.8 698.5L1149 699.6L1149.6 702L1151.9 701.6M1080.1 657.9L1077.1 658L1074.5 660.2L1075.2 662.9M1193.4 760.5L1193.2 762.2L1190.7 762.2M1226.2 652.3L1223.7 654.3L1222.7 653.2M1095 552.8L1096.2 554.4L1097.2 555.6L1096.3 557.5M1110.7 741.8L1112.6 739.8L1114.7 737.6L1116.3 736.1L1118.5 733.4L1119.7 734.3M1209.3 658.5L1211.9 656.6L1213.6 654.8L1214.2 651.3L1213.5 648.5L1214.3 645M1163.6 680.6L1163.5 678.7L1162.6 676.6L1160.1 677.4L1160.2 679.7M1065.4 596.1L1066.8 593L1065.4 590.6L1067 589.6M1108.2 784.5L1105.8 782.6L1107.8 779.6L1105.6 777.4L1105.8 775.1M1079.7 670.6L1076.8 671.1L1075.3 672.1M1205 710.2L1205.4 707.2L1208.7 706.6M1143.2 747.8L1141 749L1138.8 749L1136.8 749.5L1137 751L1139.3 753.2M1159.9 621.2L1161.3 623.4L1163.3 622.2L1165.8 620L1167.8 619.4M1192.6 756.5L1190 757.1L1189.6 760.5L1186.1 760.8M1169.2 652.1L1171.3 652.5L1173.7 655L1172.7 656.6L1171.4 658.6M1106.8 710.9L1104.1 709.6L1103.1 707.5M1221.3 718.7L1219.2 715.8L1216.8 717.6L1215.7 719L1217.1 720.7M1143.4 652.1L1146.2 652.2L1146.6 654L1146.5 656.3L1144.6 658.1L1143.2 656.8M1160 746.3L1156.8 745.8L1154.4 744L1152.8 743L1152.3 740.5L1149.8 740.1M1059.6 633.7L1057.7 635.7L1057.4 638.8L1055.8 639.5L1056.3 642.7M1199.5 608.1L1199.6 604.9L1200.2 602.2L1200.3 598.9L1202.7 596.4M1126 542.7L1127.7 545.6L1129.7 547.5L1133 547.9M1198.9 712.6L1201.5 712.1L1203.4 713.7L1202.8 715.4L1202.6 717.7M1117.4 691.4L1115.2 690.9L1115.3 688.4L1115.2 685.5M1058.2 771.7L1056.3 771.9L1054.2 773.3L1053.8 774.9M1061 769L1059.2 768.8L1056 768.5L1055.5 771.2L1053 770.8L1050.2 772.9M1091.2 783.3L1093.6 784.2L1093.3 787.4M1184.3 581.5L1187.1 580.5L1188.6 582.2L1190.3 582.1L1191.8 581.7M1124 728.6L1123.2 727.1L1119.9 725.9M1212.8 725.2L1211.7 726.7L1213.1 729.8L1213.8 731.7L1212.2 733.9M1144.3 644.6L1146.9 644.8L1147.1 648.1L1150.2 649.6L1152.1 650.9L1153.2 652.3M1209.6 716L1210.7 718.4L1212.1 719.9L1213.6 718.9L1215.8 719.8L1215.2 721.5M1201.9 666.3L1199.3 665.4L1197.1 666.5L1194.4 668.8L1192.9 670.2L1193.8 672.2M1071.7 644.7L1072.5 647.1L1075.2 649L1077.3 646.5M1122.4 600L1122 602L1120.1 604.8M1206.4 696.9L1203.7 698L1201.1 698.7L1198.7 699.2M1096.3 585.6L1098.3 584.1L1099.1 582.8L1098.4 579.6L1096 579.9L1094.4 579M1090.2 760.7L1092.8 759.8L1095.3 762.3L1096.1 764.1M1062.8 674L1064.4 676.3L1063.6 679.8M1052.4 762L1051.6 764.8L1050 764.3L1047.9 762M1110.9 622L1112.1 623.3L1113.9 624M1135.5 582.4L1133.7 581.5L1131.8 579.6L1128.9 578.7M1151.4 747L1149.8 748.5L1149.4 750.7L1149.2 754L1148.6 755.8M1132.3 589.5L1134.6 592.1L1137.9 592.5L1139.4 594.7M1152.9 739.3L1151.4 738.5L1150.3 740.4M1085.3 726.5L1087.3 728L1088.8 726.8L1088 725.1L1086.6 723.8L1083.3 724.2M1152.2 560.3L1153.7 560.8L1155.3 559.3M1125.3 571.4L1126.2 572.7L1127.6 575.2L1130.8 576.5L1130.9 578M1173.1 587.1L1171.6 586.3L1169.7 583.6M1080.4 721.5L1082.1 724.5L1085.1 724.2L1084.7 721M1118.1 554.6L1118.8 556.2L1118.9 559L1120.6 561.4L1122.3 563.4L1121 564.8M1166.5 691.7L1167.9 688.6L1168.6 685.2M1179.3 583.1L1177.2 583.8L1173.9 582.6L1173.9 580.2L1176.3 579L1175.7 576.9M1136.4 592.4L1133.5 594L1131.3 593.1L1130 594.7L1129.8 597.3L1131.7 599.4M1074.9 730.2L1076.6 730.7L1079.3 731.9L1080.9 733L1080 735.2L1078.1 736.6M1115.2 596.8L1113.2 595.2L1114 593.5L1114.7 590.7M1145.2 776.7L1144 773.7L1141.3 773.6L1140.1 771.7L1139.8 769.6M1104.6 529.1L1107.7 527.5L1111 527.4L1112.4 528.3M1051.1 608.4L1049.1 611.4L1046.7 611.2L1045.3 609.6L1043.3 609.2M1095.2 632.5L1095.9 634L1097 635.3M1111.6 769.9L1109.6 770.3L1107.6 768.8L1105.6 771.3M1205.6 636.2L1204.1 633.6L1206.1 631.6L1205.7 629.8M1119.7 646.5L1122 646.1L1124.1 646.8L1125.1 645.1L1123.7 644.4M1166.9 711.9L1169.9 711.8L1171.9 713.5L1175.4 712.7M1132.3 612.9L1132.8 611L1135.7 610.5M1144.4 688.2L1142.2 687.4L1139.1 688.2L1135.9 688.9L1135 690.7M1090.2 598.8L1089.6 597.1L1092 595.2L1094.6 595.2L1096.5 595.3M1180 741.7L1179.7 744.1L1181.3 746.8L1183.6 748.3L1185.1 751.5M1157.2 677L1159.3 679.1L1161.4 681.6M1171 617.7L1171.7 616L1173.9 615L1176.7 617.2L1176.6 620.4M1208.6 645L1208.1 642.6L1209.4 641.3L1207.8 638.9M1185 756.9L1185.3 754.9L1187.1 754.4L1187.1 751.2L1186.1 749.9L1187 747.6M1052 609.3L1051.2 611.5L1049 611.8M1221.5 654.2L1218.7 654.9L1215.7 656.7M1118.1 687.2L1119.3 684.6L1119.5 682L1116.1 680.9M1084.6 689.9L1085.9 693.2L1086.8 695.9L1088.7 697.9M1093.8 569.9L1093.5 568.3L1091.3 566.8L1088.8 568.8L1089.3 571.8M1104.4 713.3L1103.5 710.9L1106.3 709.4M1132.2 732.6L1130.2 734.7L1127.5 735.1M1187.7 723.1L1186 723.2L1183.8 725.9L1181.8 726.1L1180.5 725L1178.2 727.3M1230.4 636.5L1228.8 638L1227 637.6L1225.7 635.3L1227 634.6L1228.8 634.4M1053 707.4L1054.3 710.5L1052.7 711.8L1053.7 713.7L1056.8 713.4L1059.2 714.9M1084.8 669.9L1081.5 670.3L1079.5 672.2L1080 674.7L1079.9 677.3M1170.6 685.6L1169.3 687.8L1169.2 689.4L1168.9 691.8M1191.8 753.9L1193.4 755L1195.8 752.8L1194.7 749.6L1191.7 748.6M1129.6 682.7L1128.7 680.7L1130 677.7L1128.7 675.3M1123.6 578.2L1121.4 575.8L1118.4 575.2L1118.5 573.3M1203.2 619.6L1203.5 617.9L1203.3 615.8M1084.5 651.3L1084.3 648.3L1082.9 647.2L1081.8 644.6M1190 699.9L1187.8 702.6L1185.7 703.3L1182.6 703.3L1180 705.2L1177.3 704M1189.4 701.3L1187.4 699.2L1184.1 699.9M1185.2 593.2L1183.6 592.1L1185 589.3L1186.4 587.1M1079 652.7L1080.1 653.7L1079.4 655.5L1076 656L1073.1 655.1L1073.5 652.9M1129.7 578.5L1128.3 576.2L1127.3 575L1124.4 573.5L1122.8 574.5M1056.4 698.2L1056 694.7L1055.1 693.4L1053.5 693.5M1159.1 626.2L1161.2 623.5L1162.9 622.5M1131.2 706.4L1130 708.4L1129.1 709.8L1128.2 712.5L1127.3 714.1M1159 744.8L1160.4 742.1L1160.9 740.2M1112.2 587.3L1111.3 584.4L1110.7 582.9L1107.5 583.3L1107 580.2M1100.3 642.2L1098.3 642.9L1097.2 640.1L1095.1 637.5L1095.1 635.3M1076.3 620.1L1078.5 619.9L1080 616.7L1078.1 615.2L1075.6 614.5L1075.8 612.5M1189 743.2L1189 746.4L1189.4 749L1189.9 750.7L1189.2 753.4M1186.2 680L1184.1 680.1L1183.8 678.4M1067.6 603.3L1067.4 605.9L1065.3 607.1L1065.2 608.8L1061.9 608.6M1132.8 569.5L1135.9 571.1L1134.6 573.6M1057.7 781.5L1060 781.9L1063.2 780.3L1064.6 779.1L1063.1 776L1065.1 774M1146.5 590.4L1145.5 587.8L1145.6 586.1L1148.1 583.6M1193.9 637L1195.2 634.3L1196.7 633.7L1197 631.1M1096.4 582.8L1098.8 583.9L1100.6 584.3L1102.8 586.3L1104.6 587.5M1063.7 622.1L1065.2 622.6L1066.8 622.9M1086.1 683.5L1088.7 684.4L1089 686.4L1089.8 687.7L1090.1 689.3L1088.9 692.2M1173.4 607.3L1175.2 604.3L1175.2 602.2L1174.2 600.6L1172.1 600.8L1169.8 599M1145.3 780.1L1144.6 783.1L1141.4 782.9L1139.2 782.6L1139 779.9L1136.9 779.1M1197.4 743.6L1200.3 742.9L1202.7 743L1204 741.9L1207 743L1209.4 741.2M1163 746.5L1164.2 743.2L1164.3 740.6M1159.8 584.3L1157.8 585.9L1155.2 586.8L1152.2 585.2L1152.8 582.2L1153.8 578.9M1105.6 689.7L1104.1 691.2L1106.1 693.8L1108.6 694.1L1110.9 691.4M1218.8 650.6L1219.3 647.5L1217.5 646.1L1216.3 643.1M1200.1 681.3L1200.9 682.6L1200.2 685.2L1197.2 686.7L1195.5 688.8M1102.6 687.7L1101.1 686.4L1100 685L1100 682.7L1102.9 682.7M1152.9 673.2L1150 673.3L1147.9 673.5L1145.9 671.7M1126.7 648L1129.8 647.4L1131.2 649.3M1218.3 660.6L1218.6 658L1215.8 657.5L1212.9 657.5L1212.7 661M1089.3 725.7L1088.4 727.8L1086.8 727.4M1064.9 616.7L1063.7 618.8L1065.3 620.7L1068 619.8M1128.8 790L1130.3 792.2L1131.8 791.3L1131.9 788.7L1130.3 788.5M1054.3 720L1056.8 722.2L1060.1 721.4M1086.4 655.4L1083.2 655L1081.4 656.6L1079.2 659.4L1076.7 659L1075.5 657.3M1187.9 756L1185.8 756L1183.5 755M1062.9 699.7L1061.2 698.2L1059.3 700L1059 701.9M1166.4 654.1L1169.8 654.7L1172.3 655.6M1100.8 709.4L1101 706.9L1102.7 706.8L1104.7 706.5L1107.2 704M1140.6 650.4L1139.4 653.3L1141.6 655.1L1145.1 654.7L1145.3 652L1144.6 650.6M1210.2 642L1208.5 640.3L1208.4 638.1L1208.5 636L1211 634.9M1102.9 581.1L1105.2 579.1L1107.1 578.2M1177.9 755.1L1179.8 752.3L1179.2 749.6L1175.8 748.9M1078.6 787.5L1076.8 785.2L1075.2 785M1102.9 712.2L1106 711.4L1107.9 711L1108.7 713L1111.9 713.6M1186.8 672.8L1187.7 671.1L1189.7 670.6L1192.6 670.8M1184.2 689.8L1182.4 688.7L1179.9 687.1L1178.2 688.3M1082.6 688.2L1083.1 691.1L1082.9 694L1082.9 696.4L1080.9 696.8M1080.1 700.6L1077.6 700.6L1074.8 700L1072.5 700.3L1070.5 702.7L1068.5 705.6M1073.5 675.8L1072 677L1069.8 678.2L1068 676M1121.4 630.8L1120.2 632.1L1118 632.9L1116.3 633.2L1114.6 631.6M1111.6 608.7L1109.6 609.6L1109.3 611.8L1106 613.1M1125 563.4L1126 562.2L1128.3 563.5L1128.1 565.2M1062.2 726L1062.3 729.2L1063.7 732.3L1065.4 731.6L1066.4 734.2L1066.3 737M1081.6 758.7L1083.6 759.9L1086 757.9M1087.3 684.7L1089.7 684.5L1090.8 683.2L1089.6 680.4L1088.5 678.9L1085.9 680.4M1195.1 698.5L1197.1 701L1198 703.2L1196.1 704.7M1121.2 749.3L1118.8 748.4L1117.9 746.8L1116.3 745.7L1114.2 745.4M1074.5 583.3L1077 582.6L1079.7 582.7M1097.6 778.5L1098.2 781.4L1101.3 781.5M1164.3 596.3L1163.4 599.4L1161.2 599.9L1158.9 600.8L1157.3 598.2L1155.4 596.3M1107.5 592.8L1109.1 594.8L1108.1 596.5L1105.8 599.2M1119.9 788.6L1116.9 787.7L1115.3 787L1113.5 785.3M1123.2 562.1L1120.1 562.3L1118.1 561.9L1117.3 564.1L1115.5 565M1120.4 724.4L1119.4 726.3L1116.5 725L1116.6 723.2L1119 721.9L1120.2 723.6M1144.8 730L1142.3 729.7L1141 733L1138.6 734.5L1136.9 734.5L1133.8 735.5M1082.8 652.4L1081.6 650.7L1078.9 651.5L1076.1 650.8L1073.1 652.6L1071.5 652.3M1225.9 730.1L1223.4 730.8L1222.3 729M1217.5 711.2L1217.1 709.1L1216.6 707.1L1214.7 705.6L1213.8 702.7M1199.9 601.7L1197.9 603.6L1199.2 605.7M1099 575.8L1097.6 578.4L1098 580.3M1097.1 618.1L1099.8 618.7L1102.2 620.4L1104.2 622.5L1104.1 624.3L1103.1 626.9M1072.8 696L1075.2 697.4L1075.6 700.3L1072.5 701.5L1072.3 704.2M1147 603.4L1146.1 601.6L1147.1 599.4M1139.9 679.4L1140.1 682.7L1141.9 684.1L1142.9 682.9L1142 680.5L1142.2 678.7M1069.7 721.9L1070.6 723.5L1070.8 725L1068.9 726.7L1069.2 729.4M1134.3 669.2L1131.2 671L1130.1 673L1131.1 675.8L1132.2 678.3L1131.8 680.5M1188.6 723L1190.9 722.5L1191.3 721M1208 639.8L1211.2 640.6L1214.1 639.2M1162.4 667.4L1162.2 670.7L1163.1 673.4L1164.1 675.3M1079.6 640.2L1076.5 638.6L1074.3 639.7L1072.7 638.4L1070 637.7L1067.3 637.8M1172.5 744.6L1170.5 742L1171 740.4L1169.1 739.1M1160.9 646.9L1160.5 649.6L1163.5 651.6L1163.8 653.1M1162.5 660.3L1164.3 661.5L1165.9 661.9L1166.4 663.8M1060.4 761.6L1063 763.1L1065.2 761.7L1065.9 758.9L1068.6 759M1077.9 646.9L1080.8 648.7L1080.5 651.5L1081.6 654.7L1084.4 655.9L1087.5 656.3M1091.4 731.7L1092.6 732.7L1091.7 735.7L1092.3 737.5L1091.2 740.8M1077.7 602.9L1076.3 605.9L1076.7 607.5L1076.2 610L1076 611.9M1059.7 653.5L1060.7 656.4L1061.3 659L1063.9 658.6M1073.8 582.8L1075.8 585.2L1075.4 587.9L1071.8 588.4M1051.2 598.5L1052.4 600.6L1052.7 603.9L1054.7 604L1057.4 603.1L1056.9 599.6M1152 601.7L1149.1 601.8L1146.2 599.9M1056.6 685.5L1054.4 684.4L1054.4 681.2L1052.9 678.4L1054.8 675.6L1057.3 675.2M1169.5 581.5L1167.6 583.4L1166.7 585.4L1163.3 585.3L1161.8 587.8M1071.1 719.9L1071.1 718.4L1070.8 715.1L1068.8 714.8L1068.2 716.6M1164.8 714.8L1163 717.6L1160.3 718.9L1158.4 721.2L1155.2 720.3M1103.1 631.5L1105.3 633.1L1107 631.6L1109.5 630.7M1076.9 767.5L1073.6 767.2L1072.2 765.9M1087.8 733.8L1087.1 736.3L1088.7 738.3M1131.6 775.6L1133.2 775.1L1132.7 773M1172.4 624.9L1169.5 626.8L1169.1 630.3L1168.4 632.3L1168.3 635.5L1169.7 637.8M1116.4 630.3L1114.9 630.6L1113 629.6M1141.9 578.7L1140 580.6L1138.2 578.8L1136.1 577.6M1144.5 596.5L1144.7 594.2L1142.5 591.3L1140.1 592.4M1082.5 618.1L1081.2 615.4L1079.4 612.5M1063.1 659.5L1065.1 662.3L1066.5 663M1208.3 720.3L1206.7 723.4L1204.8 725.2L1203.8 727.5L1202.1 729.1M1213.1 704.9L1212.8 707.8L1213.5 711.1L1214.5 712.6L1216.1 712.7M1210 619.1L1210.9 620.6L1212.6 622.7L1213.7 624.4M1098.3 742.1L1100.8 742.2L1101.9 744.3M1132.7 781.8L1133.1 779L1133.2 776.5L1135.8 775.4L1138.1 773.8L1141.6 773.1M1127.8 705L1126.4 707.4L1124.3 707.5M1079.6 754.6L1078.6 757.2L1077 757.5L1074.1 756.7L1073.6 754L1072 754.2M1107.4 742.7L1110.1 740.4L1113.6 740.6L1116.1 740.6L1116.9 738.4M1062.5 585.5L1064 582.6L1066.4 583.8L1066 587.4M1213.7 660.7L1216.5 662.1L1218.5 664.5L1218.6 667.9L1216.7 668.8L1214.9 671.4M1130.5 547.6L1127.8 548L1126.6 549.9L1124 551.7M1200.6 713.8L1198.7 714.3L1196.4 714.1L1195 715.6L1192.8 716.8L1191.1 715.5M1190.6 760.6L1189.3 757.7L1189.4 756.1M1183.5 676.5L1182.2 677.8L1180.5 680.5M1154.9 704.4L1154.2 707.6L1152.9 710.4L1151.4 710.9M1138.2 553L1140.2 553.3L1141.4 551.1L1140.6 547.6L1137.9 546.4M1185.2 753.1L1182.4 754.8L1181.9 756.5M1154.9 592L1156.8 592.6L1156.4 595.6L1153.1 596.3L1153.6 598.5L1151.5 600.3M1167.1 626.4L1165.1 625.4L1161.9 626.2L1160.2 624.8L1159.9 622.4M1146.8 740.2L1145.7 737.6L1146.8 735.8L1148.1 735.1L1150.4 737.1M1236.3 658L1234.8 660.3L1236.5 662.8M1088 625.6L1087.6 627.4L1088.9 629.9M1163.5 749.4L1165 751.7L1165.4 753.2L1168.4 754.1L1171.5 752.5M1191.2 652.7L1189.4 651.6L1187.5 651L1185.9 649L1183.1 650.9L1183.6 652.5M1137.1 671.6L1134.5 672.7L1132.7 671.7L1130.6 674.2L1131.1 675.8M1154.8 738L1153.3 737.5L1151.8 738.9M1068 666L1066.6 664.8L1066.2 661.2M1191.1 714.6L1188.8 712.9L1186.9 712L1187.9 708.8M1156.3 683.8L1158.3 682.6L1158.9 680.9L1161.7 680.4L1163.1 683M1219.6 632.9L1219.8 630.6L1221.2 630L1223.6 627.9M1200.5 754.4L1200.2 752.2L1198.8 751L1196.6 750.9M1055.2 646.9L1053 647.1L1051.3 649.8L1048 651L1045.9 650.6L1043.8 650.9M1069.6 768.4L1067.4 767.4L1066.7 765.8L1065.7 764.1L1066.3 761.2L1067.7 760.4M1109.1 554.4L1110.2 556L1111.6 556.8L1113.3 559M1189 667.8L1189.5 665.6L1190 663.9L1189 662.3L1190.8 661.1L1190.5 659.6M1066.5 663.6L1068.4 662L1069.7 663.5L1071.5 663.4M1161.5 766.4L1159.9 767.6L1159.3 769.7L1162.4 770.7M1107.3 671.4L1103.9 671.3L1102.6 668.2L1100.7 668.4M1219.8 656.5L1221.3 655L1224.1 655.9L1226 654.5L1229.5 654.5L1231.2 656.9M1071.4 723.8L1073.3 721.3L1074.9 722.4L1076.4 720.4M1141.7 703.4L1140.5 701.5L1139.1 701L1137.2 702.5L1135 701.7M1207.9 653L1210.6 652.7L1212.5 654.8L1214.2 655.2L1214.2 658.5M1092.6 693L1092.1 695.3L1089.2 696.6L1086.1 695.2M1074.9 700.2L1071.5 701.2L1069.9 698.7M1185.8 581.4L1187.5 584.4L1185.7 586L1186.1 589.1L1187.7 589.2L1191.1 588.3M1103.3 730L1104.8 727.3L1104.7 725.6L1102.8 723.8M1224 625.4L1222.3 622.8L1220 623.3L1218.1 626.3M1124.1 691.1L1124.5 693L1123.2 695.8M1062.5 624.4L1065.5 624.9L1068.2 626L1069.5 627M1163.1 764.4L1160.8 766.3L1158.6 765.7L1155.7 765M1165.9 593.3L1163.5 595L1160.9 593.4L1157.4 593.7L1155.4 592.5M1138.2 594.1L1136.2 596.2L1135.8 598.2L1134.1 599.4M1150.3 759.1L1151.4 761.1L1150.1 762.5L1146.9 763.8L1144.8 761L1141.5 760.6M1225.3 712.9L1228.6 712.1L1230.2 713L1233.4 712.7M1137.4 602.8L1136.3 600.7L1137.8 599.6M1116.3 553.5L1114.3 551.7L1115.7 548.5M1181.3 605.1L1178.1 603.5L1176.6 602.2L1175.3 603.5L1175.3 606.4L1173.5 608.7M1090 715.1L1089.1 718.5L1085.7 719L1084.6 721.1L1085.1 723.8L1085.6 726.1M1155 597.8L1154 600.2L1156.8 601.6L1159.8 599.8M1186.1 624.4L1186.3 621.9L1186.5 618.8L1183.9 617.5M1083.3 561.6L1079.8 561.2L1079.6 558.2L1077.8 556.7L1076 556L1076.4 553.9M1090.3 698.1L1091.4 696.7L1093.4 698L1095.4 696.5M1137 629.8L1135.3 628.1L1134.1 625.8L1134 623.2L1135.1 621.2L1136.8 620.8M1120.7 693.7L1119.4 690.9L1117.8 689.2M1156.2 708.6L1155 710.1L1154.5 711.6L1150.9 711.7L1149.6 713.7M1089.8 765.6L1092.1 765.3L1092.9 768.6L1091.1 770.6M1097.7 776.4L1098.6 774.8L1101.2 775.1L1103.9 777.2L1105.7 779.7M1157.5 692.6L1159 692.4L1161.5 692.1M1233 683.4L1234.4 683.8L1236.8 685.8L1236.9 689.1L1240.1 690.1L1241.1 692M1103.7 729.5L1102.1 727.8L1102.7 725.7L1102.9 724M1077.3 743.8L1078.2 741.9L1075.3 740.6L1073.7 738.5L1075.1 736.5L1074.7 734.8M1108.9 665.1L1106.9 667.5L1109.1 669.5L1108.8 671.3L1109.6 674.5M1184.7 734.4L1181.8 735.8L1180.6 733.7L1178.9 732.5L1178.7 729.6M1067.8 562.9L1070.9 563.7L1072.2 564.8L1073.9 566.5L1075.2 568.2M1136.6 717L1134.7 715.6L1132.3 715.7M1178.8 602.5L1176.2 603.4L1177 606.5M1099.2 596.1L1099.3 598.2L1101.3 598.2M1083.4 724.9L1085.1 724.4L1086.5 725.1L1088.1 725.7L1087.3 728L1088.9 730M1051.5 639.2L1051.8 642.6L1049.6 644.5L1048.1 644.6M1082.1 761.6L1083.5 759.7L1085.8 758L1085.1 756.4L1085.1 753M1066.3 623L1068.3 624.7L1068.6 627.1L1067.2 628.7M1195.5 655.7L1194 656.1L1191 654.2L1189.3 651.2L1191.9 649.7M1105 694L1105 690.9L1103.1 690.8M1122 779.2L1119 777.3L1116.4 779.2L1116.6 782.3L1115.1 785L1112 784.7M1137.1 563.7L1135.5 562.1L1133.1 562.8L1132.1 565.7L1132.8 567.1M1075.1 696.4L1076.1 695.1L1077.5 692.9L1076.4 690.3M1073 599.1L1074.4 601.6L1074.9 603.1M1179.9 622.6L1177.4 620.3L1175.8 618.9L1177.2 617.5L1177.6 614L1178.5 611.1M1199.8 731.9L1199.8 734.2L1197.3 734.2M1112 694.6L1114.3 695.4L1116.3 696.1L1119.3 697.1M1069.2 603.2L1070.1 599.8L1070.9 597.9L1068.2 596.3L1066.7 594M1071.3 745.8L1070.4 744.4L1069.5 742.6L1068.2 740.5L1067.5 737.6L1067.3 735.7M1069.6 571.6L1067 572L1065.5 568.8L1064 568.3L1060.6 569.2M1211 643.7L1210.3 645.1L1212.5 646.8L1214.4 647.5L1215.9 649.3M1146 588L1143.5 587.5L1140.5 588.1L1138.7 587.1L1137.1 588.2M1077.9 597.8L1079.5 597.6L1082.1 599.4L1083.9 598.4M1054.5 680.6L1055.4 679.4L1056.9 678L1059.2 678L1061.7 679.2M1129.3 607.4L1130.4 610.3L1130.3 613.7L1131.4 615.2M1098 684.5L1099.8 684.9L1102.3 684.6L1102.6 686.9M1090.5 633.6L1090.1 635.3L1091.6 635.7M1153.6 695.9L1155.3 695.9L1157.1 698.2L1156.6 699.7M1074.9 711L1077.4 713.3L1080.6 711.9L1082.1 715L1079.8 716.4L1077.3 714.4M1211.8 621.5L1209.9 620.9L1209.6 618.1L1206.1 618.1M1162 639.1L1159.7 639.6L1157.8 638.9L1157.6 637.3L1158.7 635.5M1157.4 652.5L1160.4 653.7L1162.6 654.6L1162.4 657.1L1159.1 658.1M1107.5 529.4L1110.8 528.5L1111.6 525.6M1183.4 684.2L1180.5 682.7L1179.5 683.8L1177.9 686.9M1186.6 719.1L1184.8 722L1185 724.5L1187.8 725.7L1187.5 729.1L1184.8 729M1186.9 680.5L1187.1 682.5L1189.7 682.2M1153.2 578L1154.8 578.4L1155.8 579.7M1087 719.2L1090.1 717.9L1091 715.4M1144.9 608.5L1144.9 606.5L1143.5 604.1L1143.4 600.9L1145.1 600.3M1195.7 626.1L1195.6 622.5L1198.5 621.3M1105.4 729.8L1106.2 727.6L1104.6 724.8L1105.5 722.9L1107.4 722.9M1211.3 639.6L1209.9 638.3L1210.2 635.6L1210.2 633.9L1211.9 633.2M1202.2 618.4L1199.1 620L1197.9 621.1L1196.8 624.1M1105.3 610.5L1106.5 608.7L1104 606.2L1101.8 606.7M1100.2 676.2L1097.3 676.9L1096.4 674.9L1093.2 673.7L1091.8 675.4L1092.7 677M1092.9 765.5L1095.5 765.3L1099 766M1134 762.9L1135.3 760.7L1136.4 758.2L1137.2 756.7L1138.2 755M1196.7 608.2L1195.1 610.5L1193.2 612.7L1191.5 614.4L1191.6 616.7L1191.3 619.7M1197.1 665.5L1198 664.3L1199.8 664.9L1201.3 665.4M1070.2 699L1069.8 700.5L1068.7 702.4L1065.1 702.2L1064.1 704.4L1062.5 704.8M1152.1 713.8L1153.9 711.2L1154.7 709.4M1061 728.2L1060.8 730.2L1058.5 730.6L1056.7 729.8L1056.8 727.2M1166.8 714.6L1166 716.9L1167.5 720.1L1165 722.1M1209.4 693.5L1208.1 691.3L1209.6 688.9L1212.6 687.8M1073.8 609.6L1071.7 607.6L1069.6 606.6L1067.1 608.6M1156.4 723.4L1157.6 725.4L1157.5 727.8L1154.8 729.4L1152.7 728.5L1149.6 729.3M1203.8 694.7L1202.8 693.2L1205.3 690.8M1068.9 780.9L1066.5 778.3L1066.2 775.8L1066 773.6M1200.6 668.4L1198.7 666.1L1195.2 666L1194.6 667.4L1194.9 670.8M1201.3 603.1L1199.6 601.5L1197.9 601M1137.8 708.2L1139.3 709.4L1140.7 710.9L1142.3 712.1M1087 732.1L1083.8 731.1L1084.7 728L1084.5 725.5L1082.9 724.3L1080 724.8M1133.7 761.3L1132.9 759.5L1130.1 758.8M1118.4 572.5L1117.9 574.5L1116.9 577.4L1118.9 578.9M1095.6 743.7L1095.5 741.5L1096.9 740.2L1097.1 737.5L1096.6 735.6L1093.8 735.7M1146.7 731L1148.1 732.1L1148.9 733.7L1150.2 735.2L1151.4 736.7M1093.7 728.7L1095.5 731.4L1097.4 733.7L1099.6 732.7L1101.1 731.6L1099.2 728.9M1210.2 688.1L1212 690.8L1214 692.9L1215.1 691.9L1216.8 689.5M1098.5 562.6L1100.3 563.1L1103 563.2M1052 732.8L1053.6 731.2L1053.6 727.9M1130.6 678.3L1129.1 677.1L1129.8 675M1190.4 615.2L1187.6 614.8L1186.3 616.2L1187.2 619L1190.7 619L1193.1 618.4M1104.4 648.8L1107.2 650.5L1106.8 652.1L1108.2 653.4L1108 656.3M1180.5 715.2L1179.3 716.3L1177 715.5L1175 714.5L1172.8 716.8L1175 719.4M1138.1 560.2L1137.9 562.7L1139.6 565.8L1139.5 567.7L1138 568M1103.6 709.7L1101.9 707.1L1099.9 707.2M1124.5 556.3L1126.6 554.7L1128.5 554.4L1131 555L1132.9 553.9L1133.1 552M1102.8 679.1L1103.8 680.9L1101.7 682.1L1101.8 684.5L1098.4 685.7L1097.1 687M1088.8 710.5L1087.7 712L1087.9 715.4L1086.4 716.7L1087.8 718.6L1089.4 718M1058.7 745.2L1056.9 742.2L1055 743.1M1073.9 726L1072.7 723.8L1071.9 721.7L1070.1 721.7L1068.9 723.2L1070.1 724.5M1173.7 620.5L1173.1 617.1L1170.8 617L1170.5 615.5L1167.9 615.1L1165.7 617.3M1075.6 762.4L1072.9 760.1L1071 757.9L1068.8 755.5L1066.8 755.9M1084.6 548.4L1086.9 551.1L1090.3 550.3L1093.4 549.4L1095.3 547.9M1138.2 723.7L1139.4 724.9L1138.3 726.1L1135 726.1L1134.7 723.6M1144.8 552.9L1144.8 549.4L1141.3 549.5M1136.4 681.7L1134.4 680.7L1132.4 682.2L1133.2 684.8L1132.8 686.6L1134.9 687M1077.9 772.6L1077 770.6L1076.5 768.6M1126.6 772.6L1128.9 771.2L1131.5 772.9L1134.8 772.6M1093.7 597.2L1093.3 600.3L1094.1 602.6M1080.1 773.5L1081.3 770.2L1078.8 769.1L1077 768.3L1075.2 770.4L1073.5 769.8M1177.6 608L1176.7 610.2L1179 612.4M1129.3 725L1131.5 722.9L1134.1 723.8M1154.3 670.8L1153.2 667.5L1151.1 666.4L1149.1 668.2L1146.1 668.5L1144.2 668.7M1145.6 557.2L1147.1 556.8L1149.6 557.4L1152 558.1L1153.6 555L1152.4 553.1M1207 679.6L1209.6 679L1212.2 680.8L1213.2 682.8M1078.5 661.5L1078 663.6L1079.4 664.3L1079.3 666.7M1189.8 615.6L1192 616.4L1195 617.5L1195.2 620.6L1195.8 623.6L1194.5 625.6M1215.9 619.3L1213.6 620L1211.5 621.2M1184.1 703.4L1182.7 701.8L1181.4 700.8L1182.2 699.4M1134.1 666.4L1135.8 665.3L1135.6 661.8M1105 607.8L1107.7 608.6L1108.7 606.1M1055.9 764.7L1053.8 766.5L1050.6 767.6L1049.5 769.1M1145.2 582.9L1143 582.1L1143.3 579.9L1144.6 578L1147.8 578L1150.4 575.8M1198.1 658L1199.4 655.7L1200.9 654.1L1199.7 651.4M1163.8 682.5L1161.6 680.3L1160.8 678L1159.1 678M1117.4 598.6L1116.3 597.5L1117.6 595.7L1119.2 593.3L1117 591.7" fill="none" stroke="#4a4a4a" stroke-width="0.55" stroke-linejoin="round" stroke-linecap="round"/>
<rect x="901" y="393.5" width="135" height="84.5" fill="#fff"/>
<rect x="722" y="461" width="165.6" height="17" fill="#fff"/>
<rect x="732" y="498.7" width="155.6" height="97.3" fill="#fff"/>
<rect x="901" y="498.7" width="135" height="97.3" fill="#fff"/>
<rect x="969" y="590" width="67" height="22" fill="#fff"/>
<rect x="563" y="582" width="155" height="14" fill="#fff"/>
<rect x="585" y="607" width="451" height="212" fill="#fff"/>
<path d="M549 822 L600 822 L600 827.6 L704 827.6 L704 827.6 L704.7 827.6 L744.5 827.6 L875 827.6 L913 827.6 L1024.5 827.6 L1067.6 822 L1062 862 L1030 862 L1024.5 845 L913 845 L910 862 L879 862 L875 845 L744.5 845 L742 862 L708.6 862 L704.7 845 L600 845 L597 862 L559.3 862Z" fill="url(#gravel)" stroke="#1a1a1a" stroke-width="1.2"/>
<rect x="555" y="819.8" width="513" height="7.8" fill="url(#dots)"/>
<path d="M555 819.8H1050" fill="none" stroke="#1a1a1a" stroke-width="1.3"/>
<path d="M586 819.9H1036" fill="none" stroke="#111" stroke-width="1.4" stroke-dasharray="3.5 2.2"/>
<path d="M549 828.2H1067" fill="none" stroke="#222" stroke-width="1.1"/>
<rect x="569" y="829.8" width="18" height="16.2" fill="#fff" stroke="#444" stroke-width="0.8"/>
<rect x="571" y="831" width="14" height="14" fill="url(#dots)" stroke="#1a1a1a" stroke-width="1.8" rx="1"/>
<rect x="716.5" y="829.8" width="18" height="16.2" fill="#fff" stroke="#444" stroke-width="0.8"/>
<rect x="718.5" y="831" width="14" height="14" fill="url(#dots)" stroke="#1a1a1a" stroke-width="1.8" rx="1"/>
<rect x="885" y="829.8" width="18" height="16.2" fill="#fff" stroke="#444" stroke-width="0.8"/>
<rect x="887" y="831" width="14" height="14" fill="url(#dots)" stroke="#1a1a1a" stroke-width="1.8" rx="1"/>
<rect x="1033" y="829.8" width="18" height="16.2" fill="#fff" stroke="#444" stroke-width="0.8"/>
<rect x="1035" y="831" width="14" height="14" fill="url(#dots)" stroke="#1a1a1a" stroke-width="1.8" rx="1"/>
<rect x="570.5" y="582" width="4.5" height="237.5" fill="url(#insul)"/>
<path d="M570.5 582V819.5" fill="none" stroke="#1a1a1a" stroke-width="1.4"/>
<rect x="575" y="612" width="10.6" height="21" fill="#fff"/><path d="M575 615L578 612M575 618.5L581.5 612M575 622L585 612M575 625.5L585.6 614.9M575 629L585.6 618.4M575 632.5L585.6 621.9M578 633L585.6 625.4M581.5 633L585.6 628.9M585 633L585.6 632.4" stroke="#5a5a5a" stroke-width="0.6"/><rect x="575" y="612" width="10.6" height="21" fill="none" stroke="#1a1a1a" stroke-width="1.0"/>
<rect x="575" y="683" width="10.6" height="33.4" fill="#fff"/><path d="M575 685L577 683M575 688.5L580.5 683M575 692L584 683M575 695.5L585.6 684.9M575 699L585.6 688.4M575 702.5L585.6 691.9M575 706L585.6 695.4M575 709.5L585.6 698.9M575 713L585.6 702.4M575.1 716.4L585.6 705.9M578.6 716.4L585.6 709.4M582.1 716.4L585.6 712.9" stroke="#5a5a5a" stroke-width="0.6"/><rect x="575" y="683" width="10.6" height="33.4" fill="none" stroke="#1a1a1a" stroke-width="1.0"/>
<rect x="575" y="726.3" width="10.6" height="92.7" fill="#fff"/><path d="M575 727L575.7 726.3M575 730.5L579.2 726.3M575 734L582.7 726.3M575 737.5L585.6 726.9M575 741L585.6 730.4M575 744.5L585.6 733.9M575 748L585.6 737.4M575 751.5L585.6 740.9M575 755L585.6 744.4M575 758.5L585.6 747.9M575 762L585.6 751.4M575 765.5L585.6 754.9M575 769L585.6 758.4M575 772.5L585.6 761.9M575 776L585.6 765.4M575 779.5L585.6 768.9M575 783L585.6 772.4M575 786.5L585.6 775.9M575 790L585.6 779.4M575 793.5L585.6 782.9M575 797L585.6 786.4M575 800.5L585.6 789.9M575 804L585.6 793.4M575 807.5L585.6 796.9M575 811L585.6 800.4M575 814.5L585.6 803.9M575 818L585.6 807.4M577.5 819L585.6 810.9M581 819L585.6 814.4M584.5 819L585.6 817.9" stroke="#5a5a5a" stroke-width="0.6"/><rect x="575" y="726.3" width="10.6" height="92.7" fill="none" stroke="#1a1a1a" stroke-width="1.0"/>
<rect x="575" y="582" width="8" height="14" fill="#fff" stroke="#1a1a1a" stroke-width="1.2"/>
<path d="M583.5 582V612" fill="none" stroke="#1a1a1a" stroke-width="2"/>
<rect x="562.4" y="582" width="8.1" height="50" fill="#fff" stroke="#666" stroke-width="0.6"/>
<rect x="562.4" y="683" width="8.1" height="58" fill="#fff" stroke="#666" stroke-width="0.6"/>
<rect x="562.4" y="785" width="8.1" height="34" fill="#fff" stroke="#666" stroke-width="0.6"/>
<rect x="575" y="633" width="39.7" height="50" fill="#fff" stroke="#333" stroke-width="0.8"/>
<path d="M580 636V682M586 636V682M592 636V682M598 636V682M604 636V682M609 636V682" fill="none" stroke="#444" stroke-width="0.7"/>
<path d="M575 635H612V683" fill="none" stroke="#555" stroke-width="0.6"/>
<rect x="718.7" y="461" width="3.8" height="51" fill="url(#insul)"/>
<path d="M718.7 461V512" fill="none" stroke="#1a1a1a" stroke-width="1.2"/>
<rect x="722.5" y="461" width="9.5" height="29" fill="#fff" stroke="#1a1a1a" stroke-width="1"/>
<path d="M716 461H733" fill="none" stroke="#1a1a1a" stroke-width="2.2"/>
<rect x="722.5" y="501.8" width="9.5" height="10.2" fill="#fff"/><path d="M722.5 502.5L723.2 501.8M722.5 506L726.7 501.8M722.5 509.5L730.2 501.8M723.5 512L732 503.5M727 512L732 507M730.5 512L732 510.5" stroke="#5a5a5a" stroke-width="0.6"/><rect x="722.5" y="501.8" width="9.5" height="10.2" fill="none" stroke="#1a1a1a" stroke-width="1.2"/>
<path d="M723.5 512V596M729 512V596" fill="none" stroke="#444" stroke-width="0.8"/>
<path d="M724 512V596" fill="none" stroke="#222" stroke-width="1.4"/>
<rect x="887.6" y="393.5" width="3.9" height="96.5" fill="#999"/>
<path d="M889.5 393.5V490" fill="none" stroke="#eee" stroke-width="0.8" stroke-dasharray="1 1.4"/>
<rect x="891.5" y="393.5" width="9.5" height="96.5" fill="#fff"/><path d="M891.5 396.5L894.5 393.5M891.5 400L898 393.5M891.5 403.5L901 394M891.5 407L901 397.5M891.5 410.5L901 401M891.5 414L901 404.5M891.5 417.5L901 408M891.5 421L901 411.5M891.5 424.5L901 415M891.5 428L901 418.5M891.5 431.5L901 422M891.5 435L901 425.5M891.5 438.5L901 429M891.5 442L901 432.5M891.5 445.5L901 436M891.5 449L901 439.5M891.5 452.5L901 443M891.5 456L901 446.5M891.5 459.5L901 450M891.5 463L901 453.5M891.5 466.5L901 457M891.5 470L901 460.5M891.5 473.5L901 464M891.5 477L901 467.5M891.5 480.5L901 471M891.5 484L901 474.5M891.5 487.5L901 478M892.5 490L901 481.5M896 490L901 485M899.5 490L901 488.5" stroke="#5a5a5a" stroke-width="0.6"/>
<path d="M887.6 393.5V490M901 393.5V490" fill="none" stroke="#1a1a1a" stroke-width="1.2"/>
<rect x="887.6" y="498.7" width="13.4" height="97.3" fill="#fff"/><path d="M887.6 501.9L890.8 498.7M887.6 505.4L894.3 498.7M887.6 508.9L897.8 498.7M887.6 512.4L901 499M887.6 515.9L901 502.5M887.6 519.4L901 506M887.6 522.9L901 509.5M887.6 526.4L901 513M887.6 529.9L901 516.5M887.6 533.4L901 520M887.6 536.9L901 523.5M887.6 540.4L901 527M887.6 543.9L901 530.5M887.6 547.4L901 534M887.6 550.9L901 537.5M887.6 554.4L901 541M887.6 557.9L901 544.5M887.6 561.4L901 548M887.6 564.9L901 551.5M887.6 568.4L901 555M887.6 571.9L901 558.5M887.6 575.4L901 562M887.6 578.9L901 565.5M887.6 582.4L901 569M887.6 585.9L901 572.5M887.6 589.4L901 576M887.6 592.9L901 579.5M888 596L901 583M891.5 596L901 586.5M895 596L901 590M898.5 596L901 593.5" stroke="#5a5a5a" stroke-width="0.6"/><rect x="887.6" y="498.7" width="13.4" height="97.3" fill="none" stroke="#1a1a1a" stroke-width="1.2"/>
<rect x="887.6" y="607" width="13.4" height="109" fill="#fff"/><path d="M887.6 610.4L891 607M887.6 613.9L894.5 607M887.6 617.4L898 607M887.6 620.9L901 607.5M887.6 624.4L901 611M887.6 627.9L901 614.5M887.6 631.4L901 618M887.6 634.9L901 621.5M887.6 638.4L901 625M887.6 641.9L901 628.5M887.6 645.4L901 632M887.6 648.9L901 635.5M887.6 652.4L901 639M887.6 655.9L901 642.5M887.6 659.4L901 646M887.6 662.9L901 649.5M887.6 666.4L901 653M887.6 669.9L901 656.5M887.6 673.4L901 660M887.6 676.9L901 663.5M887.6 680.4L901 667M887.6 683.9L901 670.5M887.6 687.4L901 674M887.6 690.9L901 677.5M887.6 694.4L901 681M887.6 697.9L901 684.5M887.6 701.4L901 688M887.6 704.9L901 691.5M887.6 708.4L901 695M887.6 711.9L901 698.5M887.6 715.4L901 702M890.5 716L901 705.5M894 716L901 709M897.5 716L901 712.5" stroke="#5a5a5a" stroke-width="0.6"/><rect x="887.6" y="607" width="13.4" height="109" fill="none" stroke="#1a1a1a" stroke-width="1.2"/>
<rect x="887.6" y="727" width="13.4" height="92" fill="#fff"/><path d="M887.6 729.4L890 727M887.6 732.9L893.5 727M887.6 736.4L897 727M887.6 739.9L900.5 727M887.6 743.4L901 730M887.6 746.9L901 733.5M887.6 750.4L901 737M887.6 753.9L901 740.5M887.6 757.4L901 744M887.6 760.9L901 747.5M887.6 764.4L901 751M887.6 767.9L901 754.5M887.6 771.4L901 758M887.6 774.9L901 761.5M887.6 778.4L901 765M887.6 781.9L901 768.5M887.6 785.4L901 772M887.6 788.9L901 775.5M887.6 792.4L901 779M887.6 795.9L901 782.5M887.6 799.4L901 786M887.6 802.9L901 789.5M887.6 806.4L901 793M887.6 809.9L901 796.5M887.6 813.4L901 800M887.6 816.9L901 803.5M889 819L901 807M892.5 819L901 810.5M896 819L901 814M899.5 819L901 817.5" stroke="#5a5a5a" stroke-width="0.6"/><rect x="887.6" y="727" width="13.4" height="92" fill="none" stroke="#1a1a1a" stroke-width="1.2"/>
<rect x="891" y="326" width="7" height="67.5" fill="#fff" stroke="#444" stroke-width="0.8"/>
<path d="M891 317H898M891 318.6H898M891 320.2H898M891 321.8H898M891 323.4H898M891 325H898" fill="none" stroke="#333" stroke-width="0.8"/>
<rect x="1036" y="383.8" width="9.5" height="436.2" fill="#fff"/><path d="M1036 385L1037.2 383.8M1036 388.5L1040.7 383.8M1036 392L1044.2 383.8M1036 395.5L1045.5 386M1036 399L1045.5 389.5M1036 402.5L1045.5 393M1036 406L1045.5 396.5M1036 409.5L1045.5 400M1036 413L1045.5 403.5M1036 416.5L1045.5 407M1036 420L1045.5 410.5M1036 423.5L1045.5 414M1036 427L1045.5 417.5M1036 430.5L1045.5 421M1036 434L1045.5 424.5M1036 437.5L1045.5 428M1036 441L1045.5 431.5M1036 444.5L1045.5 435M1036 448L1045.5 438.5M1036 451.5L1045.5 442M1036 455L1045.5 445.5M1036 458.5L1045.5 449M1036 462L1045.5 452.5M1036 465.5L1045.5 456M1036 469L1045.5 459.5M1036 472.5L1045.5 463M1036 476L1045.5 466.5M1036 479.5L1045.5 470M1036 483L1045.5 473.5M1036 486.5L1045.5 477M1036 490L1045.5 480.5M1036 493.5L1045.5 484M1036 497L1045.5 487.5M1036 500.5L1045.5 491M1036 504L1045.5 494.5M1036 507.5L1045.5 498M1036 511L1045.5 501.5M1036 514.5L1045.5 505M1036 518L1045.5 508.5M1036 521.5L1045.5 512M1036 525L1045.5 515.5M1036 528.5L1045.5 519M1036 532L1045.5 522.5M1036 535.5L1045.5 526M1036 539L1045.5 529.5M1036 542.5L1045.5 533M1036 546L1045.5 536.5M1036 549.5L1045.5 540M1036 553L1045.5 543.5M1036 556.5L1045.5 547M1036 560L1045.5 550.5M1036 563.5L1045.5 554M1036 567L1045.5 557.5M1036 570.5L1045.5 561M1036 574L1045.5 564.5M1036 577.5L1045.5 568M1036 581L1045.5 571.5M1036 584.5L1045.5 575M1036 588L1045.5 578.5M1036 591.5L1045.5 582M1036 595L1045.5 585.5M1036 598.5L1045.5 589M1036 602L1045.5 592.5M1036 605.5L1045.5 596M1036 609L1045.5 599.5M1036 612.5L1045.5 603M1036 616L1045.5 606.5M1036 619.5L1045.5 610M1036 623L1045.5 613.5M1036 626.5L1045.5 617M1036 630L1045.5 620.5M1036 633.5L1045.5 624M1036 637L1045.5 627.5M1036 640.5L1045.5 631M1036 644L1045.5 634.5M1036 647.5L1045.5 638M1036 651L1045.5 641.5M1036 654.5L1045.5 645M1036 658L1045.5 648.5M1036 661.5L1045.5 652M1036 665L1045.5 655.5M1036 668.5L1045.5 659M1036 672L1045.5 662.5M1036 675.5L1045.5 666M1036 679L1045.5 669.5M1036 682.5L1045.5 673M1036 686L1045.5 676.5M1036 689.5L1045.5 680M1036 693L1045.5 683.5M1036 696.5L1045.5 687M1036 700L1045.5 690.5M1036 703.5L1045.5 694M1036 707L1045.5 697.5M1036 710.5L1045.5 701M1036 714L1045.5 704.5M1036 717.5L1045.5 708M1036 721L1045.5 711.5M1036 724.5L1045.5 715M1036 728L1045.5 718.5M1036 731.5L1045.5 722M1036 735L1045.5 725.5M1036 738.5L1045.5 729M1036 742L1045.5 732.5M1036 745.5L1045.5 736M1036 749L1045.5 739.5M1036 752.5L1045.5 743M1036 756L1045.5 746.5M1036 759.5L1045.5 750M1036 763L1045.5 753.5M1036 766.5L1045.5 757M1036 770L1045.5 760.5M1036 773.5L1045.5 764M1036 777L1045.5 767.5M1036 780.5L1045.5 771M1036 784L1045.5 774.5M1036 787.5L1045.5 778M1036 791L1045.5 781.5M1036 794.5L1045.5 785M1036 798L1045.5 788.5M1036 801.5L1045.5 792M1036 805L1045.5 795.5M1036 808.5L1045.5 799M1036 812L1045.5 802.5M1036 815.5L1045.5 806M1036 819L1045.5 809.5M1038.5 820L1045.5 813M1042 820L1045.5 816.5" stroke="#5a5a5a" stroke-width="0.6"/>
<rect x="1045.5" y="383.8" width="5" height="436.2" fill="#777"/>
<path d="M1047.5 384V820" fill="none" stroke="#ddd" stroke-width="0.8" stroke-dasharray="1 1.5"/>
<path d="M1036 393.5V820M1045.5 393.5V820" fill="none" stroke="#1a1a1a" stroke-width="1.2"/>
<path d="M1050.5 383.8V822" fill="none" stroke="#1a1a1a" stroke-width="1.4"/>
<rect x="718.7" y="727" width="12.5" height="92" fill="#fff"/><path d="M718.7 730.3L722 727M718.7 733.8L725.5 727M718.7 737.3L729 727M718.7 740.8L731.2 728.3M718.7 744.3L731.2 731.8M718.7 747.8L731.2 735.3M718.7 751.3L731.2 738.8M718.7 754.8L731.2 742.3M718.7 758.3L731.2 745.8M718.7 761.8L731.2 749.3M718.7 765.3L731.2 752.8M718.7 768.8L731.2 756.3M718.7 772.3L731.2 759.8M718.7 775.8L731.2 763.3M718.7 779.3L731.2 766.8M718.7 782.8L731.2 770.3M718.7 786.3L731.2 773.8M718.7 789.8L731.2 777.3M718.7 793.3L731.2 780.8M718.7 796.8L731.2 784.3M718.7 800.3L731.2 787.8M718.7 803.8L731.2 791.3M718.7 807.3L731.2 794.8M718.7 810.8L731.2 798.3M718.7 814.3L731.2 801.8M718.7 817.8L731.2 805.3M721 819L731.2 808.8M724.5 819L731.2 812.3M728 819L731.2 815.8" stroke="#5a5a5a" stroke-width="0.6"/><rect x="718.7" y="727" width="12.5" height="92" fill="none" stroke="#1a1a1a" stroke-width="1.2"/>
<rect x="842.7" y="727" width="6.3" height="92" fill="#fff"/><path d="M842.7 728.8L844.5 727M842.7 732.3L848 727M842.7 735.8L849 729.5M842.7 739.3L849 733M842.7 742.8L849 736.5M842.7 746.3L849 740M842.7 749.8L849 743.5M842.7 753.3L849 747M842.7 756.8L849 750.5M842.7 760.3L849 754M842.7 763.8L849 757.5M842.7 767.3L849 761M842.7 770.8L849 764.5M842.7 774.3L849 768M842.7 777.8L849 771.5M842.7 781.3L849 775M842.7 784.8L849 778.5M842.7 788.3L849 782M842.7 791.8L849 785.5M842.7 795.3L849 789M842.7 798.8L849 792.5M842.7 802.3L849 796M842.7 805.8L849 799.5M842.7 809.3L849 803M842.7 812.8L849 806.5M842.7 816.3L849 810M843.5 819L849 813.5M847 819L849 817" stroke="#5a5a5a" stroke-width="0.6"/><rect x="842.7" y="727" width="6.3" height="92" fill="none" stroke="#1a1a1a" stroke-width="1.0"/>
<rect x="965" y="498.7" width="4.5" height="97.3" fill="#fff"/><path d="M965 498.8L965.1 498.7M965 501.4L967.7 498.7M965 504L969.5 499.5M965 506.6L969.5 502.1M965 509.2L969.5 504.7M965 511.8L969.5 507.3M965 514.4L969.5 509.9M965 517L969.5 512.5M965 519.6L969.5 515.1M965 522.2L969.5 517.7M965 524.8L969.5 520.3M965 527.4L969.5 522.9M965 530L969.5 525.5M965 532.6L969.5 528.1M965 535.2L969.5 530.7M965 537.8L969.5 533.3M965 540.4L969.5 535.9M965 543L969.5 538.5M965 545.6L969.5 541.1M965 548.2L969.5 543.7M965 550.8L969.5 546.3M965 553.4L969.5 548.9M965 556L969.5 551.5M965 558.6L969.5 554.1M965 561.2L969.5 556.7M965 563.8L969.5 559.3M965 566.4L969.5 561.9M965 569L969.5 564.5M965 571.6L969.5 567.1M965 574.2L969.5 569.7M965 576.8L969.5 572.3M965 579.4L969.5 574.9M965 582L969.5 577.5M965 584.6L969.5 580.1M965 587.2L969.5 582.7M965 589.8L969.5 585.3M965 592.4L969.5 587.9M965 595L969.5 590.5M966.6 596L969.5 593.1M969.2 596L969.5 595.7" stroke="#5a5a5a" stroke-width="0.6"/><rect x="965" y="498.7" width="4.5" height="97.3" fill="none" stroke="#1a1a1a" stroke-width="1.0"/>
<rect x="841.4" y="383.8" width="194.6" height="9.7" fill="url(#concrete)"/>
<path d="M841.4 384.3H1051" fill="none" stroke="#1a1a1a" stroke-width="2.6"/>
<path d="M841.4 393.5H1036" fill="none" stroke="#1a1a1a" stroke-width="1.2"/>
<path d="M841.4 384V393.5" fill="none" stroke="#1a1a1a" stroke-width="1.2"/>
<rect x="732" y="478" width="304" height="21" fill="#fff"/>
<path d="M732 478.6H974" fill="none" stroke="#1a1a1a" stroke-width="1.6" stroke-dasharray="4 2.5"/>
<rect x="732" y="481" width="242" height="6" fill="url(#insul)"/>
<path d="M732 481H974M732 487H974" fill="none" stroke="#333" stroke-width="0.8"/>
<rect x="718.7" y="490" width="317.3" height="8.7" fill="url(#dots)"/>
<path d="M718.7 490H980M718.7 498.7H1036" fill="none" stroke="#1a1a1a" stroke-width="1.3"/>
<rect x="571" y="596.2" width="398.5" height="10.9" fill="url(#dots)"/>
<path d="M583 596.4H969.5" fill="none" stroke="#1a1a1a" stroke-width="2"/>
<path d="M585 607.1H969.5" fill="none" stroke="#1a1a1a" stroke-width="1.2"/>
<path d="M969.5 596.2V607.1" fill="none" stroke="#1a1a1a" stroke-width="1"/>
<rect x="571" y="716.2" width="330" height="10.9" fill="url(#dots)"/>
<path d="M585 716.4H901" fill="none" stroke="#1a1a1a" stroke-width="2"/>
<path d="M585 727.1H901" fill="none" stroke="#1a1a1a" stroke-width="1.2"/>
<rect x="901" y="705" width="48.7" height="9.3" fill="url(#dots)" stroke="#1a1a1a" stroke-width="1"/>
<path d="M901 705H949.7" fill="none" stroke="#1a1a1a" stroke-width="1.8"/>
<rect x="901" y="796.7" width="66.5" height="20.3" fill="url(#concrete)" stroke="#1a1a1a" stroke-width="1"/>
<path d="M901 796.7H960" fill="none" stroke="#1a1a1a" stroke-width="1.6"/>
<rect x="887.6" y="478" width="3.9" height="12" fill="#999"/>
<rect x="891.5" y="478" width="9.5" height="12" fill="#fff"/><path d="M891.5 480.5L894 478M891.5 484L897.5 478M891.5 487.5L901 478M892.5 490L901 481.5M896 490L901 485M899.5 490L901 488.5" stroke="#5a5a5a" stroke-width="0.6"/>
<path d="M887.6 478V490M901 478V490" fill="none" stroke="#1a1a1a" stroke-width="1.2"/>
<path d="M585 594.8H969.5" fill="none" stroke="#666" stroke-width="2.2" stroke-dasharray="9 3"/>
<path d="M585 714.8H901" fill="none" stroke="#666" stroke-width="2.2" stroke-dasharray="9 3"/>
<rect x="574.6" y="599.8" width="7.8" height="10" fill="#fff" stroke="#1a1a1a" stroke-width="2.3" rx="2.6"/>
<path d="M573.5 609.8H583.5" fill="none" stroke="#1a1a1a" stroke-width="1.6"/>
<rect x="723.1" y="599.8" width="7.8" height="10" fill="#fff" stroke="#1a1a1a" stroke-width="2.3" rx="2.6"/>
<path d="M722 609.8H732" fill="none" stroke="#1a1a1a" stroke-width="1.6"/>
<rect x="890.1" y="599.8" width="7.8" height="10" fill="#fff" stroke="#1a1a1a" stroke-width="2.3" rx="2.6"/>
<path d="M889 609.8H899" fill="none" stroke="#1a1a1a" stroke-width="1.6"/>
<rect x="1037.6" y="600" width="7.8" height="10" fill="#fff" stroke="#1a1a1a" stroke-width="2.3" rx="2.6"/>
<path d="M1036.5 610H1046.5" fill="none" stroke="#1a1a1a" stroke-width="1.6"/>
<rect x="723.1" y="490.3" width="7.8" height="10" fill="#fff" stroke="#1a1a1a" stroke-width="2.3" rx="2.6"/>
<path d="M722 500.3H732" fill="none" stroke="#1a1a1a" stroke-width="1.6"/>
<rect x="890.1" y="490.3" width="7.8" height="10" fill="#fff" stroke="#1a1a1a" stroke-width="2.3" rx="2.6"/>
<path d="M889 500.3H899" fill="none" stroke="#1a1a1a" stroke-width="1.6"/>
<rect x="1037.6" y="490.6" width="7.8" height="10" fill="#fff" stroke="#1a1a1a" stroke-width="2.3" rx="2.6"/>
<path d="M1036.5 500.6H1046.5" fill="none" stroke="#1a1a1a" stroke-width="1.6"/>
<rect x="576.1" y="718.8" width="7.8" height="10" fill="#fff" stroke="#1a1a1a" stroke-width="2.3" rx="2.6"/>
<path d="M575 728.8H585" fill="none" stroke="#1a1a1a" stroke-width="1.6"/>
<rect x="722.1" y="718.8" width="7.8" height="10" fill="#fff" stroke="#1a1a1a" stroke-width="2.3" rx="2.6"/>
<path d="M721 728.8H731" fill="none" stroke="#1a1a1a" stroke-width="1.6"/>
<rect x="890.1" y="718.8" width="7.8" height="10" fill="#fff" stroke="#1a1a1a" stroke-width="2.3" rx="2.6"/>
<path d="M889 728.8H899" fill="none" stroke="#1a1a1a" stroke-width="1.6"/>
<rect x="1037.6" y="719" width="7.8" height="10" fill="#fff" stroke="#1a1a1a" stroke-width="2.3" rx="2.6"/>
<path d="M1036.5 729H1046.5" fill="none" stroke="#1a1a1a" stroke-width="1.6"/>
<path d="M950.6 705V698.2H961.3V691.3H971.9V684.5H982.6V677.7H993.3V670.9H1004V664H1014.6V657.2H1025.3V650.4H1036 V659.4 Q990 672 949.5 714.3Z" fill="url(#dots)" stroke="#1a1a1a" stroke-width="1.1"/>
<path d="M957.4 796.2V791.2H968.6V786.3H979.9V781.3H991.1V776.3H1002.3V771.3H1013.5V766.4H1024.8V761.4H1036 V767 Q995 776 968.6 796.2Z" fill="url(#dots)" stroke="#1a1a1a" stroke-width="1.1"/>
<path d="M968.6 796.2V817" fill="none" stroke="#1a1a1a" stroke-width="1"/>
<path d="M973.6 487 L1036 517.4 V525 Q1000 519 973.6 498Z" fill="url(#dots)"/>
<path d="M973.6 498 Q1000 519 1036 525" fill="none" stroke="#1a1a1a" stroke-width="1.2"/>
<path d="M973.6 487H984V492.1H994.4V497.1H1004.8V502.2H1015.2V507.3H1025.6V512.4H1036V517.4" fill="none" stroke="#1a1a1a" stroke-width="1.1"/>
<path d="M998.8 613.5H1036M998.8 617.9H1036M998.8 622.3H1036M998.8 626.7H1036M998.8 631.1H1036M998.8 635.5H1036M998.8 639.9H1036M998.8 644.3H1036M998.8 648.7H1036" fill="none" stroke="#444" stroke-width="0.8"/>
<path d="M998.8 721H1036M998.8 725.5H1036M998.8 730H1036M998.8 734.5H1036M998.8 739H1036M998.8 743.5H1036M998.8 748H1036M998.8 752.5H1036M998.8 757H1036" fill="none" stroke="#444" stroke-width="0.8"/>
<path d="M999 612H1019V615" fill="none" stroke="#666" stroke-width="0.7"/>
<path d="M999 716H1020V720" fill="none" stroke="#666" stroke-width="0.7"/>
<path d="M999 498V819" fill="none" stroke="#777" stroke-width="0.6"/>
<path d="M980 498Q995 515 999 545" fill="none" stroke="#777" stroke-width="0.6"/>
<path d="M999 570L1036 553M999 576L1025 590" fill="none" stroke="#666" stroke-width="0.7"/>
<rect x="921" y="395.5" width="115" height="80.5" fill="none" stroke="#444" stroke-width="0.7"/>
<rect x="930" y="395.5" width="28" height="80.5" fill="none" stroke="#444" stroke-width="0.8"/>
<rect x="932" y="397.5" width="24" height="78.5" fill="none" stroke="#888" stroke-width="0.5"/>
<rect x="964" y="395.5" width="28.5" height="80.5" fill="none" stroke="#444" stroke-width="0.8"/>
<rect x="966" y="397.5" width="24.5" height="78.5" fill="none" stroke="#888" stroke-width="0.5"/>
<rect x="1000" y="395.5" width="32" height="80.5" fill="none" stroke="#444" stroke-width="0.8"/>
<rect x="1002" y="397.5" width="28" height="78.5" fill="none" stroke="#888" stroke-width="0.5"/>
<path d="M901 476H1036" fill="none" stroke="#555" stroke-width="0.7"/>
<rect x="974" y="440" width="62" height="37" fill="none" stroke="#555" stroke-width="0.8"/>
<rect x="949" y="449" width="29" height="28" fill="none" stroke="#555" stroke-width="0.8"/>
<path d="M954 449V477M973 449V477M976 440V477M1010 440V477M1022 447V477M980 447H1030" fill="none" stroke="#666" stroke-width="0.7"/>
<path d="M722 440.3H887M722 450.8H887M722 461H887" fill="none" stroke="#555" stroke-width="0.9"/>
<path d="M724 440V478M883 395V478" fill="none" stroke="#666" stroke-width="0.8"/>
<path d="M869.3 373.3V409.4H909" fill="none" stroke="none" stroke-width="0"/>
<rect x="757" y="522.4" width="28" height="16.4" fill="none" stroke="#555" stroke-width="0.8"/>
<rect x="834.2" y="522.4" width="28.8" height="16.4" fill="none" stroke="#555" stroke-width="0.8"/>
<rect x="793.3" y="554.4" width="32.3" height="18.4" fill="none" stroke="#444" stroke-width="0.9"/>
<rect x="732" y="574.4" width="155" height="17.1" fill="none" stroke="#444" stroke-width="0.9"/>
<path d="M732 583H887M758 574.4V591.5M779 574.4V591.5M840 574.4V591.5M862 574.4V591.5" fill="none" stroke="#555" stroke-width="0.7"/>
<path d="M780 574.4Q810 570 840 574.4" fill="none" stroke="#666" stroke-width="0.7"/>
<path d="M568 562.3H718M568 572.2H718M568 582H718" fill="none" stroke="#555" stroke-width="0.9"/>
<path d="M563 582V596" fill="none" stroke="#666" stroke-width="0.7"/>
<rect x="752.3" y="625" width="114.7" height="91" fill="none" stroke="#555" stroke-width="0.8"/>
<rect x="752.3" y="628" width="52.7" height="88" fill="none" stroke="#555" stroke-width="0.7"/>
<rect x="768" y="633" width="33" height="83" fill="none" stroke="#444" stroke-width="0.9"/>
<rect x="772" y="637" width="25" height="79" fill="none" stroke="#888" stroke-width="0.6"/>
<rect x="823.5" y="637" width="42.5" height="24.5" fill="none" stroke="#555" stroke-width="0.8"/>
<rect x="825.6" y="684" width="40.9" height="32" fill="none" stroke="#444" stroke-width="0.9"/>
<path d="M825.6 690H866.5M825.6 701H866.5M846 684V716" fill="none" stroke="#555" stroke-width="0.8"/>
<rect x="773" y="683" width="15" height="33" fill="none" stroke="#444" stroke-width="0.8"/>
<path d="M793 700H810V716M806 685V716" fill="none" stroke="#555" stroke-width="0.8"/>
<path d="M849 699H862M852 699V716M859 699V716" fill="none" stroke="#555" stroke-width="0.8"/>
<rect x="633" y="688" width="40" height="28" fill="none" stroke="#444" stroke-width="0.8"/>
<path d="M633 692H663M643 692V716M655 688V716M663 692V716M663 700H673M663 708H673" fill="none" stroke="#555" stroke-width="0.7"/>
<path d="M622 616.5H674M633 621H663" fill="none" stroke="#444" stroke-width="0.7"/>
<path d="M635 617H660" fill="none" stroke="#222" stroke-width="1.4" stroke-dasharray="3.5 2"/>
<path d="M885 610V716" fill="none" stroke="#666" stroke-width="0.6"/>
<rect x="913.6" y="641.5" width="31.4" height="63.5" fill="none" stroke="#888" stroke-width="0.8"/>
<rect x="917" y="645" width="25" height="60" fill="none" stroke="#aaa" stroke-width="0.6"/>
<path d="M907 607V705M913 607V705" fill="none" stroke="#555" stroke-width="0.8"/>
<path d="M930.4 607V705M942.8 607V705M956.2 607V714.5M982 612V714.5M956.2 607.8H978Q982 607.8 982 612" fill="none" stroke="#888" stroke-width="0.6"/>
<rect x="776.4" y="743.4" width="26.6" height="75.6" fill="none" stroke="#666" stroke-width="0.8"/>
<rect x="780" y="746" width="18" height="73" fill="none" stroke="#999" stroke-width="0.5"/>
<rect x="783" y="749" width="13" height="40" fill="none" stroke="#444" stroke-width="0.9"/>
<rect x="783" y="794" width="13" height="16" fill="none" stroke="#444" stroke-width="0.9"/>
<rect x="852" y="743.4" width="32.9" height="66.6" fill="none" stroke="#666" stroke-width="0.8"/>
<rect x="855" y="746" width="27" height="64" fill="none" stroke="#999" stroke-width="0.5"/>
<rect x="860" y="750" width="17" height="38" fill="none" stroke="#444" stroke-width="0.9"/>
<rect x="860" y="795" width="17" height="15" fill="none" stroke="#444" stroke-width="0.9"/>
<rect x="849" y="810" width="39" height="9" fill="#fff"/><path d="M849 813L852 810M849 816L855 810M849 819L858 810M852 819L861 810M855 819L864 810M858 819L867 810M861 819L870 810M864 819L873 810M867 819L876 810M870 819L879 810M873 819L882 810M876 819L885 810M879 819L888 810M882 819L888 813M885 819L888 816" stroke="#5a5a5a" stroke-width="0.6"/><rect x="849" y="810" width="39" height="9" fill="none" stroke="#1a1a1a" stroke-width="1"/>
<path d="M749.6 478V819M761.6 607V819M918.4 317V819M947 498V705M947 727V819M597 607V716" fill="none" stroke="#555" stroke-width="0.6"/>
<path d="M918.4 317V321M915 317H922" fill="none" stroke="#333" stroke-width="0.8"/>
<path d="M732.3 663V693" fill="none" stroke="#333" stroke-width="0.9"/>
<path d="M714 607V716M732.3 607V716" fill="none" stroke="#666" stroke-width="0.6"/>
<rect x="1050.5" y="799" width="33.5" height="24" fill="#fff"/><path d="M1050.5 801L1052.5 799M1050.5 804.5L1056 799M1050.5 808L1059.5 799M1050.5 811.5L1063 799M1050.5 815L1066.5 799M1050.5 818.5L1070 799M1050.5 822L1073.5 799M1053 823L1077 799M1056.5 823L1080.5 799M1060 823L1084 799M1063.5 823L1084 802.5M1067 823L1084 806M1070.5 823L1084 809.5M1074 823L1084 813M1077.5 823L1084 816.5M1081 823L1084 820" stroke="#5a5a5a" stroke-width="0.6"/><rect x="1050.5" y="799" width="33.5" height="24" fill="none" stroke="#1a1a1a" stroke-width="1.3"/>
<path d="M1050.5 799H1084" fill="none" stroke="#1a1a1a" stroke-width="1.6"/>
<path d="M772 716L774 700H786L788 716M774 700V684H786V700M793 716L795 700H806L808 716M806 700L808 683M781 695H801V716" fill="none" stroke="#555" stroke-width="0.8"/>
<path d="M790.5 310.8H802.5L796.5 317.2Z" fill="none" stroke="#666" stroke-width="0.75"/>
<path d="M791.9 317.4H801.1" fill="none" stroke="#666" stroke-width="0.75"/>
<text font-size="9.8" transform="translate(796.5 310.6) scale(0.93 1)" fill="#111" stroke="#111" stroke-width="0.2">+11,48</text>
<path d="M790.5 377.3H802.5L796.5 383.7Z" fill="none" stroke="#666" stroke-width="0.75"/>
<path d="M791.9 383.9H801.1" fill="none" stroke="#666" stroke-width="0.75"/>
<text font-size="9.8" transform="translate(796.5 377.1) scale(0.93 1)" fill="#111" stroke="#111" stroke-width="0.2">+9,58</text>
<path d="M790.5 470.4H802.5L796.5 476.8Z" fill="none" stroke="#666" stroke-width="0.75"/>
<path d="M791.9 477H801.1" fill="none" stroke="#666" stroke-width="0.75"/>
<text font-size="9.8" transform="translate(796.5 470.2) scale(0.93 1)" fill="#111" stroke="#111" stroke-width="0.2">+6,88</text>
<path d="M796.5 498.2L802.5 504.6H790.5Z" fill="none" stroke="#666" stroke-width="0.75"/>
<path d="M790.5 504.8H802.5" fill="none" stroke="#666" stroke-width="0.75"/>
<text font-size="9.8" transform="translate(796.5 512.8) scale(0.93 1)" fill="#111" stroke="#111" stroke-width="0.2">+6,25</text>
<path d="M790.5 592.2H802.5L796.5 598.6Z" fill="none" stroke="#666" stroke-width="0.75"/>
<path d="M791.9 598.8H801.1" fill="none" stroke="#666" stroke-width="0.75"/>
<text font-size="9.8" transform="translate(796.5 592) scale(0.93 1)" fill="#111" stroke="#111" stroke-width="0.2">+3,35</text>
<path d="M796.5 607.5L802.5 613.9H790.5Z" fill="none" stroke="#666" stroke-width="0.75"/>
<path d="M790.5 614.1H802.5" fill="none" stroke="#666" stroke-width="0.75"/>
<text font-size="9.8" transform="translate(796.5 622.1) scale(0.93 1)" fill="#111" stroke="#111" stroke-width="0.2">+3,10</text>
<text font-size="9.8" transform="translate(796.5 711.2) scale(0.93 1)" fill="#111" stroke="#111" stroke-width="0.2">-0,10</text>
<path d="M796.5 727.4L802.5 733.8H790.5Z" fill="none" stroke="#666" stroke-width="0.75"/>
<path d="M790.5 734H802.5" fill="none" stroke="#666" stroke-width="0.75"/>
<text font-size="9.8" transform="translate(796.5 742) scale(0.93 1)" fill="#111" stroke="#111" stroke-width="0.2">-0,35</text>
<path d="M790.5 810.4H802.5L796.5 816.8Z" fill="none" stroke="#666" stroke-width="0.75"/>
<path d="M791.9 817H801.1" fill="none" stroke="#666" stroke-width="0.75"/>
<text font-size="9.8" transform="translate(796.5 810.2) scale(0.93 1)" fill="#111" stroke="#111" stroke-width="0.2">-2,95</text>
<path d="M796.5 820.5L802.5 826.9H790.5Z" fill="none" stroke="#666" stroke-width="0.75"/>
<path d="M790.5 827.1H802.5" fill="none" stroke="#666" stroke-width="0.75"/>
<text font-size="9.8" transform="translate(796.5 835.1) scale(0.93 1)" fill="#111" stroke="#111" stroke-width="0.2">-3,05</text>
<path d="M1078.5 310.9H1090.5L1084.5 317.3Z" fill="none" stroke="#666" stroke-width="0.75"/>
<path d="M1079.9 317.5H1089.1" fill="none" stroke="#666" stroke-width="0.75"/>
<text font-size="9.8" transform="translate(1084.5 310.7) scale(0.93 1)" fill="#111" stroke="#111" stroke-width="0.2">+11,48</text>
<path d="M1078.5 377.2H1090.5L1084.5 383.6Z" fill="none" stroke="#666" stroke-width="0.75"/>
<path d="M1079.9 383.8H1089.1" fill="none" stroke="#666" stroke-width="0.75"/>
<text font-size="9.8" transform="translate(1084.5 377) scale(0.93 1)" fill="#111" stroke="#111" stroke-width="0.2">+9,58</text>
<path d="M1084.5 394L1090.5 400.4H1078.5Z" fill="none" stroke="#666" stroke-width="0.75"/>
<path d="M1078.5 400.6H1090.5" fill="none" stroke="#666" stroke-width="0.75"/>
<text font-size="9.8" transform="translate(1084.5 408.6) scale(0.93 1)" fill="#111" stroke="#111" stroke-width="0.2">+9,28</text>
<path d="M1078.5 497.8H1090.5L1084.5 504.2Z" fill="none" stroke="#666" stroke-width="0.75"/>
<path d="M1079.9 504.4H1089.1" fill="none" stroke="#666" stroke-width="0.75"/>
<text font-size="9.8" transform="translate(1084.5 497.6) scale(0.93 1)" fill="#111" stroke="#111" stroke-width="0.2">+6,07</text>
<text font-size="9.8" transform="translate(1084.5 619.1) scale(0.93 1)" fill="#111" stroke="#111" stroke-width="0.2">+2,58</text>
<text font-size="9.8" transform="translate(1084.5 661.3) scale(0.93 1)" fill="#111" stroke="#111" stroke-width="0.2">+1,35</text>
<text font-size="9.8" transform="translate(1084.5 720) scale(0.93 1)" fill="#111" stroke="#111" stroke-width="0.2">-0,34</text>
<text font-size="9.8" transform="translate(1084.5 760.6) scale(0.93 1)" fill="#111" stroke="#111" stroke-width="0.2">-1,62</text>
<path d="M1078.5 790.8H1090.5L1084.5 797.2Z" fill="none" stroke="#666" stroke-width="0.75"/>
<path d="M1079.9 797.4H1089.1" fill="none" stroke="#666" stroke-width="0.75"/>
<text font-size="9.8" transform="translate(1084.5 790.6) scale(0.93 1)" fill="#111" stroke="#111" stroke-width="0.2">-2,40</text>
<path d="M487.6 433.8H499.6L493.6 440.2Z" fill="none" stroke="#666" stroke-width="0.75"/>
<path d="M489 440.4H498.2" fill="none" stroke="#666" stroke-width="0.75"/>
<text font-size="9.8" transform="translate(493.6 433.6) scale(0.93 1)" fill="#111" stroke="#111" stroke-width="0.2">+7,94</text>
<path d="M522.3 454.3H534.3L528.3 460.7Z" fill="none" stroke="#666" stroke-width="0.75"/>
<path d="M523.7 460.9H532.9" fill="none" stroke="#666" stroke-width="0.75"/>
<text font-size="9.8" transform="translate(528.3 454.1) scale(0.93 1)" fill="#111" stroke="#111" stroke-width="0.2">+7,34</text>
<path d="M487.6 470.4H499.6L493.6 476.8Z" fill="none" stroke="#666" stroke-width="0.75"/>
<path d="M489 477H498.2" fill="none" stroke="#666" stroke-width="0.75"/>
<text font-size="9.8" transform="translate(493.6 470.2) scale(0.93 1)" fill="#111" stroke="#111" stroke-width="0.2">+6,88</text>
<path d="M493.6 497.6L499.6 504H487.6Z" fill="none" stroke="#666" stroke-width="0.75"/>
<path d="M487.6 504.2H499.6" fill="none" stroke="#666" stroke-width="0.75"/>
<text font-size="9.8" transform="translate(493.6 512.2) scale(0.93 1)" fill="#111" stroke="#111" stroke-width="0.2">+6,27</text>
<text font-size="9.8" transform="translate(493.6 553.6) scale(0.93 1)" fill="#111" stroke="#111" stroke-width="0.2">+4,45</text>
<text font-size="9.8" transform="translate(527.8 575.1) scale(0.93 1)" fill="#111" stroke="#111" stroke-width="0.2">+3,85</text>
<text font-size="9.8" transform="translate(493.6 592.3) scale(0.93 1)" fill="#111" stroke="#111" stroke-width="0.2">+3,35</text>
<text font-size="9.8" transform="translate(528.4 677.2) scale(0.93 1)" fill="#111" stroke="#111" stroke-width="0.2">+0,90</text>
<text font-size="9.8" transform="translate(493.6 711.6) scale(0.93 1)" fill="#111" stroke="#111" stroke-width="0.2">-0,10</text>
<text font-size="9.8" transform="translate(528 759.1) scale(0.93 1)" fill="#111" stroke="#111" stroke-width="0.2">-0,85</text>
<path d="M522 779.2H534L528 785.6Z" fill="none" stroke="#666" stroke-width="0.75"/>
<path d="M523.4 785.8H532.6" fill="none" stroke="#666" stroke-width="0.75"/>
<text font-size="9.8" transform="translate(528 779) scale(0.93 1)" fill="#111" stroke="#111" stroke-width="0.2">-2,05</text>
<path d="M487.6 813H499.6L493.6 819.4Z" fill="none" stroke="#666" stroke-width="0.75"/>
<path d="M489 819.6H498.2" fill="none" stroke="#666" stroke-width="0.75"/>
<text font-size="9.8" transform="translate(493.6 812.8) scale(0.93 1)" fill="#111" stroke="#111" stroke-width="0.2">-3,05</text>
<path d="M934 698.5H946L940 704.9Z" fill="none" stroke="#666" stroke-width="0.75"/>
<path d="M935.4 705.1H944.6" fill="none" stroke="#666" stroke-width="0.75"/>
<text font-size="9.8" transform="translate(947.5 698.3) scale(0.93 1)" fill="#111" stroke="#111" stroke-width="0.2">+0,30</text>
<path d="M934 789.2H946L940 795.6Z" fill="none" stroke="#666" stroke-width="0.75"/>
<path d="M935.4 795.8H944.6" fill="none" stroke="#666" stroke-width="0.75"/>
<text font-size="9.8" transform="translate(945.8 789) scale(0.93 1)" fill="#111" stroke="#111" stroke-width="0.2">-2,36</text>
<text font-size="10" font-weight="bold" text-anchor="start" transform="translate(303 482.2) scale(0.81 1)" fill="#111">Rooftop</text>
<path d="M303 486.5H476.5" fill="none" stroke="#444" stroke-width="0.8" stroke-dasharray="5.5 5"/>
<text font-size="10" font-weight="bold" text-anchor="start" transform="translate(303 591) scale(0.81 1)" fill="#111">First Floor</text>
<path d="M303 595.3H455.5" fill="none" stroke="#444" stroke-width="0.8" stroke-dasharray="5.5 5"/>
<text font-size="10" font-weight="bold" text-anchor="start" transform="translate(303 710) scale(0.81 1)" fill="#111">Ground Floor</text>
<path d="M303 714.3H470" fill="none" stroke="#444" stroke-width="0.8" stroke-dasharray="5.5 5"/>
<text font-size="10" font-weight="bold" text-anchor="start" transform="translate(303 812.6) scale(0.81 1)" fill="#111">Basement</text>
<path d="M303 816.9H470" fill="none" stroke="#444" stroke-width="0.8" stroke-dasharray="5.5 5"/>
<text font-size="9.6" text-anchor="middle" transform="translate(747.3 469) rotate(-90) scale(0.95 1)" fill="#111" stroke="#111" stroke-width="0.2">46</text>
<text font-size="9.6" text-anchor="middle" transform="translate(747.3 488.5) rotate(-90) scale(0.95 1)" fill="#111" stroke="#111" stroke-width="0.2">63</text>
<text font-size="9.6" text-anchor="middle" transform="translate(749.7 549) rotate(-90) scale(0.95 1)" fill="#111" stroke="#111" stroke-width="0.2">2,90</text>
<text font-size="9.6" text-anchor="middle" transform="translate(748.1 614) rotate(-90) scale(0.95 1)" fill="#111" stroke="#111" stroke-width="0.2">25</text>
<text font-size="9.6" text-anchor="middle" transform="translate(749.7 666.7) rotate(-90) scale(0.95 1)" fill="#111" stroke="#111" stroke-width="0.2">3,10</text>
<text font-size="9.6" text-anchor="middle" transform="translate(759.9 656.5) rotate(-90) scale(0.95 1)" fill="#111" stroke="#111" stroke-width="0.2">3,35</text>
<text font-size="9.6" text-anchor="middle" transform="translate(749.7 733.2) rotate(-90) scale(0.95 1)" fill="#111" stroke="#111" stroke-width="0.2">35</text>
<text font-size="9.6" text-anchor="middle" transform="translate(749.7 779.3) rotate(-90) scale(0.95 1)" fill="#111" stroke="#111" stroke-width="0.2">2,70</text>
<text font-size="9.6" text-anchor="middle" transform="translate(759.9 767.4) rotate(-90) scale(0.95 1)" fill="#111" stroke="#111" stroke-width="0.2">3,05</text>
<text font-size="9.6" text-anchor="middle" transform="translate(917.9 343) rotate(-90) scale(0.95 1)" fill="#111" stroke="#111" stroke-width="0.2">1,90</text>
<text font-size="9.6" text-anchor="middle" transform="translate(917.9 400.8) rotate(-90) scale(0.95 1)" fill="#111" stroke="#111" stroke-width="0.2">29</text>
<text font-size="9.6" text-anchor="middle" transform="translate(917.4 442.3) rotate(-90) scale(0.95 1)" fill="#111" stroke="#111" stroke-width="0.2">2,40</text>
<text font-size="9.6" text-anchor="middle" transform="translate(928.8 431.3) rotate(-90) scale(0.95 1)" fill="#111" stroke="#111" stroke-width="0.2">2,69</text>
<text font-size="9.6" text-anchor="middle" transform="translate(917.4 488.5) rotate(-90) scale(0.95 1)" fill="#111" stroke="#111" stroke-width="0.2">63</text>
<text font-size="9.6" text-anchor="middle" transform="translate(917.9 549) rotate(-90) scale(0.95 1)" fill="#111" stroke="#111" stroke-width="0.2">2,90</text>
<text font-size="9.6" text-anchor="middle" transform="translate(928.8 538.8) rotate(-90) scale(0.95 1)" fill="#111" stroke="#111" stroke-width="0.2">3,53</text>
<text font-size="9.6" text-anchor="middle" transform="translate(917.9 612) rotate(-90) scale(0.95 1)" fill="#111" stroke="#111" stroke-width="0.2">25</text>
<text font-size="9.6" text-anchor="middle" transform="translate(917.9 661.6) rotate(-90) scale(0.95 1)" fill="#111" stroke="#111" stroke-width="0.2">2,80</text>
<text font-size="9.6" text-anchor="middle" transform="translate(928.8 651.4) rotate(-90) scale(0.95 1)" fill="#111" stroke="#111" stroke-width="0.2">3,05</text>
<text font-size="9.6" text-anchor="middle" transform="translate(917.9 721.3) rotate(-90) scale(0.95 1)" fill="#111" stroke="#111" stroke-width="0.2">30</text>
<text font-size="9.6" text-anchor="middle" transform="translate(917.9 760.5) rotate(-90) scale(0.95 1)" fill="#111" stroke="#111" stroke-width="0.2">2,36</text>
<text font-size="9.6" text-anchor="middle" transform="translate(928.8 750.3) rotate(-90) scale(0.95 1)" fill="#111" stroke="#111" stroke-width="0.2">2,66</text>
<text font-size="6.5" text-anchor="middle" transform="translate(913 332.5) rotate(-90) scale(1 1)" fill="#111">5</text>
<text font-size="6.5" text-anchor="middle" transform="translate(924 419.5) rotate(-90) scale(1 1)" fill="#111">5</text>
<text font-size="10" text-anchor="start" transform="translate(872 337) scale(0.9 1)" fill="#111">7</text>
<path d="M880 333.5H890M886.5 331.5L890 333.5L886.5 335.5" fill="none" stroke="#444" stroke-width="0.7"/>
<text font-size="10" text-anchor="start" transform="translate(862 430) scale(0.9 1)" fill="#111">8</text>
<path d="M870 426.5H882M878.5 424.5L882 426.5L878.5 428.5" fill="none" stroke="#444" stroke-width="0.7"/>
<text font-size="10" text-anchor="start" transform="translate(797 434.5) scale(0.9 1)" fill="#111">5</text>
<path d="M806 431H815V440M813 436.5L815 440L817 436.5" fill="none" stroke="#444" stroke-width="0.7"/>
<text font-size="10" text-anchor="start" transform="translate(630 556) scale(0.9 1)" fill="#111">5</text>
<path d="M639 552.5H648V561M646 558L648 561L650 558" fill="none" stroke="#444" stroke-width="0.7"/>
<text font-size="9" text-anchor="start" transform="translate(577 801) scale(0.9 1)" fill="#111">2</text>
<text font-size="9" text-anchor="start" transform="translate(560 658) scale(0.9 1)" fill="#111">4</text>
<path d="M1140 318H1150M1145 318L1150 324V470L1145 476L1140 470V324Z" fill="none" stroke="#555" stroke-width="0.8"/>
<path d="M1140 318H1150M1140 476.5H1150" fill="none" stroke="#555" stroke-width="0.8"/>
<path d="M1145 477L1150 483V815L1145 821L1140 815V483Z" fill="none" stroke="#555" stroke-width="0.8"/>
<path d="M1140 821.5H1150" fill="none" stroke="#555" stroke-width="0.8"/>
<text font-size="10" text-anchor="middle" transform="translate(1148.8 398) rotate(-90) scale(0.9 1)" fill="#222">NEW PART</text>
<text font-size="10" text-anchor="middle" transform="translate(1148.8 650) rotate(-90) scale(0.9 1)" fill="#222">EXISTING PART</text>
<ellipse cx="755.7" cy="421.3" rx="2.9" ry="4" fill="#646464"/>
<path d="M751 427.2Q755.6 425 760.4 427.2L762 429.5L762.6 446L760.8 447.5L760.2 462L758.8 476.6L755.8 476.6L755.4 465L754.4 476.6L751.4 476.6L750.4 461L749.2 447.5L747.8 446L748.4 430Z" fill="#646464"/>
<ellipse cx="769.4" cy="419.2" rx="3.3" ry="4.3" fill="#646464"/>
<path d="M765 424.6Q770.5 422.6 776.4 424.6L780.2 426.8L782.8 441.5L781.8 446.5L779.2 446.5L778.6 452L777.6 476.6L773.8 476.6L772 456L770.6 476.6L766.6 476.6L765.2 452L763.4 450L762.4 446L763 430Z" fill="#646464"/>
<circle cx="510.4" cy="756.3" r="2.7" fill="#646464"/>
<path d="M507.4 759.6c0.8-0.6 1.8-0.4 2.2 0.6l0.6 8.2c0.6 0.8 1.2 1.2 2 1.2c0.6-1 1.6-1.4 2.6-1c0.8 0.4 1.6 0.8 2.6 0.6l0.4-10.6c0.2-1 1.4-1.4 2.2-0.6c0.4 0.4 0.4 1 0.4 1.6l-0.4 12.4c0.6 3.6 0.8 7.6 0.8 11.6c0.6 2.4 0.8 5 0.4 7.6c-0.2 2.6-1.2 4.6-2.8 6.2l-5.6 14.6l-2.8 0.2l3.2-15.8l-0.8-1.6l-10.2 15.8l-2.4-0.8l9.2-16.4c0-3.2 0.6-6.4 1.4-9.4c0.2-2.8 0-5.8-0.6-8.6c-0.4-4-0.8-8-1.2-12c-0.4-0.6-0.6-1.2-0.4-1.6z" fill="#646464"/>
<ellipse cx="1272" cy="750.6" rx="5.6" ry="1.3" fill="#555"/>
<rect x="1269" y="746.2" width="6.2" height="4.4" fill="#555" rx="1.5"/>
<ellipse cx="1271.6" cy="754" rx="2.6" ry="3.2" fill="#646464"/>
<path d="M1265 759.2Q1271.5 756.2 1280 759.6L1281.6 766L1282.2 779L1280.6 780.4L1279 778.6L1277.8 807.2L1274.6 807.6L1273.2 786L1270.6 799.6L1269.8 803.8L1267 803.4L1267.6 798L1266.6 780.4L1263.6 778.6L1262.6 766Z" fill="#646464"/>
<rect x="1278.8" y="781.5" width="3.4" height="12.5" fill="#555" rx="0.6"/>
<path d="M1266 766L1270 778M1278 767L1276 778" fill="none" stroke="#777" stroke-width="0.5"/>
<rect x="1221.5" y="787.5" width="7.5" height="22" fill="#fff"/><path d="M1221.5 788.5L1222.5 787.5M1221.5 791.5L1225.5 787.5M1221.5 794.5L1228.5 787.5M1221.5 797.5L1229 790M1221.5 800.5L1229 793M1221.5 803.5L1229 796M1221.5 806.5L1229 799M1221.5 809.5L1229 802M1224.5 809.5L1229 805M1227.5 809.5L1229 808" stroke="#5a5a5a" stroke-width="0.6"/><rect x="1221.5" y="787.5" width="7.5" height="22" fill="none" stroke="#111" stroke-width="1.2"/>
<rect x="1229" y="787.5" width="3" height="22" fill="#111"/>
<rect x="1224.4" y="748" width="4.6" height="40" fill="#111"/>
<rect x="1224.2" y="752" width="1.8" height="2" fill="#fff"/>
<rect x="1224.2" y="756.4" width="1.8" height="2" fill="#fff"/>
<rect x="1224.2" y="760.8" width="1.8" height="2.2" fill="#fff"/>
<path d="M1225 763V787" fill="none" stroke="#fff" stroke-width="1"/>
<circle cx="796" cy="487" r="30" fill="rgba(42,104,250,0.24)"/>
<circle cx="796" cy="596" r="30" fill="rgba(42,104,250,0.24)"/>
<circle cx="796" cy="714.5" r="30" fill="rgba(42,104,250,0.24)"/>
<circle cx="796" cy="817" r="30" fill="rgba(42,104,250,0.24)"/>
<circle cx="909" cy="374" r="30" fill="rgba(42,104,250,0.24)"/>
<circle cx="911" cy="584.5" r="30" fill="rgba(42,104,250,0.24)"/>
<circle cx="598" cy="704.5" r="30" fill="rgba(42,104,250,0.24)"/>
<circle cx="909" cy="373.5" r="21.3" fill="none" stroke="#1c2640" stroke-width="1.4"/>
<path d="M887.7 373.5H930.3" fill="none" stroke="#1c2640" stroke-width="1.3"/>
<path d="M909 373.5V394.8" fill="none" stroke="#1c2640" stroke-width="1.3"/>
<text font-size="15.5" text-anchor="middle" transform="translate(909 370.3) scale(0.8 1)" fill="#1c2640">D02</text>
<rect x="869.3" y="373.3" width="39.7" height="36.1" fill="none" stroke="#111" stroke-width="1.1"/>
<circle cx="911" cy="583.5" r="21.3" fill="none" stroke="#1c2640" stroke-width="1.4"/>
<path d="M889.7 583.5H932.3" fill="none" stroke="#1c2640" stroke-width="1.3"/>
<path d="M911 583.5V604.8" fill="none" stroke="#1c2640" stroke-width="1.3"/>
<text font-size="15.5" text-anchor="middle" transform="translate(911 580.3) scale(0.8 1)" fill="#1c2640">D01</text>
<rect x="876.8" y="583" width="34.2" height="38.7" fill="none" stroke="#111" stroke-width="1.1"/>
<circle cx="598.6" cy="705" r="21.3" fill="none" stroke="#1c2640" stroke-width="1.4"/>
<path d="M577.3 705H619.9" fill="none" stroke="#1c2640" stroke-width="1.3"/>
<path d="M598.6 705V726.3" fill="none" stroke="#1c2640" stroke-width="1.3"/>
<text font-size="15.5" text-anchor="middle" transform="translate(598.6 701.8) scale(0.8 1)" fill="#1c2640">D03</text>
<rect x="562.4" y="705" width="36.2" height="36.2" fill="none" stroke="#111" stroke-width="1.1"/>
<text font-size="17.5" transform="translate(328.5 71.5) scale(0.8 1)" fill="#111" stroke="#111" stroke-width="0.35">D03</text>
<text font-size="17.5" text-anchor="end" transform="translate(528.5 71.5) scale(0.8 1)" fill="#111" stroke="#111" stroke-width="0.35">1:20</text>
<path d="M328.5 73.3H528.5" stroke="#888" stroke-width="0.9"/>
<text font-size="17.5" transform="translate(779 71.5) scale(0.8 1)" fill="#111" stroke="#111" stroke-width="0.35">D02</text>
<text font-size="17.5" text-anchor="end" transform="translate(976 71.5) scale(0.8 1)" fill="#111" stroke="#111" stroke-width="0.35">1:20</text>
<path d="M779 73.3H976" stroke="#888" stroke-width="0.9"/>
<text font-size="17.5" transform="translate(1280.3 71.5) scale(0.8 1)" fill="#111" stroke="#111" stroke-width="0.35">D01</text>
<text font-size="17.5" text-anchor="end" transform="translate(1555 71.5) scale(0.8 1)" fill="#111" stroke="#111" stroke-width="0.35">1:20</text>
<path d="M1280.3 73.3H1555" stroke="#888" stroke-width="0.9"/>
<rect x="372" y="144.6" width="127" height="38.2" fill="#fff"/>
<path d="M402.5 165.3h0.6M419.1 167.6h0.6M451.3 147.5h0.6M374.2 176.3h0.6M405.2 153.8h0.6M498 162.6h0.6M477.9 162.8h0.6M453 150.7h0.6M452.5 177.4h0.6M438.4 172.7h0.6M457.1 147.5h0.6M468 167.1h0.6M410.5 146.3h0.6M481.6 162.7h0.6M463.1 177.8h0.6M462.5 179.4h0.6M422.3 174.9h0.6M428.5 179.9h0.6M483.2 148.7h0.6M389.6 153.2h0.6M494.2 161.3h0.6M451.5 156.3h0.6M436.4 159.5h0.6M416.7 166.9h0.6M446.1 178.7h0.6M458.4 179.7h0.6M480.4 182h0.6M457.1 151.2h0.6M480.9 181h0.6M486.5 166.3h0.6M462.4 153h0.6M477.3 166.4h0.6M408.4 147.5h0.6M480.1 181.9h0.6M383.7 174.9h0.6M424.2 150.7h0.6M409.5 173.7h0.6M482.5 146.7h0.6M449.9 146.8h0.6M463 157.4h0.6M483.5 181.6h0.6M436.2 182.2h0.6M411.5 148h0.6M448.1 146.3h0.6M397.4 160.3h0.6M449.4 150.9h0.6M377.8 177.4h0.6M412 180.8h0.6M485.5 159.2h0.6M430.5 164.4h0.6M453.6 167.3h0.6M443 168.2h0.6M491 164h0.6M426.8 171.9h0.6M402.4 156.3h0.6M495.7 164.5h0.6M441.6 145.5h0.6M424.8 166.7h0.6M375 168h0.6M452.2 147.3h0.6M451.5 162.4h0.6M458.1 158.2h0.6M461.6 172.6h0.6M375.3 147.4h0.6M457.7 180.9h0.6M404.1 162.1h0.6M447.2 157h0.6M418.4 156.7h0.6M419 167.3h0.6M410.4 159.1h0.6M469.8 146.1h0.6M444.2 172.4h0.6M411.6 153.4h0.6M473.8 154h0.6M396.1 161.3h0.6M460.5 148.9h0.6M413.1 157.5h0.6M477.5 161.4h0.6M480.3 151.4h0.6M414.9 169.3h0.6M484 161.9h0.6M400.9 149.6h0.6M439.2 152.2h0.6M474.2 176.3h0.6M395.6 155.5h0.6M474.2 169h0.6M474.1 157.9h0.6M388.8 156h0.6M472.5 155.2h0.6M416.1 160.6h0.6M425.4 160.3h0.6M488.5 150.9h0.6M373.1 180.2h0.6M483.4 181.8h0.6M427.2 180.4h0.6M489.3 153.4h0.6M466.4 176.2h0.6M456 164.4h0.6M408.9 157.8h0.6M401.2 147.6h0.6M446.7 155.8h0.6M474.6 146.8h0.6M486.4 170.9h0.6M488.9 178.5h0.6M485.9 166.6h0.6M374.2 172.8h0.6M394.1 156.3h0.6M456 164.6h0.6M424.6 180h0.6M449.6 157.8h0.6M404.3 177.2h0.6M432.6 174.2h0.6M416.8 152.4h0.6M439.9 175.5h0.6M394.1 174.6h0.6M488.6 175.1h0.6M476.3 145.4h0.6M451.7 177.2h0.6M378.8 155.2h0.6M406.3 164.7h0.6M425.8 162.7h0.6M470.3 145.2h0.6M379.4 149.8h0.6M388.2 147.6h0.6M495.3 176.9h0.6M383.4 163.8h0.6M412.3 156.8h0.6M416.8 169.2h0.6M446.4 158.5h0.6M396.6 157.3h0.6M388.1 165.8h0.6M462.7 159.2h0.6M382.6 151.7h0.6M419.5 167.6h0.6M471.1 159.2h0.6M473.4 168.3h0.6M426.9 159h0.6M435 171.2h0.6M425.5 170.9h0.6M430.6 154.2h0.6M440 171h0.6M381.5 160.9h0.6M426.2 177.8h0.6M490.5 159h0.6M485.6 174.5h0.6M405.5 162.4h0.6M388 175.4h0.6M455.9 178.1h0.6M472.4 169.9h0.6M465 166.1h0.6M385.5 167h0.6M373.1 150.4h0.6M470.1 146.7h0.6M384.1 148.8h0.6M483.4 151.8h0.6M375.5 176.4h0.6M387.8 176.5h0.6M457.4 176.2h0.6M492.5 166.6h0.6M473.1 146.4h0.6M469.2 164.1h0.6M462.6 149.1h0.6M466.9 179.9h0.6M380.2 157.2h0.6M443.6 175.9h0.6M403 151.8h0.6M404 168h0.6M467.4 159.7h0.6M418.8 159.9h0.6M416.6 160.7h0.6M383 163.7h0.6M495.1 160.5h0.6M466.7 151.1h0.6M459.5 173.2h0.6M457.4 164.3h0.6M433.4 169h0.6M485.6 150.7h0.6M384.6 172.9h0.6M488 164.3h0.6M428.3 171.8h0.6M395.9 155h0.6M397.6 166.9h0.6M412.2 153.7h0.6M459.6 180.6h0.6M409.8 171.3h0.6M424.6 176.9h0.6M446.2 155h0.6M399.9 146h0.6M432.9 159.3h0.6M394.2 158.5h0.6M413.1 173.9h0.6M390.6 182h0.6M432.9 167.4h0.6M431.5 176.1h0.6M476 165.8h0.6M433.1 171.9h0.6M480.4 160h0.6M464.9 180.8h0.6M431.4 153.6h0.6M402.1 171.8h0.6M457.6 180.8h0.6M480.1 154.1h0.6M396.4 154.7h0.6M396.1 171.3h0.6M480.7 178.6h0.6M404.6 177.3h0.6M412 160.8h0.6M464.4 148.3h0.6M384.2 176.1h0.6M409.3 158.4h0.6M445.6 170.2h0.6M373.4 157.6h0.6M427.5 163.2h0.6M399 166.9h0.6M492.9 159.6h0.6M441.1 149.5h0.6M407.1 169.9h0.6M386.7 178.1h0.6M487 148.7h0.6M491.1 159h0.6M469.8 173.3h0.6M409.7 170.2h0.6M454.9 175.1h0.6M406 173.2h0.6M493.6 170.1h0.6M440.1 149.3h0.6M434.7 158.2h0.6M463 170.3h0.6M443.9 151.9h0.6M453.9 168.6h0.6M395.1 178.2h0.6M455.1 149.7h0.6M489.9 150.4h0.6M414.3 171.9h0.6M447.8 165.7h0.6M454.1 162.1h0.6M411.9 151.7h0.6M381.1 171.7h0.6M467.6 165.3h0.6M465.7 158.5h0.6M406 159.4h0.6M482.4 146.7h0.6M436.1 154.3h0.6M469.4 158.3h0.6M414.4 160.1h0.6M440.7 173.8h0.6M417 176.6h0.6M386.6 155.2h0.6M385.1 149.3h0.6M470.7 172.2h0.6M395.8 152.1h0.6M425 172.8h0.6M475.3 173h0.6M447.1 150.5h0.6M422.7 152.3h0.6M439 166.2h0.6M398 154.4h0.6M471 146.2h0.6M473.7 178.3h0.6M492.1 159.4h0.6M442.1 166.8h0.6" stroke="#999" stroke-width="0.55"/>
<path d="M375 147.3l0.9 1.5h-1.8zM387.4 147.3l0.9 1.5h-1.8zM399.8 147.3l0.9 1.5h-1.8zM412.2 147.3l0.9 1.5h-1.8zM424.6 147.3l0.9 1.5h-1.8zM437 147.3l0.9 1.5h-1.8zM449.4 147.3l0.9 1.5h-1.8zM461.8 147.3l0.9 1.5h-1.8zM474.2 147.3l0.9 1.5h-1.8zM486.6 147.3l0.9 1.5h-1.8zM381.2 156.5l0.9 1.5h-1.8zM393.6 156.5l0.9 1.5h-1.8zM406 156.5l0.9 1.5h-1.8zM418.4 156.5l0.9 1.5h-1.8zM430.8 156.5l0.9 1.5h-1.8zM443.2 156.5l0.9 1.5h-1.8zM455.6 156.5l0.9 1.5h-1.8zM468 156.5l0.9 1.5h-1.8zM480.4 156.5l0.9 1.5h-1.8zM492.8 156.5l0.9 1.5h-1.8zM375 165.7l0.9 1.5h-1.8zM387.4 165.7l0.9 1.5h-1.8zM399.8 165.7l0.9 1.5h-1.8zM412.2 165.7l0.9 1.5h-1.8zM424.6 165.7l0.9 1.5h-1.8zM437 165.7l0.9 1.5h-1.8zM449.4 165.7l0.9 1.5h-1.8zM461.8 165.7l0.9 1.5h-1.8zM474.2 165.7l0.9 1.5h-1.8zM486.6 165.7l0.9 1.5h-1.8zM381.2 174.9l0.9 1.5h-1.8zM393.6 174.9l0.9 1.5h-1.8zM406 174.9l0.9 1.5h-1.8zM418.4 174.9l0.9 1.5h-1.8zM430.8 174.9l0.9 1.5h-1.8zM443.2 174.9l0.9 1.5h-1.8zM455.6 174.9l0.9 1.5h-1.8zM468 174.9l0.9 1.5h-1.8zM480.4 174.9l0.9 1.5h-1.8zM492.8 174.9l0.9 1.5h-1.8z" fill="none" stroke="#777" stroke-width="0.5"/>
<path d="M499 144.6L483 182.8H499Z" fill="#fff"/>
<rect x="372" y="182.8" width="46.5" height="18.6" fill="#fff"/>
<path d="M383.2 185.1h0.6M390.5 186h0.6M375.5 190.4h0.6M414.3 197.4h0.6M407.3 187.2h0.6M396.9 188.2h0.6M380.4 185.2h0.6M382.3 199.6h0.6M410.2 197.5h0.6M408.9 186.7h0.6M386.6 194.3h0.6M405.8 198.3h0.6M412.5 184.8h0.6M400.1 195.1h0.6M395.5 186.4h0.6M394 184.9h0.6M415 198.5h0.6M397.4 188.6h0.6M413.9 193.4h0.6M412.6 198.2h0.6M395.6 190.6h0.6M399.8 190.9h0.6M379.8 188.7h0.6M409.5 184.1h0.6M374.6 194.3h0.6M385.3 192.7h0.6M393.9 189.3h0.6M417.9 186.7h0.6M391.3 186.9h0.6M401.3 188.2h0.6M388.7 196.4h0.6M387.1 193.1h0.6M413.6 185.1h0.6M375.3 187.3h0.6M407.3 194.1h0.6M383.3 189.1h0.6M380.6 191.4h0.6M374.4 195.6h0.6M413.3 200.1h0.6M405.9 200.2h0.6M373.3 188.4h0.6M416.5 196.9h0.6M391.2 199.9h0.6M400.7 197.7h0.6M385.9 186.7h0.6M392.7 185.7h0.6" stroke="#999" stroke-width="0.55"/>
<path d="M375 185.6l0.9 1.5h-1.8zM387.4 185.6l0.9 1.5h-1.8zM399.8 185.6l0.9 1.5h-1.8zM412.2 185.6l0.9 1.5h-1.8zM381.2 194.8l0.9 1.5h-1.8zM393.6 194.8l0.9 1.5h-1.8zM406 194.8l0.9 1.5h-1.8z" fill="none" stroke="#777" stroke-width="0.5"/>
<path d="M349.5 91V245.6" fill="none" stroke="#555" stroke-width="0.8"/>
<path d="M352.8 91V245.6" fill="none" stroke="#aaa" stroke-width="1.2"/>
<rect x="353.5" y="91" width="17.5" height="154.6" fill="#fff"/>
<clipPath id="cl375"><rect x="352.5" y="91" width="19.5" height="154.6"/></clipPath><path clip-path="url(#cl375)" d="M353.5 82.8C362.2 82.8 362.2 86.9 371 86.9C362.2 86.9 362.2 91 353.5 91C362.2 91 362.2 95.1 371 95.1C362.2 95.1 362.2 99.2 353.5 99.2C362.2 99.2 362.2 103.3 371 103.3C362.2 103.3 362.2 107.4 353.5 107.4C362.2 107.4 362.2 111.5 371 111.5C362.2 111.5 362.2 115.6 353.5 115.6C362.2 115.6 362.2 119.7 371 119.7C362.2 119.7 362.2 123.8 353.5 123.8C362.2 123.8 362.2 127.9 371 127.9C362.2 127.9 362.2 132 353.5 132C362.2 132 362.2 136.1 371 136.1C362.2 136.1 362.2 140.2 353.5 140.2C362.2 140.2 362.2 144.3 371 144.3C362.2 144.3 362.2 148.4 353.5 148.4C362.2 148.4 362.2 152.5 371 152.5C362.2 152.5 362.2 156.6 353.5 156.6C362.2 156.6 362.2 160.7 371 160.7C362.2 160.7 362.2 164.8 353.5 164.8C362.2 164.8 362.2 168.9 371 168.9C362.2 168.9 362.2 173 353.5 173C362.2 173 362.2 177.1 371 177.1C362.2 177.1 362.2 181.2 353.5 181.2C362.2 181.2 362.2 185.3 371 185.3C362.2 185.3 362.2 189.4 353.5 189.4C362.2 189.4 362.2 193.5 371 193.5C362.2 193.5 362.2 197.6 353.5 197.6C362.2 197.6 362.2 201.7 371 201.7C362.2 201.7 362.2 205.8 353.5 205.8C362.2 205.8 362.2 209.9 371 209.9C362.2 209.9 362.2 214 353.5 214C362.2 214 362.2 218.1 371 218.1C362.2 218.1 362.2 222.2 353.5 222.2C362.2 222.2 362.2 226.3 371 226.3C362.2 226.3 362.2 230.4 353.5 230.4C362.2 230.4 362.2 234.5 371 234.5C362.2 234.5 362.2 238.6 353.5 238.6C362.2 238.6 362.2 242.7 371 242.7C362.2 242.7 362.2 246.8 353.5 246.8C362.2 246.8 362.2 250.9 371 250.9M353.5 82.8Q351.9 86.9 353.5 91M371 86.9Q372.6 91 371 95.1M353.5 91Q351.9 95.1 353.5 99.2M371 95.1Q372.6 99.2 371 103.3M353.5 99.2Q351.9 103.3 353.5 107.4M371 103.3Q372.6 107.4 371 111.5M353.5 107.4Q351.9 111.5 353.5 115.6M371 111.5Q372.6 115.6 371 119.7M353.5 115.6Q351.9 119.7 353.5 123.8M371 119.7Q372.6 123.8 371 127.9M353.5 123.8Q351.9 127.9 353.5 132M371 127.9Q372.6 132 371 136.1M353.5 132Q351.9 136.1 353.5 140.2M371 136.1Q372.6 140.2 371 144.3M353.5 140.2Q351.9 144.3 353.5 148.4M371 144.3Q372.6 148.4 371 152.5M353.5 148.4Q351.9 152.5 353.5 156.6M371 152.5Q372.6 156.6 371 160.7M353.5 156.6Q351.9 160.7 353.5 164.8M371 160.7Q372.6 164.8 371 168.9M353.5 164.8Q351.9 168.9 353.5 173M371 168.9Q372.6 173 371 177.1M353.5 173Q351.9 177.1 353.5 181.2M371 177.1Q372.6 181.2 371 185.3M353.5 181.2Q351.9 185.3 353.5 189.4M371 185.3Q372.6 189.4 371 193.5M353.5 189.4Q351.9 193.5 353.5 197.6M371 193.5Q372.6 197.6 371 201.7M353.5 197.6Q351.9 201.7 353.5 205.8M371 201.7Q372.6 205.8 371 209.9M353.5 205.8Q351.9 209.9 353.5 214M371 209.9Q372.6 214 371 218.1M353.5 214Q351.9 218.1 353.5 222.2M371 218.1Q372.6 222.2 371 226.3M353.5 222.2Q351.9 226.3 353.5 230.4M371 226.3Q372.6 230.4 371 234.5M353.5 230.4Q351.9 234.5 353.5 238.6M371 234.5Q372.6 238.6 371 242.7M353.5 238.6Q351.9 242.7 353.5 246.8M371 242.7Q372.6 246.8 371 250.9M353.5 246.8Q351.9 250.9 353.5 255M371 250.9Q372.6 255 371 259.1" fill="none" stroke="#333" stroke-width="0.7"/>
<rect x="372" y="91" width="46.5" height="53.6" fill="#fff"/><path d="M372 93.5L374.5 91M372 97L378 91M372 100.5L381.5 91M372 104L385 91M372 107.5L388.5 91M372 111L392 91M372 114.5L395.5 91M372 118L399 91M372 121.5L402.5 91M372 125L406 91M372 128.5L409.5 91M372 132L413 91M372 135.5L416.5 91M372 139L418.5 92.5M372 142.5L418.5 96M373.4 144.6L418.5 99.5M376.9 144.6L418.5 103M380.4 144.6L418.5 106.5M383.9 144.6L418.5 110M387.4 144.6L418.5 113.5M390.9 144.6L418.5 117M394.4 144.6L418.5 120.5M397.9 144.6L418.5 124M401.4 144.6L418.5 127.5M404.9 144.6L418.5 131M408.4 144.6L418.5 134.5M411.9 144.6L418.5 138M415.4 144.6L418.5 141.5" stroke="#444" stroke-width="0.65"/>
<rect x="372" y="201.4" width="46.5" height="44.2" fill="#fff"/><path d="M372 202L372.6 201.4M372 205.5L376.1 201.4M372 209L379.6 201.4M372 212.5L383.1 201.4M372 216L386.6 201.4M372 219.5L390.1 201.4M372 223L393.6 201.4M372 226.5L397.1 201.4M372 230L400.6 201.4M372 233.5L404.1 201.4M372 237L407.6 201.4M372 240.5L411.1 201.4M372 244L414.6 201.4M373.9 245.6L418.1 201.4M377.4 245.6L418.5 204.5M380.9 245.6L418.5 208M384.4 245.6L418.5 211.5M387.9 245.6L418.5 215M391.4 245.6L418.5 218.5M394.9 245.6L418.5 222M398.4 245.6L418.5 225.5M401.9 245.6L418.5 229M405.4 245.6L418.5 232.5M408.9 245.6L418.5 236M412.4 245.6L418.5 239.5M415.9 245.6L418.5 243" stroke="#444" stroke-width="0.65"/>
<path d="M371.6 91V245.6" fill="none" stroke="#111" stroke-width="1.6"/>
<path d="M418.5 91V144.6M418.5 245.6V182.8" fill="none" stroke="#111" stroke-width="1.4"/>
<path d="M420 91V144.6M420 245.6V184" fill="none" stroke="#999" stroke-width="1.2"/>
<path d="M372 144.6H511M372 201.4H418.5M418.5 182.8H483" fill="none" stroke="#111" stroke-width="1.3"/>
<path d="M420 185.5H483" fill="none" stroke="#888" stroke-width="0.6"/>
<path d="M418.5 127H511M418.5 130H510" fill="none" stroke="#777" stroke-width="0.6"/>
<rect x="418.5" y="135" width="88.5" height="9.2" fill="#fff"/>
<clipPath id="cl385"><rect x="418.5" y="134" width="88.5" height="11.2"/></clipPath><path clip-path="url(#cl385)" d="M414.3 135C414.3 139.6 416.4 139.6 416.4 144.2C416.4 139.6 418.5 139.6 418.5 135C418.5 139.6 420.6 139.6 420.6 144.2C420.6 139.6 422.7 139.6 422.7 135C422.7 139.6 424.8 139.6 424.8 144.2C424.8 139.6 426.9 139.6 426.9 135C426.9 139.6 429 139.6 429 144.2C429 139.6 431.1 139.6 431.1 135C431.1 139.6 433.2 139.6 433.2 144.2C433.2 139.6 435.3 139.6 435.3 135C435.3 139.6 437.4 139.6 437.4 144.2C437.4 139.6 439.5 139.6 439.5 135C439.5 139.6 441.6 139.6 441.6 144.2C441.6 139.6 443.7 139.6 443.7 135C443.7 139.6 445.8 139.6 445.8 144.2C445.8 139.6 447.9 139.6 447.9 135C447.9 139.6 450 139.6 450 144.2C450 139.6 452.1 139.6 452.1 135C452.1 139.6 454.2 139.6 454.2 144.2C454.2 139.6 456.3 139.6 456.3 135C456.3 139.6 458.4 139.6 458.4 144.2C458.4 139.6 460.5 139.6 460.5 135C460.5 139.6 462.6 139.6 462.6 144.2C462.6 139.6 464.7 139.6 464.7 135C464.7 139.6 466.8 139.6 466.8 144.2C466.8 139.6 468.9 139.6 468.9 135C468.9 139.6 471 139.6 471 144.2C471 139.6 473.1 139.6 473.1 135C473.1 139.6 475.2 139.6 475.2 144.2C475.2 139.6 477.3 139.6 477.3 135C477.3 139.6 479.4 139.6 479.4 144.2C479.4 139.6 481.5 139.6 481.5 135C481.5 139.6 483.6 139.6 483.6 144.2C483.6 139.6 485.7 139.6 485.7 135C485.7 139.6 487.8 139.6 487.8 144.2C487.8 139.6 489.9 139.6 489.9 135C489.9 139.6 492 139.6 492 144.2C492 139.6 494.1 139.6 494.1 135C494.1 139.6 496.2 139.6 496.2 144.2C496.2 139.6 498.3 139.6 498.3 135C498.3 139.6 500.4 139.6 500.4 144.2C500.4 139.6 502.5 139.6 502.5 135C502.5 139.6 504.6 139.6 504.6 144.2C504.6 139.6 506.7 139.6 506.7 135C506.7 139.6 508.8 139.6 508.8 144.2C508.8 139.6 510.9 139.6 510.9 135M418.5 135H507M414.3 135Q416.4 133.8 418.5 135M416.4 144.2Q418.5 145.4 420.6 144.2M418.5 135Q420.6 133.8 422.7 135M420.6 144.2Q422.7 145.4 424.8 144.2M422.7 135Q424.8 133.8 426.9 135M424.8 144.2Q426.9 145.4 429 144.2M426.9 135Q429 133.8 431.1 135M429 144.2Q431.1 145.4 433.2 144.2M431.1 135Q433.2 133.8 435.3 135M433.2 144.2Q435.3 145.4 437.4 144.2M435.3 135Q437.4 133.8 439.5 135M437.4 144.2Q439.5 145.4 441.6 144.2M439.5 135Q441.6 133.8 443.7 135M441.6 144.2Q443.7 145.4 445.8 144.2M443.7 135Q445.8 133.8 447.9 135M445.8 144.2Q447.9 145.4 450 144.2M447.9 135Q450 133.8 452.1 135M450 144.2Q452.1 145.4 454.2 144.2M452.1 135Q454.2 133.8 456.3 135M454.2 144.2Q456.3 145.4 458.4 144.2M456.3 135Q458.4 133.8 460.5 135M458.4 144.2Q460.5 145.4 462.6 144.2M460.5 135Q462.6 133.8 464.7 135M462.6 144.2Q464.7 145.4 466.8 144.2M464.7 135Q466.8 133.8 468.9 135M466.8 144.2Q468.9 145.4 471 144.2M468.9 135Q471 133.8 473.1 135M471 144.2Q473.1 145.4 475.2 144.2M473.1 135Q475.2 133.8 477.3 135M475.2 144.2Q477.3 145.4 479.4 144.2M477.3 135Q479.4 133.8 481.5 135M479.4 144.2Q481.5 145.4 483.6 144.2M481.5 135Q483.6 133.8 485.7 135M483.6 144.2Q485.7 145.4 487.8 144.2M485.7 135Q487.8 133.8 489.9 135M487.8 144.2Q489.9 145.4 492 144.2M489.9 135Q492 133.8 494.1 135M492 144.2Q494.1 145.4 496.2 144.2M494.1 135Q496.2 133.8 498.3 135M496.2 144.2Q498.3 145.4 500.4 144.2M498.3 135Q500.4 133.8 502.5 135M500.4 144.2Q502.5 145.4 504.6 144.2M502.5 135Q504.6 133.8 506.7 135M504.6 144.2Q506.7 145.4 508.8 144.2M506.7 135Q508.8 133.8 510.9 135M508.8 144.2Q510.9 145.4 513 144.2M510.9 135Q513 133.8 515.1 135M513 144.2Q515.1 145.4 517.2 144.2" fill="none" stroke="#333" stroke-width="0.55"/>
<path d="M418.5 135H507" fill="none" stroke="#666" stroke-width="0.5"/>
<rect x="378" y="153" width="31" height="42" rx="4" fill="none" stroke="#000" stroke-width="3"/>
<circle cx="381" cy="156" r="2.7" fill="#000"/>
<circle cx="406" cy="156" r="2.7" fill="#000"/>
<circle cx="381" cy="192" r="2.7" fill="#000"/>
<circle cx="406" cy="192" r="2.7" fill="#000"/>
<path d="M789.7 136.6H968.8" fill="none" stroke="#111" stroke-width="1.9"/>
<path d="M793 141l2.4 -2M794.6 141l2.4 -2M796.2 141l2.4 -2M804.5 141l2.4 -2M806.1 141l2.4 -2M807.7 141l2.4 -2M817.6 141l2.4 -2M819.2 141l2.4 -2M820.8 141l2.4 -2M830.5 141l2.4 -2M832.1 141l2.4 -2M833.7 141l2.4 -2M842.9 141l2.4 -2M844.5 141l2.4 -2M846.1 141l2.4 -2M854.6 141l2.4 -2M856.2 141l2.4 -2M857.8 141l2.4 -2M867.9 141l2.4 -2M869.5 141l2.4 -2M871.1 141l2.4 -2M881.4 141l2.4 -2M883 141l2.4 -2M884.6 141l2.4 -2M893.9 141l2.4 -2M895.5 141l2.4 -2M897.1 141l2.4 -2M906.4 141l2.4 -2M908 141l2.4 -2M909.6 141l2.4 -2M918.1 141l2.4 -2M919.7 141l2.4 -2M921.3 141l2.4 -2M929.1 141l2.4 -2M930.7 141l2.4 -2M932.3 141l2.4 -2M941.2 141l2.4 -2M942.8 141l2.4 -2M944.4 141l2.4 -2M954 141l2.4 -2M955.6 141l2.4 -2M957.2 141l2.4 -2" stroke="#666" stroke-width="0.5"/>
<path d="M791 143.5Q795.5 142.3 800 143.5Q804.5 144.7 809 143.5Q813.5 142.3 818 143.5Q822.5 144.7 827 143.5Q831.5 142.3 836 143.5Q840.5 144.7 845 143.5Q849.5 142.3 854 143.5Q858.5 144.7 863 143.5Q867.5 142.3 872 143.5Q876.5 144.7 881 143.5Q885.5 142.3 890 143.5Q894.5 144.7 899 143.5Q903.5 142.3 908 143.5Q912.5 144.7 917 143.5Q921.5 142.3 926 143.5Q930.5 144.7 935 143.5Q939.5 142.3 944 143.5Q948.5 144.7 953 143.5Q957.5 142.3 962 143.5Q965 144.7 968 143.5M791 145.5Q795.5 146.7 800 145.5Q804.5 144.3 809 145.5Q813.5 146.7 818 145.5Q822.5 144.3 827 145.5Q831.5 146.7 836 145.5Q840.5 144.3 845 145.5Q849.5 146.7 854 145.5Q858.5 144.3 863 145.5Q867.5 146.7 872 145.5Q876.5 144.3 881 145.5Q885.5 146.7 890 145.5Q894.5 144.3 899 145.5Q903.5 146.7 908 145.5Q912.5 144.3 917 145.5Q921.5 146.7 926 145.5Q930.5 144.3 935 145.5Q939.5 146.7 944 145.5Q948.5 144.3 953 145.5Q957.5 146.7 962 145.5Q965 144.3 968 145.5" fill="none" stroke="#666" stroke-width="0.6"/>
<rect x="795" y="149.3" width="171" height="9.2" fill="#fff"/>
<clipPath id="cl396"><rect x="795" y="148.3" width="171" height="11.2"/></clipPath><path clip-path="url(#cl396)" d="M791 149.3C791 153.9 793 153.9 793 158.5C793 153.9 795 153.9 795 149.3C795 153.9 797 153.9 797 158.5C797 153.9 799 153.9 799 149.3C799 153.9 801 153.9 801 158.5C801 153.9 803 153.9 803 149.3C803 153.9 805 153.9 805 158.5C805 153.9 807 153.9 807 149.3C807 153.9 809 153.9 809 158.5C809 153.9 811 153.9 811 149.3C811 153.9 813 153.9 813 158.5C813 153.9 815 153.9 815 149.3C815 153.9 817 153.9 817 158.5C817 153.9 819 153.9 819 149.3C819 153.9 821 153.9 821 158.5C821 153.9 823 153.9 823 149.3C823 153.9 825 153.9 825 158.5C825 153.9 827 153.9 827 149.3C827 153.9 829 153.9 829 158.5C829 153.9 831 153.9 831 149.3C831 153.9 833 153.9 833 158.5C833 153.9 835 153.9 835 149.3C835 153.9 837 153.9 837 158.5C837 153.9 839 153.9 839 149.3C839 153.9 841 153.9 841 158.5C841 153.9 843 153.9 843 149.3C843 153.9 845 153.9 845 158.5C845 153.9 847 153.9 847 149.3C847 153.9 849 153.9 849 158.5C849 153.9 851 153.9 851 149.3C851 153.9 853 153.9 853 158.5C853 153.9 855 153.9 855 149.3C855 153.9 857 153.9 857 158.5C857 153.9 859 153.9 859 149.3C859 153.9 861 153.9 861 158.5C861 153.9 863 153.9 863 149.3C863 153.9 865 153.9 865 158.5C865 153.9 867 153.9 867 149.3C867 153.9 869 153.9 869 158.5C869 153.9 871 153.9 871 149.3C871 153.9 873 153.9 873 158.5C873 153.9 875 153.9 875 149.3C875 153.9 877 153.9 877 158.5C877 153.9 879 153.9 879 149.3C879 153.9 881 153.9 881 158.5C881 153.9 883 153.9 883 149.3C883 153.9 885 153.9 885 158.5C885 153.9 887 153.9 887 149.3C887 153.9 889 153.9 889 158.5C889 153.9 891 153.9 891 149.3C891 153.9 893 153.9 893 158.5C893 153.9 895 153.9 895 149.3C895 153.9 897 153.9 897 158.5C897 153.9 899 153.9 899 149.3C899 153.9 901 153.9 901 158.5C901 153.9 903 153.9 903 149.3C903 153.9 905 153.9 905 158.5C905 153.9 907 153.9 907 149.3C907 153.9 909 153.9 909 158.5C909 153.9 911 153.9 911 149.3C911 153.9 913 153.9 913 158.5C913 153.9 915 153.9 915 149.3C915 153.9 917 153.9 917 158.5C917 153.9 919 153.9 919 149.3C919 153.9 921 153.9 921 158.5C921 153.9 923 153.9 923 149.3C923 153.9 925 153.9 925 158.5C925 153.9 927 153.9 927 149.3C927 153.9 929 153.9 929 158.5C929 153.9 931 153.9 931 149.3C931 153.9 933 153.9 933 158.5C933 153.9 935 153.9 935 149.3C935 153.9 937 153.9 937 158.5C937 153.9 939 153.9 939 149.3C939 153.9 941 153.9 941 158.5C941 153.9 943 153.9 943 149.3C943 153.9 945 153.9 945 158.5C945 153.9 947 153.9 947 149.3C947 153.9 949 153.9 949 158.5C949 153.9 951 153.9 951 149.3C951 153.9 953 153.9 953 158.5C953 153.9 955 153.9 955 149.3C955 153.9 957 153.9 957 158.5C957 153.9 959 153.9 959 149.3C959 153.9 961 153.9 961 158.5C961 153.9 963 153.9 963 149.3C963 153.9 965 153.9 965 158.5C965 153.9 967 153.9 967 149.3C967 153.9 969 153.9 969 158.5M795 149.3H966M791 149.3Q793 148.1 795 149.3M793 158.5Q795 159.7 797 158.5M795 149.3Q797 148.1 799 149.3M797 158.5Q799 159.7 801 158.5M799 149.3Q801 148.1 803 149.3M801 158.5Q803 159.7 805 158.5M803 149.3Q805 148.1 807 149.3M805 158.5Q807 159.7 809 158.5M807 149.3Q809 148.1 811 149.3M809 158.5Q811 159.7 813 158.5M811 149.3Q813 148.1 815 149.3M813 158.5Q815 159.7 817 158.5M815 149.3Q817 148.1 819 149.3M817 158.5Q819 159.7 821 158.5M819 149.3Q821 148.1 823 149.3M821 158.5Q823 159.7 825 158.5M823 149.3Q825 148.1 827 149.3M825 158.5Q827 159.7 829 158.5M827 149.3Q829 148.1 831 149.3M829 158.5Q831 159.7 833 158.5M831 149.3Q833 148.1 835 149.3M833 158.5Q835 159.7 837 158.5M835 149.3Q837 148.1 839 149.3M837 158.5Q839 159.7 841 158.5M839 149.3Q841 148.1 843 149.3M841 158.5Q843 159.7 845 158.5M843 149.3Q845 148.1 847 149.3M845 158.5Q847 159.7 849 158.5M847 149.3Q849 148.1 851 149.3M849 158.5Q851 159.7 853 158.5M851 149.3Q853 148.1 855 149.3M853 158.5Q855 159.7 857 158.5M855 149.3Q857 148.1 859 149.3M857 158.5Q859 159.7 861 158.5M859 149.3Q861 148.1 863 149.3M861 158.5Q863 159.7 865 158.5M863 149.3Q865 148.1 867 149.3M865 158.5Q867 159.7 869 158.5M867 149.3Q869 148.1 871 149.3M869 158.5Q871 159.7 873 158.5M871 149.3Q873 148.1 875 149.3M873 158.5Q875 159.7 877 158.5M875 149.3Q877 148.1 879 149.3M877 158.5Q879 159.7 881 158.5M879 149.3Q881 148.1 883 149.3M881 158.5Q883 159.7 885 158.5M883 149.3Q885 148.1 887 149.3M885 158.5Q887 159.7 889 158.5M887 149.3Q889 148.1 891 149.3M889 158.5Q891 159.7 893 158.5M891 149.3Q893 148.1 895 149.3M893 158.5Q895 159.7 897 158.5M895 149.3Q897 148.1 899 149.3M897 158.5Q899 159.7 901 158.5M899 149.3Q901 148.1 903 149.3M901 158.5Q903 159.7 905 158.5M903 149.3Q905 148.1 907 149.3M905 158.5Q907 159.7 909 158.5M907 149.3Q909 148.1 911 149.3M909 158.5Q911 159.7 913 158.5M911 149.3Q913 148.1 915 149.3M913 158.5Q915 159.7 917 158.5M915 149.3Q917 148.1 919 149.3M917 158.5Q919 159.7 921 158.5M919 149.3Q921 148.1 923 149.3M921 158.5Q923 159.7 925 158.5M923 149.3Q925 148.1 927 149.3M925 158.5Q927 159.7 929 158.5M927 149.3Q929 148.1 931 149.3M929 158.5Q931 159.7 933 158.5M931 149.3Q933 148.1 935 149.3M933 158.5Q935 159.7 937 158.5M935 149.3Q937 148.1 939 149.3M937 158.5Q939 159.7 941 158.5M939 149.3Q941 148.1 943 149.3M941 158.5Q943 159.7 945 158.5M943 149.3Q945 148.1 947 149.3M945 158.5Q947 159.7 949 158.5M947 149.3Q949 148.1 951 149.3M949 158.5Q951 159.7 953 158.5M951 149.3Q953 148.1 955 149.3M953 158.5Q955 159.7 957 158.5M955 149.3Q957 148.1 959 149.3M957 158.5Q959 159.7 961 158.5M959 149.3Q961 148.1 963 149.3M961 158.5Q963 159.7 965 158.5M963 149.3Q965 148.1 967 149.3M965 158.5Q967 159.7 969 158.5M967 149.3Q969 148.1 971 149.3M969 158.5Q971 159.7 973 158.5" fill="none" stroke="#333" stroke-width="0.6"/>
<path d="M795 158.5H966" fill="none" stroke="#444" stroke-width="0.8"/>
<rect x="797" y="162.6" width="165" height="21.1" fill="#fff"/>
<path d="M899.7 178h0.6M927.9 182h0.6M918.8 181.6h0.6M802.3 172.5h0.6M952.2 176.1h0.6M945.2 165.4h0.6M874.4 168.1h0.6M886.7 174.6h0.6M799.7 167.5h0.6M843.3 181.5h0.6M923.1 166.3h0.6M928.2 165.9h0.6M898.8 165.6h0.6M797.8 180.6h0.6M831.9 167.4h0.6M958.6 180.6h0.6M844.9 182.4h0.6M885.9 176.7h0.6M831.1 182h0.6M910.8 182.5h0.6M944.1 169.1h0.6M856.7 166.4h0.6M821.4 164.4h0.6M846.9 175.2h0.6M798.1 176.7h0.6M852.9 169.3h0.6M931.7 172.8h0.6M849.3 172.8h0.6M913.1 164.2h0.6M957.4 163.6h0.6M920.5 180.1h0.6M800.5 178.9h0.6M857.6 174.7h0.6M799 164h0.6M827.2 182.3h0.6M829.7 178.3h0.6M950 182h0.6M854 170.2h0.6M883.6 178.7h0.6M815.2 178.1h0.6M928.2 180.4h0.6M803.5 182.1h0.6M812.5 169.9h0.6M897.7 181.6h0.6M853.3 181.7h0.6M886.9 169.4h0.6M849.5 166.7h0.6M810.3 166.1h0.6M910.5 183.1h0.6M824 164.1h0.6M959.3 173.8h0.6M864.1 167.9h0.6M894.9 179.7h0.6M872.2 171.6h0.6M806.6 181.5h0.6M802.9 173h0.6M935 165.7h0.6M917.5 182.2h0.6M900.9 178.9h0.6M815 171.8h0.6M822 180.1h0.6M845.8 172.2h0.6M961.4 180.2h0.6M957.6 172.2h0.6M877.6 177.8h0.6M876.1 168.9h0.6M863.7 166h0.6M859.3 183h0.6M954.9 175.7h0.6M879.4 169.9h0.6M812.1 168.6h0.6M925.8 180.5h0.6M856.8 178.9h0.6M924.6 177.1h0.6M906.4 178.4h0.6M857.1 177.3h0.6M843.6 172.9h0.6M923.7 177h0.6M845.7 182.1h0.6M904 174.8h0.6M799.4 174.1h0.6M838.6 176.6h0.6M873.4 179.5h0.6M903.7 179.1h0.6M854.6 176h0.6M918.5 179.7h0.6M854.9 180h0.6M940.2 176.9h0.6M957.6 182.3h0.6M882.5 173.7h0.6M824.8 179.9h0.6M951.2 172.7h0.6M910.9 177.6h0.6M917.3 166.6h0.6M925.5 174.8h0.6M906.7 171.6h0.6M899.8 178.7h0.6M901.9 177.6h0.6M802 166.3h0.6M869.8 176.2h0.6M833.4 176.9h0.6M901 163.9h0.6M874.8 167.6h0.6M806.4 165.8h0.6M849.5 166.7h0.6M829.2 163.8h0.6M873.8 170.7h0.6M897.8 175h0.6M836.5 181.3h0.6M797.6 171.2h0.6M843.2 171.3h0.6M816.4 179.8h0.6M858.8 163.8h0.6M898.1 165h0.6M886.9 169.9h0.6M892.8 182.4h0.6M931.7 171.5h0.6M930.8 176h0.6M858.1 166h0.6M895.2 174.4h0.6M954.5 182.6h0.6M897.3 170.2h0.6M944 163.1h0.6M815.2 174.5h0.6M898.4 165.9h0.6M900.7 181h0.6M859.1 171.8h0.6M834.6 169h0.6M957 170.7h0.6M955.1 181.5h0.6M895.2 168.3h0.6M958.4 173.1h0.6M865.6 169.5h0.6M958.9 173h0.6M844.5 172.7h0.6M817.5 175.6h0.6M870.2 169h0.6M925.7 179.7h0.6M799.7 173.8h0.6M842.4 181.9h0.6M925.7 168h0.6M841.4 166.2h0.6M959.7 169h0.6M897.2 172.6h0.6M903.3 175.2h0.6M919.4 165.5h0.6M922.2 169.1h0.6M885 169.9h0.6M846.2 173.8h0.6M873.7 170.4h0.6M919.7 175h0.6M803.5 168.2h0.6M872.2 181.5h0.6M943.1 174.1h0.6M799.9 178.7h0.6M867.6 174.7h0.6M913.6 175.8h0.6M876.5 181.4h0.6M860.7 171h0.6M937.2 167h0.6M846.1 179.8h0.6M808.3 179.9h0.6M911.4 171.8h0.6M844.5 178.8h0.6M946.9 166h0.6M876 174.1h0.6M879.1 169.7h0.6" stroke="#999" stroke-width="0.55"/>
<path d="M800 165.3l0.9 1.5h-1.8zM812.4 165.3l0.9 1.5h-1.8zM824.8 165.3l0.9 1.5h-1.8zM837.2 165.3l0.9 1.5h-1.8zM849.6 165.3l0.9 1.5h-1.8zM862 165.3l0.9 1.5h-1.8zM874.4 165.3l0.9 1.5h-1.8zM886.8 165.3l0.9 1.5h-1.8zM899.2 165.3l0.9 1.5h-1.8zM911.6 165.3l0.9 1.5h-1.8zM924 165.3l0.9 1.5h-1.8zM936.4 165.3l0.9 1.5h-1.8zM948.8 165.3l0.9 1.5h-1.8zM806.2 174.5l0.9 1.5h-1.8zM818.6 174.5l0.9 1.5h-1.8zM831 174.5l0.9 1.5h-1.8zM843.4 174.5l0.9 1.5h-1.8zM855.8 174.5l0.9 1.5h-1.8zM868.2 174.5l0.9 1.5h-1.8zM880.6 174.5l0.9 1.5h-1.8zM893 174.5l0.9 1.5h-1.8zM905.4 174.5l0.9 1.5h-1.8zM917.8 174.5l0.9 1.5h-1.8zM930.2 174.5l0.9 1.5h-1.8zM942.6 174.5l0.9 1.5h-1.8zM955 174.5l0.9 1.5h-1.8z" fill="none" stroke="#777" stroke-width="0.5"/>
<path d="M962 162.6L958 183.7H962Z" fill="#fff"/>
<path d="M797 162.6H963" fill="none" stroke="#222" stroke-width="1.3"/>
<path d="M804 169H944" fill="none" stroke="#888" stroke-width="1.1"/>
<rect x="873.4" y="162.7" width="13.5" height="17.1" fill="#4a4a4a"/>
<path d="M868 179.8L886 162.7M868 169V180" fill="none" stroke="#222" stroke-width="0.7"/>
<path d="M801.5 183.8H960" fill="none" stroke="#111" stroke-width="1.7"/>
<path d="M802 187.4H867.6M936.6 187.4H960" fill="none" stroke="#888" stroke-width="0.6"/>
<path d="M867.6 187.4V246" fill="none" stroke="#888" stroke-width="0.7"/>
<rect x="871" y="184.5" width="19" height="61.5" fill="#fff"/>
<clipPath id="cl410"><rect x="870" y="184.5" width="21" height="61.5"/></clipPath><path clip-path="url(#cl410)" d="M871 176.3C880.5 176.3 880.5 180.4 890 180.4C880.5 180.4 880.5 184.5 871 184.5C880.5 184.5 880.5 188.6 890 188.6C880.5 188.6 880.5 192.7 871 192.7C880.5 192.7 880.5 196.8 890 196.8C880.5 196.8 880.5 200.9 871 200.9C880.5 200.9 880.5 205 890 205C880.5 205 880.5 209.1 871 209.1C880.5 209.1 880.5 213.2 890 213.2C880.5 213.2 880.5 217.3 871 217.3C880.5 217.3 880.5 221.4 890 221.4C880.5 221.4 880.5 225.5 871 225.5C880.5 225.5 880.5 229.6 890 229.6C880.5 229.6 880.5 233.7 871 233.7C880.5 233.7 880.5 237.8 890 237.8C880.5 237.8 880.5 241.9 871 241.9C880.5 241.9 880.5 246 890 246C880.5 246 880.5 250.1 871 250.1C880.5 250.1 880.5 254.2 890 254.2M871 176.3Q869.4 180.4 871 184.5M890 180.4Q891.6 184.5 890 188.6M871 184.5Q869.4 188.6 871 192.7M890 188.6Q891.6 192.7 890 196.8M871 192.7Q869.4 196.8 871 200.9M890 196.8Q891.6 200.9 890 205M871 200.9Q869.4 205 871 209.1M890 205Q891.6 209.1 890 213.2M871 209.1Q869.4 213.2 871 217.3M890 213.2Q891.6 217.3 890 221.4M871 217.3Q869.4 221.4 871 225.5M890 221.4Q891.6 225.5 890 229.6M871 225.5Q869.4 229.6 871 233.7M890 229.6Q891.6 233.7 890 237.8M871 233.7Q869.4 237.8 871 241.9M890 237.8Q891.6 241.9 890 246M871 241.9Q869.4 246 871 250.1M890 246Q891.6 250.1 890 254.2M871 250.1Q869.4 254.2 871 258.3M890 254.2Q891.6 258.3 890 262.4" fill="none" stroke="#333" stroke-width="0.7"/>
<rect x="890.5" y="184.5" width="46.3" height="61.5" fill="#fff"/><path d="M890.5 187.5L893.5 184.5M890.5 191L897 184.5M890.5 194.5L900.5 184.5M890.5 198L904 184.5M890.5 201.5L907.5 184.5M890.5 205L911 184.5M890.5 208.5L914.5 184.5M890.5 212L918 184.5M890.5 215.5L921.5 184.5M890.5 219L925 184.5M890.5 222.5L928.5 184.5M890.5 226L932 184.5M890.5 229.5L935.5 184.5M890.5 233L936.8 186.7M890.5 236.5L936.8 190.2M890.5 240L936.8 193.7M890.5 243.5L936.8 197.2M891.5 246L936.8 200.7M895 246L936.8 204.2M898.5 246L936.8 207.7M902 246L936.8 211.2M905.5 246L936.8 214.7M909 246L936.8 218.2M912.5 246L936.8 221.7M916 246L936.8 225.2M919.5 246L936.8 228.7M923 246L936.8 232.2M926.5 246L936.8 235.7M930 246L936.8 239.2M933.5 246L936.8 242.7" stroke="#444" stroke-width="0.65"/>
<path d="M890.5 184.5V246" fill="none" stroke="#111" stroke-width="1.5"/>
<path d="M936.8 184.5V246" fill="none" stroke="#111" stroke-width="1.4"/>
<path d="M938.3 184.5V246" fill="none" stroke="#999" stroke-width="1.2"/>
<circle cx="975.7" cy="91" r="0.6" fill="#555"/>
<rect x="1296.8" y="144.4" width="243.2" height="39.7" fill="#fff"/>
<path d="M1375.7 150.7h0.6M1455 147.7h0.6M1427.1 159.1h0.6M1311.3 164.5h0.6M1306.4 161.7h0.6M1314.2 148.4h0.6M1400.1 176.9h0.6M1327.3 153.5h0.6M1449.3 181.6h0.6M1437.1 160.3h0.6M1533.7 146.7h0.6M1505.2 156.1h0.6M1332.2 149.5h0.6M1372 176.5h0.6M1341.1 167.4h0.6M1452 159.3h0.6M1430 147.3h0.6M1311.7 152.9h0.6M1462.1 161.4h0.6M1373.4 167.6h0.6M1407.1 156.5h0.6M1489.7 172h0.6M1356.4 167.1h0.6M1424.5 178.8h0.6M1474 156h0.6M1534.7 149.5h0.6M1398.6 174.2h0.6M1334.1 163.8h0.6M1306.8 170.8h0.6M1482.5 167.1h0.6M1509.3 157h0.6M1465.7 167.9h0.6M1437.8 162.6h0.6M1500.7 181.5h0.6M1412.1 170.6h0.6M1312 172h0.6M1454 183.3h0.6M1496.4 155.9h0.6M1390.7 170.8h0.6M1302.8 162.8h0.6M1338 149.4h0.6M1311.6 174.6h0.6M1328.6 154.5h0.6M1392 178.6h0.6M1316.8 162.3h0.6M1430.4 179.1h0.6M1495.7 178.3h0.6M1364.7 161h0.6M1384.2 179.1h0.6M1529.3 150.7h0.6M1340 153.9h0.6M1353.8 163.7h0.6M1440 155.1h0.6M1298.3 161.1h0.6M1386.7 166.8h0.6M1528.1 171.6h0.6M1422.2 168.8h0.6M1461.1 147h0.6M1515.2 175.1h0.6M1509.1 175.8h0.6M1392.3 160.3h0.6M1322.4 169.4h0.6M1312.4 147.5h0.6M1347.9 151.2h0.6M1379.7 146.9h0.6M1297.4 150.8h0.6M1321.9 159h0.6M1303.5 178.7h0.6M1446 150.6h0.6M1358.4 158.3h0.6M1385.5 149.7h0.6M1502.9 183.3h0.6M1410.2 163.6h0.6M1318.1 148.9h0.6M1380.3 155.1h0.6M1498 151.1h0.6M1302.9 181.7h0.6M1425.2 150.6h0.6M1428.9 145.9h0.6M1425.2 182.8h0.6M1506.4 171.8h0.6M1360.5 159.1h0.6M1337.8 174.8h0.6M1426.3 175h0.6M1377.1 153.5h0.6M1493.8 183h0.6M1503.8 176.1h0.6M1495.5 173.5h0.6M1352.2 164.9h0.6M1383.4 146h0.6M1304.1 155.7h0.6M1360.1 171.7h0.6M1529 162.2h0.6M1524.2 183.1h0.6M1528.6 159h0.6M1350.7 153.7h0.6M1344.9 152.8h0.6M1448.4 179.7h0.6M1500.9 163.5h0.6M1455.5 175.8h0.6M1317.8 170.5h0.6M1517.6 175.2h0.6M1479 163.4h0.6M1340.5 175.4h0.6M1377.8 175.9h0.6M1532.6 160.2h0.6M1394.5 181.5h0.6M1472.8 151.5h0.6M1328.1 150.7h0.6M1516.5 176.1h0.6M1332.7 176.9h0.6M1534.7 170.3h0.6M1382.2 166.1h0.6M1329 145.5h0.6M1532.4 170h0.6M1424.8 181h0.6M1402.4 178.6h0.6M1497.4 153.1h0.6M1358.3 156.2h0.6M1355.6 167.6h0.6M1360.1 161.1h0.6M1329 180.1h0.6M1383 162.6h0.6M1438.6 179.9h0.6M1399.2 180.4h0.6M1418.8 165.5h0.6M1424.1 145.6h0.6M1403.9 152h0.6M1298.3 175.8h0.6M1339 163.2h0.6M1472.9 166.4h0.6M1376.3 165h0.6M1431.8 175.3h0.6M1323 166.6h0.6M1357.5 155.6h0.6M1484.3 164.5h0.6M1433.4 174.3h0.6M1518.3 162.1h0.6M1445.7 164.5h0.6M1421.3 171.7h0.6M1406.9 165.5h0.6M1413.1 181.3h0.6M1466.7 178.8h0.6M1525.5 154.9h0.6M1432.8 181.4h0.6M1500.7 150.2h0.6M1326.8 162h0.6M1314.9 154.2h0.6M1315 170.8h0.6M1487.2 179.6h0.6M1334.7 172.6h0.6M1457.2 150.4h0.6M1511.1 182.3h0.6M1350.5 181.8h0.6M1393.8 163.8h0.6M1537 177.1h0.6M1336.4 161.6h0.6M1422.2 158h0.6M1344.7 157.2h0.6M1472.2 145.7h0.6M1431.5 161.9h0.6M1301.7 157.7h0.6M1448.4 164.7h0.6M1312.9 183h0.6M1488.2 182.5h0.6M1322.7 155.2h0.6M1306.9 175h0.6M1362.8 149.9h0.6M1399.6 180.2h0.6M1495.7 154.9h0.6M1333.5 180.5h0.6M1435.5 172h0.6M1319 147.1h0.6M1464 161.4h0.6M1314.8 181.2h0.6M1451 175.9h0.6M1317.6 178h0.6M1313.4 178.3h0.6M1407.2 158h0.6M1431.3 180.8h0.6M1362.2 149.9h0.6M1424.9 154.1h0.6M1323.8 151.1h0.6M1309.5 152.7h0.6M1372.9 156.7h0.6M1481.3 156.1h0.6M1418.4 151.8h0.6M1381.3 145.6h0.6M1358 145.5h0.6M1474.9 166.2h0.6M1343.2 163.3h0.6M1523.7 149h0.6M1495.6 161.6h0.6M1417.2 177.2h0.6M1392.5 164.5h0.6M1463.9 182.9h0.6M1380.3 177.1h0.6M1468.5 169.5h0.6M1395.3 158.4h0.6M1310.5 149.9h0.6M1314.4 173.6h0.6M1359.2 151.2h0.6M1317.8 177.5h0.6M1508.1 170.9h0.6M1365.6 154.3h0.6M1368.3 162.7h0.6M1335.5 162.2h0.6M1361.1 182.1h0.6M1532.9 166.1h0.6M1356.5 182.3h0.6M1372.3 158.7h0.6M1297.6 159.7h0.6M1412.3 164.4h0.6M1346 164.4h0.6M1298.5 155.1h0.6M1319 160.4h0.6M1307.4 145.8h0.6M1371 153.9h0.6M1439.1 165.4h0.6M1479.1 170.3h0.6M1470.7 178.9h0.6M1391.6 157.5h0.6M1535.8 150.7h0.6M1472.7 169.8h0.6M1307.9 177.2h0.6M1513.3 169.2h0.6M1475 176.3h0.6M1331 165.2h0.6M1419.5 177.2h0.6M1492.2 176.9h0.6M1438.8 179.5h0.6M1462.7 171.7h0.6M1353 146.1h0.6M1329.5 158.9h0.6M1322.7 177.2h0.6M1432.6 169.2h0.6M1449 171.2h0.6M1415.8 145h0.6M1490.5 173.9h0.6M1419.1 165.6h0.6M1457 147.5h0.6M1475.8 154.7h0.6M1315.3 155.2h0.6M1473.9 152.8h0.6M1476.5 182.7h0.6M1416.9 159.7h0.6M1413.3 171.4h0.6M1483.1 168.8h0.6M1453 147.9h0.6M1333 154.7h0.6M1477.3 156.7h0.6M1434.8 145.4h0.6M1312 155.3h0.6M1460.1 171.7h0.6M1461 156.2h0.6M1422.4 162.9h0.6M1410.2 149.5h0.6M1513.7 152.6h0.6M1534.2 181.1h0.6M1301.5 162.7h0.6M1495.9 182.4h0.6M1406.2 155.3h0.6M1348.1 181.5h0.6M1348.3 167.4h0.6M1331.6 165.2h0.6M1528.1 150h0.6M1496 164.6h0.6M1512.1 172.1h0.6M1353.3 179.6h0.6M1415 145.9h0.6M1298.2 163.9h0.6M1406.5 156.6h0.6M1331.4 158.2h0.6M1373.9 177.4h0.6M1297.7 174h0.6M1500.5 149.5h0.6M1521.7 172.5h0.6M1515.7 156.1h0.6M1387.5 160.1h0.6M1539.2 167.7h0.6M1384.7 161.5h0.6M1363.9 146.8h0.6M1321.9 177.2h0.6M1366.5 181.1h0.6M1357.7 155.2h0.6M1421.1 152.2h0.6M1387.7 181.9h0.6M1511.5 176.3h0.6M1450.1 180.2h0.6M1525.1 166.2h0.6M1471.6 146.8h0.6M1474.7 162.3h0.6M1479.6 169.8h0.6M1366.6 146.8h0.6M1521.8 149.8h0.6M1411.7 158.2h0.6M1369.4 173.5h0.6M1533.8 155h0.6M1456.2 156.5h0.6M1432.3 160.2h0.6M1337.8 151.2h0.6M1347.6 180h0.6M1417.7 153.4h0.6M1516.8 183.5h0.6M1406.3 150.3h0.6M1343.9 148.4h0.6M1380.1 148.4h0.6M1355.2 154.9h0.6M1435.3 179.2h0.6M1478.9 160.9h0.6M1397.5 165.2h0.6M1388.6 158h0.6M1312.3 155.6h0.6M1531.7 149.8h0.6M1419.2 169.3h0.6M1506.3 153.3h0.6M1362.9 154.5h0.6M1394.1 162.2h0.6M1528.3 177.7h0.6M1508.7 145.7h0.6M1305.1 172.4h0.6M1514.2 163.2h0.6M1439.5 144.9h0.6M1392.1 180.8h0.6M1497.3 178h0.6M1532.8 154.5h0.6M1323.7 150.9h0.6M1423.8 171.3h0.6M1525.3 172.8h0.6M1454.1 174.5h0.6M1408.1 166.2h0.6M1306.9 175.2h0.6M1353.6 180.5h0.6M1453.6 156.7h0.6M1328.3 154.6h0.6M1451.4 171.9h0.6M1324.5 147.6h0.6M1424.3 167.5h0.6M1391.3 153.6h0.6M1442.9 145.3h0.6M1370.3 162.7h0.6M1529.6 169.8h0.6M1511.4 163.3h0.6M1354.2 154.5h0.6M1530 172.2h0.6M1371.8 145.7h0.6M1418 171h0.6M1399 154.9h0.6M1458.9 180.7h0.6M1352.2 146.2h0.6M1379.2 161.2h0.6M1462.6 152.6h0.6M1490.3 173.5h0.6M1419.6 152.8h0.6M1532.2 157h0.6M1495.9 153.8h0.6M1350.9 174.3h0.6M1368.7 181.7h0.6M1417.4 152.1h0.6M1351.4 161h0.6M1458.4 181.6h0.6M1332.8 160.1h0.6M1348.9 182.6h0.6M1331.7 146.9h0.6M1311.9 160.1h0.6M1514.8 179.1h0.6M1474.8 183.5h0.6M1522.9 157.6h0.6M1342.2 181.1h0.6M1478.1 146.1h0.6M1458.2 159.6h0.6M1387.9 157.7h0.6M1338.3 145h0.6M1365.1 158.5h0.6M1528.7 149.7h0.6M1530.8 152.9h0.6M1383.7 176.7h0.6M1496.4 161.6h0.6M1309.2 163.2h0.6M1387.6 180.5h0.6M1344.1 159h0.6M1514.6 146.1h0.6M1396.8 176.3h0.6M1483 146.5h0.6M1305.7 147.3h0.6M1520.1 154.8h0.6M1478.3 179.7h0.6M1379.4 155.4h0.6M1529.3 168.8h0.6M1360.8 172.6h0.6M1374 155.6h0.6M1298.2 174.1h0.6M1519.3 169.4h0.6M1525.8 145.8h0.6M1353.9 163.3h0.6M1529 181.8h0.6M1390.9 154.6h0.6M1401.4 164h0.6M1522.1 152h0.6M1491.7 173.5h0.6M1496.6 174.8h0.6M1444.4 157.6h0.6M1374.7 158.9h0.6M1486.8 148h0.6M1345.1 174h0.6M1357.2 147.4h0.6M1305.5 166.3h0.6M1376.2 182.8h0.6M1511.3 183.1h0.6M1361.5 148.2h0.6M1320.7 164.2h0.6M1469.2 162.2h0.6M1354 161h0.6M1447.5 171h0.6M1478.5 177.7h0.6M1458.2 149.6h0.6M1501 156.3h0.6M1434.6 159.3h0.6M1476.1 152.6h0.6M1357.2 154.4h0.6M1334.4 179.1h0.6M1437.4 157.5h0.6M1393.2 183.3h0.6M1420.2 153.9h0.6M1493.1 170.2h0.6M1537.3 148.9h0.6M1412.3 176.6h0.6M1500.9 180.3h0.6M1307.1 156.3h0.6M1326.2 152.2h0.6M1533 167.5h0.6M1522.6 159.3h0.6M1507.1 162.3h0.6M1360.3 175h0.6M1526.3 149h0.6M1441.7 168.9h0.6M1350 159.2h0.6M1331.5 152.8h0.6M1359 168.1h0.6M1455.1 152.8h0.6M1300.1 157.6h0.6M1461.6 152.1h0.6M1372.9 152.8h0.6M1489.9 166.1h0.6M1312.6 148.8h0.6M1393 166.2h0.6M1452.1 148.4h0.6M1336.9 171.8h0.6M1396.6 155.9h0.6M1371.8 181.8h0.6M1373 166.8h0.6M1383.8 161h0.6M1506.6 183.5h0.6M1385.4 152.5h0.6M1473.6 152.8h0.6M1298.7 179.8h0.6M1399.9 176.6h0.6M1395.7 179.1h0.6M1408.9 151.2h0.6M1300.9 166.2h0.6M1452.5 180.1h0.6M1318.9 169h0.6M1387.1 164.4h0.6" stroke="#999" stroke-width="0.55"/>
<path d="M1299.8 147.2l0.9 1.5h-1.8zM1312.2 147.2l0.9 1.5h-1.8zM1324.6 147.2l0.9 1.5h-1.8zM1337 147.2l0.9 1.5h-1.8zM1349.4 147.2l0.9 1.5h-1.8zM1361.8 147.2l0.9 1.5h-1.8zM1374.2 147.2l0.9 1.5h-1.8zM1386.6 147.2l0.9 1.5h-1.8zM1399 147.2l0.9 1.5h-1.8zM1411.4 147.2l0.9 1.5h-1.8zM1423.8 147.2l0.9 1.5h-1.8zM1436.2 147.2l0.9 1.5h-1.8zM1448.6 147.2l0.9 1.5h-1.8zM1461 147.2l0.9 1.5h-1.8zM1473.4 147.2l0.9 1.5h-1.8zM1485.8 147.2l0.9 1.5h-1.8zM1498.2 147.2l0.9 1.5h-1.8zM1510.6 147.2l0.9 1.5h-1.8zM1523 147.2l0.9 1.5h-1.8zM1535.4 147.2l0.9 1.5h-1.8zM1306 156.3l0.9 1.5h-1.8zM1318.4 156.3l0.9 1.5h-1.8zM1330.8 156.3l0.9 1.5h-1.8zM1343.2 156.3l0.9 1.5h-1.8zM1355.6 156.3l0.9 1.5h-1.8zM1368 156.3l0.9 1.5h-1.8zM1380.4 156.3l0.9 1.5h-1.8zM1392.8 156.3l0.9 1.5h-1.8zM1405.2 156.3l0.9 1.5h-1.8zM1417.6 156.3l0.9 1.5h-1.8zM1430 156.3l0.9 1.5h-1.8zM1442.4 156.3l0.9 1.5h-1.8zM1454.8 156.3l0.9 1.5h-1.8zM1467.2 156.3l0.9 1.5h-1.8zM1479.6 156.3l0.9 1.5h-1.8zM1492 156.3l0.9 1.5h-1.8zM1504.4 156.3l0.9 1.5h-1.8zM1516.8 156.3l0.9 1.5h-1.8zM1529.2 156.3l0.9 1.5h-1.8zM1299.8 165.5l0.9 1.5h-1.8zM1312.2 165.5l0.9 1.5h-1.8zM1324.6 165.5l0.9 1.5h-1.8zM1337 165.5l0.9 1.5h-1.8zM1349.4 165.5l0.9 1.5h-1.8zM1361.8 165.5l0.9 1.5h-1.8zM1374.2 165.5l0.9 1.5h-1.8zM1386.6 165.5l0.9 1.5h-1.8zM1399 165.5l0.9 1.5h-1.8zM1411.4 165.5l0.9 1.5h-1.8zM1423.8 165.5l0.9 1.5h-1.8zM1436.2 165.5l0.9 1.5h-1.8zM1448.6 165.5l0.9 1.5h-1.8zM1461 165.5l0.9 1.5h-1.8zM1473.4 165.5l0.9 1.5h-1.8zM1485.8 165.5l0.9 1.5h-1.8zM1498.2 165.5l0.9 1.5h-1.8zM1510.6 165.5l0.9 1.5h-1.8zM1523 165.5l0.9 1.5h-1.8zM1535.4 165.5l0.9 1.5h-1.8zM1306 174.7l0.9 1.5h-1.8zM1318.4 174.7l0.9 1.5h-1.8zM1330.8 174.7l0.9 1.5h-1.8zM1343.2 174.7l0.9 1.5h-1.8zM1355.6 174.7l0.9 1.5h-1.8zM1368 174.7l0.9 1.5h-1.8zM1380.4 174.7l0.9 1.5h-1.8zM1392.8 174.7l0.9 1.5h-1.8zM1405.2 174.7l0.9 1.5h-1.8zM1417.6 174.7l0.9 1.5h-1.8zM1430 174.7l0.9 1.5h-1.8zM1442.4 174.7l0.9 1.5h-1.8zM1454.8 174.7l0.9 1.5h-1.8zM1467.2 174.7l0.9 1.5h-1.8zM1479.6 174.7l0.9 1.5h-1.8zM1492 174.7l0.9 1.5h-1.8zM1504.4 174.7l0.9 1.5h-1.8zM1516.8 174.7l0.9 1.5h-1.8zM1529.2 174.7l0.9 1.5h-1.8z" fill="none" stroke="#777" stroke-width="0.5"/>
<path d="M1296.8 144.4L1308.6 184.1H1296.8Z" fill="#fff"/>
<path d="M1540 144.4L1518.7 184.1H1540Z" fill="#fff"/>
<rect x="1388" y="184.1" width="67.5" height="17.1" fill="#fff"/>
<path d="M1403.6 200.1h0.6M1396.9 195.9h0.6M1394.2 188.6h0.6M1454.9 188h0.6M1431.2 192h0.6M1418.6 192.6h0.6M1401.3 198h0.6M1394.5 188.4h0.6M1389.8 188.9h0.6M1415.6 199.1h0.6M1413.7 186.4h0.6M1405.7 200.6h0.6M1392.7 194.6h0.6M1413.6 195.2h0.6M1411 195.7h0.6M1421.6 195.1h0.6M1448.4 194h0.6M1398 185.6h0.6M1451.4 192.5h0.6M1401.4 199.8h0.6M1427 196.3h0.6M1447.1 189.2h0.6M1412.2 198.7h0.6M1397.5 196.9h0.6M1395 195.7h0.6M1435.2 199.9h0.6M1444.6 192.7h0.6M1401.6 187h0.6M1423.7 192.8h0.6M1393.2 199.1h0.6M1422.2 195.9h0.6M1403.1 188.5h0.6M1389.3 190.1h0.6M1406.2 191.4h0.6M1413.6 198h0.6M1447.8 187.4h0.6M1414.9 187.3h0.6M1432.6 200.3h0.6M1401.9 196.9h0.6M1408.5 184.8h0.6M1439.3 190.1h0.6M1399.8 191.6h0.6M1403.9 191.2h0.6M1418.2 191.3h0.6M1427.6 189.2h0.6M1394.8 186h0.6M1395.6 193h0.6M1412.5 197.6h0.6M1422.1 196h0.6M1453.7 185.6h0.6M1389.6 186.9h0.6M1414.2 193.8h0.6M1438 190.3h0.6M1452.7 184.6h0.6M1444.1 188h0.6" stroke="#999" stroke-width="0.55"/>
<path d="M1391 186.8l0.9 1.5h-1.8zM1403.4 186.8l0.9 1.5h-1.8zM1415.8 186.8l0.9 1.5h-1.8zM1428.2 186.8l0.9 1.5h-1.8zM1440.6 186.8l0.9 1.5h-1.8zM1453 186.8l0.9 1.5h-1.8zM1397.2 196l0.9 1.5h-1.8zM1409.6 196l0.9 1.5h-1.8zM1422 196l0.9 1.5h-1.8zM1434.4 196l0.9 1.5h-1.8zM1446.8 196l0.9 1.5h-1.8z" fill="none" stroke="#777" stroke-width="0.5"/>
<rect x="1388" y="91" width="67.5" height="53.4" fill="#fff"/><path d="M1388 92.5L1389.5 91M1388 96L1393 91M1388 99.5L1396.5 91M1388 103L1400 91M1388 106.5L1403.5 91M1388 110L1407 91M1388 113.5L1410.5 91M1388 117L1414 91M1388 120.5L1417.5 91M1388 124L1421 91M1388 127.5L1424.5 91M1388 131L1428 91M1388 134.5L1431.5 91M1388 138L1435 91M1388 141.5L1438.5 91M1388.6 144.4L1442 91M1392.1 144.4L1445.5 91M1395.6 144.4L1449 91M1399.1 144.4L1452.5 91M1402.6 144.4L1455.5 91.5M1406.1 144.4L1455.5 95M1409.6 144.4L1455.5 98.5M1413.1 144.4L1455.5 102M1416.6 144.4L1455.5 105.5M1420.1 144.4L1455.5 109M1423.6 144.4L1455.5 112.5M1427.1 144.4L1455.5 116M1430.6 144.4L1455.5 119.5M1434.1 144.4L1455.5 123M1437.6 144.4L1455.5 126.5M1441.1 144.4L1455.5 130M1444.6 144.4L1455.5 133.5M1448.1 144.4L1455.5 137M1451.6 144.4L1455.5 140.5M1455.1 144.4L1455.5 144" stroke="#444" stroke-width="0.65"/>
<rect x="1388" y="201.2" width="67.5" height="44.6" fill="#fff"/><path d="M1388 204.5L1391.3 201.2M1388 208L1394.8 201.2M1388 211.5L1398.3 201.2M1388 215L1401.8 201.2M1388 218.5L1405.3 201.2M1388 222L1408.8 201.2M1388 225.5L1412.3 201.2M1388 229L1415.8 201.2M1388 232.5L1419.3 201.2M1388 236L1422.8 201.2M1388 239.5L1426.3 201.2M1388 243L1429.8 201.2M1388.7 245.8L1433.3 201.2M1392.2 245.8L1436.8 201.2M1395.7 245.8L1440.3 201.2M1399.2 245.8L1443.8 201.2M1402.7 245.8L1447.3 201.2M1406.2 245.8L1450.8 201.2M1409.7 245.8L1454.3 201.2M1413.2 245.8L1455.5 203.5M1416.7 245.8L1455.5 207M1420.2 245.8L1455.5 210.5M1423.7 245.8L1455.5 214M1427.2 245.8L1455.5 217.5M1430.7 245.8L1455.5 221M1434.2 245.8L1455.5 224.5M1437.7 245.8L1455.5 228M1441.2 245.8L1455.5 231.5M1444.7 245.8L1455.5 235M1448.2 245.8L1455.5 238.5M1451.7 245.8L1455.5 242M1455.2 245.8L1455.5 245.5" stroke="#444" stroke-width="0.65"/>
<path d="M1388 91V144.4M1455.5 91V144.4M1388 201.2V245.8M1455.5 201.2V245.8" fill="none" stroke="#111" stroke-width="1.4"/>
<path d="M1457 91V144.4M1457 201.2V245.8" fill="none" stroke="#999" stroke-width="1.1"/>
<path d="M1388 201.2H1455.5" fill="none" stroke="#111" stroke-width="1.3"/>
<path d="M1308.6 184.1H1388V201.2M1455.5 201.2V184.1H1518.7" fill="none" stroke="#111" stroke-width="1.4"/>
<path d="M1309 187H1387M1457 187H1518" fill="none" stroke="#888" stroke-width="0.6"/>
<path d="M1291.5 126.8H1388M1455.5 126.8H1540" fill="none" stroke="#777" stroke-width="0.9"/>
<path d="M1292 129.5H1388M1456 129.5H1539" fill="none" stroke="#999" stroke-width="0.6"/>
<rect x="1293" y="134.3" width="95" height="9.9" fill="#fff"/>
<clipPath id="cl434"><rect x="1293" y="133.3" width="95" height="11.9"/></clipPath><path clip-path="url(#cl434)" d="M1288.8 134.3C1288.8 139.2 1290.9 139.2 1290.9 144.2C1290.9 139.2 1293 139.2 1293 134.3C1293 139.2 1295.1 139.2 1295.1 144.2C1295.1 139.2 1297.2 139.2 1297.2 134.3C1297.2 139.2 1299.3 139.2 1299.3 144.2C1299.3 139.2 1301.4 139.2 1301.4 134.3C1301.4 139.2 1303.5 139.2 1303.5 144.2C1303.5 139.2 1305.6 139.2 1305.6 134.3C1305.6 139.2 1307.7 139.2 1307.7 144.2C1307.7 139.2 1309.8 139.2 1309.8 134.3C1309.8 139.2 1311.9 139.2 1311.9 144.2C1311.9 139.2 1314 139.2 1314 134.3C1314 139.2 1316.1 139.2 1316.1 144.2C1316.1 139.2 1318.2 139.2 1318.2 134.3C1318.2 139.2 1320.3 139.2 1320.3 144.2C1320.3 139.2 1322.4 139.2 1322.4 134.3C1322.4 139.2 1324.5 139.2 1324.5 144.2C1324.5 139.2 1326.6 139.2 1326.6 134.3C1326.6 139.2 1328.7 139.2 1328.7 144.2C1328.7 139.2 1330.8 139.2 1330.8 134.3C1330.8 139.2 1332.9 139.2 1332.9 144.2C1332.9 139.2 1335 139.2 1335 134.3C1335 139.2 1337.1 139.2 1337.1 144.2C1337.1 139.2 1339.2 139.2 1339.2 134.3C1339.2 139.2 1341.3 139.2 1341.3 144.2C1341.3 139.2 1343.4 139.2 1343.4 134.3C1343.4 139.2 1345.5 139.2 1345.5 144.2C1345.5 139.2 1347.6 139.2 1347.6 134.3C1347.6 139.2 1349.7 139.2 1349.7 144.2C1349.7 139.2 1351.8 139.2 1351.8 134.3C1351.8 139.2 1353.9 139.2 1353.9 144.2C1353.9 139.2 1356 139.2 1356 134.3C1356 139.2 1358.1 139.2 1358.1 144.2C1358.1 139.2 1360.2 139.2 1360.2 134.3C1360.2 139.2 1362.3 139.2 1362.3 144.2C1362.3 139.2 1364.4 139.2 1364.4 134.3C1364.4 139.2 1366.5 139.2 1366.5 144.2C1366.5 139.2 1368.6 139.2 1368.6 134.3C1368.6 139.2 1370.7 139.2 1370.7 144.2C1370.7 139.2 1372.8 139.2 1372.8 134.3C1372.8 139.2 1374.9 139.2 1374.9 144.2C1374.9 139.2 1377 139.2 1377 134.3C1377 139.2 1379.1 139.2 1379.1 144.2C1379.1 139.2 1381.2 139.2 1381.2 134.3C1381.2 139.2 1383.3 139.2 1383.3 144.2C1383.3 139.2 1385.4 139.2 1385.4 134.3C1385.4 139.2 1387.5 139.2 1387.5 144.2C1387.5 139.2 1389.6 139.2 1389.6 134.3C1389.6 139.2 1391.7 139.2 1391.7 144.2M1293 134.3H1388M1288.8 134.3Q1290.9 133.1 1293 134.3M1290.9 144.2Q1293 145.4 1295.1 144.2M1293 134.3Q1295.1 133.1 1297.2 134.3M1295.1 144.2Q1297.2 145.4 1299.3 144.2M1297.2 134.3Q1299.3 133.1 1301.4 134.3M1299.3 144.2Q1301.4 145.4 1303.5 144.2M1301.4 134.3Q1303.5 133.1 1305.6 134.3M1303.5 144.2Q1305.6 145.4 1307.7 144.2M1305.6 134.3Q1307.7 133.1 1309.8 134.3M1307.7 144.2Q1309.8 145.4 1311.9 144.2M1309.8 134.3Q1311.9 133.1 1314 134.3M1311.9 144.2Q1314 145.4 1316.1 144.2M1314 134.3Q1316.1 133.1 1318.2 134.3M1316.1 144.2Q1318.2 145.4 1320.3 144.2M1318.2 134.3Q1320.3 133.1 1322.4 134.3M1320.3 144.2Q1322.4 145.4 1324.5 144.2M1322.4 134.3Q1324.5 133.1 1326.6 134.3M1324.5 144.2Q1326.6 145.4 1328.7 144.2M1326.6 134.3Q1328.7 133.1 1330.8 134.3M1328.7 144.2Q1330.8 145.4 1332.9 144.2M1330.8 134.3Q1332.9 133.1 1335 134.3M1332.9 144.2Q1335 145.4 1337.1 144.2M1335 134.3Q1337.1 133.1 1339.2 134.3M1337.1 144.2Q1339.2 145.4 1341.3 144.2M1339.2 134.3Q1341.3 133.1 1343.4 134.3M1341.3 144.2Q1343.4 145.4 1345.5 144.2M1343.4 134.3Q1345.5 133.1 1347.6 134.3M1345.5 144.2Q1347.6 145.4 1349.7 144.2M1347.6 134.3Q1349.7 133.1 1351.8 134.3M1349.7 144.2Q1351.8 145.4 1353.9 144.2M1351.8 134.3Q1353.9 133.1 1356 134.3M1353.9 144.2Q1356 145.4 1358.1 144.2M1356 134.3Q1358.1 133.1 1360.2 134.3M1358.1 144.2Q1360.2 145.4 1362.3 144.2M1360.2 134.3Q1362.3 133.1 1364.4 134.3M1362.3 144.2Q1364.4 145.4 1366.5 144.2M1364.4 134.3Q1366.5 133.1 1368.6 134.3M1366.5 144.2Q1368.6 145.4 1370.7 144.2M1368.6 134.3Q1370.7 133.1 1372.8 134.3M1370.7 144.2Q1372.8 145.4 1374.9 144.2M1372.8 134.3Q1374.9 133.1 1377 134.3M1374.9 144.2Q1377 145.4 1379.1 144.2M1377 134.3Q1379.1 133.1 1381.2 134.3M1379.1 144.2Q1381.2 145.4 1383.3 144.2M1381.2 134.3Q1383.3 133.1 1385.4 134.3M1383.3 144.2Q1385.4 145.4 1387.5 144.2M1385.4 134.3Q1387.5 133.1 1389.6 134.3M1387.5 144.2Q1389.6 145.4 1391.7 144.2M1389.6 134.3Q1391.7 133.1 1393.8 134.3M1391.7 144.2Q1393.8 145.4 1395.9 144.2" fill="none" stroke="#333" stroke-width="0.55"/>
<rect x="1455.5" y="134.3" width="81.5" height="9.9" fill="#fff"/>
<clipPath id="cl436"><rect x="1455.5" y="133.3" width="81.5" height="11.9"/></clipPath><path clip-path="url(#cl436)" d="M1451.3 134.3C1451.3 139.2 1453.4 139.2 1453.4 144.2C1453.4 139.2 1455.5 139.2 1455.5 134.3C1455.5 139.2 1457.6 139.2 1457.6 144.2C1457.6 139.2 1459.7 139.2 1459.7 134.3C1459.7 139.2 1461.8 139.2 1461.8 144.2C1461.8 139.2 1463.9 139.2 1463.9 134.3C1463.9 139.2 1466 139.2 1466 144.2C1466 139.2 1468.1 139.2 1468.1 134.3C1468.1 139.2 1470.2 139.2 1470.2 144.2C1470.2 139.2 1472.3 139.2 1472.3 134.3C1472.3 139.2 1474.4 139.2 1474.4 144.2C1474.4 139.2 1476.5 139.2 1476.5 134.3C1476.5 139.2 1478.6 139.2 1478.6 144.2C1478.6 139.2 1480.7 139.2 1480.7 134.3C1480.7 139.2 1482.8 139.2 1482.8 144.2C1482.8 139.2 1484.9 139.2 1484.9 134.3C1484.9 139.2 1487 139.2 1487 144.2C1487 139.2 1489.1 139.2 1489.1 134.3C1489.1 139.2 1491.2 139.2 1491.2 144.2C1491.2 139.2 1493.3 139.2 1493.3 134.3C1493.3 139.2 1495.4 139.2 1495.4 144.2C1495.4 139.2 1497.5 139.2 1497.5 134.3C1497.5 139.2 1499.6 139.2 1499.6 144.2C1499.6 139.2 1501.7 139.2 1501.7 134.3C1501.7 139.2 1503.8 139.2 1503.8 144.2C1503.8 139.2 1505.9 139.2 1505.9 134.3C1505.9 139.2 1508 139.2 1508 144.2C1508 139.2 1510.1 139.2 1510.1 134.3C1510.1 139.2 1512.2 139.2 1512.2 144.2C1512.2 139.2 1514.3 139.2 1514.3 134.3C1514.3 139.2 1516.4 139.2 1516.4 144.2C1516.4 139.2 1518.5 139.2 1518.5 134.3C1518.5 139.2 1520.6 139.2 1520.6 144.2C1520.6 139.2 1522.7 139.2 1522.7 134.3C1522.7 139.2 1524.8 139.2 1524.8 144.2C1524.8 139.2 1526.9 139.2 1526.9 134.3C1526.9 139.2 1529 139.2 1529 144.2C1529 139.2 1531.1 139.2 1531.1 134.3C1531.1 139.2 1533.2 139.2 1533.2 144.2C1533.2 139.2 1535.3 139.2 1535.3 134.3C1535.3 139.2 1537.4 139.2 1537.4 144.2C1537.4 139.2 1539.5 139.2 1539.5 134.3M1455.5 134.3H1537M1451.3 134.3Q1453.4 133.1 1455.5 134.3M1453.4 144.2Q1455.5 145.4 1457.6 144.2M1455.5 134.3Q1457.6 133.1 1459.7 134.3M1457.6 144.2Q1459.7 145.4 1461.8 144.2M1459.7 134.3Q1461.8 133.1 1463.9 134.3M1461.8 144.2Q1463.9 145.4 1466 144.2M1463.9 134.3Q1466 133.1 1468.1 134.3M1466 144.2Q1468.1 145.4 1470.2 144.2M1468.1 134.3Q1470.2 133.1 1472.3 134.3M1470.2 144.2Q1472.3 145.4 1474.4 144.2M1472.3 134.3Q1474.4 133.1 1476.5 134.3M1474.4 144.2Q1476.5 145.4 1478.6 144.2M1476.5 134.3Q1478.6 133.1 1480.7 134.3M1478.6 144.2Q1480.7 145.4 1482.8 144.2M1480.7 134.3Q1482.8 133.1 1484.9 134.3M1482.8 144.2Q1484.9 145.4 1487 144.2M1484.9 134.3Q1487 133.1 1489.1 134.3M1487 144.2Q1489.1 145.4 1491.2 144.2M1489.1 134.3Q1491.2 133.1 1493.3 134.3M1491.2 144.2Q1493.3 145.4 1495.4 144.2M1493.3 134.3Q1495.4 133.1 1497.5 134.3M1495.4 144.2Q1497.5 145.4 1499.6 144.2M1497.5 134.3Q1499.6 133.1 1501.7 134.3M1499.6 144.2Q1501.7 145.4 1503.8 144.2M1501.7 134.3Q1503.8 133.1 1505.9 134.3M1503.8 144.2Q1505.9 145.4 1508 144.2M1505.9 134.3Q1508 133.1 1510.1 134.3M1508 144.2Q1510.1 145.4 1512.2 144.2M1510.1 134.3Q1512.2 133.1 1514.3 134.3M1512.2 144.2Q1514.3 145.4 1516.4 144.2M1514.3 134.3Q1516.4 133.1 1518.5 134.3M1516.4 144.2Q1518.5 145.4 1520.6 144.2M1518.5 134.3Q1520.6 133.1 1522.7 134.3M1520.6 144.2Q1522.7 145.4 1524.8 144.2M1522.7 134.3Q1524.8 133.1 1526.9 134.3M1524.8 144.2Q1526.9 145.4 1529 144.2M1526.9 134.3Q1529 133.1 1531.1 134.3M1529 144.2Q1531.1 145.4 1533.2 144.2M1531.1 134.3Q1533.2 133.1 1535.3 134.3M1533.2 144.2Q1535.3 145.4 1537.4 144.2M1535.3 134.3Q1537.4 133.1 1539.5 134.3M1537.4 144.2Q1539.5 145.4 1541.6 144.2M1539.5 134.3Q1541.6 133.1 1543.7 134.3M1541.6 144.2Q1543.7 145.4 1545.8 144.2" fill="none" stroke="#333" stroke-width="0.55"/>
<path d="M1296.8 144.6H1388M1455.5 144.6H1537" fill="none" stroke="#222" stroke-width="1.1"/>
<rect x="1398.2" y="153.2" width="47.2" height="41.6" rx="4" fill="none" stroke="#000" stroke-width="3"/>
<circle cx="1401.2" cy="156.2" r="2.7" fill="#000"/>
<circle cx="1442.4" cy="156.2" r="2.7" fill="#000"/>
<circle cx="1401.2" cy="191.8" r="2.7" fill="#000"/>
<circle cx="1442.4" cy="191.8" r="2.7" fill="#000"/>
<rect x="1382.5" y="333.5" width="280" height="668" rx="10" fill="#fff" stroke="#666" stroke-width="1"/>
<rect x="1392" y="343.5" width="260" height="122.1" fill="none" stroke="#999" stroke-width="1"/>
<path d="M1392 395.5H1652" stroke="#999" stroke-width="1"/>
<rect x="1392" y="472.6" width="260" height="138.4" fill="none" stroke="#999" stroke-width="1"/>
<rect x="1392" y="618.7" width="260" height="372.6" fill="none" stroke="#999" stroke-width="1"/>
<path d="M1392 704.6H1652" stroke="#777" stroke-width="1"/>
<path d="M1392 791H1652" stroke="#777" stroke-width="1"/>
<path d="M1392 844.2H1652" stroke="#777" stroke-width="1"/>
<path d="M1392 930.6H1652" stroke="#777" stroke-width="1"/>
<path d="M1461.4 930.6V991.3M1556.5 930.6V991.3" stroke="#777" stroke-width="1"/>
<text font-size="16.5" font-weight="bold" text-anchor="middle" transform="translate(1521 376.5) scale(0.85 1)" fill="#000">Reconstruction of Villa Balassa</text>
<text font-size="12" font-weight="bold" text-anchor="start" transform="translate(1396 408) scale(0.86 1)" fill="#000">Address:</text>
<text font-size="12" text-anchor="start" transform="translate(1399 425) scale(0.84 1)" fill="#000">Budapest, Hungary</text>
<text font-size="12" font-weight="bold" text-anchor="start" transform="translate(1396 630) scale(0.86 1)" fill="#000">Client</text>
<text font-size="12" font-weight="bold" text-anchor="start" transform="translate(1396 716.5) scale(0.86 1)" fill="#000">Architect</text>
<text font-size="12" font-weight="bold" text-anchor="start" transform="translate(1396 803) scale(0.86 1)" fill="#000">CAD technician</text>
<text font-size="12" font-weight="bold" text-anchor="start" transform="translate(1396 857) scale(0.86 1)" fill="#000">Drawing name</text>
<text font-size="19" text-anchor="middle" transform="translate(1521 898.5) scale(0.84 1)" fill="#000">A1 Section</text>
<text font-size="12" font-weight="bold" text-anchor="start" transform="translate(1396 943) scale(0.86 1)" fill="#000">Scale</text>
<text font-size="12" font-weight="bold" text-anchor="start" transform="translate(1465 943) scale(0.86 1)" fill="#000">Date of issue</text>
<text font-size="12" font-weight="bold" text-anchor="start" transform="translate(1560 943) scale(0.86 1)" fill="#000">Drawing ID</text>
<text font-size="11.5" text-anchor="start" transform="translate(1396 970) scale(0.84 1)" fill="#000">M 1:20, 1:100</text>
<text font-size="25" font-weight="bold" text-anchor="middle" transform="translate(1600 974) scale(0.83 1)" fill="#000">A-02.1</text>
<path d="M1416.1 555.3L1497.3 609.2L1635.8 551.9L1560.8 525.3M1416.1 555.3L1450.9 546.4M1448.2 498L1450.9 554.6L1465.9 565.5L1463.9 504.8L1448.2 498M1448.2 498L1486.4 491.8L1546.4 495.9L1495.9 509.6L1463.9 504.8M1449.6 500.7L1486.4 494.6L1543.7 498L1495.9 510.9L1464.6 506.8M1476.8 500.7L1478.2 523.2M1495.9 509.6L1496.6 534.1M1547.1 496.6L1547.8 516.4M1487.1 480.2L1510.3 476.8L1533.5 482.3L1505.5 486.4L1487.1 480.2L1489.1 494.6L1505.5 501.4L1527.3 495.2L1528.7 483M1505.5 486.4L1505.5 501.4M1493.2 483.6L1494.6 497.3M1498.7 485L1499.4 499.3M1513.7 485.7L1514.4 499.3M1521.9 484.3L1522.6 497.3M1472.1 522.5L1491.9 531.4L1493.2 564.1L1472.8 549.1L1472.1 522.5M1491.9 531.4L1510.3 524.6M1493.2 564.1L1523.2 554.6M1487.8 515L1489.1 527.3L1510.3 524.6L1509.6 515L1487.8 521.8M1491.9 517.7L1493.2 527.3M1498.7 517.7L1499.4 526.6M1504.1 516.4L1504.8 525.9M1481.6 538.2L1483 551.9L1510.3 546.4L1509.6 536.8L1483 542.3M1490.5 540.9L1491.2 550.5M1497.3 539.6L1498 549.1M1504.1 538.2L1504.8 547.8M1452.3 509.6L1453 519.8L1461.2 522.5L1460.5 512.3L1452.3 509.6M1455.7 550.5L1456.4 558.7L1461.2 560.7L1460.5 551.9M1523.2 512.3L1523.9 521.8L1543.7 517.7L1543 506.8L1523.2 512.3M1528.7 510.9L1529.4 520.5M1537.6 508.9L1538.2 523.2M1521.9 521.8L1522.6 554.6M1560.1 521.8L1558.7 565.5L1550.5 569.6L1539.6 565.5L1531.4 557.3M1522 522.5Q1541 536 1560 522.5M1522 520.5Q1541 508 1560 520.5M1538.9 538.2L1539.6 548.4L1559.4 543.7L1559.4 535.5L1538.9 538.2M1550.5 557.3L1551.2 565.5L1557.3 564.1L1557.3 555.3M1465.9 573.7L1491.9 592.8L1546.4 570.3M1491.9 592.8L1493.9 571L1465.9 565.5M1493.9 571L1530.1 560M1455 577.1L1465.9 573.7L1471.4 564.1M1472.8 549.1L1474.1 557.3L1491.9 565.5" fill="none" stroke="#222" stroke-width="0.6" stroke-linejoin="round"/>
<rect x="251.8" y="15.8" width="1417.6" height="992.6" fill="none" stroke="#2a2a2a" stroke-width="1.6"/></svg>
<div class="btn" style="left:8px;top:7px"><svg width="36" height="36"><circle cx="11" cy="18" r="1.8" fill="#3a3a3a"/><circle cx="18" cy="18" r="1.8" fill="#3a3a3a"/><circle cx="25" cy="18" r="1.8" fill="#3a3a3a"/></svg></div>
<div class="btn" style="left:1876px;top:7px"><svg width="36" height="36"><path d="M11 26L17 20M11 26V21.5M11 26H15.5M26 11L20 17M26 11V15.5M26 11H21.5" fill="none" stroke="#3a3a3a" stroke-width="1.6" stroke-linecap="round"/></svg></div>
<div class="btn" style="left:8px;top:495px"><svg width="36" height="36"><path d="M7.5 18H29.5M17.5 8.5L7.5 18L17.5 27.5" fill="none" stroke="#3a3a3a" stroke-width="1.7" stroke-linecap="round" stroke-linejoin="round"/></svg></div>
<div class="btn" style="left:1876px;top:495px"><svg width="36" height="36"><path d="M6.5 18H28.5M18.5 8.5L28.5 18L18.5 27.5" fill="none" stroke="#3a3a3a" stroke-width="1.7" stroke-linecap="round" stroke-linejoin="round"/></svg></div>
<div class="btn" style="left:1779px;top:982px"><svg width="36" height="36"><g transform="rotate(-45 18 18)"><rect x="5.5" y="14" width="25" height="8" fill="none" stroke="#3a3a3a" stroke-width="1.5"/><path d="M9 14V17M12 14V16.5M15 14V17M18 14V16.5M21 14V17M24 14V16.5" stroke="#3a3a3a" stroke-width="1.3"/></g></svg></div>
<div class="btn" style="left:1825px;top:982px"><svg width="36" height="36"><path d="M7.5 16L14 9.5L23.5 7L28 13V23L17.5 27.5L7.5 23.5Z M14 9.5L17.5 16.5L28 13M17.5 16.5V27.5M7.5 16L14 9.5" fill="none" stroke="#3a3a3a" stroke-width="1.5" stroke-linejoin="round"/></svg></div>
<div class="btn" style="left:1871px;top:982px"><svg width="36" height="36"><path d="M13 24.5H8V8H28V14" fill="none" stroke="#3a3a3a" stroke-width="1.6"/><circle cx="20.5" cy="22" r="4.3" fill="none" stroke="#3a3a3a" stroke-width="1.6"/><path d="M23.6 25.2L27.5 29" stroke="#3a3a3a" stroke-width="1.7" stroke-linecap="round"/></svg></div>
<div id="lbl">A-02.1 A1 Section</div><div id="credit">Offerto da Graphisoft BIMx</div><svg id="cur" width="1920" height="1026" style="pointer-events:none"><path d="M0 1020L6 1026H0Z" fill="#000"/><path d="M1920 1019.5L1913.5 1026H1920Z" fill="#000"/></svg></body></html>
